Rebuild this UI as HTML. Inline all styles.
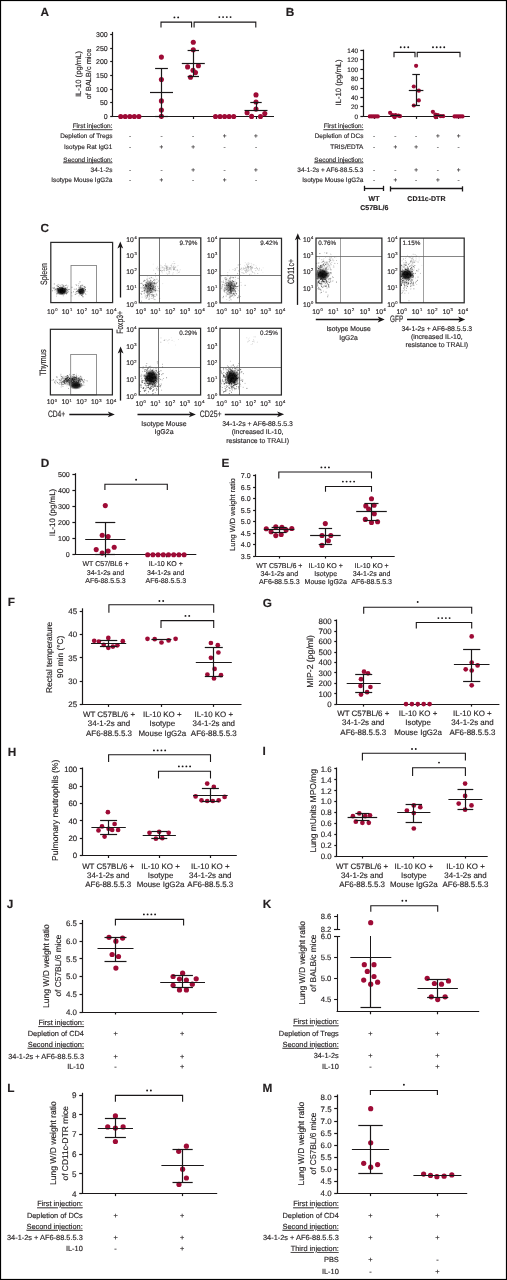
<!DOCTYPE html>
<html><head><meta charset="utf-8"><style>
html,body{margin:0;padding:0;background:#fff;}
body{width:507px;height:1280px;overflow:hidden;}
svg{display:block;font-family:"Liberation Sans", sans-serif;will-change:transform;text-rendering:geometricPrecision;}
svg text{fill:#231f20;stroke:#231f20;stroke-width:0.15px;}
</style></head><body>
<svg width="507" height="1280" viewBox="0 0 507 1280">
<rect x="0" y="0" width="507" height="1280" fill="#fff"/>
<text x="40.60" y="15.60" font-size="11.8" font-weight="bold">A</text>
<line x1="112.50" y1="31.90" x2="112.50" y2="116.50" stroke="#1a1718" stroke-width="1.2"/>
<line x1="110.20" y1="116.50" x2="112.60" y2="116.50" stroke="#1a1718" stroke-width="1.2"/>
<text x="107.70" y="119.01" font-size="7.0" text-anchor="end">0</text>
<line x1="110.20" y1="102.50" x2="112.60" y2="102.50" stroke="#1a1718" stroke-width="1.2"/>
<text x="107.70" y="105.32" font-size="7.0" text-anchor="end">50</text>
<line x1="110.20" y1="89.50" x2="112.60" y2="89.50" stroke="#1a1718" stroke-width="1.2"/>
<text x="107.70" y="91.64" font-size="7.0" text-anchor="end">100</text>
<line x1="110.20" y1="75.50" x2="112.60" y2="75.50" stroke="#1a1718" stroke-width="1.2"/>
<text x="107.70" y="77.96" font-size="7.0" text-anchor="end">150</text>
<line x1="110.20" y1="61.50" x2="112.60" y2="61.50" stroke="#1a1718" stroke-width="1.2"/>
<text x="107.70" y="64.27" font-size="7.0" text-anchor="end">200</text>
<line x1="110.20" y1="48.50" x2="112.60" y2="48.50" stroke="#1a1718" stroke-width="1.2"/>
<text x="107.70" y="50.59" font-size="7.0" text-anchor="end">250</text>
<line x1="110.20" y1="34.50" x2="112.60" y2="34.50" stroke="#1a1718" stroke-width="1.2"/>
<text x="107.70" y="36.91" font-size="7.0" text-anchor="end">300</text>
<line x1="112.10" y1="116.50" x2="274.00" y2="116.50" stroke="#1a1718" stroke-width="1.2"/>
<line x1="130.50" y1="116.50" x2="130.50" y2="119.00" stroke="#1a1718" stroke-width="1.2"/>
<line x1="161.50" y1="116.50" x2="161.50" y2="119.00" stroke="#1a1718" stroke-width="1.2"/>
<line x1="193.50" y1="116.50" x2="193.50" y2="119.00" stroke="#1a1718" stroke-width="1.2"/>
<line x1="224.50" y1="116.50" x2="224.50" y2="119.00" stroke="#1a1718" stroke-width="1.2"/>
<line x1="256.50" y1="116.50" x2="256.50" y2="119.00" stroke="#1a1718" stroke-width="1.2"/>
<text x="0" y="2.76" font-size="7.7" text-anchor="middle" transform="translate(78.70,74.00) rotate(-90)">IL-10 (pg/mL)</text>
<text x="0" y="2.65" font-size="7.4" text-anchor="middle" transform="translate(88.60,74.00) rotate(-90)">of BALB/c mice</text>
<circle cx="120.70" cy="116.50" r="2.55" fill="#9e0b36"/>
<circle cx="125.25" cy="116.50" r="2.55" fill="#9e0b36"/>
<circle cx="129.80" cy="116.50" r="2.55" fill="#9e0b36"/>
<circle cx="134.35" cy="116.50" r="2.55" fill="#9e0b36"/>
<circle cx="138.90" cy="116.50" r="2.55" fill="#9e0b36"/>
<circle cx="161.40" cy="57.10" r="2.55" fill="#9e0b36"/>
<circle cx="161.40" cy="79.60" r="2.55" fill="#9e0b36"/>
<circle cx="161.40" cy="100.90" r="2.55" fill="#9e0b36"/>
<circle cx="161.40" cy="110.00" r="2.55" fill="#9e0b36"/>
<circle cx="161.40" cy="116.20" r="2.55" fill="#9e0b36"/>
<circle cx="193.30" cy="42.20" r="2.55" fill="#9e0b36"/>
<circle cx="193.30" cy="49.70" r="2.55" fill="#9e0b36"/>
<circle cx="187.60" cy="66.90" r="2.55" fill="#9e0b36"/>
<circle cx="198.40" cy="65.70" r="2.55" fill="#9e0b36"/>
<circle cx="193.00" cy="70.20" r="2.55" fill="#9e0b36"/>
<circle cx="195.50" cy="72.60" r="2.55" fill="#9e0b36"/>
<circle cx="190.50" cy="77.20" r="2.55" fill="#9e0b36"/>
<circle cx="215.50" cy="116.50" r="2.55" fill="#9e0b36"/>
<circle cx="220.05" cy="116.50" r="2.55" fill="#9e0b36"/>
<circle cx="224.60" cy="116.50" r="2.55" fill="#9e0b36"/>
<circle cx="229.15" cy="116.50" r="2.55" fill="#9e0b36"/>
<circle cx="233.70" cy="116.50" r="2.55" fill="#9e0b36"/>
<circle cx="256.00" cy="94.90" r="2.55" fill="#9e0b36"/>
<circle cx="256.00" cy="102.00" r="2.55" fill="#9e0b36"/>
<circle cx="256.00" cy="109.10" r="2.55" fill="#9e0b36"/>
<circle cx="247.10" cy="112.80" r="2.55" fill="#9e0b36"/>
<circle cx="264.80" cy="113.60" r="2.55" fill="#9e0b36"/>
<circle cx="251.60" cy="116.40" r="2.55" fill="#9e0b36"/>
<circle cx="260.50" cy="116.50" r="2.55" fill="#9e0b36"/>
<polyline points="161.00,27.50 161.00,22.10 191.60,22.10 191.60,27.50" fill="none" stroke="#1a1718" stroke-width="1.1"/>
<circle cx="174.43" cy="17.40" r="0.95" fill="#1a1718"/>
<circle cx="178.18" cy="17.40" r="0.95" fill="#1a1718"/>
<polyline points="194.10,27.50 194.10,22.10 255.80,22.10 255.80,27.50" fill="none" stroke="#1a1718" stroke-width="1.1"/>
<circle cx="219.32" cy="17.10" r="0.95" fill="#1a1718"/>
<circle cx="223.07" cy="17.10" r="0.95" fill="#1a1718"/>
<circle cx="226.82" cy="17.10" r="0.95" fill="#1a1718"/>
<circle cx="230.57" cy="17.10" r="0.95" fill="#1a1718"/>
<text x="112.40" y="128.41" font-size="6.45" text-anchor="end" text-decoration="underline">First injection:</text>
<text x="112.40" y="138.31" font-size="6.45" text-anchor="end">Depletion of Tregs</text>
<text x="112.40" y="149.01" font-size="6.45" text-anchor="end">Isotype Rat IgG1</text>
<text x="112.40" y="161.51" font-size="6.45" text-anchor="end" text-decoration="underline">Second injection:</text>
<text x="112.40" y="171.51" font-size="6.45" text-anchor="end">34-1-2s</text>
<text x="112.40" y="182.11" font-size="6.45" text-anchor="end">Isotype Mouse IgG2a</text>
<text x="130.00" y="138.31" font-size="6.45" text-anchor="middle">-</text>
<text x="161.50" y="138.31" font-size="6.45" text-anchor="middle">-</text>
<text x="193.20" y="138.31" font-size="6.45" text-anchor="middle">-</text>
<text x="224.60" y="138.31" font-size="6.45" text-anchor="middle">+</text>
<text x="256.00" y="138.31" font-size="6.45" text-anchor="middle">+</text>
<text x="130.00" y="149.01" font-size="6.45" text-anchor="middle">-</text>
<text x="161.50" y="149.01" font-size="6.45" text-anchor="middle">+</text>
<text x="193.20" y="149.01" font-size="6.45" text-anchor="middle">+</text>
<text x="224.60" y="149.01" font-size="6.45" text-anchor="middle">-</text>
<text x="256.00" y="149.01" font-size="6.45" text-anchor="middle">-</text>
<text x="130.00" y="171.51" font-size="6.45" text-anchor="middle">-</text>
<text x="161.50" y="171.51" font-size="6.45" text-anchor="middle">-</text>
<text x="193.20" y="171.51" font-size="6.45" text-anchor="middle">+</text>
<text x="224.60" y="171.51" font-size="6.45" text-anchor="middle">-</text>
<text x="256.00" y="171.51" font-size="6.45" text-anchor="middle">+</text>
<text x="130.00" y="182.11" font-size="6.45" text-anchor="middle">-</text>
<text x="161.50" y="182.11" font-size="6.45" text-anchor="middle">+</text>
<text x="193.20" y="182.11" font-size="6.45" text-anchor="middle">-</text>
<text x="224.60" y="182.11" font-size="6.45" text-anchor="middle">+</text>
<text x="256.00" y="182.11" font-size="6.45" text-anchor="middle">-</text>
<text x="285.80" y="15.60" font-size="11.8" font-weight="bold">B</text>
<line x1="363.50" y1="49.60" x2="363.50" y2="116.40" stroke="#1a1718" stroke-width="1.2"/>
<line x1="360.40" y1="116.50" x2="363.20" y2="116.50" stroke="#1a1718" stroke-width="1.2"/>
<text x="358.00" y="118.69" font-size="6.4" text-anchor="end">0</text>
<line x1="360.40" y1="106.50" x2="363.20" y2="106.50" stroke="#1a1718" stroke-width="1.2"/>
<text x="358.00" y="109.26" font-size="6.4" text-anchor="end">20</text>
<line x1="360.40" y1="97.50" x2="363.20" y2="97.50" stroke="#1a1718" stroke-width="1.2"/>
<text x="358.00" y="99.83" font-size="6.4" text-anchor="end">40</text>
<line x1="360.40" y1="88.50" x2="363.20" y2="88.50" stroke="#1a1718" stroke-width="1.2"/>
<text x="358.00" y="90.41" font-size="6.4" text-anchor="end">60</text>
<line x1="360.40" y1="78.50" x2="363.20" y2="78.50" stroke="#1a1718" stroke-width="1.2"/>
<text x="358.00" y="80.98" font-size="6.4" text-anchor="end">80</text>
<line x1="360.40" y1="69.50" x2="363.20" y2="69.50" stroke="#1a1718" stroke-width="1.2"/>
<text x="358.00" y="71.55" font-size="6.4" text-anchor="end">100</text>
<line x1="360.40" y1="59.50" x2="363.20" y2="59.50" stroke="#1a1718" stroke-width="1.2"/>
<text x="358.00" y="62.12" font-size="6.4" text-anchor="end">120</text>
<line x1="360.40" y1="50.50" x2="363.20" y2="50.50" stroke="#1a1718" stroke-width="1.2"/>
<text x="358.00" y="52.69" font-size="6.4" text-anchor="end">140</text>
<line x1="362.70" y1="116.50" x2="469.90" y2="116.50" stroke="#1a1718" stroke-width="1.2"/>
<line x1="374.50" y1="116.40" x2="374.50" y2="118.90" stroke="#1a1718" stroke-width="1.2"/>
<line x1="395.50" y1="116.40" x2="395.50" y2="118.90" stroke="#1a1718" stroke-width="1.2"/>
<line x1="416.50" y1="116.40" x2="416.50" y2="118.90" stroke="#1a1718" stroke-width="1.2"/>
<line x1="437.50" y1="116.40" x2="437.50" y2="118.90" stroke="#1a1718" stroke-width="1.2"/>
<line x1="458.50" y1="116.40" x2="458.50" y2="118.90" stroke="#1a1718" stroke-width="1.2"/>
<text x="0" y="2.76" font-size="7.7" text-anchor="middle" transform="translate(338.70,82.40) rotate(-90)">IL-10 (pg/mL)</text>
<circle cx="369.80" cy="116.40" r="2.1" fill="#9e0b36"/>
<circle cx="371.80" cy="116.40" r="2.1" fill="#9e0b36"/>
<circle cx="373.80" cy="116.40" r="2.1" fill="#9e0b36"/>
<circle cx="375.80" cy="116.40" r="2.1" fill="#9e0b36"/>
<circle cx="377.80" cy="116.40" r="2.1" fill="#9e0b36"/>
<circle cx="390.10" cy="112.80" r="2.1" fill="#9e0b36"/>
<circle cx="392.60" cy="115.20" r="2.1" fill="#9e0b36"/>
<circle cx="395.50" cy="115.20" r="2.1" fill="#9e0b36"/>
<circle cx="398.50" cy="115.70" r="2.1" fill="#9e0b36"/>
<circle cx="394.50" cy="117.20" r="2.1" fill="#9e0b36"/>
<circle cx="400.00" cy="116.20" r="2.1" fill="#9e0b36"/>
<circle cx="416.10" cy="65.80" r="2.1" fill="#9e0b36"/>
<circle cx="413.80" cy="86.50" r="2.1" fill="#9e0b36"/>
<circle cx="418.80" cy="90.70" r="2.1" fill="#9e0b36"/>
<circle cx="418.80" cy="100.40" r="2.1" fill="#9e0b36"/>
<circle cx="413.80" cy="105.50" r="2.1" fill="#9e0b36"/>
<circle cx="432.90" cy="111.80" r="2.1" fill="#9e0b36"/>
<circle cx="435.40" cy="114.70" r="2.1" fill="#9e0b36"/>
<circle cx="437.80" cy="115.20" r="2.1" fill="#9e0b36"/>
<circle cx="440.80" cy="116.20" r="2.1" fill="#9e0b36"/>
<circle cx="443.20" cy="116.20" r="2.1" fill="#9e0b36"/>
<circle cx="435.80" cy="117.20" r="2.1" fill="#9e0b36"/>
<circle cx="454.50" cy="116.40" r="2.1" fill="#9e0b36"/>
<circle cx="456.50" cy="116.40" r="2.1" fill="#9e0b36"/>
<circle cx="458.50" cy="116.40" r="2.1" fill="#9e0b36"/>
<circle cx="460.50" cy="116.40" r="2.1" fill="#9e0b36"/>
<circle cx="462.50" cy="116.40" r="2.1" fill="#9e0b36"/>
<polyline points="394.00,57.20 394.00,52.40 415.00,52.40 415.00,57.20" fill="none" stroke="#1a1718" stroke-width="1.1"/>
<circle cx="400.75" cy="47.30" r="0.95" fill="#1a1718"/>
<circle cx="404.50" cy="47.30" r="0.95" fill="#1a1718"/>
<circle cx="408.25" cy="47.30" r="0.95" fill="#1a1718"/>
<polyline points="417.20,57.20 417.20,52.40 460.00,52.40 460.00,57.20" fill="none" stroke="#1a1718" stroke-width="1.1"/>
<circle cx="432.98" cy="47.30" r="0.95" fill="#1a1718"/>
<circle cx="436.73" cy="47.30" r="0.95" fill="#1a1718"/>
<circle cx="440.48" cy="47.30" r="0.95" fill="#1a1718"/>
<circle cx="444.23" cy="47.30" r="0.95" fill="#1a1718"/>
<text x="363.40" y="128.41" font-size="6.45" text-anchor="end" text-decoration="underline">First injection:</text>
<text x="363.40" y="138.31" font-size="6.45" text-anchor="end">Depletion of DCs</text>
<text x="363.40" y="149.01" font-size="6.45" text-anchor="end">TRIS/EDTA</text>
<text x="363.40" y="161.51" font-size="6.45" text-anchor="end" text-decoration="underline">Second injection:</text>
<text x="363.40" y="171.51" font-size="6.45" text-anchor="end">34-1-2s + AF6-88.5.5.3</text>
<text x="363.40" y="182.11" font-size="6.45" text-anchor="end">Isotype Mouse IgG2a</text>
<text x="374.00" y="138.31" font-size="6.45" text-anchor="middle">-</text>
<text x="395.30" y="138.31" font-size="6.45" text-anchor="middle">-</text>
<text x="416.10" y="138.31" font-size="6.45" text-anchor="middle">-</text>
<text x="437.80" y="138.31" font-size="6.45" text-anchor="middle">+</text>
<text x="458.70" y="138.31" font-size="6.45" text-anchor="middle">+</text>
<text x="374.00" y="149.01" font-size="6.45" text-anchor="middle">-</text>
<text x="395.30" y="149.01" font-size="6.45" text-anchor="middle">+</text>
<text x="416.10" y="149.01" font-size="6.45" text-anchor="middle">+</text>
<text x="437.80" y="149.01" font-size="6.45" text-anchor="middle">-</text>
<text x="458.70" y="149.01" font-size="6.45" text-anchor="middle">-</text>
<text x="374.00" y="171.51" font-size="6.45" text-anchor="middle">-</text>
<text x="395.30" y="171.51" font-size="6.45" text-anchor="middle">-</text>
<text x="416.10" y="171.51" font-size="6.45" text-anchor="middle">+</text>
<text x="437.80" y="171.51" font-size="6.45" text-anchor="middle">-</text>
<text x="458.70" y="171.51" font-size="6.45" text-anchor="middle">+</text>
<text x="374.00" y="182.11" font-size="6.45" text-anchor="middle">-</text>
<text x="395.30" y="182.11" font-size="6.45" text-anchor="middle">+</text>
<text x="416.10" y="182.11" font-size="6.45" text-anchor="middle">-</text>
<text x="437.80" y="182.11" font-size="6.45" text-anchor="middle">+</text>
<text x="458.70" y="182.11" font-size="6.45" text-anchor="middle">-</text>
<line x1="364.40" y1="188.50" x2="383.30" y2="188.50" stroke="#1a1718" stroke-width="1.3"/>
<line x1="364.50" y1="185.80" x2="364.50" y2="191.00" stroke="#1a1718" stroke-width="1.3"/>
<line x1="383.50" y1="185.80" x2="383.50" y2="191.00" stroke="#1a1718" stroke-width="1.3"/>
<line x1="390.60" y1="188.50" x2="462.20" y2="188.50" stroke="#1a1718" stroke-width="1.3"/>
<line x1="390.50" y1="186.30" x2="390.50" y2="191.50" stroke="#1a1718" stroke-width="1.3"/>
<line x1="462.50" y1="186.30" x2="462.50" y2="191.50" stroke="#1a1718" stroke-width="1.3"/>
<text x="374.00" y="201.31" font-size="7.0" text-anchor="middle" font-weight="bold">WT</text>
<text x="374.30" y="209.71" font-size="7.0" text-anchor="middle" font-weight="bold">C57BL/6</text>
<text x="426.40" y="201.11" font-size="7.0" text-anchor="middle" font-weight="bold">CD11c-DTR</text>
<text x="40.60" y="232.30" font-size="11.8" font-weight="bold">C</text>
<defs><radialGradient id="g184"><stop offset="0" stop-color="#000" stop-opacity="0.97"/><stop offset="0.55" stop-color="#000" stop-opacity="0.8245"/><stop offset="1" stop-color="#000" stop-opacity="0"/></radialGradient></defs>
<ellipse cx="61.80" cy="291.00" rx="6.20" ry="4.60" fill="url(#g184)"/>
<defs><radialGradient id="g186"><stop offset="0" stop-color="#000" stop-opacity="0.9"/><stop offset="0.55" stop-color="#000" stop-opacity="0.765"/><stop offset="1" stop-color="#000" stop-opacity="0"/></radialGradient></defs>
<ellipse cx="81.40" cy="291.30" rx="4.30" ry="4.20" fill="url(#g186)"/>
<rect x="60.08" y="290.78" width="0.9" height="0.9" fill="#000" fill-opacity="0.46"/><rect x="65.28" y="290.86" width="0.9" height="0.9" fill="#000" fill-opacity="0.35"/><rect x="65.28" y="290.57" width="0.9" height="0.9" fill="#000" fill-opacity="0.21"/><rect x="59.73" y="289.92" width="0.9" height="0.9" fill="#000" fill-opacity="0.24"/><rect x="54.72" y="291.60" width="0.9" height="0.9" fill="#000" fill-opacity="0.25"/><rect x="61.94" y="292.87" width="0.9" height="0.9" fill="#000" fill-opacity="0.58"/><rect x="57.67" y="288.43" width="0.9" height="0.9" fill="#000" fill-opacity="0.59"/><rect x="68.24" y="290.92" width="0.9" height="0.9" fill="#000" fill-opacity="0.32"/><rect x="62.22" y="290.50" width="0.9" height="0.9" fill="#000" fill-opacity="0.32"/><rect x="62.02" y="288.16" width="0.9" height="0.9" fill="#000" fill-opacity="0.43"/><rect x="58.69" y="287.78" width="0.9" height="0.9" fill="#000" fill-opacity="0.42"/><rect x="62.28" y="289.87" width="0.9" height="0.9" fill="#000" fill-opacity="0.28"/><rect x="59.35" y="287.25" width="0.9" height="0.9" fill="#000" fill-opacity="0.33"/><rect x="57.46" y="288.20" width="0.9" height="0.9" fill="#000" fill-opacity="0.32"/><rect x="62.67" y="285.97" width="0.9" height="0.9" fill="#000" fill-opacity="0.30"/><rect x="56.91" y="288.23" width="0.9" height="0.9" fill="#000" fill-opacity="0.55"/><rect x="60.65" y="287.59" width="0.9" height="0.9" fill="#000" fill-opacity="0.59"/><rect x="63.97" y="291.24" width="0.9" height="0.9" fill="#000" fill-opacity="0.50"/><rect x="63.59" y="291.82" width="0.9" height="0.9" fill="#000" fill-opacity="0.22"/><rect x="57.87" y="286.00" width="0.9" height="0.9" fill="#000" fill-opacity="0.43"/><rect x="63.39" y="288.08" width="0.9" height="0.9" fill="#000" fill-opacity="0.48"/><rect x="56.90" y="287.78" width="0.9" height="0.9" fill="#000" fill-opacity="0.38"/><rect x="65.95" y="284.67" width="0.9" height="0.9" fill="#000" fill-opacity="0.39"/><rect x="60.36" y="288.82" width="0.9" height="0.9" fill="#000" fill-opacity="0.48"/><rect x="53.83" y="283.51" width="0.9" height="0.9" fill="#000" fill-opacity="0.53"/><rect x="60.24" y="291.86" width="0.9" height="0.9" fill="#000" fill-opacity="0.47"/><rect x="65.24" y="289.93" width="0.9" height="0.9" fill="#000" fill-opacity="0.27"/><rect x="62.03" y="290.11" width="0.9" height="0.9" fill="#000" fill-opacity="0.51"/><rect x="63.02" y="290.86" width="0.9" height="0.9" fill="#000" fill-opacity="0.36"/><rect x="62.13" y="288.84" width="0.9" height="0.9" fill="#000" fill-opacity="0.38"/><rect x="53.55" y="288.03" width="0.9" height="0.9" fill="#000" fill-opacity="0.53"/><rect x="63.07" y="288.09" width="0.9" height="0.9" fill="#000" fill-opacity="0.37"/><rect x="56.07" y="293.41" width="0.9" height="0.9" fill="#000" fill-opacity="0.58"/><rect x="62.43" y="290.76" width="0.9" height="0.9" fill="#000" fill-opacity="0.29"/><rect x="61.51" y="292.30" width="0.9" height="0.9" fill="#000" fill-opacity="0.44"/><rect x="61.02" y="289.77" width="0.9" height="0.9" fill="#000" fill-opacity="0.37"/><rect x="57.70" y="291.82" width="0.9" height="0.9" fill="#000" fill-opacity="0.58"/><rect x="59.38" y="286.86" width="0.9" height="0.9" fill="#000" fill-opacity="0.45"/><rect x="60.48" y="288.83" width="0.9" height="0.9" fill="#000" fill-opacity="0.56"/><rect x="62.50" y="284.75" width="0.9" height="0.9" fill="#000" fill-opacity="0.52"/><rect x="58.06" y="291.07" width="0.9" height="0.9" fill="#000" fill-opacity="0.24"/><rect x="60.14" y="288.91" width="0.9" height="0.9" fill="#000" fill-opacity="0.23"/><rect x="61.63" y="290.93" width="0.9" height="0.9" fill="#000" fill-opacity="0.34"/><rect x="61.13" y="289.57" width="0.9" height="0.9" fill="#000" fill-opacity="0.26"/><rect x="63.95" y="290.91" width="0.9" height="0.9" fill="#000" fill-opacity="0.21"/><rect x="64.74" y="287.20" width="0.9" height="0.9" fill="#000" fill-opacity="0.26"/><rect x="61.00" y="291.77" width="0.9" height="0.9" fill="#000" fill-opacity="0.35"/><rect x="66.34" y="292.80" width="0.9" height="0.9" fill="#000" fill-opacity="0.60"/><rect x="56.78" y="290.14" width="0.9" height="0.9" fill="#000" fill-opacity="0.23"/><rect x="63.84" y="290.87" width="0.9" height="0.9" fill="#000" fill-opacity="0.31"/><rect x="62.12" y="288.30" width="0.9" height="0.9" fill="#000" fill-opacity="0.21"/><rect x="65.49" y="288.66" width="0.9" height="0.9" fill="#000" fill-opacity="0.26"/><rect x="60.19" y="289.40" width="0.9" height="0.9" fill="#000" fill-opacity="0.41"/><rect x="68.56" y="288.91" width="0.9" height="0.9" fill="#000" fill-opacity="0.48"/><rect x="60.80" y="291.84" width="0.9" height="0.9" fill="#000" fill-opacity="0.27"/><rect x="61.69" y="286.62" width="0.9" height="0.9" fill="#000" fill-opacity="0.51"/><rect x="59.75" y="291.05" width="0.9" height="0.9" fill="#000" fill-opacity="0.52"/><rect x="68.45" y="289.11" width="0.9" height="0.9" fill="#000" fill-opacity="0.52"/><rect x="63.65" y="285.97" width="0.9" height="0.9" fill="#000" fill-opacity="0.29"/><rect x="57.51" y="289.30" width="0.9" height="0.9" fill="#000" fill-opacity="0.21"/><rect x="64.08" y="289.89" width="0.9" height="0.9" fill="#000" fill-opacity="0.30"/><rect x="57.69" y="283.93" width="0.9" height="0.9" fill="#000" fill-opacity="0.38"/><rect x="71.48" y="286.80" width="0.9" height="0.9" fill="#000" fill-opacity="0.58"/><rect x="59.28" y="290.82" width="0.9" height="0.9" fill="#000" fill-opacity="0.29"/><rect x="61.89" y="291.08" width="0.9" height="0.9" fill="#000" fill-opacity="0.45"/><rect x="66.95" y="286.85" width="0.9" height="0.9" fill="#000" fill-opacity="0.39"/><rect x="57.15" y="286.02" width="0.9" height="0.9" fill="#000" fill-opacity="0.23"/><rect x="56.61" y="285.10" width="0.9" height="0.9" fill="#000" fill-opacity="0.51"/><rect x="61.05" y="286.81" width="0.9" height="0.9" fill="#000" fill-opacity="0.27"/><rect x="61.88" y="287.46" width="0.9" height="0.9" fill="#000" fill-opacity="0.52"/><rect x="64.80" y="289.12" width="0.9" height="0.9" fill="#000" fill-opacity="0.36"/><rect x="66.82" y="288.29" width="0.9" height="0.9" fill="#000" fill-opacity="0.27"/><rect x="62.57" y="290.53" width="0.9" height="0.9" fill="#000" fill-opacity="0.56"/><rect x="61.79" y="288.28" width="0.9" height="0.9" fill="#000" fill-opacity="0.53"/><rect x="66.57" y="289.12" width="0.9" height="0.9" fill="#000" fill-opacity="0.34"/><rect x="59.13" y="289.17" width="0.9" height="0.9" fill="#000" fill-opacity="0.21"/><rect x="66.46" y="288.92" width="0.9" height="0.9" fill="#000" fill-opacity="0.41"/><rect x="64.76" y="288.51" width="0.9" height="0.9" fill="#000" fill-opacity="0.55"/><rect x="62.25" y="288.08" width="0.9" height="0.9" fill="#000" fill-opacity="0.30"/><rect x="60.30" y="291.27" width="0.9" height="0.9" fill="#000" fill-opacity="0.43"/><rect x="60.82" y="292.05" width="0.9" height="0.9" fill="#000" fill-opacity="0.25"/><rect x="64.05" y="288.35" width="0.9" height="0.9" fill="#000" fill-opacity="0.38"/><rect x="53.92" y="286.95" width="0.9" height="0.9" fill="#000" fill-opacity="0.37"/><rect x="64.95" y="288.15" width="0.9" height="0.9" fill="#000" fill-opacity="0.41"/><rect x="60.32" y="289.48" width="0.9" height="0.9" fill="#000" fill-opacity="0.38"/><rect x="61.19" y="289.74" width="0.9" height="0.9" fill="#000" fill-opacity="0.52"/><rect x="63.07" y="291.95" width="0.9" height="0.9" fill="#000" fill-opacity="0.49"/><rect x="57.88" y="288.81" width="0.9" height="0.9" fill="#000" fill-opacity="0.41"/><rect x="54.79" y="288.12" width="0.9" height="0.9" fill="#000" fill-opacity="0.24"/><rect x="58.38" y="288.88" width="0.9" height="0.9" fill="#000" fill-opacity="0.31"/><rect x="61.68" y="286.72" width="0.9" height="0.9" fill="#000" fill-opacity="0.42"/><rect x="61.58" y="284.26" width="0.9" height="0.9" fill="#000" fill-opacity="0.38"/><rect x="57.62" y="287.70" width="0.9" height="0.9" fill="#000" fill-opacity="0.40"/><rect x="59.58" y="287.08" width="0.9" height="0.9" fill="#000" fill-opacity="0.41"/><rect x="52.08" y="290.34" width="0.9" height="0.9" fill="#000" fill-opacity="0.48"/><rect x="67.53" y="285.54" width="0.9" height="0.9" fill="#000" fill-opacity="0.30"/><rect x="52.58" y="287.45" width="0.9" height="0.9" fill="#000" fill-opacity="0.54"/><rect x="62.31" y="290.48" width="0.9" height="0.9" fill="#000" fill-opacity="0.38"/><rect x="63.58" y="290.33" width="0.9" height="0.9" fill="#000" fill-opacity="0.23"/><rect x="57.83" y="285.88" width="0.9" height="0.9" fill="#000" fill-opacity="0.56"/><rect x="64.46" y="292.69" width="0.9" height="0.9" fill="#000" fill-opacity="0.46"/><rect x="65.95" y="293.44" width="0.9" height="0.9" fill="#000" fill-opacity="0.59"/><rect x="62.83" y="295.37" width="0.9" height="0.9" fill="#000" fill-opacity="0.36"/><rect x="62.17" y="288.31" width="0.9" height="0.9" fill="#000" fill-opacity="0.37"/><rect x="57.61" y="289.34" width="0.9" height="0.9" fill="#000" fill-opacity="0.28"/><rect x="58.51" y="293.04" width="0.9" height="0.9" fill="#000" fill-opacity="0.21"/><rect x="57.19" y="288.69" width="0.9" height="0.9" fill="#000" fill-opacity="0.21"/><rect x="58.45" y="292.48" width="0.9" height="0.9" fill="#000" fill-opacity="0.40"/><rect x="71.18" y="292.29" width="0.9" height="0.9" fill="#000" fill-opacity="0.52"/><rect x="62.81" y="289.35" width="0.9" height="0.9" fill="#000" fill-opacity="0.31"/><rect x="67.45" y="290.58" width="0.9" height="0.9" fill="#000" fill-opacity="0.31"/><rect x="63.78" y="291.38" width="0.9" height="0.9" fill="#000" fill-opacity="0.56"/><rect x="62.28" y="287.87" width="0.9" height="0.9" fill="#000" fill-opacity="0.26"/><rect x="65.37" y="288.03" width="0.9" height="0.9" fill="#000" fill-opacity="0.48"/><rect x="62.16" y="289.99" width="0.9" height="0.9" fill="#000" fill-opacity="0.48"/><rect x="59.74" y="289.97" width="0.9" height="0.9" fill="#000" fill-opacity="0.58"/><rect x="56.51" y="286.32" width="0.9" height="0.9" fill="#000" fill-opacity="0.23"/><rect x="61.92" y="288.85" width="0.9" height="0.9" fill="#000" fill-opacity="0.55"/><rect x="57.74" y="290.18" width="0.9" height="0.9" fill="#000" fill-opacity="0.42"/><rect x="63.74" y="288.71" width="0.9" height="0.9" fill="#000" fill-opacity="0.25"/><rect x="58.29" y="289.25" width="0.9" height="0.9" fill="#000" fill-opacity="0.24"/><rect x="61.70" y="290.21" width="0.9" height="0.9" fill="#000" fill-opacity="0.28"/><rect x="59.82" y="291.44" width="0.9" height="0.9" fill="#000" fill-opacity="0.50"/><rect x="59.94" y="292.29" width="0.9" height="0.9" fill="#000" fill-opacity="0.27"/><rect x="60.63" y="289.93" width="0.9" height="0.9" fill="#000" fill-opacity="0.30"/><rect x="67.20" y="289.93" width="0.9" height="0.9" fill="#000" fill-opacity="0.42"/><rect x="62.65" y="292.08" width="0.9" height="0.9" fill="#000" fill-opacity="0.57"/><rect x="66.57" y="292.30" width="0.9" height="0.9" fill="#000" fill-opacity="0.37"/><rect x="53.84" y="289.69" width="0.9" height="0.9" fill="#000" fill-opacity="0.36"/><rect x="55.26" y="289.40" width="0.9" height="0.9" fill="#000" fill-opacity="0.59"/><rect x="57.10" y="293.34" width="0.9" height="0.9" fill="#000" fill-opacity="0.48"/><rect x="58.51" y="287.71" width="0.9" height="0.9" fill="#000" fill-opacity="0.34"/><rect x="62.94" y="289.97" width="0.9" height="0.9" fill="#000" fill-opacity="0.23"/><rect x="60.88" y="287.71" width="0.9" height="0.9" fill="#000" fill-opacity="0.27"/><rect x="67.34" y="291.88" width="0.9" height="0.9" fill="#000" fill-opacity="0.55"/><rect x="59.57" y="287.84" width="0.9" height="0.9" fill="#000" fill-opacity="0.30"/><rect x="59.92" y="292.12" width="0.9" height="0.9" fill="#000" fill-opacity="0.26"/><rect x="58.25" y="290.18" width="0.9" height="0.9" fill="#000" fill-opacity="0.58"/><rect x="65.76" y="289.03" width="0.9" height="0.9" fill="#000" fill-opacity="0.30"/><rect x="64.24" y="289.11" width="0.9" height="0.9" fill="#000" fill-opacity="0.34"/><rect x="64.78" y="289.57" width="0.9" height="0.9" fill="#000" fill-opacity="0.39"/><rect x="58.50" y="289.52" width="0.9" height="0.9" fill="#000" fill-opacity="0.40"/><rect x="64.02" y="289.61" width="0.9" height="0.9" fill="#000" fill-opacity="0.24"/><rect x="60.16" y="289.96" width="0.9" height="0.9" fill="#000" fill-opacity="0.21"/><rect x="60.13" y="291.20" width="0.9" height="0.9" fill="#000" fill-opacity="0.43"/><rect x="54.82" y="288.82" width="0.9" height="0.9" fill="#000" fill-opacity="0.46"/><rect x="59.39" y="284.73" width="0.9" height="0.9" fill="#000" fill-opacity="0.36"/><rect x="55.99" y="295.71" width="0.9" height="0.9" fill="#000" fill-opacity="0.26"/><rect x="60.17" y="286.15" width="0.9" height="0.9" fill="#000" fill-opacity="0.22"/><rect x="65.14" y="285.20" width="0.9" height="0.9" fill="#000" fill-opacity="0.45"/><rect x="60.35" y="285.18" width="0.9" height="0.9" fill="#000" fill-opacity="0.26"/><rect x="56.60" y="289.13" width="0.9" height="0.9" fill="#000" fill-opacity="0.53"/><rect x="63.45" y="285.32" width="0.9" height="0.9" fill="#000" fill-opacity="0.43"/><rect x="65.55" y="287.28" width="0.9" height="0.9" fill="#000" fill-opacity="0.48"/><rect x="61.17" y="290.15" width="0.9" height="0.9" fill="#000" fill-opacity="0.25"/><rect x="59.90" y="290.42" width="0.9" height="0.9" fill="#000" fill-opacity="0.53"/><rect x="56.06" y="288.34" width="0.9" height="0.9" fill="#000" fill-opacity="0.45"/><rect x="59.19" y="287.03" width="0.9" height="0.9" fill="#000" fill-opacity="0.20"/><rect x="62.91" y="285.74" width="0.9" height="0.9" fill="#000" fill-opacity="0.40"/>
<rect x="75.75" y="288.15" width="0.9" height="0.9" fill="#000" fill-opacity="0.17"/><rect x="79.86" y="286.92" width="0.9" height="0.9" fill="#000" fill-opacity="0.18"/><rect x="79.58" y="293.56" width="0.9" height="0.9" fill="#000" fill-opacity="0.22"/><rect x="79.53" y="281.43" width="0.9" height="0.9" fill="#000" fill-opacity="0.32"/><rect x="77.52" y="291.20" width="0.9" height="0.9" fill="#000" fill-opacity="0.39"/><rect x="80.49" y="285.19" width="0.9" height="0.9" fill="#000" fill-opacity="0.37"/><rect x="81.55" y="289.79" width="0.9" height="0.9" fill="#000" fill-opacity="0.24"/><rect x="79.94" y="286.67" width="0.9" height="0.9" fill="#000" fill-opacity="0.35"/><rect x="81.11" y="289.13" width="0.9" height="0.9" fill="#000" fill-opacity="0.24"/><rect x="77.88" y="285.26" width="0.9" height="0.9" fill="#000" fill-opacity="0.39"/><rect x="79.13" y="292.32" width="0.9" height="0.9" fill="#000" fill-opacity="0.31"/><rect x="78.58" y="289.35" width="0.9" height="0.9" fill="#000" fill-opacity="0.46"/><rect x="82.65" y="296.40" width="0.9" height="0.9" fill="#000" fill-opacity="0.48"/><rect x="83.36" y="289.39" width="0.9" height="0.9" fill="#000" fill-opacity="0.44"/><rect x="83.26" y="288.44" width="0.9" height="0.9" fill="#000" fill-opacity="0.24"/><rect x="81.86" y="295.59" width="0.9" height="0.9" fill="#000" fill-opacity="0.22"/><rect x="78.60" y="288.29" width="0.9" height="0.9" fill="#000" fill-opacity="0.33"/><rect x="81.58" y="288.61" width="0.9" height="0.9" fill="#000" fill-opacity="0.44"/><rect x="73.80" y="288.73" width="0.9" height="0.9" fill="#000" fill-opacity="0.40"/><rect x="80.80" y="294.99" width="0.9" height="0.9" fill="#000" fill-opacity="0.32"/><rect x="80.30" y="289.09" width="0.9" height="0.9" fill="#000" fill-opacity="0.32"/><rect x="77.63" y="289.77" width="0.9" height="0.9" fill="#000" fill-opacity="0.20"/><rect x="78.59" y="291.08" width="0.9" height="0.9" fill="#000" fill-opacity="0.44"/><rect x="85.05" y="289.10" width="0.9" height="0.9" fill="#000" fill-opacity="0.44"/><rect x="85.04" y="293.43" width="0.9" height="0.9" fill="#000" fill-opacity="0.40"/><rect x="82.07" y="287.71" width="0.9" height="0.9" fill="#000" fill-opacity="0.28"/><rect x="71.45" y="295.45" width="0.9" height="0.9" fill="#000" fill-opacity="0.36"/><rect x="78.02" y="291.32" width="0.9" height="0.9" fill="#000" fill-opacity="0.25"/><rect x="81.38" y="289.44" width="0.9" height="0.9" fill="#000" fill-opacity="0.44"/><rect x="78.49" y="295.44" width="0.9" height="0.9" fill="#000" fill-opacity="0.24"/><rect x="79.70" y="292.38" width="0.9" height="0.9" fill="#000" fill-opacity="0.22"/><rect x="74.80" y="294.05" width="0.9" height="0.9" fill="#000" fill-opacity="0.46"/><rect x="81.66" y="285.39" width="0.9" height="0.9" fill="#000" fill-opacity="0.47"/><rect x="83.58" y="287.76" width="0.9" height="0.9" fill="#000" fill-opacity="0.40"/><rect x="84.69" y="290.44" width="0.9" height="0.9" fill="#000" fill-opacity="0.31"/><rect x="80.12" y="285.02" width="0.9" height="0.9" fill="#000" fill-opacity="0.25"/><rect x="86.59" y="290.99" width="0.9" height="0.9" fill="#000" fill-opacity="0.19"/><rect x="77.34" y="289.50" width="0.9" height="0.9" fill="#000" fill-opacity="0.25"/><rect x="79.48" y="281.41" width="0.9" height="0.9" fill="#000" fill-opacity="0.24"/><rect x="78.64" y="287.08" width="0.9" height="0.9" fill="#000" fill-opacity="0.35"/><rect x="78.62" y="290.09" width="0.9" height="0.9" fill="#000" fill-opacity="0.21"/><rect x="81.76" y="294.93" width="0.9" height="0.9" fill="#000" fill-opacity="0.32"/><rect x="81.27" y="295.03" width="0.9" height="0.9" fill="#000" fill-opacity="0.50"/><rect x="78.49" y="289.52" width="0.9" height="0.9" fill="#000" fill-opacity="0.22"/><rect x="82.36" y="290.43" width="0.9" height="0.9" fill="#000" fill-opacity="0.18"/><rect x="80.21" y="291.21" width="0.9" height="0.9" fill="#000" fill-opacity="0.35"/><rect x="83.84" y="286.02" width="0.9" height="0.9" fill="#000" fill-opacity="0.29"/><rect x="76.92" y="290.81" width="0.9" height="0.9" fill="#000" fill-opacity="0.28"/><rect x="79.48" y="289.90" width="0.9" height="0.9" fill="#000" fill-opacity="0.25"/><rect x="81.57" y="288.76" width="0.9" height="0.9" fill="#000" fill-opacity="0.33"/><rect x="75.95" y="284.99" width="0.9" height="0.9" fill="#000" fill-opacity="0.23"/><rect x="79.75" y="291.15" width="0.9" height="0.9" fill="#000" fill-opacity="0.29"/><rect x="73.03" y="291.37" width="0.9" height="0.9" fill="#000" fill-opacity="0.45"/><rect x="80.49" y="288.63" width="0.9" height="0.9" fill="#000" fill-opacity="0.16"/><rect x="78.44" y="283.29" width="0.9" height="0.9" fill="#000" fill-opacity="0.32"/><rect x="80.00" y="289.02" width="0.9" height="0.9" fill="#000" fill-opacity="0.29"/><rect x="85.07" y="286.73" width="0.9" height="0.9" fill="#000" fill-opacity="0.45"/><rect x="82.28" y="288.68" width="0.9" height="0.9" fill="#000" fill-opacity="0.19"/><rect x="82.11" y="291.86" width="0.9" height="0.9" fill="#000" fill-opacity="0.39"/><rect x="84.53" y="287.44" width="0.9" height="0.9" fill="#000" fill-opacity="0.38"/><rect x="80.36" y="285.97" width="0.9" height="0.9" fill="#000" fill-opacity="0.34"/><rect x="85.13" y="290.25" width="0.9" height="0.9" fill="#000" fill-opacity="0.23"/><rect x="83.84" y="287.11" width="0.9" height="0.9" fill="#000" fill-opacity="0.26"/><rect x="81.64" y="290.59" width="0.9" height="0.9" fill="#000" fill-opacity="0.37"/><rect x="79.59" y="287.76" width="0.9" height="0.9" fill="#000" fill-opacity="0.17"/><rect x="76.13" y="288.48" width="0.9" height="0.9" fill="#000" fill-opacity="0.29"/><rect x="80.72" y="292.79" width="0.9" height="0.9" fill="#000" fill-opacity="0.15"/><rect x="78.99" y="292.00" width="0.9" height="0.9" fill="#000" fill-opacity="0.49"/><rect x="76.22" y="284.47" width="0.9" height="0.9" fill="#000" fill-opacity="0.32"/><rect x="80.27" y="291.15" width="0.9" height="0.9" fill="#000" fill-opacity="0.49"/><rect x="79.33" y="286.75" width="0.9" height="0.9" fill="#000" fill-opacity="0.16"/><rect x="75.56" y="289.09" width="0.9" height="0.9" fill="#000" fill-opacity="0.30"/><rect x="79.85" y="293.20" width="0.9" height="0.9" fill="#000" fill-opacity="0.47"/><rect x="80.16" y="289.78" width="0.9" height="0.9" fill="#000" fill-opacity="0.27"/><rect x="76.06" y="291.08" width="0.9" height="0.9" fill="#000" fill-opacity="0.22"/><rect x="81.48" y="284.66" width="0.9" height="0.9" fill="#000" fill-opacity="0.33"/><rect x="82.25" y="296.17" width="0.9" height="0.9" fill="#000" fill-opacity="0.26"/><rect x="80.98" y="287.21" width="0.9" height="0.9" fill="#000" fill-opacity="0.23"/><rect x="80.21" y="286.71" width="0.9" height="0.9" fill="#000" fill-opacity="0.48"/><rect x="78.12" y="289.10" width="0.9" height="0.9" fill="#000" fill-opacity="0.23"/><rect x="76.20" y="291.11" width="0.9" height="0.9" fill="#000" fill-opacity="0.48"/><rect x="81.87" y="291.28" width="0.9" height="0.9" fill="#000" fill-opacity="0.22"/><rect x="81.69" y="288.80" width="0.9" height="0.9" fill="#000" fill-opacity="0.17"/><rect x="82.84" y="290.08" width="0.9" height="0.9" fill="#000" fill-opacity="0.46"/><rect x="83.68" y="286.01" width="0.9" height="0.9" fill="#000" fill-opacity="0.50"/><rect x="82.49" y="288.01" width="0.9" height="0.9" fill="#000" fill-opacity="0.21"/><rect x="84.62" y="287.23" width="0.9" height="0.9" fill="#000" fill-opacity="0.16"/><rect x="78.55" y="286.70" width="0.9" height="0.9" fill="#000" fill-opacity="0.28"/><rect x="79.15" y="290.54" width="0.9" height="0.9" fill="#000" fill-opacity="0.15"/><rect x="79.53" y="291.61" width="0.9" height="0.9" fill="#000" fill-opacity="0.48"/><rect x="85.57" y="294.12" width="0.9" height="0.9" fill="#000" fill-opacity="0.22"/><rect x="76.59" y="293.12" width="0.9" height="0.9" fill="#000" fill-opacity="0.44"/><rect x="79.18" y="289.42" width="0.9" height="0.9" fill="#000" fill-opacity="0.32"/><rect x="75.36" y="293.56" width="0.9" height="0.9" fill="#000" fill-opacity="0.22"/><rect x="75.84" y="293.55" width="0.9" height="0.9" fill="#000" fill-opacity="0.16"/><rect x="75.41" y="291.77" width="0.9" height="0.9" fill="#000" fill-opacity="0.42"/><rect x="80.82" y="289.24" width="0.9" height="0.9" fill="#000" fill-opacity="0.17"/><rect x="82.08" y="288.01" width="0.9" height="0.9" fill="#000" fill-opacity="0.41"/><rect x="82.24" y="287.53" width="0.9" height="0.9" fill="#000" fill-opacity="0.25"/><rect x="84.06" y="288.03" width="0.9" height="0.9" fill="#000" fill-opacity="0.24"/><rect x="79.51" y="286.66" width="0.9" height="0.9" fill="#000" fill-opacity="0.25"/><rect x="85.08" y="289.16" width="0.9" height="0.9" fill="#000" fill-opacity="0.47"/><rect x="75.26" y="284.05" width="0.9" height="0.9" fill="#000" fill-opacity="0.16"/><rect x="80.39" y="292.21" width="0.9" height="0.9" fill="#000" fill-opacity="0.48"/><rect x="82.89" y="288.26" width="0.9" height="0.9" fill="#000" fill-opacity="0.24"/><rect x="76.88" y="290.44" width="0.9" height="0.9" fill="#000" fill-opacity="0.47"/><rect x="82.26" y="293.65" width="0.9" height="0.9" fill="#000" fill-opacity="0.41"/><rect x="82.33" y="284.72" width="0.9" height="0.9" fill="#000" fill-opacity="0.36"/><rect x="78.81" y="291.22" width="0.9" height="0.9" fill="#000" fill-opacity="0.28"/><rect x="80.29" y="287.94" width="0.9" height="0.9" fill="#000" fill-opacity="0.22"/>
<rect x="71.00" y="265.50" width="25.50" height="37.10" fill="none" stroke="#777" stroke-width="0.8"/>
<rect x="50.80" y="242.40" width="61.80" height="60.20" fill="none" stroke="#2a2a2a" stroke-width="1.25"/>
<text x="52.30" y="314.03" font-size="6.8" text-anchor="middle">10<tspan font-size="4.08" dx="0.54" dy="-2.86">0</tspan></text>
<text x="67.05" y="314.03" font-size="6.8" text-anchor="middle">10<tspan font-size="4.08" dx="0.54" dy="-2.86">1</tspan></text>
<text x="81.80" y="314.03" font-size="6.8" text-anchor="middle">10<tspan font-size="4.08" dx="0.54" dy="-2.86">2</tspan></text>
<text x="96.55" y="314.03" font-size="6.8" text-anchor="middle">10<tspan font-size="4.08" dx="0.54" dy="-2.86">3</tspan></text>
<text x="111.30" y="314.03" font-size="6.8" text-anchor="middle">10<tspan font-size="4.08" dx="0.54" dy="-2.86">4</tspan></text>
<text x="0" y="3.29" font-size="9.2" text-anchor="middle" transform="translate(43.50,274.00) rotate(-90) scale(0.77,1)">Spleen</text>
<line x1="120.50" y1="246.50" x2="120.50" y2="297.50" stroke="#1a1718" stroke-width="1.3"/>
<polygon points="120.30,241.50 117.40,248.50 120.30,246.70 123.20,248.50" fill="#1a1718"/>
<rect x="70.14" y="378.09" width="0.9" height="0.9" fill="#000" fill-opacity="0.18"/><rect x="78.48" y="380.75" width="0.9" height="0.9" fill="#000" fill-opacity="0.28"/><rect x="84.04" y="379.38" width="0.9" height="0.9" fill="#000" fill-opacity="0.55"/><rect x="69.78" y="381.13" width="0.9" height="0.9" fill="#000" fill-opacity="0.19"/><rect x="59.35" y="380.09" width="0.9" height="0.9" fill="#000" fill-opacity="0.33"/><rect x="70.75" y="382.74" width="0.9" height="0.9" fill="#000" fill-opacity="0.40"/><rect x="64.87" y="376.21" width="0.9" height="0.9" fill="#000" fill-opacity="0.49"/><rect x="68.28" y="378.92" width="0.9" height="0.9" fill="#000" fill-opacity="0.49"/><rect x="67.66" y="383.29" width="0.9" height="0.9" fill="#000" fill-opacity="0.30"/><rect x="69.71" y="378.32" width="0.9" height="0.9" fill="#000" fill-opacity="0.25"/><rect x="70.16" y="381.55" width="0.9" height="0.9" fill="#000" fill-opacity="0.50"/><rect x="64.72" y="378.96" width="0.9" height="0.9" fill="#000" fill-opacity="0.31"/><rect x="78.13" y="379.90" width="0.9" height="0.9" fill="#000" fill-opacity="0.24"/><rect x="73.60" y="376.52" width="0.9" height="0.9" fill="#000" fill-opacity="0.55"/><rect x="76.23" y="381.82" width="0.9" height="0.9" fill="#000" fill-opacity="0.48"/><rect x="78.17" y="375.19" width="0.9" height="0.9" fill="#000" fill-opacity="0.17"/><rect x="69.12" y="381.31" width="0.9" height="0.9" fill="#000" fill-opacity="0.23"/><rect x="78.92" y="379.47" width="0.9" height="0.9" fill="#000" fill-opacity="0.52"/><rect x="60.58" y="383.80" width="0.9" height="0.9" fill="#000" fill-opacity="0.33"/><rect x="69.31" y="384.55" width="0.9" height="0.9" fill="#000" fill-opacity="0.53"/><rect x="77.26" y="382.21" width="0.9" height="0.9" fill="#000" fill-opacity="0.40"/><rect x="71.37" y="382.49" width="0.9" height="0.9" fill="#000" fill-opacity="0.21"/><rect x="71.54" y="381.96" width="0.9" height="0.9" fill="#000" fill-opacity="0.39"/><rect x="67.39" y="378.62" width="0.9" height="0.9" fill="#000" fill-opacity="0.15"/><rect x="65.27" y="383.51" width="0.9" height="0.9" fill="#000" fill-opacity="0.22"/><rect x="68.30" y="381.67" width="0.9" height="0.9" fill="#000" fill-opacity="0.47"/><rect x="67.70" y="379.77" width="0.9" height="0.9" fill="#000" fill-opacity="0.19"/><rect x="63.25" y="382.06" width="0.9" height="0.9" fill="#000" fill-opacity="0.41"/><rect x="73.47" y="380.89" width="0.9" height="0.9" fill="#000" fill-opacity="0.43"/><rect x="65.37" y="381.19" width="0.9" height="0.9" fill="#000" fill-opacity="0.27"/><rect x="75.68" y="379.40" width="0.9" height="0.9" fill="#000" fill-opacity="0.38"/><rect x="65.65" y="382.16" width="0.9" height="0.9" fill="#000" fill-opacity="0.50"/><rect x="76.52" y="380.00" width="0.9" height="0.9" fill="#000" fill-opacity="0.23"/><rect x="69.42" y="378.31" width="0.9" height="0.9" fill="#000" fill-opacity="0.15"/><rect x="75.87" y="378.47" width="0.9" height="0.9" fill="#000" fill-opacity="0.48"/><rect x="58.34" y="383.04" width="0.9" height="0.9" fill="#000" fill-opacity="0.33"/><rect x="70.66" y="380.43" width="0.9" height="0.9" fill="#000" fill-opacity="0.37"/><rect x="60.59" y="375.64" width="0.9" height="0.9" fill="#000" fill-opacity="0.19"/><rect x="65.34" y="378.31" width="0.9" height="0.9" fill="#000" fill-opacity="0.35"/><rect x="73.43" y="381.73" width="0.9" height="0.9" fill="#000" fill-opacity="0.36"/><rect x="72.96" y="379.49" width="0.9" height="0.9" fill="#000" fill-opacity="0.35"/><rect x="76.04" y="373.66" width="0.9" height="0.9" fill="#000" fill-opacity="0.23"/><rect x="81.44" y="384.50" width="0.9" height="0.9" fill="#000" fill-opacity="0.54"/><rect x="67.81" y="380.14" width="0.9" height="0.9" fill="#000" fill-opacity="0.52"/><rect x="58.83" y="383.70" width="0.9" height="0.9" fill="#000" fill-opacity="0.40"/><rect x="71.86" y="378.68" width="0.9" height="0.9" fill="#000" fill-opacity="0.46"/><rect x="71.26" y="382.66" width="0.9" height="0.9" fill="#000" fill-opacity="0.49"/><rect x="72.11" y="378.60" width="0.9" height="0.9" fill="#000" fill-opacity="0.24"/><rect x="63.41" y="381.90" width="0.9" height="0.9" fill="#000" fill-opacity="0.30"/><rect x="73.72" y="381.42" width="0.9" height="0.9" fill="#000" fill-opacity="0.44"/><rect x="71.62" y="379.60" width="0.9" height="0.9" fill="#000" fill-opacity="0.37"/><rect x="70.14" y="379.33" width="0.9" height="0.9" fill="#000" fill-opacity="0.49"/><rect x="76.85" y="382.42" width="0.9" height="0.9" fill="#000" fill-opacity="0.37"/><rect x="65.99" y="378.46" width="0.9" height="0.9" fill="#000" fill-opacity="0.32"/><rect x="63.83" y="378.69" width="0.9" height="0.9" fill="#000" fill-opacity="0.41"/><rect x="63.15" y="380.97" width="0.9" height="0.9" fill="#000" fill-opacity="0.16"/><rect x="64.26" y="378.00" width="0.9" height="0.9" fill="#000" fill-opacity="0.24"/><rect x="71.06" y="375.54" width="0.9" height="0.9" fill="#000" fill-opacity="0.33"/><rect x="73.35" y="382.71" width="0.9" height="0.9" fill="#000" fill-opacity="0.19"/><rect x="75.04" y="382.04" width="0.9" height="0.9" fill="#000" fill-opacity="0.19"/><rect x="62.46" y="381.16" width="0.9" height="0.9" fill="#000" fill-opacity="0.17"/><rect x="68.21" y="379.24" width="0.9" height="0.9" fill="#000" fill-opacity="0.44"/><rect x="71.46" y="376.98" width="0.9" height="0.9" fill="#000" fill-opacity="0.17"/><rect x="63.43" y="379.99" width="0.9" height="0.9" fill="#000" fill-opacity="0.53"/><rect x="78.85" y="383.92" width="0.9" height="0.9" fill="#000" fill-opacity="0.55"/><rect x="68.65" y="375.30" width="0.9" height="0.9" fill="#000" fill-opacity="0.23"/><rect x="77.91" y="379.70" width="0.9" height="0.9" fill="#000" fill-opacity="0.53"/><rect x="73.58" y="379.26" width="0.9" height="0.9" fill="#000" fill-opacity="0.47"/><rect x="72.32" y="379.65" width="0.9" height="0.9" fill="#000" fill-opacity="0.29"/><rect x="70.21" y="378.52" width="0.9" height="0.9" fill="#000" fill-opacity="0.51"/><rect x="68.09" y="384.77" width="0.9" height="0.9" fill="#000" fill-opacity="0.21"/><rect x="54.77" y="379.97" width="0.9" height="0.9" fill="#000" fill-opacity="0.23"/><rect x="69.40" y="383.13" width="0.9" height="0.9" fill="#000" fill-opacity="0.28"/><rect x="74.25" y="380.43" width="0.9" height="0.9" fill="#000" fill-opacity="0.21"/><rect x="79.50" y="378.52" width="0.9" height="0.9" fill="#000" fill-opacity="0.51"/><rect x="75.88" y="384.03" width="0.9" height="0.9" fill="#000" fill-opacity="0.20"/><rect x="60.56" y="379.34" width="0.9" height="0.9" fill="#000" fill-opacity="0.29"/><rect x="76.09" y="377.68" width="0.9" height="0.9" fill="#000" fill-opacity="0.38"/><rect x="72.41" y="379.23" width="0.9" height="0.9" fill="#000" fill-opacity="0.55"/><rect x="65.38" y="378.15" width="0.9" height="0.9" fill="#000" fill-opacity="0.47"/><rect x="68.13" y="387.95" width="0.9" height="0.9" fill="#000" fill-opacity="0.38"/><rect x="62.66" y="383.45" width="0.9" height="0.9" fill="#000" fill-opacity="0.33"/><rect x="75.03" y="383.89" width="0.9" height="0.9" fill="#000" fill-opacity="0.17"/><rect x="72.26" y="378.25" width="0.9" height="0.9" fill="#000" fill-opacity="0.41"/><rect x="79.03" y="379.70" width="0.9" height="0.9" fill="#000" fill-opacity="0.42"/><rect x="69.89" y="380.19" width="0.9" height="0.9" fill="#000" fill-opacity="0.16"/><rect x="75.61" y="382.95" width="0.9" height="0.9" fill="#000" fill-opacity="0.32"/><rect x="55.64" y="379.61" width="0.9" height="0.9" fill="#000" fill-opacity="0.20"/><rect x="71.46" y="383.79" width="0.9" height="0.9" fill="#000" fill-opacity="0.16"/><rect x="76.42" y="380.09" width="0.9" height="0.9" fill="#000" fill-opacity="0.19"/><rect x="67.03" y="381.50" width="0.9" height="0.9" fill="#000" fill-opacity="0.38"/><rect x="66.16" y="379.12" width="0.9" height="0.9" fill="#000" fill-opacity="0.40"/><rect x="66.44" y="380.27" width="0.9" height="0.9" fill="#000" fill-opacity="0.52"/><rect x="70.21" y="381.53" width="0.9" height="0.9" fill="#000" fill-opacity="0.19"/><rect x="61.15" y="376.03" width="0.9" height="0.9" fill="#000" fill-opacity="0.46"/><rect x="65.70" y="381.23" width="0.9" height="0.9" fill="#000" fill-opacity="0.15"/><rect x="64.69" y="377.41" width="0.9" height="0.9" fill="#000" fill-opacity="0.29"/><rect x="65.56" y="377.82" width="0.9" height="0.9" fill="#000" fill-opacity="0.52"/><rect x="69.52" y="378.10" width="0.9" height="0.9" fill="#000" fill-opacity="0.51"/><rect x="78.11" y="380.92" width="0.9" height="0.9" fill="#000" fill-opacity="0.31"/><rect x="70.23" y="380.95" width="0.9" height="0.9" fill="#000" fill-opacity="0.46"/><rect x="78.63" y="380.31" width="0.9" height="0.9" fill="#000" fill-opacity="0.53"/><rect x="72.89" y="381.40" width="0.9" height="0.9" fill="#000" fill-opacity="0.39"/><rect x="60.32" y="379.89" width="0.9" height="0.9" fill="#000" fill-opacity="0.48"/><rect x="72.72" y="382.04" width="0.9" height="0.9" fill="#000" fill-opacity="0.27"/><rect x="83.66" y="381.69" width="0.9" height="0.9" fill="#000" fill-opacity="0.46"/><rect x="69.88" y="379.76" width="0.9" height="0.9" fill="#000" fill-opacity="0.49"/><rect x="69.82" y="377.14" width="0.9" height="0.9" fill="#000" fill-opacity="0.45"/><rect x="65.40" y="380.60" width="0.9" height="0.9" fill="#000" fill-opacity="0.19"/><rect x="70.26" y="380.78" width="0.9" height="0.9" fill="#000" fill-opacity="0.28"/><rect x="70.03" y="376.04" width="0.9" height="0.9" fill="#000" fill-opacity="0.49"/><rect x="68.77" y="378.06" width="0.9" height="0.9" fill="#000" fill-opacity="0.37"/><rect x="59.02" y="381.84" width="0.9" height="0.9" fill="#000" fill-opacity="0.36"/><rect x="69.11" y="383.76" width="0.9" height="0.9" fill="#000" fill-opacity="0.54"/><rect x="72.93" y="385.29" width="0.9" height="0.9" fill="#000" fill-opacity="0.16"/><rect x="69.73" y="381.95" width="0.9" height="0.9" fill="#000" fill-opacity="0.45"/><rect x="80.64" y="378.58" width="0.9" height="0.9" fill="#000" fill-opacity="0.28"/><rect x="74.48" y="378.46" width="0.9" height="0.9" fill="#000" fill-opacity="0.25"/><rect x="78.07" y="378.04" width="0.9" height="0.9" fill="#000" fill-opacity="0.43"/><rect x="60.45" y="373.82" width="0.9" height="0.9" fill="#000" fill-opacity="0.34"/><rect x="75.67" y="376.65" width="0.9" height="0.9" fill="#000" fill-opacity="0.49"/><rect x="59.97" y="381.65" width="0.9" height="0.9" fill="#000" fill-opacity="0.38"/><rect x="68.38" y="381.73" width="0.9" height="0.9" fill="#000" fill-opacity="0.40"/><rect x="83.25" y="382.73" width="0.9" height="0.9" fill="#000" fill-opacity="0.21"/><rect x="73.23" y="380.26" width="0.9" height="0.9" fill="#000" fill-opacity="0.52"/><rect x="67.94" y="381.24" width="0.9" height="0.9" fill="#000" fill-opacity="0.16"/><rect x="80.14" y="381.08" width="0.9" height="0.9" fill="#000" fill-opacity="0.40"/><rect x="66.42" y="376.04" width="0.9" height="0.9" fill="#000" fill-opacity="0.18"/><rect x="64.60" y="378.72" width="0.9" height="0.9" fill="#000" fill-opacity="0.48"/><rect x="76.11" y="375.09" width="0.9" height="0.9" fill="#000" fill-opacity="0.18"/><rect x="80.22" y="375.79" width="0.9" height="0.9" fill="#000" fill-opacity="0.53"/><rect x="73.66" y="381.15" width="0.9" height="0.9" fill="#000" fill-opacity="0.19"/><rect x="82.94" y="381.13" width="0.9" height="0.9" fill="#000" fill-opacity="0.47"/><rect x="61.60" y="376.43" width="0.9" height="0.9" fill="#000" fill-opacity="0.40"/><rect x="69.32" y="381.21" width="0.9" height="0.9" fill="#000" fill-opacity="0.19"/><rect x="70.26" y="378.29" width="0.9" height="0.9" fill="#000" fill-opacity="0.28"/><rect x="68.81" y="380.30" width="0.9" height="0.9" fill="#000" fill-opacity="0.25"/><rect x="67.86" y="384.09" width="0.9" height="0.9" fill="#000" fill-opacity="0.30"/><rect x="62.50" y="386.10" width="0.9" height="0.9" fill="#000" fill-opacity="0.35"/><rect x="75.66" y="377.15" width="0.9" height="0.9" fill="#000" fill-opacity="0.16"/><rect x="63.83" y="381.50" width="0.9" height="0.9" fill="#000" fill-opacity="0.46"/><rect x="63.98" y="383.38" width="0.9" height="0.9" fill="#000" fill-opacity="0.37"/><rect x="72.87" y="385.11" width="0.9" height="0.9" fill="#000" fill-opacity="0.19"/><rect x="71.82" y="378.61" width="0.9" height="0.9" fill="#000" fill-opacity="0.15"/><rect x="73.47" y="384.26" width="0.9" height="0.9" fill="#000" fill-opacity="0.54"/><rect x="77.95" y="380.13" width="0.9" height="0.9" fill="#000" fill-opacity="0.35"/><rect x="71.31" y="378.46" width="0.9" height="0.9" fill="#000" fill-opacity="0.35"/><rect x="62.69" y="384.07" width="0.9" height="0.9" fill="#000" fill-opacity="0.25"/><rect x="75.26" y="379.32" width="0.9" height="0.9" fill="#000" fill-opacity="0.24"/><rect x="67.56" y="377.15" width="0.9" height="0.9" fill="#000" fill-opacity="0.19"/><rect x="68.22" y="379.24" width="0.9" height="0.9" fill="#000" fill-opacity="0.47"/><rect x="66.15" y="375.73" width="0.9" height="0.9" fill="#000" fill-opacity="0.40"/><rect x="65.81" y="382.12" width="0.9" height="0.9" fill="#000" fill-opacity="0.31"/><rect x="72.28" y="379.35" width="0.9" height="0.9" fill="#000" fill-opacity="0.51"/><rect x="74.61" y="380.33" width="0.9" height="0.9" fill="#000" fill-opacity="0.26"/><rect x="76.57" y="378.27" width="0.9" height="0.9" fill="#000" fill-opacity="0.30"/><rect x="73.75" y="378.79" width="0.9" height="0.9" fill="#000" fill-opacity="0.33"/><rect x="58.88" y="379.19" width="0.9" height="0.9" fill="#000" fill-opacity="0.45"/><rect x="66.23" y="378.14" width="0.9" height="0.9" fill="#000" fill-opacity="0.28"/><rect x="77.38" y="384.19" width="0.9" height="0.9" fill="#000" fill-opacity="0.41"/><rect x="69.84" y="378.47" width="0.9" height="0.9" fill="#000" fill-opacity="0.33"/><rect x="71.36" y="376.67" width="0.9" height="0.9" fill="#000" fill-opacity="0.20"/><rect x="56.30" y="381.33" width="0.9" height="0.9" fill="#000" fill-opacity="0.25"/><rect x="72.12" y="382.11" width="0.9" height="0.9" fill="#000" fill-opacity="0.43"/><rect x="72.24" y="378.80" width="0.9" height="0.9" fill="#000" fill-opacity="0.21"/><rect x="70.14" y="382.36" width="0.9" height="0.9" fill="#000" fill-opacity="0.36"/><rect x="73.27" y="382.01" width="0.9" height="0.9" fill="#000" fill-opacity="0.23"/><rect x="80.90" y="379.40" width="0.9" height="0.9" fill="#000" fill-opacity="0.19"/><rect x="73.11" y="379.77" width="0.9" height="0.9" fill="#000" fill-opacity="0.30"/><rect x="82.09" y="379.58" width="0.9" height="0.9" fill="#000" fill-opacity="0.44"/><rect x="65.93" y="380.73" width="0.9" height="0.9" fill="#000" fill-opacity="0.41"/><rect x="73.67" y="381.15" width="0.9" height="0.9" fill="#000" fill-opacity="0.31"/><rect x="76.76" y="380.61" width="0.9" height="0.9" fill="#000" fill-opacity="0.47"/><rect x="67.26" y="377.18" width="0.9" height="0.9" fill="#000" fill-opacity="0.40"/><rect x="66.39" y="380.38" width="0.9" height="0.9" fill="#000" fill-opacity="0.39"/><rect x="60.82" y="382.46" width="0.9" height="0.9" fill="#000" fill-opacity="0.51"/><rect x="62.01" y="381.50" width="0.9" height="0.9" fill="#000" fill-opacity="0.45"/><rect x="65.74" y="380.94" width="0.9" height="0.9" fill="#000" fill-opacity="0.44"/><rect x="78.60" y="376.98" width="0.9" height="0.9" fill="#000" fill-opacity="0.43"/><rect x="76.21" y="376.91" width="0.9" height="0.9" fill="#000" fill-opacity="0.41"/><rect x="64.40" y="380.69" width="0.9" height="0.9" fill="#000" fill-opacity="0.40"/><rect x="75.84" y="381.61" width="0.9" height="0.9" fill="#000" fill-opacity="0.46"/><rect x="67.85" y="376.48" width="0.9" height="0.9" fill="#000" fill-opacity="0.25"/><rect x="63.40" y="381.37" width="0.9" height="0.9" fill="#000" fill-opacity="0.40"/><rect x="61.46" y="382.15" width="0.9" height="0.9" fill="#000" fill-opacity="0.52"/><rect x="74.10" y="383.51" width="0.9" height="0.9" fill="#000" fill-opacity="0.46"/><rect x="64.01" y="381.99" width="0.9" height="0.9" fill="#000" fill-opacity="0.54"/><rect x="78.32" y="380.82" width="0.9" height="0.9" fill="#000" fill-opacity="0.21"/><rect x="73.26" y="373.99" width="0.9" height="0.9" fill="#000" fill-opacity="0.36"/><rect x="77.21" y="382.07" width="0.9" height="0.9" fill="#000" fill-opacity="0.37"/><rect x="68.39" y="377.00" width="0.9" height="0.9" fill="#000" fill-opacity="0.41"/><rect x="73.98" y="377.27" width="0.9" height="0.9" fill="#000" fill-opacity="0.31"/><rect x="74.47" y="379.48" width="0.9" height="0.9" fill="#000" fill-opacity="0.42"/><rect x="61.05" y="382.81" width="0.9" height="0.9" fill="#000" fill-opacity="0.20"/><rect x="76.39" y="379.81" width="0.9" height="0.9" fill="#000" fill-opacity="0.17"/><rect x="69.00" y="382.65" width="0.9" height="0.9" fill="#000" fill-opacity="0.16"/><rect x="63.86" y="381.38" width="0.9" height="0.9" fill="#000" fill-opacity="0.43"/><rect x="66.86" y="381.69" width="0.9" height="0.9" fill="#000" fill-opacity="0.24"/><rect x="69.19" y="373.89" width="0.9" height="0.9" fill="#000" fill-opacity="0.36"/><rect x="72.42" y="384.64" width="0.9" height="0.9" fill="#000" fill-opacity="0.31"/><rect x="70.90" y="381.38" width="0.9" height="0.9" fill="#000" fill-opacity="0.46"/><rect x="73.58" y="376.62" width="0.9" height="0.9" fill="#000" fill-opacity="0.34"/><rect x="65.55" y="379.34" width="0.9" height="0.9" fill="#000" fill-opacity="0.54"/><rect x="64.19" y="383.01" width="0.9" height="0.9" fill="#000" fill-opacity="0.48"/><rect x="73.14" y="377.38" width="0.9" height="0.9" fill="#000" fill-opacity="0.27"/><rect x="66.69" y="379.65" width="0.9" height="0.9" fill="#000" fill-opacity="0.48"/><rect x="61.94" y="384.06" width="0.9" height="0.9" fill="#000" fill-opacity="0.26"/><rect x="66.35" y="381.45" width="0.9" height="0.9" fill="#000" fill-opacity="0.32"/><rect x="70.25" y="380.23" width="0.9" height="0.9" fill="#000" fill-opacity="0.44"/><rect x="69.06" y="381.96" width="0.9" height="0.9" fill="#000" fill-opacity="0.27"/><rect x="62.92" y="380.40" width="0.9" height="0.9" fill="#000" fill-opacity="0.40"/><rect x="66.57" y="377.97" width="0.9" height="0.9" fill="#000" fill-opacity="0.52"/><rect x="71.47" y="379.34" width="0.9" height="0.9" fill="#000" fill-opacity="0.48"/><rect x="79.93" y="377.51" width="0.9" height="0.9" fill="#000" fill-opacity="0.21"/><rect x="74.76" y="376.84" width="0.9" height="0.9" fill="#000" fill-opacity="0.16"/><rect x="86.75" y="380.51" width="0.9" height="0.9" fill="#000" fill-opacity="0.41"/><rect x="70.05" y="381.25" width="0.9" height="0.9" fill="#000" fill-opacity="0.21"/><rect x="71.26" y="384.53" width="0.9" height="0.9" fill="#000" fill-opacity="0.29"/><rect x="78.50" y="384.66" width="0.9" height="0.9" fill="#000" fill-opacity="0.47"/><rect x="77.11" y="384.81" width="0.9" height="0.9" fill="#000" fill-opacity="0.39"/><rect x="72.02" y="376.26" width="0.9" height="0.9" fill="#000" fill-opacity="0.51"/><rect x="73.13" y="375.22" width="0.9" height="0.9" fill="#000" fill-opacity="0.23"/><rect x="67.11" y="377.06" width="0.9" height="0.9" fill="#000" fill-opacity="0.45"/><rect x="57.01" y="382.08" width="0.9" height="0.9" fill="#000" fill-opacity="0.37"/><rect x="69.60" y="381.94" width="0.9" height="0.9" fill="#000" fill-opacity="0.21"/><rect x="67.69" y="380.09" width="0.9" height="0.9" fill="#000" fill-opacity="0.34"/><rect x="74.92" y="382.43" width="0.9" height="0.9" fill="#000" fill-opacity="0.35"/><rect x="56.91" y="378.78" width="0.9" height="0.9" fill="#000" fill-opacity="0.15"/><rect x="74.17" y="377.59" width="0.9" height="0.9" fill="#000" fill-opacity="0.38"/><rect x="63.44" y="375.76" width="0.9" height="0.9" fill="#000" fill-opacity="0.30"/><rect x="54.96" y="383.28" width="0.9" height="0.9" fill="#000" fill-opacity="0.18"/><rect x="63.75" y="377.25" width="0.9" height="0.9" fill="#000" fill-opacity="0.16"/><rect x="62.10" y="377.55" width="0.9" height="0.9" fill="#000" fill-opacity="0.52"/><rect x="60.73" y="386.49" width="0.9" height="0.9" fill="#000" fill-opacity="0.35"/><rect x="55.60" y="380.58" width="0.9" height="0.9" fill="#000" fill-opacity="0.16"/><rect x="68.16" y="376.48" width="0.9" height="0.9" fill="#000" fill-opacity="0.29"/><rect x="74.24" y="378.15" width="0.9" height="0.9" fill="#000" fill-opacity="0.34"/><rect x="58.53" y="379.34" width="0.9" height="0.9" fill="#000" fill-opacity="0.23"/><rect x="63.51" y="381.13" width="0.9" height="0.9" fill="#000" fill-opacity="0.37"/><rect x="72.67" y="378.13" width="0.9" height="0.9" fill="#000" fill-opacity="0.48"/><rect x="63.43" y="381.80" width="0.9" height="0.9" fill="#000" fill-opacity="0.26"/><rect x="51.60" y="379.77" width="0.9" height="0.9" fill="#000" fill-opacity="0.41"/><rect x="71.64" y="377.80" width="0.9" height="0.9" fill="#000" fill-opacity="0.28"/><rect x="67.30" y="383.34" width="0.9" height="0.9" fill="#000" fill-opacity="0.40"/><rect x="70.46" y="379.32" width="0.9" height="0.9" fill="#000" fill-opacity="0.44"/><rect x="76.48" y="377.90" width="0.9" height="0.9" fill="#000" fill-opacity="0.17"/><rect x="69.81" y="380.33" width="0.9" height="0.9" fill="#000" fill-opacity="0.23"/><rect x="78.25" y="378.36" width="0.9" height="0.9" fill="#000" fill-opacity="0.41"/><rect x="73.67" y="374.52" width="0.9" height="0.9" fill="#000" fill-opacity="0.39"/><rect x="62.96" y="377.61" width="0.9" height="0.9" fill="#000" fill-opacity="0.43"/><rect x="61.60" y="377.81" width="0.9" height="0.9" fill="#000" fill-opacity="0.24"/><rect x="66.30" y="377.56" width="0.9" height="0.9" fill="#000" fill-opacity="0.46"/><rect x="73.51" y="381.03" width="0.9" height="0.9" fill="#000" fill-opacity="0.16"/><rect x="72.36" y="374.36" width="0.9" height="0.9" fill="#000" fill-opacity="0.41"/><rect x="61.46" y="383.60" width="0.9" height="0.9" fill="#000" fill-opacity="0.46"/><rect x="65.19" y="379.29" width="0.9" height="0.9" fill="#000" fill-opacity="0.27"/><rect x="64.80" y="381.12" width="0.9" height="0.9" fill="#000" fill-opacity="0.32"/><rect x="60.08" y="375.34" width="0.9" height="0.9" fill="#000" fill-opacity="0.17"/><rect x="68.29" y="379.75" width="0.9" height="0.9" fill="#000" fill-opacity="0.20"/><rect x="73.34" y="376.89" width="0.9" height="0.9" fill="#000" fill-opacity="0.52"/><rect x="68.97" y="380.19" width="0.9" height="0.9" fill="#000" fill-opacity="0.30"/><rect x="56.63" y="376.70" width="0.9" height="0.9" fill="#000" fill-opacity="0.54"/><rect x="63.12" y="380.46" width="0.9" height="0.9" fill="#000" fill-opacity="0.19"/><rect x="67.16" y="378.63" width="0.9" height="0.9" fill="#000" fill-opacity="0.21"/><rect x="70.71" y="380.07" width="0.9" height="0.9" fill="#000" fill-opacity="0.42"/><rect x="82.83" y="384.74" width="0.9" height="0.9" fill="#000" fill-opacity="0.19"/><rect x="72.49" y="379.05" width="0.9" height="0.9" fill="#000" fill-opacity="0.16"/><rect x="69.08" y="378.15" width="0.9" height="0.9" fill="#000" fill-opacity="0.44"/><rect x="70.89" y="380.82" width="0.9" height="0.9" fill="#000" fill-opacity="0.46"/><rect x="67.01" y="375.07" width="0.9" height="0.9" fill="#000" fill-opacity="0.44"/><rect x="78.31" y="381.90" width="0.9" height="0.9" fill="#000" fill-opacity="0.43"/><rect x="54.75" y="381.53" width="0.9" height="0.9" fill="#000" fill-opacity="0.25"/><rect x="80.59" y="379.13" width="0.9" height="0.9" fill="#000" fill-opacity="0.15"/><rect x="79.87" y="380.40" width="0.9" height="0.9" fill="#000" fill-opacity="0.48"/><rect x="75.20" y="381.13" width="0.9" height="0.9" fill="#000" fill-opacity="0.44"/><rect x="76.85" y="384.51" width="0.9" height="0.9" fill="#000" fill-opacity="0.34"/><rect x="76.11" y="380.96" width="0.9" height="0.9" fill="#000" fill-opacity="0.38"/><rect x="60.58" y="381.52" width="0.9" height="0.9" fill="#000" fill-opacity="0.21"/><rect x="71.94" y="377.69" width="0.9" height="0.9" fill="#000" fill-opacity="0.41"/><rect x="65.20" y="378.08" width="0.9" height="0.9" fill="#000" fill-opacity="0.30"/><rect x="73.75" y="373.95" width="0.9" height="0.9" fill="#000" fill-opacity="0.46"/><rect x="64.89" y="379.17" width="0.9" height="0.9" fill="#000" fill-opacity="0.17"/><rect x="80.51" y="379.39" width="0.9" height="0.9" fill="#000" fill-opacity="0.48"/><rect x="65.48" y="383.14" width="0.9" height="0.9" fill="#000" fill-opacity="0.54"/><rect x="74.56" y="376.97" width="0.9" height="0.9" fill="#000" fill-opacity="0.27"/><rect x="57.23" y="382.41" width="0.9" height="0.9" fill="#000" fill-opacity="0.30"/><rect x="66.38" y="376.81" width="0.9" height="0.9" fill="#000" fill-opacity="0.51"/><rect x="72.01" y="378.06" width="0.9" height="0.9" fill="#000" fill-opacity="0.15"/><rect x="69.47" y="382.77" width="0.9" height="0.9" fill="#000" fill-opacity="0.38"/><rect x="75.78" y="375.08" width="0.9" height="0.9" fill="#000" fill-opacity="0.17"/><rect x="76.26" y="375.93" width="0.9" height="0.9" fill="#000" fill-opacity="0.50"/><rect x="65.16" y="379.14" width="0.9" height="0.9" fill="#000" fill-opacity="0.49"/><rect x="73.67" y="376.35" width="0.9" height="0.9" fill="#000" fill-opacity="0.52"/><rect x="68.41" y="380.95" width="0.9" height="0.9" fill="#000" fill-opacity="0.37"/><rect x="71.38" y="378.39" width="0.9" height="0.9" fill="#000" fill-opacity="0.45"/><rect x="74.57" y="379.26" width="0.9" height="0.9" fill="#000" fill-opacity="0.39"/><rect x="66.71" y="377.44" width="0.9" height="0.9" fill="#000" fill-opacity="0.23"/><rect x="69.71" y="384.38" width="0.9" height="0.9" fill="#000" fill-opacity="0.47"/><rect x="67.23" y="380.33" width="0.9" height="0.9" fill="#000" fill-opacity="0.47"/><rect x="70.74" y="378.18" width="0.9" height="0.9" fill="#000" fill-opacity="0.38"/><rect x="81.33" y="376.79" width="0.9" height="0.9" fill="#000" fill-opacity="0.36"/><rect x="61.08" y="380.56" width="0.9" height="0.9" fill="#000" fill-opacity="0.23"/><rect x="71.57" y="381.58" width="0.9" height="0.9" fill="#000" fill-opacity="0.43"/><rect x="64.34" y="382.59" width="0.9" height="0.9" fill="#000" fill-opacity="0.31"/><rect x="66.21" y="379.89" width="0.9" height="0.9" fill="#000" fill-opacity="0.17"/><rect x="76.63" y="380.00" width="0.9" height="0.9" fill="#000" fill-opacity="0.19"/><rect x="62.01" y="376.66" width="0.9" height="0.9" fill="#000" fill-opacity="0.21"/><rect x="64.93" y="378.68" width="0.9" height="0.9" fill="#000" fill-opacity="0.36"/><rect x="71.81" y="380.14" width="0.9" height="0.9" fill="#000" fill-opacity="0.55"/><rect x="75.28" y="377.81" width="0.9" height="0.9" fill="#000" fill-opacity="0.38"/><rect x="69.19" y="384.56" width="0.9" height="0.9" fill="#000" fill-opacity="0.32"/><rect x="81.01" y="378.59" width="0.9" height="0.9" fill="#000" fill-opacity="0.48"/><rect x="75.12" y="379.60" width="0.9" height="0.9" fill="#000" fill-opacity="0.17"/><rect x="71.35" y="381.61" width="0.9" height="0.9" fill="#000" fill-opacity="0.18"/><rect x="78.29" y="381.10" width="0.9" height="0.9" fill="#000" fill-opacity="0.50"/><rect x="54.12" y="381.68" width="0.9" height="0.9" fill="#000" fill-opacity="0.51"/><rect x="78.49" y="381.43" width="0.9" height="0.9" fill="#000" fill-opacity="0.31"/><rect x="82.60" y="384.55" width="0.9" height="0.9" fill="#000" fill-opacity="0.25"/><rect x="61.11" y="378.58" width="0.9" height="0.9" fill="#000" fill-opacity="0.53"/><rect x="66.77" y="377.78" width="0.9" height="0.9" fill="#000" fill-opacity="0.33"/><rect x="79.54" y="385.75" width="0.9" height="0.9" fill="#000" fill-opacity="0.55"/><rect x="70.39" y="380.77" width="0.9" height="0.9" fill="#000" fill-opacity="0.25"/><rect x="61.27" y="384.55" width="0.9" height="0.9" fill="#000" fill-opacity="0.51"/><rect x="71.15" y="379.36" width="0.9" height="0.9" fill="#000" fill-opacity="0.46"/><rect x="67.59" y="376.42" width="0.9" height="0.9" fill="#000" fill-opacity="0.54"/><rect x="73.62" y="380.55" width="0.9" height="0.9" fill="#000" fill-opacity="0.45"/><rect x="79.54" y="378.60" width="0.9" height="0.9" fill="#000" fill-opacity="0.27"/><rect x="60.44" y="377.67" width="0.9" height="0.9" fill="#000" fill-opacity="0.19"/><rect x="67.70" y="381.84" width="0.9" height="0.9" fill="#000" fill-opacity="0.20"/><rect x="65.95" y="380.24" width="0.9" height="0.9" fill="#000" fill-opacity="0.25"/><rect x="76.41" y="383.11" width="0.9" height="0.9" fill="#000" fill-opacity="0.16"/><rect x="69.13" y="378.37" width="0.9" height="0.9" fill="#000" fill-opacity="0.16"/><rect x="74.36" y="379.24" width="0.9" height="0.9" fill="#000" fill-opacity="0.52"/><rect x="79.59" y="376.00" width="0.9" height="0.9" fill="#000" fill-opacity="0.21"/><rect x="67.15" y="380.43" width="0.9" height="0.9" fill="#000" fill-opacity="0.52"/><rect x="75.29" y="376.99" width="0.9" height="0.9" fill="#000" fill-opacity="0.33"/><rect x="63.28" y="384.14" width="0.9" height="0.9" fill="#000" fill-opacity="0.34"/><rect x="67.43" y="379.01" width="0.9" height="0.9" fill="#000" fill-opacity="0.24"/><rect x="80.13" y="381.48" width="0.9" height="0.9" fill="#000" fill-opacity="0.37"/><rect x="78.50" y="384.20" width="0.9" height="0.9" fill="#000" fill-opacity="0.26"/><rect x="66.69" y="380.85" width="0.9" height="0.9" fill="#000" fill-opacity="0.26"/><rect x="73.32" y="378.07" width="0.9" height="0.9" fill="#000" fill-opacity="0.22"/><rect x="64.11" y="380.18" width="0.9" height="0.9" fill="#000" fill-opacity="0.51"/><rect x="84.26" y="384.79" width="0.9" height="0.9" fill="#000" fill-opacity="0.17"/><rect x="78.03" y="377.68" width="0.9" height="0.9" fill="#000" fill-opacity="0.23"/><rect x="64.52" y="380.35" width="0.9" height="0.9" fill="#000" fill-opacity="0.25"/><rect x="71.99" y="382.41" width="0.9" height="0.9" fill="#000" fill-opacity="0.55"/><rect x="85.53" y="379.98" width="0.9" height="0.9" fill="#000" fill-opacity="0.19"/><rect x="66.50" y="385.42" width="0.9" height="0.9" fill="#000" fill-opacity="0.17"/><rect x="69.22" y="377.91" width="0.9" height="0.9" fill="#000" fill-opacity="0.54"/><rect x="82.32" y="380.52" width="0.9" height="0.9" fill="#000" fill-opacity="0.29"/><rect x="70.32" y="380.17" width="0.9" height="0.9" fill="#000" fill-opacity="0.48"/><rect x="65.75" y="379.77" width="0.9" height="0.9" fill="#000" fill-opacity="0.32"/><rect x="74.11" y="379.09" width="0.9" height="0.9" fill="#000" fill-opacity="0.38"/><rect x="72.82" y="381.30" width="0.9" height="0.9" fill="#000" fill-opacity="0.46"/><rect x="68.98" y="378.38" width="0.9" height="0.9" fill="#000" fill-opacity="0.18"/><rect x="77.99" y="381.91" width="0.9" height="0.9" fill="#000" fill-opacity="0.35"/><rect x="69.36" y="381.80" width="0.9" height="0.9" fill="#000" fill-opacity="0.39"/><rect x="66.79" y="375.47" width="0.9" height="0.9" fill="#000" fill-opacity="0.38"/><rect x="70.79" y="380.97" width="0.9" height="0.9" fill="#000" fill-opacity="0.44"/><rect x="60.94" y="382.32" width="0.9" height="0.9" fill="#000" fill-opacity="0.17"/><rect x="72.34" y="377.87" width="0.9" height="0.9" fill="#000" fill-opacity="0.49"/><rect x="75.27" y="377.77" width="0.9" height="0.9" fill="#000" fill-opacity="0.16"/><rect x="76.59" y="378.47" width="0.9" height="0.9" fill="#000" fill-opacity="0.50"/><rect x="69.61" y="381.71" width="0.9" height="0.9" fill="#000" fill-opacity="0.48"/><rect x="67.32" y="381.20" width="0.9" height="0.9" fill="#000" fill-opacity="0.30"/><rect x="69.51" y="379.91" width="0.9" height="0.9" fill="#000" fill-opacity="0.36"/><rect x="62.33" y="381.10" width="0.9" height="0.9" fill="#000" fill-opacity="0.20"/><rect x="67.29" y="375.38" width="0.9" height="0.9" fill="#000" fill-opacity="0.50"/><rect x="65.43" y="383.75" width="0.9" height="0.9" fill="#000" fill-opacity="0.30"/><rect x="70.07" y="379.13" width="0.9" height="0.9" fill="#000" fill-opacity="0.50"/><rect x="77.67" y="379.18" width="0.9" height="0.9" fill="#000" fill-opacity="0.36"/><rect x="61.76" y="379.43" width="0.9" height="0.9" fill="#000" fill-opacity="0.16"/><rect x="74.79" y="379.67" width="0.9" height="0.9" fill="#000" fill-opacity="0.22"/><rect x="74.18" y="381.24" width="0.9" height="0.9" fill="#000" fill-opacity="0.48"/><rect x="73.06" y="380.27" width="0.9" height="0.9" fill="#000" fill-opacity="0.43"/><rect x="70.48" y="380.51" width="0.9" height="0.9" fill="#000" fill-opacity="0.39"/><rect x="62.71" y="378.59" width="0.9" height="0.9" fill="#000" fill-opacity="0.43"/><rect x="81.01" y="383.21" width="0.9" height="0.9" fill="#000" fill-opacity="0.44"/><rect x="73.40" y="380.42" width="0.9" height="0.9" fill="#000" fill-opacity="0.35"/><rect x="64.54" y="380.04" width="0.9" height="0.9" fill="#000" fill-opacity="0.20"/><rect x="66.99" y="380.84" width="0.9" height="0.9" fill="#000" fill-opacity="0.39"/><rect x="72.52" y="378.93" width="0.9" height="0.9" fill="#000" fill-opacity="0.38"/><rect x="69.96" y="378.49" width="0.9" height="0.9" fill="#000" fill-opacity="0.48"/><rect x="76.28" y="379.06" width="0.9" height="0.9" fill="#000" fill-opacity="0.32"/><rect x="74.49" y="377.37" width="0.9" height="0.9" fill="#000" fill-opacity="0.31"/><rect x="81.04" y="378.43" width="0.9" height="0.9" fill="#000" fill-opacity="0.29"/><rect x="70.42" y="382.39" width="0.9" height="0.9" fill="#000" fill-opacity="0.32"/><rect x="82.25" y="379.50" width="0.9" height="0.9" fill="#000" fill-opacity="0.52"/><rect x="75.29" y="375.42" width="0.9" height="0.9" fill="#000" fill-opacity="0.17"/><rect x="53.04" y="379.34" width="0.9" height="0.9" fill="#000" fill-opacity="0.52"/><rect x="70.08" y="382.77" width="0.9" height="0.9" fill="#000" fill-opacity="0.40"/><rect x="64.54" y="382.46" width="0.9" height="0.9" fill="#000" fill-opacity="0.18"/><rect x="62.69" y="381.31" width="0.9" height="0.9" fill="#000" fill-opacity="0.16"/><rect x="81.56" y="385.33" width="0.9" height="0.9" fill="#000" fill-opacity="0.46"/><rect x="78.93" y="378.63" width="0.9" height="0.9" fill="#000" fill-opacity="0.47"/><rect x="80.61" y="376.46" width="0.9" height="0.9" fill="#000" fill-opacity="0.16"/><rect x="66.68" y="378.46" width="0.9" height="0.9" fill="#000" fill-opacity="0.42"/><rect x="68.80" y="383.27" width="0.9" height="0.9" fill="#000" fill-opacity="0.52"/><rect x="66.31" y="378.69" width="0.9" height="0.9" fill="#000" fill-opacity="0.36"/><rect x="54.78" y="382.63" width="0.9" height="0.9" fill="#000" fill-opacity="0.27"/><rect x="66.70" y="383.58" width="0.9" height="0.9" fill="#000" fill-opacity="0.20"/><rect x="55.95" y="376.42" width="0.9" height="0.9" fill="#000" fill-opacity="0.36"/><rect x="69.17" y="382.94" width="0.9" height="0.9" fill="#000" fill-opacity="0.36"/><rect x="72.13" y="381.12" width="0.9" height="0.9" fill="#000" fill-opacity="0.20"/><rect x="68.17" y="382.61" width="0.9" height="0.9" fill="#000" fill-opacity="0.27"/><rect x="70.17" y="381.16" width="0.9" height="0.9" fill="#000" fill-opacity="0.37"/><rect x="75.04" y="377.03" width="0.9" height="0.9" fill="#000" fill-opacity="0.38"/><rect x="67.38" y="378.64" width="0.9" height="0.9" fill="#000" fill-opacity="0.43"/><rect x="61.74" y="380.85" width="0.9" height="0.9" fill="#000" fill-opacity="0.40"/><rect x="64.30" y="380.48" width="0.9" height="0.9" fill="#000" fill-opacity="0.25"/><rect x="71.50" y="383.12" width="0.9" height="0.9" fill="#000" fill-opacity="0.30"/><rect x="69.15" y="379.84" width="0.9" height="0.9" fill="#000" fill-opacity="0.29"/><rect x="73.30" y="378.59" width="0.9" height="0.9" fill="#000" fill-opacity="0.37"/><rect x="64.49" y="380.16" width="0.9" height="0.9" fill="#000" fill-opacity="0.55"/><rect x="66.75" y="384.34" width="0.9" height="0.9" fill="#000" fill-opacity="0.21"/><rect x="82.62" y="382.20" width="0.9" height="0.9" fill="#000" fill-opacity="0.33"/><rect x="76.28" y="381.03" width="0.9" height="0.9" fill="#000" fill-opacity="0.33"/><rect x="69.75" y="378.80" width="0.9" height="0.9" fill="#000" fill-opacity="0.24"/><rect x="80.83" y="378.97" width="0.9" height="0.9" fill="#000" fill-opacity="0.21"/>
<defs><radialGradient id="g201"><stop offset="0" stop-color="#000" stop-opacity="0.98"/><stop offset="0.55" stop-color="#000" stop-opacity="0.833"/><stop offset="1" stop-color="#000" stop-opacity="0"/></radialGradient></defs>
<ellipse cx="75.80" cy="385.30" rx="7.00" ry="4.40" fill="url(#g201)"/>
<defs><radialGradient id="g203"><stop offset="0" stop-color="#000" stop-opacity="0.35"/><stop offset="0.55" stop-color="#000" stop-opacity="0.2975"/><stop offset="1" stop-color="#000" stop-opacity="0"/></radialGradient></defs>
<ellipse cx="74.00" cy="380.00" rx="10.00" ry="4.00" fill="url(#g203)"/>
<rect x="70.70" y="354.40" width="25.70" height="40.50" fill="none" stroke="#777" stroke-width="0.8"/>
<rect x="50.40" y="329.30" width="62.00" height="65.60" fill="none" stroke="#2a2a2a" stroke-width="1.25"/>
<text x="51.90" y="404.43" font-size="6.8" text-anchor="middle">10<tspan font-size="4.08" dx="0.54" dy="-2.86">0</tspan></text>
<text x="66.70" y="404.43" font-size="6.8" text-anchor="middle">10<tspan font-size="4.08" dx="0.54" dy="-2.86">1</tspan></text>
<text x="81.50" y="404.43" font-size="6.8" text-anchor="middle">10<tspan font-size="4.08" dx="0.54" dy="-2.86">2</tspan></text>
<text x="96.30" y="404.43" font-size="6.8" text-anchor="middle">10<tspan font-size="4.08" dx="0.54" dy="-2.86">3</tspan></text>
<text x="111.10" y="404.43" font-size="6.8" text-anchor="middle">10<tspan font-size="4.08" dx="0.54" dy="-2.86">4</tspan></text>
<text x="0" y="3.29" font-size="9.2" text-anchor="middle" transform="translate(43.00,362.60) rotate(-90) scale(0.81,1)">Thymus</text>
<text x="0" y="3.29" font-size="9.2" text-anchor="middle" transform="translate(119.50,322.40) rotate(-90) scale(0.74,1)">Foxp3+</text>
<line x1="120.50" y1="351.60" x2="120.50" y2="400.60" stroke="#1a1718" stroke-width="1.3"/>
<polygon points="120.60,346.60 117.70,353.60 120.60,351.80 123.50,353.60" fill="#1a1718"/>
<text x="0" y="0" font-size="9.2" text-anchor="start" transform="translate(47.90,416.59) scale(0.73,1)">CD4+</text>
<line x1="69.30" y1="414.50" x2="109.80" y2="414.50" stroke="#1a1718" stroke-width="1.3"/>
<polygon points="114.80,414.40 107.80,411.50 109.60,414.40 107.80,417.30" fill="#1a1718"/>
<rect x="147.27" y="291.69" width="0.9" height="0.9" fill="#000" fill-opacity="0.38"/><rect x="143.11" y="280.79" width="0.9" height="0.9" fill="#000" fill-opacity="0.43"/><rect x="142.35" y="286.60" width="0.9" height="0.9" fill="#000" fill-opacity="0.40"/><rect x="149.65" y="281.66" width="0.9" height="0.9" fill="#000" fill-opacity="0.42"/><rect x="146.89" y="276.40" width="0.9" height="0.9" fill="#000" fill-opacity="0.17"/><rect x="149.63" y="287.20" width="0.9" height="0.9" fill="#000" fill-opacity="0.41"/><rect x="145.02" y="284.42" width="0.9" height="0.9" fill="#000" fill-opacity="0.49"/><rect x="145.33" y="285.19" width="0.9" height="0.9" fill="#000" fill-opacity="0.42"/><rect x="153.45" y="282.45" width="0.9" height="0.9" fill="#000" fill-opacity="0.26"/><rect x="144.80" y="289.25" width="0.9" height="0.9" fill="#000" fill-opacity="0.39"/><rect x="148.21" y="292.54" width="0.9" height="0.9" fill="#000" fill-opacity="0.33"/><rect x="146.51" y="290.59" width="0.9" height="0.9" fill="#000" fill-opacity="0.42"/><rect x="152.31" y="282.59" width="0.9" height="0.9" fill="#000" fill-opacity="0.29"/><rect x="150.82" y="291.60" width="0.9" height="0.9" fill="#000" fill-opacity="0.18"/><rect x="144.30" y="284.42" width="0.9" height="0.9" fill="#000" fill-opacity="0.15"/><rect x="152.69" y="285.34" width="0.9" height="0.9" fill="#000" fill-opacity="0.44"/><rect x="155.06" y="276.38" width="0.9" height="0.9" fill="#000" fill-opacity="0.20"/><rect x="140.89" y="292.64" width="0.9" height="0.9" fill="#000" fill-opacity="0.12"/><rect x="154.65" y="289.52" width="0.9" height="0.9" fill="#000" fill-opacity="0.31"/><rect x="155.85" y="283.25" width="0.9" height="0.9" fill="#000" fill-opacity="0.32"/><rect x="154.54" y="287.48" width="0.9" height="0.9" fill="#000" fill-opacity="0.32"/><rect x="147.66" y="282.81" width="0.9" height="0.9" fill="#000" fill-opacity="0.26"/><rect x="146.04" y="284.84" width="0.9" height="0.9" fill="#000" fill-opacity="0.48"/><rect x="147.01" y="281.87" width="0.9" height="0.9" fill="#000" fill-opacity="0.16"/><rect x="146.28" y="291.29" width="0.9" height="0.9" fill="#000" fill-opacity="0.33"/><rect x="141.44" y="282.75" width="0.9" height="0.9" fill="#000" fill-opacity="0.49"/><rect x="144.73" y="288.02" width="0.9" height="0.9" fill="#000" fill-opacity="0.36"/><rect x="153.29" y="287.43" width="0.9" height="0.9" fill="#000" fill-opacity="0.32"/><rect x="150.41" y="284.64" width="0.9" height="0.9" fill="#000" fill-opacity="0.24"/><rect x="157.32" y="286.24" width="0.9" height="0.9" fill="#000" fill-opacity="0.31"/><rect x="156.36" y="294.61" width="0.9" height="0.9" fill="#000" fill-opacity="0.38"/><rect x="154.96" y="273.26" width="0.9" height="0.9" fill="#000" fill-opacity="0.46"/><rect x="147.15" y="289.00" width="0.9" height="0.9" fill="#000" fill-opacity="0.23"/><rect x="144.26" y="287.10" width="0.9" height="0.9" fill="#000" fill-opacity="0.19"/><rect x="151.85" y="294.23" width="0.9" height="0.9" fill="#000" fill-opacity="0.35"/><rect x="141.08" y="300.76" width="0.9" height="0.9" fill="#000" fill-opacity="0.36"/><rect x="153.62" y="288.96" width="0.9" height="0.9" fill="#000" fill-opacity="0.42"/><rect x="147.05" y="295.02" width="0.9" height="0.9" fill="#000" fill-opacity="0.12"/><rect x="146.58" y="296.96" width="0.9" height="0.9" fill="#000" fill-opacity="0.34"/><rect x="147.95" y="284.55" width="0.9" height="0.9" fill="#000" fill-opacity="0.31"/><rect x="146.16" y="286.21" width="0.9" height="0.9" fill="#000" fill-opacity="0.37"/><rect x="145.40" y="285.14" width="0.9" height="0.9" fill="#000" fill-opacity="0.17"/><rect x="153.36" y="294.87" width="0.9" height="0.9" fill="#000" fill-opacity="0.16"/><rect x="151.48" y="289.42" width="0.9" height="0.9" fill="#000" fill-opacity="0.32"/><rect x="151.98" y="281.13" width="0.9" height="0.9" fill="#000" fill-opacity="0.43"/><rect x="149.98" y="287.86" width="0.9" height="0.9" fill="#000" fill-opacity="0.41"/><rect x="146.34" y="294.95" width="0.9" height="0.9" fill="#000" fill-opacity="0.25"/><rect x="150.99" y="291.13" width="0.9" height="0.9" fill="#000" fill-opacity="0.16"/><rect x="154.03" y="283.65" width="0.9" height="0.9" fill="#000" fill-opacity="0.25"/><rect x="145.31" y="289.14" width="0.9" height="0.9" fill="#000" fill-opacity="0.14"/><rect x="153.74" y="283.19" width="0.9" height="0.9" fill="#000" fill-opacity="0.48"/><rect x="143.79" y="290.23" width="0.9" height="0.9" fill="#000" fill-opacity="0.21"/><rect x="158.91" y="290.83" width="0.9" height="0.9" fill="#000" fill-opacity="0.44"/><rect x="145.71" y="297.77" width="0.9" height="0.9" fill="#000" fill-opacity="0.43"/><rect x="147.42" y="294.22" width="0.9" height="0.9" fill="#000" fill-opacity="0.48"/><rect x="149.54" y="292.71" width="0.9" height="0.9" fill="#000" fill-opacity="0.39"/><rect x="150.01" y="291.95" width="0.9" height="0.9" fill="#000" fill-opacity="0.45"/><rect x="141.76" y="288.45" width="0.9" height="0.9" fill="#000" fill-opacity="0.21"/><rect x="151.22" y="291.89" width="0.9" height="0.9" fill="#000" fill-opacity="0.19"/><rect x="152.86" y="286.78" width="0.9" height="0.9" fill="#000" fill-opacity="0.33"/><rect x="153.34" y="291.79" width="0.9" height="0.9" fill="#000" fill-opacity="0.27"/><rect x="148.05" y="288.64" width="0.9" height="0.9" fill="#000" fill-opacity="0.17"/><rect x="151.18" y="283.25" width="0.9" height="0.9" fill="#000" fill-opacity="0.21"/><rect x="150.62" y="291.51" width="0.9" height="0.9" fill="#000" fill-opacity="0.21"/><rect x="155.55" y="289.22" width="0.9" height="0.9" fill="#000" fill-opacity="0.25"/><rect x="153.10" y="294.30" width="0.9" height="0.9" fill="#000" fill-opacity="0.16"/><rect x="148.34" y="297.35" width="0.9" height="0.9" fill="#000" fill-opacity="0.17"/><rect x="141.68" y="291.00" width="0.9" height="0.9" fill="#000" fill-opacity="0.43"/><rect x="151.52" y="291.63" width="0.9" height="0.9" fill="#000" fill-opacity="0.39"/><rect x="141.59" y="296.71" width="0.9" height="0.9" fill="#000" fill-opacity="0.20"/><rect x="154.21" y="285.68" width="0.9" height="0.9" fill="#000" fill-opacity="0.21"/><rect x="147.17" y="288.36" width="0.9" height="0.9" fill="#000" fill-opacity="0.39"/><rect x="148.73" y="298.67" width="0.9" height="0.9" fill="#000" fill-opacity="0.34"/><rect x="147.17" y="290.43" width="0.9" height="0.9" fill="#000" fill-opacity="0.35"/><rect x="151.38" y="297.81" width="0.9" height="0.9" fill="#000" fill-opacity="0.17"/><rect x="143.99" y="287.02" width="0.9" height="0.9" fill="#000" fill-opacity="0.22"/><rect x="149.93" y="282.47" width="0.9" height="0.9" fill="#000" fill-opacity="0.37"/><rect x="145.97" y="285.70" width="0.9" height="0.9" fill="#000" fill-opacity="0.27"/><rect x="151.65" y="289.22" width="0.9" height="0.9" fill="#000" fill-opacity="0.44"/><rect x="146.61" y="294.47" width="0.9" height="0.9" fill="#000" fill-opacity="0.16"/><rect x="145.58" y="285.68" width="0.9" height="0.9" fill="#000" fill-opacity="0.31"/><rect x="148.89" y="289.39" width="0.9" height="0.9" fill="#000" fill-opacity="0.24"/><rect x="149.68" y="290.22" width="0.9" height="0.9" fill="#000" fill-opacity="0.39"/><rect x="148.47" y="292.73" width="0.9" height="0.9" fill="#000" fill-opacity="0.47"/><rect x="150.74" y="276.92" width="0.9" height="0.9" fill="#000" fill-opacity="0.45"/><rect x="151.68" y="290.64" width="0.9" height="0.9" fill="#000" fill-opacity="0.13"/><rect x="146.63" y="280.61" width="0.9" height="0.9" fill="#000" fill-opacity="0.25"/><rect x="143.97" y="291.53" width="0.9" height="0.9" fill="#000" fill-opacity="0.39"/><rect x="149.43" y="297.62" width="0.9" height="0.9" fill="#000" fill-opacity="0.25"/><rect x="147.47" y="285.17" width="0.9" height="0.9" fill="#000" fill-opacity="0.16"/><rect x="155.32" y="283.14" width="0.9" height="0.9" fill="#000" fill-opacity="0.39"/><rect x="150.54" y="287.92" width="0.9" height="0.9" fill="#000" fill-opacity="0.18"/><rect x="150.52" y="291.74" width="0.9" height="0.9" fill="#000" fill-opacity="0.26"/><rect x="152.95" y="288.65" width="0.9" height="0.9" fill="#000" fill-opacity="0.36"/><rect x="152.87" y="296.54" width="0.9" height="0.9" fill="#000" fill-opacity="0.34"/><rect x="148.66" y="283.65" width="0.9" height="0.9" fill="#000" fill-opacity="0.29"/><rect x="147.75" y="283.14" width="0.9" height="0.9" fill="#000" fill-opacity="0.12"/><rect x="153.11" y="279.78" width="0.9" height="0.9" fill="#000" fill-opacity="0.23"/><rect x="157.48" y="290.27" width="0.9" height="0.9" fill="#000" fill-opacity="0.35"/><rect x="152.43" y="288.69" width="0.9" height="0.9" fill="#000" fill-opacity="0.16"/><rect x="150.11" y="284.10" width="0.9" height="0.9" fill="#000" fill-opacity="0.47"/><rect x="149.34" y="285.34" width="0.9" height="0.9" fill="#000" fill-opacity="0.38"/><rect x="143.75" y="292.90" width="0.9" height="0.9" fill="#000" fill-opacity="0.43"/><rect x="148.99" y="289.76" width="0.9" height="0.9" fill="#000" fill-opacity="0.48"/><rect x="140.54" y="293.07" width="0.9" height="0.9" fill="#000" fill-opacity="0.38"/><rect x="148.77" y="277.79" width="0.9" height="0.9" fill="#000" fill-opacity="0.36"/><rect x="147.98" y="288.06" width="0.9" height="0.9" fill="#000" fill-opacity="0.39"/><rect x="144.71" y="290.26" width="0.9" height="0.9" fill="#000" fill-opacity="0.47"/><rect x="154.42" y="293.88" width="0.9" height="0.9" fill="#000" fill-opacity="0.14"/><rect x="147.07" y="278.55" width="0.9" height="0.9" fill="#000" fill-opacity="0.22"/><rect x="145.85" y="282.59" width="0.9" height="0.9" fill="#000" fill-opacity="0.21"/><rect x="153.12" y="289.33" width="0.9" height="0.9" fill="#000" fill-opacity="0.28"/><rect x="150.46" y="291.83" width="0.9" height="0.9" fill="#000" fill-opacity="0.17"/><rect x="147.64" y="280.08" width="0.9" height="0.9" fill="#000" fill-opacity="0.21"/><rect x="149.62" y="293.80" width="0.9" height="0.9" fill="#000" fill-opacity="0.29"/><rect x="153.03" y="285.65" width="0.9" height="0.9" fill="#000" fill-opacity="0.23"/><rect x="151.13" y="285.64" width="0.9" height="0.9" fill="#000" fill-opacity="0.33"/><rect x="145.39" y="295.82" width="0.9" height="0.9" fill="#000" fill-opacity="0.33"/><rect x="149.52" y="284.39" width="0.9" height="0.9" fill="#000" fill-opacity="0.37"/><rect x="145.46" y="284.19" width="0.9" height="0.9" fill="#000" fill-opacity="0.41"/><rect x="150.39" y="285.31" width="0.9" height="0.9" fill="#000" fill-opacity="0.23"/><rect x="147.48" y="290.27" width="0.9" height="0.9" fill="#000" fill-opacity="0.14"/><rect x="148.80" y="290.93" width="0.9" height="0.9" fill="#000" fill-opacity="0.39"/><rect x="147.36" y="288.37" width="0.9" height="0.9" fill="#000" fill-opacity="0.24"/><rect x="145.35" y="288.52" width="0.9" height="0.9" fill="#000" fill-opacity="0.18"/><rect x="149.92" y="287.88" width="0.9" height="0.9" fill="#000" fill-opacity="0.50"/><rect x="149.36" y="285.37" width="0.9" height="0.9" fill="#000" fill-opacity="0.39"/><rect x="154.85" y="286.72" width="0.9" height="0.9" fill="#000" fill-opacity="0.16"/><rect x="144.77" y="287.94" width="0.9" height="0.9" fill="#000" fill-opacity="0.19"/><rect x="148.81" y="287.37" width="0.9" height="0.9" fill="#000" fill-opacity="0.47"/><rect x="145.63" y="281.79" width="0.9" height="0.9" fill="#000" fill-opacity="0.48"/><rect x="147.47" y="284.31" width="0.9" height="0.9" fill="#000" fill-opacity="0.21"/><rect x="150.01" y="288.49" width="0.9" height="0.9" fill="#000" fill-opacity="0.41"/><rect x="151.27" y="283.86" width="0.9" height="0.9" fill="#000" fill-opacity="0.19"/><rect x="143.97" y="279.88" width="0.9" height="0.9" fill="#000" fill-opacity="0.47"/><rect x="153.04" y="295.49" width="0.9" height="0.9" fill="#000" fill-opacity="0.44"/><rect x="149.17" y="282.93" width="0.9" height="0.9" fill="#000" fill-opacity="0.19"/><rect x="151.07" y="283.48" width="0.9" height="0.9" fill="#000" fill-opacity="0.26"/><rect x="145.43" y="285.97" width="0.9" height="0.9" fill="#000" fill-opacity="0.44"/><rect x="149.43" y="289.06" width="0.9" height="0.9" fill="#000" fill-opacity="0.34"/><rect x="143.84" y="280.61" width="0.9" height="0.9" fill="#000" fill-opacity="0.39"/><rect x="157.92" y="280.52" width="0.9" height="0.9" fill="#000" fill-opacity="0.31"/><rect x="146.83" y="287.56" width="0.9" height="0.9" fill="#000" fill-opacity="0.23"/><rect x="147.81" y="286.51" width="0.9" height="0.9" fill="#000" fill-opacity="0.38"/><rect x="151.75" y="292.37" width="0.9" height="0.9" fill="#000" fill-opacity="0.49"/><rect x="150.39" y="288.34" width="0.9" height="0.9" fill="#000" fill-opacity="0.29"/><rect x="151.85" y="295.31" width="0.9" height="0.9" fill="#000" fill-opacity="0.12"/><rect x="153.92" y="278.95" width="0.9" height="0.9" fill="#000" fill-opacity="0.42"/><rect x="146.22" y="289.47" width="0.9" height="0.9" fill="#000" fill-opacity="0.37"/><rect x="144.87" y="287.05" width="0.9" height="0.9" fill="#000" fill-opacity="0.25"/><rect x="143.45" y="290.44" width="0.9" height="0.9" fill="#000" fill-opacity="0.43"/><rect x="151.47" y="285.78" width="0.9" height="0.9" fill="#000" fill-opacity="0.23"/><rect x="144.16" y="289.89" width="0.9" height="0.9" fill="#000" fill-opacity="0.25"/><rect x="149.96" y="289.61" width="0.9" height="0.9" fill="#000" fill-opacity="0.24"/><rect x="156.58" y="281.90" width="0.9" height="0.9" fill="#000" fill-opacity="0.49"/><rect x="155.16" y="285.83" width="0.9" height="0.9" fill="#000" fill-opacity="0.43"/><rect x="155.36" y="290.43" width="0.9" height="0.9" fill="#000" fill-opacity="0.35"/><rect x="147.72" y="294.02" width="0.9" height="0.9" fill="#000" fill-opacity="0.48"/><rect x="143.19" y="288.46" width="0.9" height="0.9" fill="#000" fill-opacity="0.23"/><rect x="144.40" y="296.56" width="0.9" height="0.9" fill="#000" fill-opacity="0.13"/><rect x="151.78" y="294.81" width="0.9" height="0.9" fill="#000" fill-opacity="0.29"/><rect x="154.79" y="291.45" width="0.9" height="0.9" fill="#000" fill-opacity="0.26"/><rect x="145.45" y="284.93" width="0.9" height="0.9" fill="#000" fill-opacity="0.32"/><rect x="145.38" y="285.48" width="0.9" height="0.9" fill="#000" fill-opacity="0.16"/><rect x="153.17" y="297.45" width="0.9" height="0.9" fill="#000" fill-opacity="0.33"/><rect x="155.87" y="294.26" width="0.9" height="0.9" fill="#000" fill-opacity="0.22"/><rect x="153.73" y="291.14" width="0.9" height="0.9" fill="#000" fill-opacity="0.22"/><rect x="143.90" y="287.99" width="0.9" height="0.9" fill="#000" fill-opacity="0.21"/><rect x="147.46" y="286.43" width="0.9" height="0.9" fill="#000" fill-opacity="0.32"/><rect x="147.86" y="286.43" width="0.9" height="0.9" fill="#000" fill-opacity="0.28"/><rect x="153.49" y="290.04" width="0.9" height="0.9" fill="#000" fill-opacity="0.45"/><rect x="142.88" y="284.98" width="0.9" height="0.9" fill="#000" fill-opacity="0.41"/><rect x="159.23" y="298.03" width="0.9" height="0.9" fill="#000" fill-opacity="0.39"/><rect x="155.84" y="293.41" width="0.9" height="0.9" fill="#000" fill-opacity="0.27"/><rect x="154.53" y="299.16" width="0.9" height="0.9" fill="#000" fill-opacity="0.33"/><rect x="149.71" y="284.76" width="0.9" height="0.9" fill="#000" fill-opacity="0.41"/><rect x="152.31" y="288.90" width="0.9" height="0.9" fill="#000" fill-opacity="0.26"/><rect x="155.10" y="288.21" width="0.9" height="0.9" fill="#000" fill-opacity="0.20"/><rect x="147.27" y="295.30" width="0.9" height="0.9" fill="#000" fill-opacity="0.28"/><rect x="153.93" y="282.88" width="0.9" height="0.9" fill="#000" fill-opacity="0.45"/><rect x="140.49" y="283.07" width="0.9" height="0.9" fill="#000" fill-opacity="0.45"/><rect x="152.85" y="295.04" width="0.9" height="0.9" fill="#000" fill-opacity="0.25"/><rect x="149.91" y="279.72" width="0.9" height="0.9" fill="#000" fill-opacity="0.43"/><rect x="152.33" y="291.05" width="0.9" height="0.9" fill="#000" fill-opacity="0.40"/><rect x="155.86" y="284.88" width="0.9" height="0.9" fill="#000" fill-opacity="0.14"/><rect x="147.78" y="286.10" width="0.9" height="0.9" fill="#000" fill-opacity="0.33"/><rect x="150.04" y="285.14" width="0.9" height="0.9" fill="#000" fill-opacity="0.47"/><rect x="147.86" y="284.00" width="0.9" height="0.9" fill="#000" fill-opacity="0.19"/><rect x="141.60" y="290.81" width="0.9" height="0.9" fill="#000" fill-opacity="0.34"/><rect x="150.02" y="288.25" width="0.9" height="0.9" fill="#000" fill-opacity="0.16"/><rect x="150.21" y="284.39" width="0.9" height="0.9" fill="#000" fill-opacity="0.33"/><rect x="147.72" y="295.23" width="0.9" height="0.9" fill="#000" fill-opacity="0.26"/><rect x="154.76" y="295.90" width="0.9" height="0.9" fill="#000" fill-opacity="0.32"/><rect x="146.45" y="278.77" width="0.9" height="0.9" fill="#000" fill-opacity="0.48"/><rect x="153.27" y="287.96" width="0.9" height="0.9" fill="#000" fill-opacity="0.18"/><rect x="140.61" y="287.43" width="0.9" height="0.9" fill="#000" fill-opacity="0.42"/><rect x="152.01" y="288.28" width="0.9" height="0.9" fill="#000" fill-opacity="0.43"/><rect x="147.51" y="282.86" width="0.9" height="0.9" fill="#000" fill-opacity="0.30"/><rect x="153.88" y="295.97" width="0.9" height="0.9" fill="#000" fill-opacity="0.27"/><rect x="153.48" y="282.44" width="0.9" height="0.9" fill="#000" fill-opacity="0.15"/><rect x="147.92" y="290.74" width="0.9" height="0.9" fill="#000" fill-opacity="0.46"/><rect x="148.26" y="286.72" width="0.9" height="0.9" fill="#000" fill-opacity="0.18"/><rect x="146.25" y="292.03" width="0.9" height="0.9" fill="#000" fill-opacity="0.34"/><rect x="146.29" y="290.70" width="0.9" height="0.9" fill="#000" fill-opacity="0.12"/><rect x="145.94" y="285.31" width="0.9" height="0.9" fill="#000" fill-opacity="0.13"/><rect x="151.67" y="288.37" width="0.9" height="0.9" fill="#000" fill-opacity="0.37"/><rect x="148.86" y="291.66" width="0.9" height="0.9" fill="#000" fill-opacity="0.31"/><rect x="148.93" y="294.28" width="0.9" height="0.9" fill="#000" fill-opacity="0.32"/><rect x="162.26" y="283.22" width="0.9" height="0.9" fill="#000" fill-opacity="0.13"/><rect x="142.50" y="284.23" width="0.9" height="0.9" fill="#000" fill-opacity="0.45"/><rect x="150.28" y="280.27" width="0.9" height="0.9" fill="#000" fill-opacity="0.36"/><rect x="147.07" y="290.76" width="0.9" height="0.9" fill="#000" fill-opacity="0.42"/><rect x="156.43" y="278.74" width="0.9" height="0.9" fill="#000" fill-opacity="0.38"/><rect x="146.92" y="295.87" width="0.9" height="0.9" fill="#000" fill-opacity="0.40"/><rect x="143.25" y="287.14" width="0.9" height="0.9" fill="#000" fill-opacity="0.25"/><rect x="145.18" y="285.89" width="0.9" height="0.9" fill="#000" fill-opacity="0.14"/><rect x="147.37" y="291.47" width="0.9" height="0.9" fill="#000" fill-opacity="0.50"/><rect x="145.26" y="288.13" width="0.9" height="0.9" fill="#000" fill-opacity="0.21"/><rect x="149.73" y="292.35" width="0.9" height="0.9" fill="#000" fill-opacity="0.17"/><rect x="158.04" y="288.03" width="0.9" height="0.9" fill="#000" fill-opacity="0.29"/><rect x="144.10" y="289.81" width="0.9" height="0.9" fill="#000" fill-opacity="0.23"/><rect x="150.13" y="289.23" width="0.9" height="0.9" fill="#000" fill-opacity="0.23"/><rect x="146.86" y="295.37" width="0.9" height="0.9" fill="#000" fill-opacity="0.33"/><rect x="152.97" y="285.73" width="0.9" height="0.9" fill="#000" fill-opacity="0.47"/><rect x="147.83" y="286.49" width="0.9" height="0.9" fill="#000" fill-opacity="0.19"/><rect x="144.73" y="294.57" width="0.9" height="0.9" fill="#000" fill-opacity="0.28"/><rect x="150.44" y="286.12" width="0.9" height="0.9" fill="#000" fill-opacity="0.30"/><rect x="152.13" y="285.08" width="0.9" height="0.9" fill="#000" fill-opacity="0.22"/><rect x="151.90" y="288.00" width="0.9" height="0.9" fill="#000" fill-opacity="0.22"/><rect x="148.50" y="284.05" width="0.9" height="0.9" fill="#000" fill-opacity="0.27"/><rect x="151.14" y="294.28" width="0.9" height="0.9" fill="#000" fill-opacity="0.45"/><rect x="147.65" y="284.79" width="0.9" height="0.9" fill="#000" fill-opacity="0.40"/><rect x="155.02" y="285.93" width="0.9" height="0.9" fill="#000" fill-opacity="0.15"/><rect x="152.55" y="277.67" width="0.9" height="0.9" fill="#000" fill-opacity="0.25"/><rect x="151.16" y="290.09" width="0.9" height="0.9" fill="#000" fill-opacity="0.32"/><rect x="153.71" y="282.31" width="0.9" height="0.9" fill="#000" fill-opacity="0.47"/><rect x="150.25" y="292.05" width="0.9" height="0.9" fill="#000" fill-opacity="0.40"/><rect x="146.75" y="283.28" width="0.9" height="0.9" fill="#000" fill-opacity="0.38"/><rect x="148.57" y="289.07" width="0.9" height="0.9" fill="#000" fill-opacity="0.28"/><rect x="155.14" y="289.61" width="0.9" height="0.9" fill="#000" fill-opacity="0.25"/><rect x="143.55" y="287.80" width="0.9" height="0.9" fill="#000" fill-opacity="0.22"/><rect x="148.66" y="287.75" width="0.9" height="0.9" fill="#000" fill-opacity="0.47"/><rect x="154.92" y="290.02" width="0.9" height="0.9" fill="#000" fill-opacity="0.40"/><rect x="148.44" y="289.57" width="0.9" height="0.9" fill="#000" fill-opacity="0.18"/><rect x="153.93" y="294.48" width="0.9" height="0.9" fill="#000" fill-opacity="0.15"/><rect x="151.12" y="282.53" width="0.9" height="0.9" fill="#000" fill-opacity="0.32"/><rect x="144.70" y="284.06" width="0.9" height="0.9" fill="#000" fill-opacity="0.37"/><rect x="146.25" y="284.77" width="0.9" height="0.9" fill="#000" fill-opacity="0.40"/><rect x="149.02" y="295.74" width="0.9" height="0.9" fill="#000" fill-opacity="0.41"/><rect x="149.95" y="283.14" width="0.9" height="0.9" fill="#000" fill-opacity="0.41"/><rect x="154.03" y="286.74" width="0.9" height="0.9" fill="#000" fill-opacity="0.23"/><rect x="149.74" y="288.07" width="0.9" height="0.9" fill="#000" fill-opacity="0.30"/><rect x="145.19" y="280.12" width="0.9" height="0.9" fill="#000" fill-opacity="0.26"/><rect x="152.44" y="287.30" width="0.9" height="0.9" fill="#000" fill-opacity="0.41"/><rect x="150.21" y="288.21" width="0.9" height="0.9" fill="#000" fill-opacity="0.17"/><rect x="154.07" y="289.82" width="0.9" height="0.9" fill="#000" fill-opacity="0.33"/><rect x="153.58" y="298.76" width="0.9" height="0.9" fill="#000" fill-opacity="0.26"/><rect x="150.94" y="290.17" width="0.9" height="0.9" fill="#000" fill-opacity="0.40"/><rect x="151.60" y="286.09" width="0.9" height="0.9" fill="#000" fill-opacity="0.13"/><rect x="149.91" y="283.73" width="0.9" height="0.9" fill="#000" fill-opacity="0.49"/><rect x="143.24" y="287.60" width="0.9" height="0.9" fill="#000" fill-opacity="0.25"/><rect x="150.84" y="282.07" width="0.9" height="0.9" fill="#000" fill-opacity="0.24"/><rect x="151.04" y="286.13" width="0.9" height="0.9" fill="#000" fill-opacity="0.40"/><rect x="155.03" y="290.54" width="0.9" height="0.9" fill="#000" fill-opacity="0.27"/><rect x="150.34" y="286.17" width="0.9" height="0.9" fill="#000" fill-opacity="0.33"/><rect x="141.21" y="293.80" width="0.9" height="0.9" fill="#000" fill-opacity="0.48"/><rect x="147.21" y="284.90" width="0.9" height="0.9" fill="#000" fill-opacity="0.22"/><rect x="149.00" y="293.08" width="0.9" height="0.9" fill="#000" fill-opacity="0.21"/><rect x="151.45" y="295.95" width="0.9" height="0.9" fill="#000" fill-opacity="0.36"/><rect x="150.51" y="294.15" width="0.9" height="0.9" fill="#000" fill-opacity="0.18"/><rect x="155.01" y="279.60" width="0.9" height="0.9" fill="#000" fill-opacity="0.22"/><rect x="149.43" y="277.88" width="0.9" height="0.9" fill="#000" fill-opacity="0.23"/><rect x="146.92" y="292.78" width="0.9" height="0.9" fill="#000" fill-opacity="0.46"/><rect x="152.79" y="294.25" width="0.9" height="0.9" fill="#000" fill-opacity="0.35"/><rect x="143.94" y="289.54" width="0.9" height="0.9" fill="#000" fill-opacity="0.46"/><rect x="151.58" y="297.99" width="0.9" height="0.9" fill="#000" fill-opacity="0.26"/><rect x="150.95" y="277.36" width="0.9" height="0.9" fill="#000" fill-opacity="0.19"/><rect x="158.51" y="274.82" width="0.9" height="0.9" fill="#000" fill-opacity="0.23"/><rect x="151.42" y="287.94" width="0.9" height="0.9" fill="#000" fill-opacity="0.49"/><rect x="158.81" y="288.23" width="0.9" height="0.9" fill="#000" fill-opacity="0.18"/><rect x="149.18" y="285.20" width="0.9" height="0.9" fill="#000" fill-opacity="0.18"/><rect x="148.58" y="285.49" width="0.9" height="0.9" fill="#000" fill-opacity="0.25"/><rect x="155.30" y="283.51" width="0.9" height="0.9" fill="#000" fill-opacity="0.46"/><rect x="150.45" y="287.38" width="0.9" height="0.9" fill="#000" fill-opacity="0.21"/><rect x="151.07" y="279.87" width="0.9" height="0.9" fill="#000" fill-opacity="0.13"/><rect x="146.23" y="287.44" width="0.9" height="0.9" fill="#000" fill-opacity="0.28"/><rect x="150.03" y="288.19" width="0.9" height="0.9" fill="#000" fill-opacity="0.50"/><rect x="145.77" y="297.31" width="0.9" height="0.9" fill="#000" fill-opacity="0.17"/><rect x="147.03" y="287.77" width="0.9" height="0.9" fill="#000" fill-opacity="0.28"/><rect x="152.17" y="294.68" width="0.9" height="0.9" fill="#000" fill-opacity="0.18"/><rect x="148.97" y="281.44" width="0.9" height="0.9" fill="#000" fill-opacity="0.16"/><rect x="146.30" y="292.39" width="0.9" height="0.9" fill="#000" fill-opacity="0.47"/><rect x="147.60" y="290.49" width="0.9" height="0.9" fill="#000" fill-opacity="0.49"/><rect x="154.53" y="281.90" width="0.9" height="0.9" fill="#000" fill-opacity="0.22"/><rect x="150.84" y="291.21" width="0.9" height="0.9" fill="#000" fill-opacity="0.15"/><rect x="154.29" y="289.21" width="0.9" height="0.9" fill="#000" fill-opacity="0.28"/><rect x="145.52" y="285.83" width="0.9" height="0.9" fill="#000" fill-opacity="0.12"/><rect x="146.98" y="280.55" width="0.9" height="0.9" fill="#000" fill-opacity="0.33"/><rect x="143.07" y="285.15" width="0.9" height="0.9" fill="#000" fill-opacity="0.49"/><rect x="154.16" y="281.67" width="0.9" height="0.9" fill="#000" fill-opacity="0.27"/><rect x="147.49" y="292.48" width="0.9" height="0.9" fill="#000" fill-opacity="0.49"/><rect x="146.13" y="290.89" width="0.9" height="0.9" fill="#000" fill-opacity="0.28"/><rect x="155.23" y="287.78" width="0.9" height="0.9" fill="#000" fill-opacity="0.47"/><rect x="149.18" y="294.69" width="0.9" height="0.9" fill="#000" fill-opacity="0.26"/><rect x="149.52" y="291.00" width="0.9" height="0.9" fill="#000" fill-opacity="0.16"/><rect x="153.50" y="279.96" width="0.9" height="0.9" fill="#000" fill-opacity="0.47"/><rect x="155.65" y="290.00" width="0.9" height="0.9" fill="#000" fill-opacity="0.24"/><rect x="146.06" y="282.33" width="0.9" height="0.9" fill="#000" fill-opacity="0.24"/><rect x="149.53" y="287.51" width="0.9" height="0.9" fill="#000" fill-opacity="0.40"/><rect x="152.46" y="282.61" width="0.9" height="0.9" fill="#000" fill-opacity="0.35"/><rect x="152.49" y="287.42" width="0.9" height="0.9" fill="#000" fill-opacity="0.36"/><rect x="149.17" y="282.48" width="0.9" height="0.9" fill="#000" fill-opacity="0.39"/><rect x="145.23" y="291.49" width="0.9" height="0.9" fill="#000" fill-opacity="0.35"/><rect x="147.68" y="283.44" width="0.9" height="0.9" fill="#000" fill-opacity="0.36"/><rect x="146.40" y="286.56" width="0.9" height="0.9" fill="#000" fill-opacity="0.35"/><rect x="148.47" y="298.88" width="0.9" height="0.9" fill="#000" fill-opacity="0.30"/><rect x="148.42" y="281.33" width="0.9" height="0.9" fill="#000" fill-opacity="0.30"/><rect x="149.78" y="290.38" width="0.9" height="0.9" fill="#000" fill-opacity="0.47"/><rect x="144.20" y="286.41" width="0.9" height="0.9" fill="#000" fill-opacity="0.32"/><rect x="150.58" y="284.01" width="0.9" height="0.9" fill="#000" fill-opacity="0.19"/>
<rect x="171.00" y="265.45" width="0.9" height="0.9" fill="#000" fill-opacity="0.22"/><rect x="174.29" y="263.18" width="0.9" height="0.9" fill="#000" fill-opacity="0.27"/><rect x="173.99" y="268.73" width="0.9" height="0.9" fill="#000" fill-opacity="0.26"/><rect x="169.23" y="266.84" width="0.9" height="0.9" fill="#000" fill-opacity="0.11"/><rect x="167.82" y="269.26" width="0.9" height="0.9" fill="#000" fill-opacity="0.16"/><rect x="170.44" y="265.07" width="0.9" height="0.9" fill="#000" fill-opacity="0.18"/><rect x="173.40" y="269.42" width="0.9" height="0.9" fill="#000" fill-opacity="0.30"/><rect x="165.45" y="265.38" width="0.9" height="0.9" fill="#000" fill-opacity="0.19"/><rect x="171.12" y="263.87" width="0.9" height="0.9" fill="#000" fill-opacity="0.11"/><rect x="165.21" y="265.80" width="0.9" height="0.9" fill="#000" fill-opacity="0.19"/><rect x="168.34" y="270.55" width="0.9" height="0.9" fill="#000" fill-opacity="0.15"/><rect x="166.95" y="268.38" width="0.9" height="0.9" fill="#000" fill-opacity="0.12"/><rect x="165.82" y="267.67" width="0.9" height="0.9" fill="#000" fill-opacity="0.12"/><rect x="166.82" y="266.01" width="0.9" height="0.9" fill="#000" fill-opacity="0.15"/><rect x="168.48" y="272.97" width="0.9" height="0.9" fill="#000" fill-opacity="0.10"/><rect x="159.41" y="264.17" width="0.9" height="0.9" fill="#000" fill-opacity="0.12"/><rect x="157.64" y="270.19" width="0.9" height="0.9" fill="#000" fill-opacity="0.22"/><rect x="166.50" y="268.61" width="0.9" height="0.9" fill="#000" fill-opacity="0.18"/><rect x="160.96" y="271.09" width="0.9" height="0.9" fill="#000" fill-opacity="0.14"/><rect x="159.98" y="270.10" width="0.9" height="0.9" fill="#000" fill-opacity="0.26"/><rect x="164.00" y="270.10" width="0.9" height="0.9" fill="#000" fill-opacity="0.21"/><rect x="171.63" y="267.28" width="0.9" height="0.9" fill="#000" fill-opacity="0.29"/><rect x="166.36" y="265.61" width="0.9" height="0.9" fill="#000" fill-opacity="0.23"/><rect x="166.66" y="268.92" width="0.9" height="0.9" fill="#000" fill-opacity="0.25"/><rect x="162.08" y="270.23" width="0.9" height="0.9" fill="#000" fill-opacity="0.19"/><rect x="176.75" y="265.51" width="0.9" height="0.9" fill="#000" fill-opacity="0.09"/><rect x="161.80" y="266.46" width="0.9" height="0.9" fill="#000" fill-opacity="0.18"/><rect x="171.44" y="265.77" width="0.9" height="0.9" fill="#000" fill-opacity="0.18"/><rect x="173.25" y="266.27" width="0.9" height="0.9" fill="#000" fill-opacity="0.19"/><rect x="155.75" y="267.69" width="0.9" height="0.9" fill="#000" fill-opacity="0.23"/><rect x="167.45" y="265.42" width="0.9" height="0.9" fill="#000" fill-opacity="0.09"/><rect x="164.33" y="265.06" width="0.9" height="0.9" fill="#000" fill-opacity="0.25"/><rect x="168.26" y="266.76" width="0.9" height="0.9" fill="#000" fill-opacity="0.13"/><rect x="178.46" y="270.28" width="0.9" height="0.9" fill="#000" fill-opacity="0.10"/><rect x="177.10" y="270.34" width="0.9" height="0.9" fill="#000" fill-opacity="0.20"/><rect x="177.09" y="269.38" width="0.9" height="0.9" fill="#000" fill-opacity="0.24"/><rect x="165.68" y="268.14" width="0.9" height="0.9" fill="#000" fill-opacity="0.23"/><rect x="160.36" y="269.75" width="0.9" height="0.9" fill="#000" fill-opacity="0.30"/><rect x="173.22" y="263.24" width="0.9" height="0.9" fill="#000" fill-opacity="0.11"/><rect x="163.88" y="270.76" width="0.9" height="0.9" fill="#000" fill-opacity="0.08"/><rect x="173.05" y="267.90" width="0.9" height="0.9" fill="#000" fill-opacity="0.14"/><rect x="165.93" y="269.89" width="0.9" height="0.9" fill="#000" fill-opacity="0.27"/><rect x="160.55" y="266.98" width="0.9" height="0.9" fill="#000" fill-opacity="0.17"/><rect x="173.11" y="268.75" width="0.9" height="0.9" fill="#000" fill-opacity="0.27"/><rect x="171.96" y="263.20" width="0.9" height="0.9" fill="#000" fill-opacity="0.14"/><rect x="168.48" y="268.86" width="0.9" height="0.9" fill="#000" fill-opacity="0.20"/><rect x="162.75" y="270.12" width="0.9" height="0.9" fill="#000" fill-opacity="0.19"/><rect x="162.49" y="266.80" width="0.9" height="0.9" fill="#000" fill-opacity="0.26"/><rect x="172.33" y="273.60" width="0.9" height="0.9" fill="#000" fill-opacity="0.20"/><rect x="173.21" y="268.76" width="0.9" height="0.9" fill="#000" fill-opacity="0.20"/><rect x="160.80" y="269.87" width="0.9" height="0.9" fill="#000" fill-opacity="0.15"/><rect x="166.14" y="272.64" width="0.9" height="0.9" fill="#000" fill-opacity="0.14"/><rect x="164.98" y="263.51" width="0.9" height="0.9" fill="#000" fill-opacity="0.21"/><rect x="153.27" y="269.76" width="0.9" height="0.9" fill="#000" fill-opacity="0.18"/><rect x="169.47" y="267.43" width="0.9" height="0.9" fill="#000" fill-opacity="0.18"/><rect x="166.53" y="267.42" width="0.9" height="0.9" fill="#000" fill-opacity="0.27"/><rect x="175.73" y="269.58" width="0.9" height="0.9" fill="#000" fill-opacity="0.12"/><rect x="175.22" y="266.49" width="0.9" height="0.9" fill="#000" fill-opacity="0.26"/><rect x="158.12" y="268.09" width="0.9" height="0.9" fill="#000" fill-opacity="0.23"/><rect x="166.60" y="269.77" width="0.9" height="0.9" fill="#000" fill-opacity="0.26"/><rect x="176.70" y="272.66" width="0.9" height="0.9" fill="#000" fill-opacity="0.13"/><rect x="170.19" y="268.74" width="0.9" height="0.9" fill="#000" fill-opacity="0.25"/><rect x="174.26" y="267.23" width="0.9" height="0.9" fill="#000" fill-opacity="0.22"/><rect x="167.18" y="273.70" width="0.9" height="0.9" fill="#000" fill-opacity="0.23"/><rect x="169.10" y="268.78" width="0.9" height="0.9" fill="#000" fill-opacity="0.23"/><rect x="179.79" y="269.33" width="0.9" height="0.9" fill="#000" fill-opacity="0.14"/><rect x="168.78" y="271.46" width="0.9" height="0.9" fill="#000" fill-opacity="0.15"/><rect x="164.36" y="267.49" width="0.9" height="0.9" fill="#000" fill-opacity="0.28"/><rect x="162.23" y="272.50" width="0.9" height="0.9" fill="#000" fill-opacity="0.11"/><rect x="173.40" y="261.12" width="0.9" height="0.9" fill="#000" fill-opacity="0.17"/><rect x="174.07" y="268.57" width="0.9" height="0.9" fill="#000" fill-opacity="0.22"/><rect x="169.21" y="271.27" width="0.9" height="0.9" fill="#000" fill-opacity="0.10"/><rect x="157.62" y="268.98" width="0.9" height="0.9" fill="#000" fill-opacity="0.17"/><rect x="166.47" y="266.89" width="0.9" height="0.9" fill="#000" fill-opacity="0.26"/><rect x="178.45" y="272.14" width="0.9" height="0.9" fill="#000" fill-opacity="0.30"/><rect x="175.23" y="266.87" width="0.9" height="0.9" fill="#000" fill-opacity="0.14"/><rect x="161.60" y="271.59" width="0.9" height="0.9" fill="#000" fill-opacity="0.19"/><rect x="170.45" y="267.56" width="0.9" height="0.9" fill="#000" fill-opacity="0.19"/><rect x="173.61" y="265.40" width="0.9" height="0.9" fill="#000" fill-opacity="0.20"/><rect x="170.88" y="268.80" width="0.9" height="0.9" fill="#000" fill-opacity="0.14"/><rect x="177.68" y="264.92" width="0.9" height="0.9" fill="#000" fill-opacity="0.13"/><rect x="169.33" y="267.75" width="0.9" height="0.9" fill="#000" fill-opacity="0.21"/><rect x="173.70" y="267.56" width="0.9" height="0.9" fill="#000" fill-opacity="0.29"/><rect x="166.70" y="267.36" width="0.9" height="0.9" fill="#000" fill-opacity="0.15"/><rect x="163.19" y="268.66" width="0.9" height="0.9" fill="#000" fill-opacity="0.24"/><rect x="172.80" y="272.18" width="0.9" height="0.9" fill="#000" fill-opacity="0.15"/><rect x="175.39" y="269.46" width="0.9" height="0.9" fill="#000" fill-opacity="0.10"/><rect x="157.00" y="266.59" width="0.9" height="0.9" fill="#000" fill-opacity="0.21"/><rect x="166.20" y="268.21" width="0.9" height="0.9" fill="#000" fill-opacity="0.19"/><rect x="175.53" y="270.20" width="0.9" height="0.9" fill="#000" fill-opacity="0.11"/><rect x="162.50" y="266.91" width="0.9" height="0.9" fill="#000" fill-opacity="0.16"/><rect x="165.83" y="266.72" width="0.9" height="0.9" fill="#000" fill-opacity="0.12"/><rect x="173.30" y="267.21" width="0.9" height="0.9" fill="#000" fill-opacity="0.27"/><rect x="173.06" y="265.93" width="0.9" height="0.9" fill="#000" fill-opacity="0.11"/><rect x="178.95" y="271.03" width="0.9" height="0.9" fill="#000" fill-opacity="0.11"/><rect x="159.80" y="268.13" width="0.9" height="0.9" fill="#000" fill-opacity="0.11"/><rect x="164.04" y="268.36" width="0.9" height="0.9" fill="#000" fill-opacity="0.20"/><rect x="161.64" y="267.94" width="0.9" height="0.9" fill="#000" fill-opacity="0.12"/><rect x="164.24" y="269.05" width="0.9" height="0.9" fill="#000" fill-opacity="0.11"/><rect x="168.69" y="273.31" width="0.9" height="0.9" fill="#000" fill-opacity="0.19"/><rect x="168.73" y="267.76" width="0.9" height="0.9" fill="#000" fill-opacity="0.29"/><rect x="156.38" y="268.39" width="0.9" height="0.9" fill="#000" fill-opacity="0.21"/><rect x="166.09" y="266.31" width="0.9" height="0.9" fill="#000" fill-opacity="0.25"/><rect x="170.75" y="269.72" width="0.9" height="0.9" fill="#000" fill-opacity="0.09"/><rect x="161.70" y="270.00" width="0.9" height="0.9" fill="#000" fill-opacity="0.14"/><rect x="169.96" y="267.36" width="0.9" height="0.9" fill="#000" fill-opacity="0.21"/><rect x="168.73" y="271.53" width="0.9" height="0.9" fill="#000" fill-opacity="0.25"/><rect x="167.28" y="267.15" width="0.9" height="0.9" fill="#000" fill-opacity="0.13"/><rect x="152.79" y="263.72" width="0.9" height="0.9" fill="#000" fill-opacity="0.09"/><rect x="160.51" y="265.35" width="0.9" height="0.9" fill="#000" fill-opacity="0.26"/>
<defs><radialGradient id="g221"><stop offset="0" stop-color="#000" stop-opacity="0.45"/><stop offset="0.55" stop-color="#000" stop-opacity="0.3825"/><stop offset="1" stop-color="#000" stop-opacity="0"/></radialGradient></defs>
<ellipse cx="149.80" cy="286.50" rx="6.00" ry="6.50" fill="url(#g221)"/>
<line x1="159.50" y1="237.90" x2="159.50" y2="302.80" stroke="#555" stroke-width="0.8"/>
<line x1="139.30" y1="275.50" x2="200.80" y2="275.50" stroke="#555" stroke-width="0.8"/>
<rect x="139.30" y="237.90" width="61.50" height="64.90" fill="none" stroke="#2a2a2a" stroke-width="1.25"/>
<text x="136.70" y="306.63" font-size="6.8" text-anchor="end">10<tspan font-size="4.08" dx="0.54" dy="-2.86">0</tspan></text>
<text x="136.70" y="290.41" font-size="6.8" text-anchor="end">10<tspan font-size="4.08" dx="0.54" dy="-2.86">1</tspan></text>
<text x="136.70" y="274.18" font-size="6.8" text-anchor="end">10<tspan font-size="4.08" dx="0.54" dy="-2.86">2</tspan></text>
<text x="136.70" y="257.96" font-size="6.8" text-anchor="end">10<tspan font-size="4.08" dx="0.54" dy="-2.86">3</tspan></text>
<text x="136.70" y="241.73" font-size="6.8" text-anchor="end">10<tspan font-size="4.08" dx="0.54" dy="-2.86">4</tspan></text>
<text x="140.80" y="313.83" font-size="6.8" text-anchor="middle">10<tspan font-size="4.08" dx="0.54" dy="-2.86">0</tspan></text>
<text x="155.48" y="313.83" font-size="6.8" text-anchor="middle">10<tspan font-size="4.08" dx="0.54" dy="-2.86">1</tspan></text>
<text x="170.15" y="313.83" font-size="6.8" text-anchor="middle">10<tspan font-size="4.08" dx="0.54" dy="-2.86">2</tspan></text>
<text x="184.83" y="313.83" font-size="6.8" text-anchor="middle">10<tspan font-size="4.08" dx="0.54" dy="-2.86">3</tspan></text>
<text x="199.50" y="313.83" font-size="6.8" text-anchor="middle">10<tspan font-size="4.08" dx="0.54" dy="-2.86">4</tspan></text>
<text x="197.30" y="244.86" font-size="6.3" text-anchor="end">9.79%</text>
<rect x="225.76" y="295.49" width="0.9" height="0.9" fill="#000" fill-opacity="0.30"/><rect x="230.61" y="287.18" width="0.9" height="0.9" fill="#000" fill-opacity="0.48"/><rect x="226.31" y="290.34" width="0.9" height="0.9" fill="#000" fill-opacity="0.15"/><rect x="230.28" y="296.01" width="0.9" height="0.9" fill="#000" fill-opacity="0.38"/><rect x="232.35" y="291.44" width="0.9" height="0.9" fill="#000" fill-opacity="0.17"/><rect x="231.02" y="291.02" width="0.9" height="0.9" fill="#000" fill-opacity="0.25"/><rect x="244.67" y="284.86" width="0.9" height="0.9" fill="#000" fill-opacity="0.42"/><rect x="225.05" y="288.32" width="0.9" height="0.9" fill="#000" fill-opacity="0.42"/><rect x="236.06" y="282.81" width="0.9" height="0.9" fill="#000" fill-opacity="0.36"/><rect x="231.95" y="294.46" width="0.9" height="0.9" fill="#000" fill-opacity="0.44"/><rect x="230.48" y="285.32" width="0.9" height="0.9" fill="#000" fill-opacity="0.39"/><rect x="228.56" y="290.06" width="0.9" height="0.9" fill="#000" fill-opacity="0.49"/><rect x="226.73" y="279.94" width="0.9" height="0.9" fill="#000" fill-opacity="0.17"/><rect x="234.84" y="276.77" width="0.9" height="0.9" fill="#000" fill-opacity="0.46"/><rect x="229.79" y="277.73" width="0.9" height="0.9" fill="#000" fill-opacity="0.42"/><rect x="226.17" y="284.56" width="0.9" height="0.9" fill="#000" fill-opacity="0.43"/><rect x="231.92" y="277.27" width="0.9" height="0.9" fill="#000" fill-opacity="0.23"/><rect x="235.19" y="285.99" width="0.9" height="0.9" fill="#000" fill-opacity="0.48"/><rect x="238.49" y="296.65" width="0.9" height="0.9" fill="#000" fill-opacity="0.42"/><rect x="229.95" y="297.48" width="0.9" height="0.9" fill="#000" fill-opacity="0.21"/><rect x="231.58" y="293.00" width="0.9" height="0.9" fill="#000" fill-opacity="0.21"/><rect x="220.66" y="288.08" width="0.9" height="0.9" fill="#000" fill-opacity="0.38"/><rect x="228.99" y="282.52" width="0.9" height="0.9" fill="#000" fill-opacity="0.42"/><rect x="231.81" y="279.96" width="0.9" height="0.9" fill="#000" fill-opacity="0.48"/><rect x="232.06" y="282.83" width="0.9" height="0.9" fill="#000" fill-opacity="0.15"/><rect x="225.35" y="279.46" width="0.9" height="0.9" fill="#000" fill-opacity="0.25"/><rect x="223.28" y="282.00" width="0.9" height="0.9" fill="#000" fill-opacity="0.42"/><rect x="235.03" y="287.72" width="0.9" height="0.9" fill="#000" fill-opacity="0.13"/><rect x="236.09" y="293.64" width="0.9" height="0.9" fill="#000" fill-opacity="0.28"/><rect x="226.29" y="284.03" width="0.9" height="0.9" fill="#000" fill-opacity="0.25"/><rect x="230.96" y="292.28" width="0.9" height="0.9" fill="#000" fill-opacity="0.44"/><rect x="227.43" y="284.61" width="0.9" height="0.9" fill="#000" fill-opacity="0.15"/><rect x="229.17" y="295.56" width="0.9" height="0.9" fill="#000" fill-opacity="0.29"/><rect x="225.91" y="279.55" width="0.9" height="0.9" fill="#000" fill-opacity="0.17"/><rect x="229.54" y="286.17" width="0.9" height="0.9" fill="#000" fill-opacity="0.43"/><rect x="231.43" y="291.34" width="0.9" height="0.9" fill="#000" fill-opacity="0.48"/><rect x="228.06" y="290.37" width="0.9" height="0.9" fill="#000" fill-opacity="0.46"/><rect x="223.04" y="280.52" width="0.9" height="0.9" fill="#000" fill-opacity="0.27"/><rect x="233.06" y="296.65" width="0.9" height="0.9" fill="#000" fill-opacity="0.18"/><rect x="229.94" y="287.53" width="0.9" height="0.9" fill="#000" fill-opacity="0.19"/><rect x="234.50" y="285.61" width="0.9" height="0.9" fill="#000" fill-opacity="0.43"/><rect x="230.03" y="292.40" width="0.9" height="0.9" fill="#000" fill-opacity="0.16"/><rect x="221.95" y="284.19" width="0.9" height="0.9" fill="#000" fill-opacity="0.32"/><rect x="222.99" y="295.91" width="0.9" height="0.9" fill="#000" fill-opacity="0.46"/><rect x="229.19" y="285.76" width="0.9" height="0.9" fill="#000" fill-opacity="0.36"/><rect x="225.96" y="293.39" width="0.9" height="0.9" fill="#000" fill-opacity="0.36"/><rect x="226.33" y="291.99" width="0.9" height="0.9" fill="#000" fill-opacity="0.38"/><rect x="234.26" y="284.19" width="0.9" height="0.9" fill="#000" fill-opacity="0.26"/><rect x="231.51" y="287.28" width="0.9" height="0.9" fill="#000" fill-opacity="0.44"/><rect x="227.82" y="281.48" width="0.9" height="0.9" fill="#000" fill-opacity="0.29"/><rect x="230.11" y="276.60" width="0.9" height="0.9" fill="#000" fill-opacity="0.40"/><rect x="230.05" y="286.16" width="0.9" height="0.9" fill="#000" fill-opacity="0.24"/><rect x="236.98" y="297.30" width="0.9" height="0.9" fill="#000" fill-opacity="0.46"/><rect x="233.57" y="293.01" width="0.9" height="0.9" fill="#000" fill-opacity="0.34"/><rect x="234.16" y="289.05" width="0.9" height="0.9" fill="#000" fill-opacity="0.40"/><rect x="227.85" y="284.27" width="0.9" height="0.9" fill="#000" fill-opacity="0.41"/><rect x="228.67" y="293.85" width="0.9" height="0.9" fill="#000" fill-opacity="0.28"/><rect x="236.21" y="286.52" width="0.9" height="0.9" fill="#000" fill-opacity="0.43"/><rect x="228.17" y="282.99" width="0.9" height="0.9" fill="#000" fill-opacity="0.49"/><rect x="228.40" y="279.84" width="0.9" height="0.9" fill="#000" fill-opacity="0.23"/><rect x="233.01" y="293.34" width="0.9" height="0.9" fill="#000" fill-opacity="0.43"/><rect x="231.13" y="282.93" width="0.9" height="0.9" fill="#000" fill-opacity="0.17"/><rect x="221.28" y="286.48" width="0.9" height="0.9" fill="#000" fill-opacity="0.18"/><rect x="229.86" y="284.38" width="0.9" height="0.9" fill="#000" fill-opacity="0.24"/><rect x="233.46" y="288.99" width="0.9" height="0.9" fill="#000" fill-opacity="0.27"/><rect x="240.82" y="284.80" width="0.9" height="0.9" fill="#000" fill-opacity="0.19"/><rect x="226.29" y="299.17" width="0.9" height="0.9" fill="#000" fill-opacity="0.19"/><rect x="228.06" y="292.59" width="0.9" height="0.9" fill="#000" fill-opacity="0.16"/><rect x="229.77" y="292.74" width="0.9" height="0.9" fill="#000" fill-opacity="0.27"/><rect x="233.35" y="286.62" width="0.9" height="0.9" fill="#000" fill-opacity="0.20"/><rect x="234.00" y="284.47" width="0.9" height="0.9" fill="#000" fill-opacity="0.44"/><rect x="225.19" y="280.70" width="0.9" height="0.9" fill="#000" fill-opacity="0.24"/><rect x="234.23" y="294.69" width="0.9" height="0.9" fill="#000" fill-opacity="0.30"/><rect x="224.07" y="284.75" width="0.9" height="0.9" fill="#000" fill-opacity="0.41"/><rect x="229.40" y="292.42" width="0.9" height="0.9" fill="#000" fill-opacity="0.47"/><rect x="226.56" y="286.76" width="0.9" height="0.9" fill="#000" fill-opacity="0.36"/><rect x="229.60" y="296.47" width="0.9" height="0.9" fill="#000" fill-opacity="0.14"/><rect x="232.63" y="281.59" width="0.9" height="0.9" fill="#000" fill-opacity="0.25"/><rect x="233.19" y="286.04" width="0.9" height="0.9" fill="#000" fill-opacity="0.21"/><rect x="234.96" y="290.34" width="0.9" height="0.9" fill="#000" fill-opacity="0.41"/><rect x="228.11" y="282.72" width="0.9" height="0.9" fill="#000" fill-opacity="0.43"/><rect x="232.87" y="290.42" width="0.9" height="0.9" fill="#000" fill-opacity="0.37"/><rect x="236.02" y="286.05" width="0.9" height="0.9" fill="#000" fill-opacity="0.38"/><rect x="230.71" y="282.40" width="0.9" height="0.9" fill="#000" fill-opacity="0.48"/><rect x="229.86" y="282.80" width="0.9" height="0.9" fill="#000" fill-opacity="0.27"/><rect x="231.42" y="283.02" width="0.9" height="0.9" fill="#000" fill-opacity="0.19"/><rect x="233.72" y="282.93" width="0.9" height="0.9" fill="#000" fill-opacity="0.32"/><rect x="225.56" y="277.76" width="0.9" height="0.9" fill="#000" fill-opacity="0.17"/><rect x="229.21" y="289.18" width="0.9" height="0.9" fill="#000" fill-opacity="0.28"/><rect x="221.65" y="287.41" width="0.9" height="0.9" fill="#000" fill-opacity="0.37"/><rect x="226.19" y="285.07" width="0.9" height="0.9" fill="#000" fill-opacity="0.34"/><rect x="228.81" y="297.48" width="0.9" height="0.9" fill="#000" fill-opacity="0.42"/><rect x="231.35" y="285.02" width="0.9" height="0.9" fill="#000" fill-opacity="0.38"/><rect x="230.18" y="281.42" width="0.9" height="0.9" fill="#000" fill-opacity="0.46"/><rect x="235.75" y="282.46" width="0.9" height="0.9" fill="#000" fill-opacity="0.43"/><rect x="224.81" y="278.96" width="0.9" height="0.9" fill="#000" fill-opacity="0.17"/><rect x="228.14" y="279.77" width="0.9" height="0.9" fill="#000" fill-opacity="0.35"/><rect x="229.80" y="289.47" width="0.9" height="0.9" fill="#000" fill-opacity="0.35"/><rect x="231.59" y="283.84" width="0.9" height="0.9" fill="#000" fill-opacity="0.20"/><rect x="230.36" y="289.83" width="0.9" height="0.9" fill="#000" fill-opacity="0.38"/><rect x="237.69" y="286.08" width="0.9" height="0.9" fill="#000" fill-opacity="0.26"/><rect x="229.53" y="285.64" width="0.9" height="0.9" fill="#000" fill-opacity="0.44"/><rect x="229.89" y="287.93" width="0.9" height="0.9" fill="#000" fill-opacity="0.36"/><rect x="232.27" y="290.74" width="0.9" height="0.9" fill="#000" fill-opacity="0.14"/><rect x="224.89" y="289.76" width="0.9" height="0.9" fill="#000" fill-opacity="0.43"/><rect x="237.86" y="289.95" width="0.9" height="0.9" fill="#000" fill-opacity="0.16"/><rect x="231.02" y="294.78" width="0.9" height="0.9" fill="#000" fill-opacity="0.25"/><rect x="227.33" y="293.44" width="0.9" height="0.9" fill="#000" fill-opacity="0.20"/><rect x="230.84" y="284.12" width="0.9" height="0.9" fill="#000" fill-opacity="0.44"/><rect x="231.97" y="281.53" width="0.9" height="0.9" fill="#000" fill-opacity="0.13"/><rect x="230.23" y="286.32" width="0.9" height="0.9" fill="#000" fill-opacity="0.31"/><rect x="228.67" y="288.41" width="0.9" height="0.9" fill="#000" fill-opacity="0.36"/><rect x="229.14" y="280.74" width="0.9" height="0.9" fill="#000" fill-opacity="0.27"/><rect x="224.33" y="287.02" width="0.9" height="0.9" fill="#000" fill-opacity="0.21"/><rect x="239.61" y="274.87" width="0.9" height="0.9" fill="#000" fill-opacity="0.43"/><rect x="233.78" y="286.43" width="0.9" height="0.9" fill="#000" fill-opacity="0.49"/><rect x="234.47" y="290.12" width="0.9" height="0.9" fill="#000" fill-opacity="0.17"/><rect x="223.81" y="289.80" width="0.9" height="0.9" fill="#000" fill-opacity="0.39"/><rect x="226.28" y="288.89" width="0.9" height="0.9" fill="#000" fill-opacity="0.19"/><rect x="227.18" y="289.98" width="0.9" height="0.9" fill="#000" fill-opacity="0.19"/><rect x="229.59" y="281.31" width="0.9" height="0.9" fill="#000" fill-opacity="0.29"/><rect x="232.21" y="295.23" width="0.9" height="0.9" fill="#000" fill-opacity="0.19"/><rect x="229.51" y="294.18" width="0.9" height="0.9" fill="#000" fill-opacity="0.39"/><rect x="237.08" y="286.09" width="0.9" height="0.9" fill="#000" fill-opacity="0.48"/><rect x="236.08" y="283.54" width="0.9" height="0.9" fill="#000" fill-opacity="0.39"/><rect x="232.74" y="288.90" width="0.9" height="0.9" fill="#000" fill-opacity="0.12"/><rect x="234.55" y="281.26" width="0.9" height="0.9" fill="#000" fill-opacity="0.36"/><rect x="229.70" y="292.40" width="0.9" height="0.9" fill="#000" fill-opacity="0.18"/><rect x="221.10" y="275.70" width="0.9" height="0.9" fill="#000" fill-opacity="0.24"/><rect x="232.62" y="288.44" width="0.9" height="0.9" fill="#000" fill-opacity="0.25"/><rect x="236.31" y="281.98" width="0.9" height="0.9" fill="#000" fill-opacity="0.29"/><rect x="231.69" y="289.03" width="0.9" height="0.9" fill="#000" fill-opacity="0.18"/><rect x="230.88" y="281.77" width="0.9" height="0.9" fill="#000" fill-opacity="0.50"/><rect x="236.56" y="282.68" width="0.9" height="0.9" fill="#000" fill-opacity="0.30"/><rect x="231.03" y="285.10" width="0.9" height="0.9" fill="#000" fill-opacity="0.16"/><rect x="225.33" y="285.15" width="0.9" height="0.9" fill="#000" fill-opacity="0.20"/><rect x="230.04" y="288.63" width="0.9" height="0.9" fill="#000" fill-opacity="0.47"/><rect x="227.49" y="275.40" width="0.9" height="0.9" fill="#000" fill-opacity="0.49"/><rect x="223.61" y="290.82" width="0.9" height="0.9" fill="#000" fill-opacity="0.27"/><rect x="233.18" y="278.32" width="0.9" height="0.9" fill="#000" fill-opacity="0.17"/><rect x="233.02" y="287.84" width="0.9" height="0.9" fill="#000" fill-opacity="0.34"/><rect x="229.63" y="288.04" width="0.9" height="0.9" fill="#000" fill-opacity="0.44"/><rect x="231.13" y="281.89" width="0.9" height="0.9" fill="#000" fill-opacity="0.14"/><rect x="234.12" y="283.42" width="0.9" height="0.9" fill="#000" fill-opacity="0.15"/><rect x="227.37" y="294.07" width="0.9" height="0.9" fill="#000" fill-opacity="0.46"/><rect x="223.94" y="288.27" width="0.9" height="0.9" fill="#000" fill-opacity="0.20"/><rect x="230.44" y="298.84" width="0.9" height="0.9" fill="#000" fill-opacity="0.27"/><rect x="234.62" y="291.78" width="0.9" height="0.9" fill="#000" fill-opacity="0.17"/><rect x="231.52" y="293.01" width="0.9" height="0.9" fill="#000" fill-opacity="0.34"/><rect x="225.64" y="281.39" width="0.9" height="0.9" fill="#000" fill-opacity="0.29"/><rect x="236.34" y="290.99" width="0.9" height="0.9" fill="#000" fill-opacity="0.14"/><rect x="225.78" y="288.51" width="0.9" height="0.9" fill="#000" fill-opacity="0.38"/><rect x="229.33" y="283.80" width="0.9" height="0.9" fill="#000" fill-opacity="0.37"/><rect x="228.32" y="282.06" width="0.9" height="0.9" fill="#000" fill-opacity="0.17"/><rect x="234.94" y="283.75" width="0.9" height="0.9" fill="#000" fill-opacity="0.14"/><rect x="230.62" y="292.69" width="0.9" height="0.9" fill="#000" fill-opacity="0.42"/><rect x="232.78" y="280.96" width="0.9" height="0.9" fill="#000" fill-opacity="0.40"/><rect x="231.90" y="288.10" width="0.9" height="0.9" fill="#000" fill-opacity="0.49"/><rect x="230.44" y="286.18" width="0.9" height="0.9" fill="#000" fill-opacity="0.14"/><rect x="230.65" y="299.54" width="0.9" height="0.9" fill="#000" fill-opacity="0.20"/><rect x="225.37" y="276.96" width="0.9" height="0.9" fill="#000" fill-opacity="0.36"/><rect x="232.99" y="285.58" width="0.9" height="0.9" fill="#000" fill-opacity="0.18"/><rect x="237.24" y="288.55" width="0.9" height="0.9" fill="#000" fill-opacity="0.16"/><rect x="236.72" y="286.18" width="0.9" height="0.9" fill="#000" fill-opacity="0.19"/><rect x="230.95" y="284.65" width="0.9" height="0.9" fill="#000" fill-opacity="0.31"/><rect x="236.00" y="293.19" width="0.9" height="0.9" fill="#000" fill-opacity="0.46"/><rect x="230.30" y="287.37" width="0.9" height="0.9" fill="#000" fill-opacity="0.44"/><rect x="222.56" y="284.23" width="0.9" height="0.9" fill="#000" fill-opacity="0.31"/><rect x="225.83" y="282.77" width="0.9" height="0.9" fill="#000" fill-opacity="0.42"/><rect x="231.32" y="288.36" width="0.9" height="0.9" fill="#000" fill-opacity="0.33"/><rect x="228.95" y="292.61" width="0.9" height="0.9" fill="#000" fill-opacity="0.12"/><rect x="230.02" y="286.40" width="0.9" height="0.9" fill="#000" fill-opacity="0.44"/><rect x="231.84" y="282.22" width="0.9" height="0.9" fill="#000" fill-opacity="0.17"/><rect x="228.33" y="284.68" width="0.9" height="0.9" fill="#000" fill-opacity="0.28"/><rect x="239.10" y="296.65" width="0.9" height="0.9" fill="#000" fill-opacity="0.33"/><rect x="228.90" y="289.40" width="0.9" height="0.9" fill="#000" fill-opacity="0.40"/><rect x="234.95" y="279.37" width="0.9" height="0.9" fill="#000" fill-opacity="0.16"/><rect x="227.59" y="290.81" width="0.9" height="0.9" fill="#000" fill-opacity="0.41"/><rect x="233.57" y="293.24" width="0.9" height="0.9" fill="#000" fill-opacity="0.49"/><rect x="230.11" y="286.94" width="0.9" height="0.9" fill="#000" fill-opacity="0.15"/><rect x="235.04" y="292.78" width="0.9" height="0.9" fill="#000" fill-opacity="0.35"/><rect x="225.35" y="286.83" width="0.9" height="0.9" fill="#000" fill-opacity="0.27"/><rect x="225.28" y="282.72" width="0.9" height="0.9" fill="#000" fill-opacity="0.47"/><rect x="229.22" y="278.33" width="0.9" height="0.9" fill="#000" fill-opacity="0.47"/><rect x="233.61" y="280.50" width="0.9" height="0.9" fill="#000" fill-opacity="0.13"/><rect x="226.53" y="278.36" width="0.9" height="0.9" fill="#000" fill-opacity="0.28"/><rect x="232.00" y="285.28" width="0.9" height="0.9" fill="#000" fill-opacity="0.48"/><rect x="223.76" y="290.46" width="0.9" height="0.9" fill="#000" fill-opacity="0.22"/><rect x="228.81" y="292.12" width="0.9" height="0.9" fill="#000" fill-opacity="0.24"/><rect x="233.90" y="290.70" width="0.9" height="0.9" fill="#000" fill-opacity="0.49"/><rect x="224.39" y="277.61" width="0.9" height="0.9" fill="#000" fill-opacity="0.41"/><rect x="237.22" y="273.27" width="0.9" height="0.9" fill="#000" fill-opacity="0.41"/><rect x="229.56" y="291.45" width="0.9" height="0.9" fill="#000" fill-opacity="0.28"/><rect x="233.14" y="288.04" width="0.9" height="0.9" fill="#000" fill-opacity="0.46"/><rect x="233.42" y="285.34" width="0.9" height="0.9" fill="#000" fill-opacity="0.41"/><rect x="231.46" y="276.76" width="0.9" height="0.9" fill="#000" fill-opacity="0.42"/><rect x="228.07" y="287.06" width="0.9" height="0.9" fill="#000" fill-opacity="0.43"/><rect x="227.70" y="294.28" width="0.9" height="0.9" fill="#000" fill-opacity="0.26"/><rect x="232.85" y="292.98" width="0.9" height="0.9" fill="#000" fill-opacity="0.37"/><rect x="220.21" y="284.62" width="0.9" height="0.9" fill="#000" fill-opacity="0.27"/><rect x="235.69" y="283.45" width="0.9" height="0.9" fill="#000" fill-opacity="0.49"/><rect x="232.56" y="289.47" width="0.9" height="0.9" fill="#000" fill-opacity="0.23"/><rect x="230.64" y="287.07" width="0.9" height="0.9" fill="#000" fill-opacity="0.22"/><rect x="227.28" y="272.18" width="0.9" height="0.9" fill="#000" fill-opacity="0.19"/><rect x="223.99" y="290.56" width="0.9" height="0.9" fill="#000" fill-opacity="0.38"/><rect x="229.87" y="278.85" width="0.9" height="0.9" fill="#000" fill-opacity="0.21"/><rect x="230.00" y="288.78" width="0.9" height="0.9" fill="#000" fill-opacity="0.38"/><rect x="230.89" y="291.45" width="0.9" height="0.9" fill="#000" fill-opacity="0.49"/><rect x="226.48" y="282.10" width="0.9" height="0.9" fill="#000" fill-opacity="0.37"/><rect x="224.64" y="282.93" width="0.9" height="0.9" fill="#000" fill-opacity="0.24"/><rect x="231.52" y="288.31" width="0.9" height="0.9" fill="#000" fill-opacity="0.13"/><rect x="228.51" y="289.75" width="0.9" height="0.9" fill="#000" fill-opacity="0.16"/><rect x="228.74" y="283.71" width="0.9" height="0.9" fill="#000" fill-opacity="0.41"/><rect x="230.91" y="289.70" width="0.9" height="0.9" fill="#000" fill-opacity="0.24"/><rect x="224.52" y="291.86" width="0.9" height="0.9" fill="#000" fill-opacity="0.29"/><rect x="229.79" y="285.25" width="0.9" height="0.9" fill="#000" fill-opacity="0.47"/><rect x="225.60" y="295.77" width="0.9" height="0.9" fill="#000" fill-opacity="0.13"/><rect x="231.51" y="284.27" width="0.9" height="0.9" fill="#000" fill-opacity="0.44"/><rect x="232.14" y="280.22" width="0.9" height="0.9" fill="#000" fill-opacity="0.23"/><rect x="232.84" y="287.76" width="0.9" height="0.9" fill="#000" fill-opacity="0.46"/><rect x="233.50" y="293.94" width="0.9" height="0.9" fill="#000" fill-opacity="0.34"/><rect x="228.61" y="284.77" width="0.9" height="0.9" fill="#000" fill-opacity="0.17"/><rect x="240.09" y="296.04" width="0.9" height="0.9" fill="#000" fill-opacity="0.27"/><rect x="226.83" y="282.03" width="0.9" height="0.9" fill="#000" fill-opacity="0.20"/><rect x="230.73" y="287.91" width="0.9" height="0.9" fill="#000" fill-opacity="0.44"/><rect x="237.61" y="297.29" width="0.9" height="0.9" fill="#000" fill-opacity="0.26"/><rect x="229.65" y="284.75" width="0.9" height="0.9" fill="#000" fill-opacity="0.42"/><rect x="230.01" y="292.52" width="0.9" height="0.9" fill="#000" fill-opacity="0.32"/><rect x="232.53" y="290.08" width="0.9" height="0.9" fill="#000" fill-opacity="0.42"/><rect x="229.12" y="292.52" width="0.9" height="0.9" fill="#000" fill-opacity="0.41"/><rect x="230.51" y="290.92" width="0.9" height="0.9" fill="#000" fill-opacity="0.20"/><rect x="226.99" y="290.85" width="0.9" height="0.9" fill="#000" fill-opacity="0.36"/><rect x="221.51" y="289.40" width="0.9" height="0.9" fill="#000" fill-opacity="0.14"/><rect x="225.82" y="279.08" width="0.9" height="0.9" fill="#000" fill-opacity="0.21"/><rect x="234.59" y="288.58" width="0.9" height="0.9" fill="#000" fill-opacity="0.16"/><rect x="223.48" y="289.59" width="0.9" height="0.9" fill="#000" fill-opacity="0.16"/><rect x="233.68" y="291.56" width="0.9" height="0.9" fill="#000" fill-opacity="0.19"/><rect x="230.61" y="293.11" width="0.9" height="0.9" fill="#000" fill-opacity="0.16"/><rect x="233.76" y="289.59" width="0.9" height="0.9" fill="#000" fill-opacity="0.30"/><rect x="235.09" y="284.98" width="0.9" height="0.9" fill="#000" fill-opacity="0.15"/><rect x="231.28" y="296.01" width="0.9" height="0.9" fill="#000" fill-opacity="0.33"/><rect x="237.60" y="277.85" width="0.9" height="0.9" fill="#000" fill-opacity="0.45"/><rect x="238.00" y="295.50" width="0.9" height="0.9" fill="#000" fill-opacity="0.32"/><rect x="230.22" y="290.72" width="0.9" height="0.9" fill="#000" fill-opacity="0.45"/><rect x="230.47" y="289.66" width="0.9" height="0.9" fill="#000" fill-opacity="0.22"/><rect x="234.30" y="284.90" width="0.9" height="0.9" fill="#000" fill-opacity="0.40"/><rect x="234.27" y="290.13" width="0.9" height="0.9" fill="#000" fill-opacity="0.24"/><rect x="231.81" y="294.92" width="0.9" height="0.9" fill="#000" fill-opacity="0.26"/><rect x="239.09" y="297.78" width="0.9" height="0.9" fill="#000" fill-opacity="0.30"/><rect x="230.32" y="288.25" width="0.9" height="0.9" fill="#000" fill-opacity="0.37"/><rect x="229.10" y="287.44" width="0.9" height="0.9" fill="#000" fill-opacity="0.30"/><rect x="229.73" y="281.11" width="0.9" height="0.9" fill="#000" fill-opacity="0.21"/><rect x="224.19" y="287.59" width="0.9" height="0.9" fill="#000" fill-opacity="0.37"/><rect x="234.80" y="294.96" width="0.9" height="0.9" fill="#000" fill-opacity="0.48"/><rect x="229.54" y="277.31" width="0.9" height="0.9" fill="#000" fill-opacity="0.26"/><rect x="232.28" y="285.66" width="0.9" height="0.9" fill="#000" fill-opacity="0.21"/><rect x="222.49" y="281.08" width="0.9" height="0.9" fill="#000" fill-opacity="0.15"/><rect x="230.29" y="288.93" width="0.9" height="0.9" fill="#000" fill-opacity="0.29"/><rect x="231.83" y="290.17" width="0.9" height="0.9" fill="#000" fill-opacity="0.40"/><rect x="221.23" y="281.39" width="0.9" height="0.9" fill="#000" fill-opacity="0.27"/><rect x="229.75" y="286.80" width="0.9" height="0.9" fill="#000" fill-opacity="0.48"/><rect x="230.57" y="293.44" width="0.9" height="0.9" fill="#000" fill-opacity="0.31"/><rect x="234.79" y="285.62" width="0.9" height="0.9" fill="#000" fill-opacity="0.50"/><rect x="227.88" y="285.04" width="0.9" height="0.9" fill="#000" fill-opacity="0.44"/><rect x="227.08" y="288.55" width="0.9" height="0.9" fill="#000" fill-opacity="0.49"/><rect x="228.13" y="292.33" width="0.9" height="0.9" fill="#000" fill-opacity="0.25"/><rect x="229.60" y="286.57" width="0.9" height="0.9" fill="#000" fill-opacity="0.26"/><rect x="234.28" y="295.86" width="0.9" height="0.9" fill="#000" fill-opacity="0.12"/><rect x="227.46" y="285.04" width="0.9" height="0.9" fill="#000" fill-opacity="0.29"/><rect x="223.77" y="284.44" width="0.9" height="0.9" fill="#000" fill-opacity="0.17"/><rect x="230.18" y="290.18" width="0.9" height="0.9" fill="#000" fill-opacity="0.48"/><rect x="231.43" y="289.83" width="0.9" height="0.9" fill="#000" fill-opacity="0.32"/><rect x="222.23" y="282.24" width="0.9" height="0.9" fill="#000" fill-opacity="0.14"/><rect x="230.31" y="290.68" width="0.9" height="0.9" fill="#000" fill-opacity="0.34"/><rect x="225.84" y="289.12" width="0.9" height="0.9" fill="#000" fill-opacity="0.46"/><rect x="225.56" y="278.78" width="0.9" height="0.9" fill="#000" fill-opacity="0.48"/><rect x="228.83" y="299.87" width="0.9" height="0.9" fill="#000" fill-opacity="0.27"/><rect x="239.10" y="291.23" width="0.9" height="0.9" fill="#000" fill-opacity="0.16"/><rect x="233.58" y="288.02" width="0.9" height="0.9" fill="#000" fill-opacity="0.23"/><rect x="238.56" y="285.38" width="0.9" height="0.9" fill="#000" fill-opacity="0.28"/><rect x="221.83" y="285.69" width="0.9" height="0.9" fill="#000" fill-opacity="0.43"/><rect x="227.11" y="282.43" width="0.9" height="0.9" fill="#000" fill-opacity="0.16"/><rect x="230.30" y="295.16" width="0.9" height="0.9" fill="#000" fill-opacity="0.34"/><rect x="232.95" y="276.99" width="0.9" height="0.9" fill="#000" fill-opacity="0.49"/><rect x="230.65" y="289.49" width="0.9" height="0.9" fill="#000" fill-opacity="0.46"/><rect x="227.59" y="286.14" width="0.9" height="0.9" fill="#000" fill-opacity="0.38"/><rect x="229.94" y="291.37" width="0.9" height="0.9" fill="#000" fill-opacity="0.26"/><rect x="223.65" y="286.38" width="0.9" height="0.9" fill="#000" fill-opacity="0.15"/><rect x="229.72" y="280.29" width="0.9" height="0.9" fill="#000" fill-opacity="0.30"/><rect x="226.43" y="279.32" width="0.9" height="0.9" fill="#000" fill-opacity="0.12"/><rect x="223.65" y="288.76" width="0.9" height="0.9" fill="#000" fill-opacity="0.39"/><rect x="228.42" y="284.93" width="0.9" height="0.9" fill="#000" fill-opacity="0.48"/><rect x="230.75" y="283.86" width="0.9" height="0.9" fill="#000" fill-opacity="0.28"/><rect x="232.88" y="286.62" width="0.9" height="0.9" fill="#000" fill-opacity="0.28"/><rect x="239.01" y="284.88" width="0.9" height="0.9" fill="#000" fill-opacity="0.21"/><rect x="229.67" y="282.66" width="0.9" height="0.9" fill="#000" fill-opacity="0.37"/><rect x="230.29" y="284.85" width="0.9" height="0.9" fill="#000" fill-opacity="0.20"/><rect x="230.79" y="291.54" width="0.9" height="0.9" fill="#000" fill-opacity="0.13"/><rect x="232.93" y="291.55" width="0.9" height="0.9" fill="#000" fill-opacity="0.28"/><rect x="235.07" y="290.78" width="0.9" height="0.9" fill="#000" fill-opacity="0.48"/><rect x="226.48" y="285.28" width="0.9" height="0.9" fill="#000" fill-opacity="0.39"/><rect x="227.58" y="288.79" width="0.9" height="0.9" fill="#000" fill-opacity="0.30"/><rect x="236.47" y="288.41" width="0.9" height="0.9" fill="#000" fill-opacity="0.18"/><rect x="222.52" y="297.28" width="0.9" height="0.9" fill="#000" fill-opacity="0.41"/><rect x="233.21" y="281.15" width="0.9" height="0.9" fill="#000" fill-opacity="0.36"/><rect x="226.92" y="274.55" width="0.9" height="0.9" fill="#000" fill-opacity="0.19"/><rect x="230.42" y="283.17" width="0.9" height="0.9" fill="#000" fill-opacity="0.22"/><rect x="232.58" y="281.20" width="0.9" height="0.9" fill="#000" fill-opacity="0.44"/><rect x="234.11" y="282.65" width="0.9" height="0.9" fill="#000" fill-opacity="0.20"/><rect x="235.35" y="288.16" width="0.9" height="0.9" fill="#000" fill-opacity="0.40"/><rect x="229.82" y="289.51" width="0.9" height="0.9" fill="#000" fill-opacity="0.12"/><rect x="233.13" y="294.66" width="0.9" height="0.9" fill="#000" fill-opacity="0.12"/><rect x="230.47" y="291.60" width="0.9" height="0.9" fill="#000" fill-opacity="0.39"/><rect x="230.90" y="287.47" width="0.9" height="0.9" fill="#000" fill-opacity="0.16"/><rect x="240.49" y="282.05" width="0.9" height="0.9" fill="#000" fill-opacity="0.18"/><rect x="227.38" y="292.98" width="0.9" height="0.9" fill="#000" fill-opacity="0.24"/><rect x="225.79" y="290.50" width="0.9" height="0.9" fill="#000" fill-opacity="0.22"/><rect x="231.74" y="288.29" width="0.9" height="0.9" fill="#000" fill-opacity="0.18"/><rect x="235.10" y="291.50" width="0.9" height="0.9" fill="#000" fill-opacity="0.38"/><rect x="229.43" y="296.73" width="0.9" height="0.9" fill="#000" fill-opacity="0.40"/><rect x="227.32" y="292.62" width="0.9" height="0.9" fill="#000" fill-opacity="0.19"/><rect x="235.02" y="284.67" width="0.9" height="0.9" fill="#000" fill-opacity="0.14"/><rect x="233.80" y="294.13" width="0.9" height="0.9" fill="#000" fill-opacity="0.27"/>
<rect x="247.58" y="266.21" width="0.9" height="0.9" fill="#000" fill-opacity="0.26"/><rect x="249.48" y="266.95" width="0.9" height="0.9" fill="#000" fill-opacity="0.21"/><rect x="252.23" y="271.85" width="0.9" height="0.9" fill="#000" fill-opacity="0.26"/><rect x="249.76" y="266.23" width="0.9" height="0.9" fill="#000" fill-opacity="0.10"/><rect x="244.21" y="265.18" width="0.9" height="0.9" fill="#000" fill-opacity="0.11"/><rect x="251.58" y="271.27" width="0.9" height="0.9" fill="#000" fill-opacity="0.10"/><rect x="245.33" y="266.61" width="0.9" height="0.9" fill="#000" fill-opacity="0.14"/><rect x="241.44" y="269.53" width="0.9" height="0.9" fill="#000" fill-opacity="0.24"/><rect x="258.79" y="268.86" width="0.9" height="0.9" fill="#000" fill-opacity="0.13"/><rect x="246.19" y="271.64" width="0.9" height="0.9" fill="#000" fill-opacity="0.23"/><rect x="238.03" y="264.35" width="0.9" height="0.9" fill="#000" fill-opacity="0.13"/><rect x="244.96" y="271.60" width="0.9" height="0.9" fill="#000" fill-opacity="0.14"/><rect x="251.11" y="269.61" width="0.9" height="0.9" fill="#000" fill-opacity="0.25"/><rect x="253.35" y="264.40" width="0.9" height="0.9" fill="#000" fill-opacity="0.29"/><rect x="250.09" y="265.90" width="0.9" height="0.9" fill="#000" fill-opacity="0.15"/><rect x="248.15" y="267.18" width="0.9" height="0.9" fill="#000" fill-opacity="0.21"/><rect x="250.30" y="268.49" width="0.9" height="0.9" fill="#000" fill-opacity="0.19"/><rect x="257.30" y="272.95" width="0.9" height="0.9" fill="#000" fill-opacity="0.27"/><rect x="244.36" y="268.46" width="0.9" height="0.9" fill="#000" fill-opacity="0.11"/><rect x="240.67" y="267.92" width="0.9" height="0.9" fill="#000" fill-opacity="0.16"/><rect x="246.87" y="264.93" width="0.9" height="0.9" fill="#000" fill-opacity="0.25"/><rect x="250.50" y="268.66" width="0.9" height="0.9" fill="#000" fill-opacity="0.17"/><rect x="243.62" y="268.25" width="0.9" height="0.9" fill="#000" fill-opacity="0.23"/><rect x="249.55" y="270.29" width="0.9" height="0.9" fill="#000" fill-opacity="0.18"/><rect x="245.94" y="263.71" width="0.9" height="0.9" fill="#000" fill-opacity="0.16"/><rect x="234.48" y="270.00" width="0.9" height="0.9" fill="#000" fill-opacity="0.29"/><rect x="246.30" y="267.22" width="0.9" height="0.9" fill="#000" fill-opacity="0.18"/><rect x="245.12" y="266.46" width="0.9" height="0.9" fill="#000" fill-opacity="0.09"/><rect x="262.70" y="267.38" width="0.9" height="0.9" fill="#000" fill-opacity="0.11"/><rect x="239.72" y="268.82" width="0.9" height="0.9" fill="#000" fill-opacity="0.15"/><rect x="258.39" y="269.86" width="0.9" height="0.9" fill="#000" fill-opacity="0.25"/><rect x="246.01" y="268.47" width="0.9" height="0.9" fill="#000" fill-opacity="0.17"/><rect x="262.44" y="271.78" width="0.9" height="0.9" fill="#000" fill-opacity="0.09"/><rect x="245.92" y="272.37" width="0.9" height="0.9" fill="#000" fill-opacity="0.11"/><rect x="250.50" y="268.67" width="0.9" height="0.9" fill="#000" fill-opacity="0.12"/><rect x="236.50" y="267.07" width="0.9" height="0.9" fill="#000" fill-opacity="0.12"/><rect x="253.65" y="271.98" width="0.9" height="0.9" fill="#000" fill-opacity="0.17"/><rect x="246.80" y="269.18" width="0.9" height="0.9" fill="#000" fill-opacity="0.13"/><rect x="251.74" y="267.82" width="0.9" height="0.9" fill="#000" fill-opacity="0.14"/><rect x="247.75" y="262.58" width="0.9" height="0.9" fill="#000" fill-opacity="0.28"/><rect x="232.52" y="269.16" width="0.9" height="0.9" fill="#000" fill-opacity="0.21"/><rect x="246.80" y="270.87" width="0.9" height="0.9" fill="#000" fill-opacity="0.24"/><rect x="248.21" y="266.69" width="0.9" height="0.9" fill="#000" fill-opacity="0.12"/><rect x="251.54" y="267.73" width="0.9" height="0.9" fill="#000" fill-opacity="0.26"/><rect x="245.95" y="269.71" width="0.9" height="0.9" fill="#000" fill-opacity="0.14"/><rect x="229.07" y="269.58" width="0.9" height="0.9" fill="#000" fill-opacity="0.11"/><rect x="252.04" y="266.24" width="0.9" height="0.9" fill="#000" fill-opacity="0.12"/><rect x="248.35" y="265.67" width="0.9" height="0.9" fill="#000" fill-opacity="0.12"/><rect x="238.03" y="270.42" width="0.9" height="0.9" fill="#000" fill-opacity="0.27"/><rect x="247.71" y="267.88" width="0.9" height="0.9" fill="#000" fill-opacity="0.25"/><rect x="237.63" y="264.59" width="0.9" height="0.9" fill="#000" fill-opacity="0.29"/><rect x="242.67" y="272.52" width="0.9" height="0.9" fill="#000" fill-opacity="0.26"/><rect x="247.93" y="270.52" width="0.9" height="0.9" fill="#000" fill-opacity="0.16"/><rect x="244.73" y="270.07" width="0.9" height="0.9" fill="#000" fill-opacity="0.10"/><rect x="250.59" y="273.69" width="0.9" height="0.9" fill="#000" fill-opacity="0.17"/><rect x="239.62" y="263.96" width="0.9" height="0.9" fill="#000" fill-opacity="0.25"/><rect x="249.07" y="273.88" width="0.9" height="0.9" fill="#000" fill-opacity="0.26"/><rect x="259.02" y="267.80" width="0.9" height="0.9" fill="#000" fill-opacity="0.25"/><rect x="250.47" y="266.22" width="0.9" height="0.9" fill="#000" fill-opacity="0.22"/><rect x="239.45" y="271.44" width="0.9" height="0.9" fill="#000" fill-opacity="0.11"/><rect x="242.84" y="267.48" width="0.9" height="0.9" fill="#000" fill-opacity="0.26"/><rect x="241.49" y="272.19" width="0.9" height="0.9" fill="#000" fill-opacity="0.27"/><rect x="251.13" y="267.07" width="0.9" height="0.9" fill="#000" fill-opacity="0.29"/><rect x="248.20" y="264.14" width="0.9" height="0.9" fill="#000" fill-opacity="0.22"/><rect x="261.09" y="269.61" width="0.9" height="0.9" fill="#000" fill-opacity="0.20"/><rect x="242.86" y="268.70" width="0.9" height="0.9" fill="#000" fill-opacity="0.25"/><rect x="251.19" y="262.91" width="0.9" height="0.9" fill="#000" fill-opacity="0.13"/><rect x="245.90" y="269.71" width="0.9" height="0.9" fill="#000" fill-opacity="0.10"/><rect x="247.86" y="268.58" width="0.9" height="0.9" fill="#000" fill-opacity="0.26"/><rect x="248.91" y="269.04" width="0.9" height="0.9" fill="#000" fill-opacity="0.09"/><rect x="248.31" y="266.32" width="0.9" height="0.9" fill="#000" fill-opacity="0.18"/><rect x="239.00" y="270.76" width="0.9" height="0.9" fill="#000" fill-opacity="0.29"/><rect x="245.17" y="271.47" width="0.9" height="0.9" fill="#000" fill-opacity="0.28"/><rect x="234.85" y="269.08" width="0.9" height="0.9" fill="#000" fill-opacity="0.24"/><rect x="243.56" y="272.95" width="0.9" height="0.9" fill="#000" fill-opacity="0.21"/><rect x="255.36" y="270.19" width="0.9" height="0.9" fill="#000" fill-opacity="0.26"/><rect x="241.12" y="267.70" width="0.9" height="0.9" fill="#000" fill-opacity="0.17"/><rect x="255.58" y="265.42" width="0.9" height="0.9" fill="#000" fill-opacity="0.13"/><rect x="244.54" y="269.93" width="0.9" height="0.9" fill="#000" fill-opacity="0.29"/><rect x="247.43" y="266.78" width="0.9" height="0.9" fill="#000" fill-opacity="0.28"/><rect x="257.03" y="268.81" width="0.9" height="0.9" fill="#000" fill-opacity="0.18"/><rect x="247.15" y="265.35" width="0.9" height="0.9" fill="#000" fill-opacity="0.10"/><rect x="236.64" y="267.34" width="0.9" height="0.9" fill="#000" fill-opacity="0.25"/><rect x="245.69" y="269.50" width="0.9" height="0.9" fill="#000" fill-opacity="0.24"/><rect x="250.01" y="266.32" width="0.9" height="0.9" fill="#000" fill-opacity="0.27"/><rect x="255.47" y="267.92" width="0.9" height="0.9" fill="#000" fill-opacity="0.16"/><rect x="244.81" y="262.25" width="0.9" height="0.9" fill="#000" fill-opacity="0.12"/><rect x="246.69" y="270.25" width="0.9" height="0.9" fill="#000" fill-opacity="0.24"/><rect x="251.71" y="271.07" width="0.9" height="0.9" fill="#000" fill-opacity="0.19"/><rect x="246.78" y="266.79" width="0.9" height="0.9" fill="#000" fill-opacity="0.29"/><rect x="256.89" y="268.05" width="0.9" height="0.9" fill="#000" fill-opacity="0.25"/><rect x="254.35" y="273.26" width="0.9" height="0.9" fill="#000" fill-opacity="0.20"/><rect x="249.33" y="262.82" width="0.9" height="0.9" fill="#000" fill-opacity="0.16"/><rect x="252.49" y="267.24" width="0.9" height="0.9" fill="#000" fill-opacity="0.09"/><rect x="234.64" y="267.97" width="0.9" height="0.9" fill="#000" fill-opacity="0.28"/><rect x="256.01" y="267.18" width="0.9" height="0.9" fill="#000" fill-opacity="0.29"/><rect x="245.18" y="267.52" width="0.9" height="0.9" fill="#000" fill-opacity="0.22"/><rect x="250.80" y="265.47" width="0.9" height="0.9" fill="#000" fill-opacity="0.21"/><rect x="248.25" y="270.14" width="0.9" height="0.9" fill="#000" fill-opacity="0.17"/><rect x="241.27" y="267.81" width="0.9" height="0.9" fill="#000" fill-opacity="0.10"/><rect x="254.47" y="268.13" width="0.9" height="0.9" fill="#000" fill-opacity="0.24"/><rect x="248.50" y="266.14" width="0.9" height="0.9" fill="#000" fill-opacity="0.14"/><rect x="244.53" y="267.88" width="0.9" height="0.9" fill="#000" fill-opacity="0.21"/><rect x="252.15" y="267.06" width="0.9" height="0.9" fill="#000" fill-opacity="0.21"/><rect x="246.58" y="263.80" width="0.9" height="0.9" fill="#000" fill-opacity="0.24"/><rect x="247.28" y="266.04" width="0.9" height="0.9" fill="#000" fill-opacity="0.26"/><rect x="250.45" y="267.66" width="0.9" height="0.9" fill="#000" fill-opacity="0.29"/><rect x="245.97" y="268.44" width="0.9" height="0.9" fill="#000" fill-opacity="0.10"/><rect x="251.39" y="264.31" width="0.9" height="0.9" fill="#000" fill-opacity="0.11"/><rect x="239.57" y="268.97" width="0.9" height="0.9" fill="#000" fill-opacity="0.30"/>
<defs><radialGradient id="g239"><stop offset="0" stop-color="#000" stop-opacity="0.45"/><stop offset="0.55" stop-color="#000" stop-opacity="0.3825"/><stop offset="1" stop-color="#000" stop-opacity="0"/></radialGradient></defs>
<ellipse cx="230.50" cy="286.50" rx="6.00" ry="6.50" fill="url(#g239)"/>
<line x1="239.50" y1="238.30" x2="239.50" y2="302.90" stroke="#555" stroke-width="0.8"/>
<line x1="220.00" y1="275.50" x2="281.50" y2="275.50" stroke="#555" stroke-width="0.8"/>
<rect x="220.00" y="238.30" width="61.50" height="64.60" fill="none" stroke="#2a2a2a" stroke-width="1.25"/>
<text x="217.40" y="306.73" font-size="6.8" text-anchor="end">10<tspan font-size="4.08" dx="0.54" dy="-2.86">0</tspan></text>
<text x="217.40" y="290.58" font-size="6.8" text-anchor="end">10<tspan font-size="4.08" dx="0.54" dy="-2.86">1</tspan></text>
<text x="217.40" y="274.43" font-size="6.8" text-anchor="end">10<tspan font-size="4.08" dx="0.54" dy="-2.86">2</tspan></text>
<text x="217.40" y="258.28" font-size="6.8" text-anchor="end">10<tspan font-size="4.08" dx="0.54" dy="-2.86">3</tspan></text>
<text x="217.40" y="242.13" font-size="6.8" text-anchor="end">10<tspan font-size="4.08" dx="0.54" dy="-2.86">4</tspan></text>
<text x="221.50" y="313.93" font-size="6.8" text-anchor="middle">10<tspan font-size="4.08" dx="0.54" dy="-2.86">0</tspan></text>
<text x="236.18" y="313.93" font-size="6.8" text-anchor="middle">10<tspan font-size="4.08" dx="0.54" dy="-2.86">1</tspan></text>
<text x="250.85" y="313.93" font-size="6.8" text-anchor="middle">10<tspan font-size="4.08" dx="0.54" dy="-2.86">2</tspan></text>
<text x="265.52" y="313.93" font-size="6.8" text-anchor="middle">10<tspan font-size="4.08" dx="0.54" dy="-2.86">3</tspan></text>
<text x="280.20" y="313.93" font-size="6.8" text-anchor="middle">10<tspan font-size="4.08" dx="0.54" dy="-2.86">4</tspan></text>
<text x="278.00" y="245.26" font-size="6.3" text-anchor="end">9.42%</text>
<rect x="145.86" y="386.83" width="0.9" height="0.9" fill="#000" fill-opacity="0.32"/><rect x="151.19" y="381.43" width="0.9" height="0.9" fill="#000" fill-opacity="0.41"/><rect x="147.12" y="374.60" width="0.9" height="0.9" fill="#000" fill-opacity="0.28"/><rect x="150.66" y="380.53" width="0.9" height="0.9" fill="#000" fill-opacity="0.30"/><rect x="147.87" y="384.56" width="0.9" height="0.9" fill="#000" fill-opacity="0.29"/><rect x="144.91" y="378.87" width="0.9" height="0.9" fill="#000" fill-opacity="0.69"/><rect x="146.98" y="378.76" width="0.9" height="0.9" fill="#000" fill-opacity="0.50"/><rect x="152.12" y="380.93" width="0.9" height="0.9" fill="#000" fill-opacity="0.24"/><rect x="146.32" y="363.11" width="0.9" height="0.9" fill="#000" fill-opacity="0.40"/><rect x="147.05" y="383.06" width="0.9" height="0.9" fill="#000" fill-opacity="0.38"/><rect x="148.43" y="372.48" width="0.9" height="0.9" fill="#000" fill-opacity="0.28"/><rect x="154.54" y="372.16" width="0.9" height="0.9" fill="#000" fill-opacity="0.20"/><rect x="154.97" y="370.19" width="0.9" height="0.9" fill="#000" fill-opacity="0.38"/><rect x="142.55" y="368.22" width="0.9" height="0.9" fill="#000" fill-opacity="0.40"/><rect x="146.41" y="380.13" width="0.9" height="0.9" fill="#000" fill-opacity="0.48"/><rect x="146.00" y="369.70" width="0.9" height="0.9" fill="#000" fill-opacity="0.67"/><rect x="153.17" y="382.58" width="0.9" height="0.9" fill="#000" fill-opacity="0.63"/><rect x="151.95" y="370.30" width="0.9" height="0.9" fill="#000" fill-opacity="0.54"/><rect x="143.80" y="390.24" width="0.9" height="0.9" fill="#000" fill-opacity="0.47"/><rect x="147.65" y="380.24" width="0.9" height="0.9" fill="#000" fill-opacity="0.26"/><rect x="157.43" y="371.58" width="0.9" height="0.9" fill="#000" fill-opacity="0.21"/><rect x="147.71" y="384.19" width="0.9" height="0.9" fill="#000" fill-opacity="0.45"/><rect x="143.31" y="387.69" width="0.9" height="0.9" fill="#000" fill-opacity="0.37"/><rect x="146.60" y="372.81" width="0.9" height="0.9" fill="#000" fill-opacity="0.37"/><rect x="145.05" y="383.41" width="0.9" height="0.9" fill="#000" fill-opacity="0.59"/><rect x="149.93" y="383.81" width="0.9" height="0.9" fill="#000" fill-opacity="0.39"/><rect x="143.06" y="388.11" width="0.9" height="0.9" fill="#000" fill-opacity="0.47"/><rect x="149.52" y="383.37" width="0.9" height="0.9" fill="#000" fill-opacity="0.61"/><rect x="154.34" y="385.81" width="0.9" height="0.9" fill="#000" fill-opacity="0.21"/><rect x="150.86" y="380.02" width="0.9" height="0.9" fill="#000" fill-opacity="0.60"/><rect x="152.42" y="381.49" width="0.9" height="0.9" fill="#000" fill-opacity="0.23"/><rect x="149.54" y="387.77" width="0.9" height="0.9" fill="#000" fill-opacity="0.56"/><rect x="160.49" y="370.28" width="0.9" height="0.9" fill="#000" fill-opacity="0.48"/><rect x="152.16" y="376.83" width="0.9" height="0.9" fill="#000" fill-opacity="0.66"/><rect x="147.25" y="379.63" width="0.9" height="0.9" fill="#000" fill-opacity="0.57"/><rect x="153.36" y="373.45" width="0.9" height="0.9" fill="#000" fill-opacity="0.25"/><rect x="156.09" y="370.86" width="0.9" height="0.9" fill="#000" fill-opacity="0.50"/><rect x="151.63" y="377.81" width="0.9" height="0.9" fill="#000" fill-opacity="0.23"/><rect x="151.00" y="378.94" width="0.9" height="0.9" fill="#000" fill-opacity="0.55"/><rect x="148.58" y="375.91" width="0.9" height="0.9" fill="#000" fill-opacity="0.28"/><rect x="153.13" y="385.51" width="0.9" height="0.9" fill="#000" fill-opacity="0.54"/><rect x="154.89" y="376.97" width="0.9" height="0.9" fill="#000" fill-opacity="0.69"/><rect x="145.69" y="380.44" width="0.9" height="0.9" fill="#000" fill-opacity="0.33"/><rect x="158.07" y="377.75" width="0.9" height="0.9" fill="#000" fill-opacity="0.29"/><rect x="151.48" y="381.17" width="0.9" height="0.9" fill="#000" fill-opacity="0.38"/><rect x="150.11" y="375.97" width="0.9" height="0.9" fill="#000" fill-opacity="0.47"/><rect x="149.70" y="376.63" width="0.9" height="0.9" fill="#000" fill-opacity="0.42"/><rect x="151.91" y="370.45" width="0.9" height="0.9" fill="#000" fill-opacity="0.43"/><rect x="155.23" y="372.53" width="0.9" height="0.9" fill="#000" fill-opacity="0.37"/><rect x="140.74" y="386.80" width="0.9" height="0.9" fill="#000" fill-opacity="0.63"/><rect x="155.77" y="374.13" width="0.9" height="0.9" fill="#000" fill-opacity="0.27"/><rect x="152.48" y="383.31" width="0.9" height="0.9" fill="#000" fill-opacity="0.55"/><rect x="159.25" y="378.36" width="0.9" height="0.9" fill="#000" fill-opacity="0.59"/><rect x="149.72" y="377.99" width="0.9" height="0.9" fill="#000" fill-opacity="0.60"/><rect x="143.87" y="382.64" width="0.9" height="0.9" fill="#000" fill-opacity="0.48"/><rect x="149.56" y="371.96" width="0.9" height="0.9" fill="#000" fill-opacity="0.68"/><rect x="161.30" y="374.24" width="0.9" height="0.9" fill="#000" fill-opacity="0.51"/><rect x="148.28" y="383.38" width="0.9" height="0.9" fill="#000" fill-opacity="0.33"/><rect x="157.54" y="372.00" width="0.9" height="0.9" fill="#000" fill-opacity="0.59"/><rect x="156.88" y="361.49" width="0.9" height="0.9" fill="#000" fill-opacity="0.54"/><rect x="146.75" y="387.24" width="0.9" height="0.9" fill="#000" fill-opacity="0.33"/><rect x="148.00" y="375.79" width="0.9" height="0.9" fill="#000" fill-opacity="0.63"/><rect x="146.25" y="378.39" width="0.9" height="0.9" fill="#000" fill-opacity="0.66"/><rect x="160.25" y="384.95" width="0.9" height="0.9" fill="#000" fill-opacity="0.58"/><rect x="155.26" y="386.23" width="0.9" height="0.9" fill="#000" fill-opacity="0.49"/><rect x="155.80" y="373.66" width="0.9" height="0.9" fill="#000" fill-opacity="0.41"/><rect x="152.20" y="377.01" width="0.9" height="0.9" fill="#000" fill-opacity="0.59"/><rect x="153.46" y="380.96" width="0.9" height="0.9" fill="#000" fill-opacity="0.26"/><rect x="153.98" y="373.36" width="0.9" height="0.9" fill="#000" fill-opacity="0.56"/><rect x="149.91" y="387.76" width="0.9" height="0.9" fill="#000" fill-opacity="0.52"/><rect x="155.02" y="382.08" width="0.9" height="0.9" fill="#000" fill-opacity="0.56"/><rect x="151.86" y="386.58" width="0.9" height="0.9" fill="#000" fill-opacity="0.34"/><rect x="142.53" y="387.85" width="0.9" height="0.9" fill="#000" fill-opacity="0.67"/><rect x="155.52" y="377.97" width="0.9" height="0.9" fill="#000" fill-opacity="0.49"/><rect x="153.28" y="368.61" width="0.9" height="0.9" fill="#000" fill-opacity="0.43"/><rect x="153.57" y="373.46" width="0.9" height="0.9" fill="#000" fill-opacity="0.68"/><rect x="147.77" y="378.56" width="0.9" height="0.9" fill="#000" fill-opacity="0.57"/><rect x="154.88" y="385.20" width="0.9" height="0.9" fill="#000" fill-opacity="0.23"/><rect x="156.47" y="377.50" width="0.9" height="0.9" fill="#000" fill-opacity="0.57"/><rect x="155.08" y="384.32" width="0.9" height="0.9" fill="#000" fill-opacity="0.39"/><rect x="150.30" y="389.07" width="0.9" height="0.9" fill="#000" fill-opacity="0.22"/><rect x="148.14" y="378.40" width="0.9" height="0.9" fill="#000" fill-opacity="0.63"/><rect x="151.29" y="377.06" width="0.9" height="0.9" fill="#000" fill-opacity="0.43"/><rect x="142.44" y="379.90" width="0.9" height="0.9" fill="#000" fill-opacity="0.56"/><rect x="143.83" y="389.67" width="0.9" height="0.9" fill="#000" fill-opacity="0.29"/><rect x="156.25" y="386.39" width="0.9" height="0.9" fill="#000" fill-opacity="0.26"/><rect x="152.56" y="384.55" width="0.9" height="0.9" fill="#000" fill-opacity="0.37"/><rect x="156.19" y="389.90" width="0.9" height="0.9" fill="#000" fill-opacity="0.44"/><rect x="151.10" y="373.61" width="0.9" height="0.9" fill="#000" fill-opacity="0.66"/><rect x="152.21" y="390.90" width="0.9" height="0.9" fill="#000" fill-opacity="0.51"/><rect x="158.70" y="376.19" width="0.9" height="0.9" fill="#000" fill-opacity="0.52"/><rect x="140.64" y="375.63" width="0.9" height="0.9" fill="#000" fill-opacity="0.42"/><rect x="159.27" y="385.74" width="0.9" height="0.9" fill="#000" fill-opacity="0.60"/><rect x="146.83" y="369.03" width="0.9" height="0.9" fill="#000" fill-opacity="0.32"/><rect x="141.19" y="380.60" width="0.9" height="0.9" fill="#000" fill-opacity="0.68"/><rect x="152.87" y="376.40" width="0.9" height="0.9" fill="#000" fill-opacity="0.54"/><rect x="145.45" y="376.01" width="0.9" height="0.9" fill="#000" fill-opacity="0.28"/><rect x="153.92" y="383.18" width="0.9" height="0.9" fill="#000" fill-opacity="0.45"/><rect x="149.71" y="383.76" width="0.9" height="0.9" fill="#000" fill-opacity="0.48"/><rect x="150.75" y="370.07" width="0.9" height="0.9" fill="#000" fill-opacity="0.28"/><rect x="153.86" y="374.28" width="0.9" height="0.9" fill="#000" fill-opacity="0.68"/><rect x="152.98" y="377.67" width="0.9" height="0.9" fill="#000" fill-opacity="0.49"/><rect x="155.07" y="376.83" width="0.9" height="0.9" fill="#000" fill-opacity="0.47"/><rect x="149.78" y="379.38" width="0.9" height="0.9" fill="#000" fill-opacity="0.30"/><rect x="153.16" y="381.50" width="0.9" height="0.9" fill="#000" fill-opacity="0.51"/><rect x="148.38" y="372.82" width="0.9" height="0.9" fill="#000" fill-opacity="0.67"/><rect x="146.08" y="372.45" width="0.9" height="0.9" fill="#000" fill-opacity="0.63"/><rect x="147.97" y="373.08" width="0.9" height="0.9" fill="#000" fill-opacity="0.50"/><rect x="146.15" y="393.10" width="0.9" height="0.9" fill="#000" fill-opacity="0.32"/><rect x="152.05" y="377.68" width="0.9" height="0.9" fill="#000" fill-opacity="0.20"/><rect x="147.04" y="376.71" width="0.9" height="0.9" fill="#000" fill-opacity="0.45"/><rect x="157.27" y="385.77" width="0.9" height="0.9" fill="#000" fill-opacity="0.53"/><rect x="145.66" y="365.49" width="0.9" height="0.9" fill="#000" fill-opacity="0.70"/><rect x="146.81" y="369.52" width="0.9" height="0.9" fill="#000" fill-opacity="0.20"/><rect x="155.27" y="379.98" width="0.9" height="0.9" fill="#000" fill-opacity="0.68"/><rect x="147.75" y="385.23" width="0.9" height="0.9" fill="#000" fill-opacity="0.20"/><rect x="140.94" y="384.59" width="0.9" height="0.9" fill="#000" fill-opacity="0.49"/><rect x="150.62" y="377.18" width="0.9" height="0.9" fill="#000" fill-opacity="0.30"/><rect x="154.31" y="388.29" width="0.9" height="0.9" fill="#000" fill-opacity="0.25"/><rect x="153.84" y="376.09" width="0.9" height="0.9" fill="#000" fill-opacity="0.64"/><rect x="145.85" y="377.53" width="0.9" height="0.9" fill="#000" fill-opacity="0.68"/><rect x="143.85" y="383.26" width="0.9" height="0.9" fill="#000" fill-opacity="0.23"/><rect x="157.07" y="363.25" width="0.9" height="0.9" fill="#000" fill-opacity="0.26"/><rect x="150.16" y="373.29" width="0.9" height="0.9" fill="#000" fill-opacity="0.27"/><rect x="145.41" y="384.71" width="0.9" height="0.9" fill="#000" fill-opacity="0.68"/><rect x="166.13" y="377.32" width="0.9" height="0.9" fill="#000" fill-opacity="0.51"/><rect x="148.56" y="375.13" width="0.9" height="0.9" fill="#000" fill-opacity="0.56"/><rect x="145.78" y="376.26" width="0.9" height="0.9" fill="#000" fill-opacity="0.65"/><rect x="150.16" y="381.36" width="0.9" height="0.9" fill="#000" fill-opacity="0.28"/><rect x="154.19" y="384.50" width="0.9" height="0.9" fill="#000" fill-opacity="0.60"/><rect x="153.42" y="384.04" width="0.9" height="0.9" fill="#000" fill-opacity="0.49"/><rect x="145.46" y="375.75" width="0.9" height="0.9" fill="#000" fill-opacity="0.47"/><rect x="151.97" y="378.25" width="0.9" height="0.9" fill="#000" fill-opacity="0.41"/><rect x="150.95" y="388.11" width="0.9" height="0.9" fill="#000" fill-opacity="0.32"/><rect x="151.92" y="374.06" width="0.9" height="0.9" fill="#000" fill-opacity="0.25"/><rect x="145.35" y="378.89" width="0.9" height="0.9" fill="#000" fill-opacity="0.37"/><rect x="150.59" y="373.81" width="0.9" height="0.9" fill="#000" fill-opacity="0.54"/><rect x="153.04" y="372.37" width="0.9" height="0.9" fill="#000" fill-opacity="0.45"/><rect x="156.29" y="374.28" width="0.9" height="0.9" fill="#000" fill-opacity="0.29"/><rect x="152.13" y="379.10" width="0.9" height="0.9" fill="#000" fill-opacity="0.37"/><rect x="156.39" y="382.65" width="0.9" height="0.9" fill="#000" fill-opacity="0.41"/><rect x="148.10" y="384.76" width="0.9" height="0.9" fill="#000" fill-opacity="0.67"/><rect x="150.35" y="381.53" width="0.9" height="0.9" fill="#000" fill-opacity="0.35"/><rect x="145.31" y="389.81" width="0.9" height="0.9" fill="#000" fill-opacity="0.55"/><rect x="147.53" y="379.61" width="0.9" height="0.9" fill="#000" fill-opacity="0.22"/><rect x="157.22" y="386.14" width="0.9" height="0.9" fill="#000" fill-opacity="0.52"/><rect x="154.13" y="385.05" width="0.9" height="0.9" fill="#000" fill-opacity="0.23"/><rect x="145.73" y="377.82" width="0.9" height="0.9" fill="#000" fill-opacity="0.25"/><rect x="149.88" y="368.53" width="0.9" height="0.9" fill="#000" fill-opacity="0.46"/><rect x="153.91" y="385.82" width="0.9" height="0.9" fill="#000" fill-opacity="0.42"/><rect x="149.09" y="375.82" width="0.9" height="0.9" fill="#000" fill-opacity="0.65"/><rect x="153.80" y="378.15" width="0.9" height="0.9" fill="#000" fill-opacity="0.40"/><rect x="150.93" y="380.49" width="0.9" height="0.9" fill="#000" fill-opacity="0.54"/><rect x="154.76" y="377.84" width="0.9" height="0.9" fill="#000" fill-opacity="0.33"/><rect x="148.55" y="374.31" width="0.9" height="0.9" fill="#000" fill-opacity="0.40"/><rect x="148.25" y="372.15" width="0.9" height="0.9" fill="#000" fill-opacity="0.28"/><rect x="155.90" y="381.27" width="0.9" height="0.9" fill="#000" fill-opacity="0.70"/><rect x="152.26" y="376.72" width="0.9" height="0.9" fill="#000" fill-opacity="0.45"/><rect x="146.97" y="378.34" width="0.9" height="0.9" fill="#000" fill-opacity="0.53"/><rect x="141.16" y="378.35" width="0.9" height="0.9" fill="#000" fill-opacity="0.35"/><rect x="158.65" y="373.61" width="0.9" height="0.9" fill="#000" fill-opacity="0.44"/><rect x="153.88" y="383.40" width="0.9" height="0.9" fill="#000" fill-opacity="0.26"/><rect x="147.21" y="369.52" width="0.9" height="0.9" fill="#000" fill-opacity="0.49"/><rect x="151.75" y="377.78" width="0.9" height="0.9" fill="#000" fill-opacity="0.56"/><rect x="151.02" y="375.26" width="0.9" height="0.9" fill="#000" fill-opacity="0.36"/><rect x="156.49" y="380.68" width="0.9" height="0.9" fill="#000" fill-opacity="0.56"/><rect x="145.80" y="385.60" width="0.9" height="0.9" fill="#000" fill-opacity="0.38"/><rect x="149.30" y="373.35" width="0.9" height="0.9" fill="#000" fill-opacity="0.69"/><rect x="149.86" y="378.24" width="0.9" height="0.9" fill="#000" fill-opacity="0.25"/><rect x="148.75" y="366.18" width="0.9" height="0.9" fill="#000" fill-opacity="0.52"/><rect x="155.93" y="388.13" width="0.9" height="0.9" fill="#000" fill-opacity="0.56"/><rect x="153.92" y="381.94" width="0.9" height="0.9" fill="#000" fill-opacity="0.54"/><rect x="151.72" y="378.09" width="0.9" height="0.9" fill="#000" fill-opacity="0.38"/><rect x="162.07" y="363.80" width="0.9" height="0.9" fill="#000" fill-opacity="0.36"/><rect x="157.63" y="372.34" width="0.9" height="0.9" fill="#000" fill-opacity="0.63"/><rect x="142.75" y="366.58" width="0.9" height="0.9" fill="#000" fill-opacity="0.48"/><rect x="152.24" y="384.90" width="0.9" height="0.9" fill="#000" fill-opacity="0.44"/><rect x="147.73" y="383.00" width="0.9" height="0.9" fill="#000" fill-opacity="0.46"/><rect x="147.23" y="375.81" width="0.9" height="0.9" fill="#000" fill-opacity="0.34"/><rect x="144.33" y="377.92" width="0.9" height="0.9" fill="#000" fill-opacity="0.41"/><rect x="148.61" y="374.75" width="0.9" height="0.9" fill="#000" fill-opacity="0.47"/><rect x="148.87" y="388.20" width="0.9" height="0.9" fill="#000" fill-opacity="0.55"/><rect x="151.42" y="370.94" width="0.9" height="0.9" fill="#000" fill-opacity="0.32"/><rect x="155.59" y="374.82" width="0.9" height="0.9" fill="#000" fill-opacity="0.39"/><rect x="148.98" y="383.94" width="0.9" height="0.9" fill="#000" fill-opacity="0.55"/><rect x="152.65" y="371.79" width="0.9" height="0.9" fill="#000" fill-opacity="0.57"/><rect x="151.52" y="384.45" width="0.9" height="0.9" fill="#000" fill-opacity="0.38"/><rect x="148.61" y="383.36" width="0.9" height="0.9" fill="#000" fill-opacity="0.58"/><rect x="149.89" y="373.98" width="0.9" height="0.9" fill="#000" fill-opacity="0.32"/><rect x="151.81" y="369.50" width="0.9" height="0.9" fill="#000" fill-opacity="0.54"/><rect x="145.17" y="371.12" width="0.9" height="0.9" fill="#000" fill-opacity="0.34"/><rect x="154.64" y="380.17" width="0.9" height="0.9" fill="#000" fill-opacity="0.22"/><rect x="156.18" y="376.32" width="0.9" height="0.9" fill="#000" fill-opacity="0.54"/><rect x="159.08" y="375.79" width="0.9" height="0.9" fill="#000" fill-opacity="0.31"/><rect x="149.01" y="380.51" width="0.9" height="0.9" fill="#000" fill-opacity="0.60"/><rect x="149.78" y="371.13" width="0.9" height="0.9" fill="#000" fill-opacity="0.38"/><rect x="149.53" y="384.93" width="0.9" height="0.9" fill="#000" fill-opacity="0.56"/><rect x="157.94" y="370.92" width="0.9" height="0.9" fill="#000" fill-opacity="0.63"/><rect x="145.40" y="380.39" width="0.9" height="0.9" fill="#000" fill-opacity="0.36"/><rect x="153.39" y="377.43" width="0.9" height="0.9" fill="#000" fill-opacity="0.28"/><rect x="148.07" y="391.35" width="0.9" height="0.9" fill="#000" fill-opacity="0.63"/><rect x="145.46" y="388.27" width="0.9" height="0.9" fill="#000" fill-opacity="0.65"/><rect x="147.32" y="379.78" width="0.9" height="0.9" fill="#000" fill-opacity="0.59"/><rect x="148.47" y="380.19" width="0.9" height="0.9" fill="#000" fill-opacity="0.65"/><rect x="145.58" y="380.29" width="0.9" height="0.9" fill="#000" fill-opacity="0.50"/><rect x="150.22" y="379.26" width="0.9" height="0.9" fill="#000" fill-opacity="0.40"/><rect x="149.71" y="378.67" width="0.9" height="0.9" fill="#000" fill-opacity="0.39"/><rect x="150.57" y="372.66" width="0.9" height="0.9" fill="#000" fill-opacity="0.54"/><rect x="147.96" y="375.32" width="0.9" height="0.9" fill="#000" fill-opacity="0.21"/><rect x="147.11" y="370.72" width="0.9" height="0.9" fill="#000" fill-opacity="0.35"/><rect x="153.28" y="389.28" width="0.9" height="0.9" fill="#000" fill-opacity="0.65"/><rect x="150.94" y="385.97" width="0.9" height="0.9" fill="#000" fill-opacity="0.49"/><rect x="149.65" y="379.52" width="0.9" height="0.9" fill="#000" fill-opacity="0.36"/><rect x="146.07" y="371.63" width="0.9" height="0.9" fill="#000" fill-opacity="0.46"/><rect x="152.74" y="380.94" width="0.9" height="0.9" fill="#000" fill-opacity="0.36"/><rect x="146.14" y="380.91" width="0.9" height="0.9" fill="#000" fill-opacity="0.65"/><rect x="161.18" y="389.76" width="0.9" height="0.9" fill="#000" fill-opacity="0.32"/><rect x="152.57" y="374.54" width="0.9" height="0.9" fill="#000" fill-opacity="0.49"/><rect x="149.25" y="379.21" width="0.9" height="0.9" fill="#000" fill-opacity="0.60"/><rect x="151.72" y="373.64" width="0.9" height="0.9" fill="#000" fill-opacity="0.59"/><rect x="154.86" y="380.02" width="0.9" height="0.9" fill="#000" fill-opacity="0.31"/><rect x="144.11" y="370.69" width="0.9" height="0.9" fill="#000" fill-opacity="0.62"/><rect x="145.53" y="376.27" width="0.9" height="0.9" fill="#000" fill-opacity="0.60"/><rect x="153.32" y="380.89" width="0.9" height="0.9" fill="#000" fill-opacity="0.58"/><rect x="154.93" y="381.66" width="0.9" height="0.9" fill="#000" fill-opacity="0.31"/><rect x="152.47" y="378.09" width="0.9" height="0.9" fill="#000" fill-opacity="0.25"/><rect x="146.63" y="382.74" width="0.9" height="0.9" fill="#000" fill-opacity="0.45"/><rect x="148.35" y="387.10" width="0.9" height="0.9" fill="#000" fill-opacity="0.46"/><rect x="153.27" y="377.63" width="0.9" height="0.9" fill="#000" fill-opacity="0.46"/><rect x="145.43" y="378.28" width="0.9" height="0.9" fill="#000" fill-opacity="0.63"/><rect x="152.83" y="389.95" width="0.9" height="0.9" fill="#000" fill-opacity="0.38"/><rect x="146.72" y="385.17" width="0.9" height="0.9" fill="#000" fill-opacity="0.48"/><rect x="149.80" y="380.51" width="0.9" height="0.9" fill="#000" fill-opacity="0.68"/><rect x="148.57" y="380.21" width="0.9" height="0.9" fill="#000" fill-opacity="0.53"/><rect x="145.89" y="376.98" width="0.9" height="0.9" fill="#000" fill-opacity="0.36"/><rect x="152.81" y="373.54" width="0.9" height="0.9" fill="#000" fill-opacity="0.41"/><rect x="154.81" y="376.53" width="0.9" height="0.9" fill="#000" fill-opacity="0.40"/><rect x="154.12" y="385.57" width="0.9" height="0.9" fill="#000" fill-opacity="0.53"/><rect x="145.43" y="380.08" width="0.9" height="0.9" fill="#000" fill-opacity="0.32"/><rect x="151.62" y="371.62" width="0.9" height="0.9" fill="#000" fill-opacity="0.62"/><rect x="144.50" y="384.95" width="0.9" height="0.9" fill="#000" fill-opacity="0.21"/><rect x="152.66" y="393.03" width="0.9" height="0.9" fill="#000" fill-opacity="0.54"/><rect x="147.61" y="371.77" width="0.9" height="0.9" fill="#000" fill-opacity="0.44"/><rect x="151.25" y="381.55" width="0.9" height="0.9" fill="#000" fill-opacity="0.52"/><rect x="148.91" y="373.69" width="0.9" height="0.9" fill="#000" fill-opacity="0.52"/><rect x="154.77" y="384.29" width="0.9" height="0.9" fill="#000" fill-opacity="0.29"/><rect x="145.92" y="377.74" width="0.9" height="0.9" fill="#000" fill-opacity="0.48"/><rect x="154.08" y="383.19" width="0.9" height="0.9" fill="#000" fill-opacity="0.51"/><rect x="153.10" y="381.91" width="0.9" height="0.9" fill="#000" fill-opacity="0.54"/><rect x="143.62" y="375.67" width="0.9" height="0.9" fill="#000" fill-opacity="0.59"/><rect x="147.06" y="376.20" width="0.9" height="0.9" fill="#000" fill-opacity="0.42"/><rect x="153.37" y="371.25" width="0.9" height="0.9" fill="#000" fill-opacity="0.58"/><rect x="146.67" y="382.99" width="0.9" height="0.9" fill="#000" fill-opacity="0.68"/><rect x="153.44" y="370.20" width="0.9" height="0.9" fill="#000" fill-opacity="0.25"/><rect x="149.26" y="377.04" width="0.9" height="0.9" fill="#000" fill-opacity="0.67"/><rect x="158.20" y="376.36" width="0.9" height="0.9" fill="#000" fill-opacity="0.33"/><rect x="152.02" y="374.96" width="0.9" height="0.9" fill="#000" fill-opacity="0.61"/><rect x="149.37" y="377.91" width="0.9" height="0.9" fill="#000" fill-opacity="0.65"/><rect x="141.49" y="382.21" width="0.9" height="0.9" fill="#000" fill-opacity="0.54"/><rect x="140.50" y="375.61" width="0.9" height="0.9" fill="#000" fill-opacity="0.30"/><rect x="153.91" y="374.80" width="0.9" height="0.9" fill="#000" fill-opacity="0.21"/><rect x="149.29" y="379.95" width="0.9" height="0.9" fill="#000" fill-opacity="0.24"/><rect x="148.45" y="375.91" width="0.9" height="0.9" fill="#000" fill-opacity="0.28"/><rect x="149.18" y="382.73" width="0.9" height="0.9" fill="#000" fill-opacity="0.66"/><rect x="158.62" y="371.26" width="0.9" height="0.9" fill="#000" fill-opacity="0.69"/><rect x="141.96" y="381.98" width="0.9" height="0.9" fill="#000" fill-opacity="0.34"/><rect x="158.42" y="373.17" width="0.9" height="0.9" fill="#000" fill-opacity="0.57"/><rect x="150.56" y="380.65" width="0.9" height="0.9" fill="#000" fill-opacity="0.66"/><rect x="143.73" y="375.39" width="0.9" height="0.9" fill="#000" fill-opacity="0.63"/><rect x="155.06" y="385.35" width="0.9" height="0.9" fill="#000" fill-opacity="0.43"/><rect x="151.49" y="371.60" width="0.9" height="0.9" fill="#000" fill-opacity="0.30"/><rect x="154.16" y="376.73" width="0.9" height="0.9" fill="#000" fill-opacity="0.57"/><rect x="152.09" y="374.10" width="0.9" height="0.9" fill="#000" fill-opacity="0.55"/><rect x="147.42" y="380.65" width="0.9" height="0.9" fill="#000" fill-opacity="0.31"/><rect x="154.84" y="376.41" width="0.9" height="0.9" fill="#000" fill-opacity="0.45"/><rect x="149.09" y="378.04" width="0.9" height="0.9" fill="#000" fill-opacity="0.58"/><rect x="149.94" y="365.80" width="0.9" height="0.9" fill="#000" fill-opacity="0.38"/><rect x="151.41" y="383.42" width="0.9" height="0.9" fill="#000" fill-opacity="0.57"/><rect x="147.46" y="372.92" width="0.9" height="0.9" fill="#000" fill-opacity="0.46"/><rect x="156.60" y="389.12" width="0.9" height="0.9" fill="#000" fill-opacity="0.44"/><rect x="141.46" y="377.60" width="0.9" height="0.9" fill="#000" fill-opacity="0.30"/><rect x="149.45" y="372.53" width="0.9" height="0.9" fill="#000" fill-opacity="0.61"/><rect x="153.58" y="380.74" width="0.9" height="0.9" fill="#000" fill-opacity="0.52"/><rect x="145.42" y="378.69" width="0.9" height="0.9" fill="#000" fill-opacity="0.49"/><rect x="151.33" y="384.35" width="0.9" height="0.9" fill="#000" fill-opacity="0.20"/><rect x="151.40" y="373.67" width="0.9" height="0.9" fill="#000" fill-opacity="0.62"/><rect x="143.83" y="375.43" width="0.9" height="0.9" fill="#000" fill-opacity="0.51"/><rect x="156.36" y="385.42" width="0.9" height="0.9" fill="#000" fill-opacity="0.35"/><rect x="155.97" y="370.05" width="0.9" height="0.9" fill="#000" fill-opacity="0.54"/><rect x="152.38" y="372.15" width="0.9" height="0.9" fill="#000" fill-opacity="0.54"/><rect x="153.35" y="376.91" width="0.9" height="0.9" fill="#000" fill-opacity="0.25"/><rect x="145.17" y="381.81" width="0.9" height="0.9" fill="#000" fill-opacity="0.27"/><rect x="152.06" y="389.90" width="0.9" height="0.9" fill="#000" fill-opacity="0.39"/><rect x="152.14" y="381.12" width="0.9" height="0.9" fill="#000" fill-opacity="0.49"/><rect x="152.34" y="384.38" width="0.9" height="0.9" fill="#000" fill-opacity="0.47"/><rect x="144.75" y="380.68" width="0.9" height="0.9" fill="#000" fill-opacity="0.62"/><rect x="161.72" y="379.50" width="0.9" height="0.9" fill="#000" fill-opacity="0.30"/><rect x="158.55" y="380.49" width="0.9" height="0.9" fill="#000" fill-opacity="0.48"/><rect x="146.85" y="377.06" width="0.9" height="0.9" fill="#000" fill-opacity="0.59"/><rect x="147.45" y="387.12" width="0.9" height="0.9" fill="#000" fill-opacity="0.31"/><rect x="143.77" y="374.22" width="0.9" height="0.9" fill="#000" fill-opacity="0.39"/><rect x="148.43" y="378.33" width="0.9" height="0.9" fill="#000" fill-opacity="0.52"/><rect x="149.21" y="374.82" width="0.9" height="0.9" fill="#000" fill-opacity="0.48"/><rect x="150.00" y="375.30" width="0.9" height="0.9" fill="#000" fill-opacity="0.62"/><rect x="151.35" y="376.65" width="0.9" height="0.9" fill="#000" fill-opacity="0.32"/><rect x="153.55" y="380.36" width="0.9" height="0.9" fill="#000" fill-opacity="0.24"/><rect x="146.46" y="378.35" width="0.9" height="0.9" fill="#000" fill-opacity="0.35"/><rect x="145.57" y="379.44" width="0.9" height="0.9" fill="#000" fill-opacity="0.59"/><rect x="149.83" y="375.14" width="0.9" height="0.9" fill="#000" fill-opacity="0.31"/><rect x="154.71" y="378.33" width="0.9" height="0.9" fill="#000" fill-opacity="0.25"/><rect x="147.41" y="368.17" width="0.9" height="0.9" fill="#000" fill-opacity="0.70"/><rect x="150.60" y="379.64" width="0.9" height="0.9" fill="#000" fill-opacity="0.58"/><rect x="140.42" y="385.36" width="0.9" height="0.9" fill="#000" fill-opacity="0.40"/><rect x="149.51" y="380.20" width="0.9" height="0.9" fill="#000" fill-opacity="0.67"/><rect x="144.88" y="377.56" width="0.9" height="0.9" fill="#000" fill-opacity="0.42"/><rect x="151.35" y="366.82" width="0.9" height="0.9" fill="#000" fill-opacity="0.44"/><rect x="152.48" y="383.56" width="0.9" height="0.9" fill="#000" fill-opacity="0.65"/><rect x="144.10" y="382.89" width="0.9" height="0.9" fill="#000" fill-opacity="0.48"/><rect x="143.90" y="379.94" width="0.9" height="0.9" fill="#000" fill-opacity="0.32"/><rect x="140.89" y="373.81" width="0.9" height="0.9" fill="#000" fill-opacity="0.24"/><rect x="143.24" y="387.12" width="0.9" height="0.9" fill="#000" fill-opacity="0.69"/><rect x="157.25" y="378.75" width="0.9" height="0.9" fill="#000" fill-opacity="0.52"/><rect x="153.36" y="372.41" width="0.9" height="0.9" fill="#000" fill-opacity="0.27"/><rect x="147.80" y="387.06" width="0.9" height="0.9" fill="#000" fill-opacity="0.56"/><rect x="152.27" y="386.31" width="0.9" height="0.9" fill="#000" fill-opacity="0.53"/><rect x="149.67" y="376.99" width="0.9" height="0.9" fill="#000" fill-opacity="0.42"/><rect x="147.19" y="385.26" width="0.9" height="0.9" fill="#000" fill-opacity="0.37"/><rect x="155.41" y="384.50" width="0.9" height="0.9" fill="#000" fill-opacity="0.34"/><rect x="151.33" y="373.09" width="0.9" height="0.9" fill="#000" fill-opacity="0.47"/><rect x="151.13" y="375.27" width="0.9" height="0.9" fill="#000" fill-opacity="0.57"/><rect x="160.92" y="383.90" width="0.9" height="0.9" fill="#000" fill-opacity="0.21"/><rect x="149.47" y="372.37" width="0.9" height="0.9" fill="#000" fill-opacity="0.29"/><rect x="145.59" y="382.39" width="0.9" height="0.9" fill="#000" fill-opacity="0.41"/><rect x="154.62" y="383.12" width="0.9" height="0.9" fill="#000" fill-opacity="0.35"/><rect x="155.06" y="376.84" width="0.9" height="0.9" fill="#000" fill-opacity="0.42"/><rect x="152.06" y="393.70" width="0.9" height="0.9" fill="#000" fill-opacity="0.36"/><rect x="144.52" y="369.03" width="0.9" height="0.9" fill="#000" fill-opacity="0.40"/><rect x="150.38" y="373.20" width="0.9" height="0.9" fill="#000" fill-opacity="0.25"/><rect x="155.52" y="379.77" width="0.9" height="0.9" fill="#000" fill-opacity="0.64"/><rect x="151.82" y="384.24" width="0.9" height="0.9" fill="#000" fill-opacity="0.58"/><rect x="149.78" y="381.46" width="0.9" height="0.9" fill="#000" fill-opacity="0.46"/><rect x="139.72" y="384.45" width="0.9" height="0.9" fill="#000" fill-opacity="0.65"/><rect x="150.73" y="385.73" width="0.9" height="0.9" fill="#000" fill-opacity="0.41"/><rect x="155.55" y="379.42" width="0.9" height="0.9" fill="#000" fill-opacity="0.66"/><rect x="148.09" y="385.59" width="0.9" height="0.9" fill="#000" fill-opacity="0.56"/><rect x="160.73" y="383.31" width="0.9" height="0.9" fill="#000" fill-opacity="0.25"/><rect x="147.73" y="387.07" width="0.9" height="0.9" fill="#000" fill-opacity="0.21"/><rect x="148.40" y="380.25" width="0.9" height="0.9" fill="#000" fill-opacity="0.44"/><rect x="153.10" y="378.39" width="0.9" height="0.9" fill="#000" fill-opacity="0.31"/><rect x="152.15" y="379.33" width="0.9" height="0.9" fill="#000" fill-opacity="0.30"/><rect x="147.55" y="377.69" width="0.9" height="0.9" fill="#000" fill-opacity="0.61"/><rect x="146.95" y="380.33" width="0.9" height="0.9" fill="#000" fill-opacity="0.32"/><rect x="151.08" y="376.48" width="0.9" height="0.9" fill="#000" fill-opacity="0.57"/><rect x="160.09" y="386.35" width="0.9" height="0.9" fill="#000" fill-opacity="0.40"/><rect x="142.09" y="371.16" width="0.9" height="0.9" fill="#000" fill-opacity="0.25"/><rect x="157.33" y="381.66" width="0.9" height="0.9" fill="#000" fill-opacity="0.49"/><rect x="149.52" y="373.29" width="0.9" height="0.9" fill="#000" fill-opacity="0.45"/><rect x="152.33" y="383.98" width="0.9" height="0.9" fill="#000" fill-opacity="0.34"/><rect x="146.63" y="375.46" width="0.9" height="0.9" fill="#000" fill-opacity="0.34"/><rect x="148.93" y="376.07" width="0.9" height="0.9" fill="#000" fill-opacity="0.60"/><rect x="146.65" y="378.17" width="0.9" height="0.9" fill="#000" fill-opacity="0.26"/><rect x="144.34" y="377.66" width="0.9" height="0.9" fill="#000" fill-opacity="0.56"/><rect x="146.63" y="382.45" width="0.9" height="0.9" fill="#000" fill-opacity="0.65"/><rect x="162.12" y="366.64" width="0.9" height="0.9" fill="#000" fill-opacity="0.67"/><rect x="149.84" y="389.05" width="0.9" height="0.9" fill="#000" fill-opacity="0.51"/><rect x="144.79" y="369.30" width="0.9" height="0.9" fill="#000" fill-opacity="0.48"/><rect x="159.01" y="383.79" width="0.9" height="0.9" fill="#000" fill-opacity="0.29"/><rect x="149.85" y="386.34" width="0.9" height="0.9" fill="#000" fill-opacity="0.30"/><rect x="142.56" y="380.26" width="0.9" height="0.9" fill="#000" fill-opacity="0.25"/><rect x="149.00" y="375.66" width="0.9" height="0.9" fill="#000" fill-opacity="0.44"/><rect x="145.75" y="370.67" width="0.9" height="0.9" fill="#000" fill-opacity="0.22"/><rect x="154.84" y="392.25" width="0.9" height="0.9" fill="#000" fill-opacity="0.40"/><rect x="145.94" y="380.69" width="0.9" height="0.9" fill="#000" fill-opacity="0.55"/><rect x="149.81" y="369.37" width="0.9" height="0.9" fill="#000" fill-opacity="0.40"/><rect x="144.80" y="374.99" width="0.9" height="0.9" fill="#000" fill-opacity="0.29"/><rect x="162.54" y="373.20" width="0.9" height="0.9" fill="#000" fill-opacity="0.59"/><rect x="155.84" y="377.74" width="0.9" height="0.9" fill="#000" fill-opacity="0.62"/><rect x="150.73" y="387.92" width="0.9" height="0.9" fill="#000" fill-opacity="0.56"/><rect x="159.02" y="373.77" width="0.9" height="0.9" fill="#000" fill-opacity="0.64"/><rect x="149.28" y="388.54" width="0.9" height="0.9" fill="#000" fill-opacity="0.44"/><rect x="148.42" y="383.36" width="0.9" height="0.9" fill="#000" fill-opacity="0.60"/><rect x="155.56" y="368.38" width="0.9" height="0.9" fill="#000" fill-opacity="0.53"/><rect x="151.65" y="381.11" width="0.9" height="0.9" fill="#000" fill-opacity="0.48"/><rect x="151.32" y="383.33" width="0.9" height="0.9" fill="#000" fill-opacity="0.25"/><rect x="154.72" y="385.93" width="0.9" height="0.9" fill="#000" fill-opacity="0.31"/><rect x="152.83" y="373.67" width="0.9" height="0.9" fill="#000" fill-opacity="0.62"/><rect x="148.97" y="382.53" width="0.9" height="0.9" fill="#000" fill-opacity="0.40"/><rect x="155.58" y="378.54" width="0.9" height="0.9" fill="#000" fill-opacity="0.39"/><rect x="160.16" y="379.00" width="0.9" height="0.9" fill="#000" fill-opacity="0.39"/><rect x="162.95" y="378.09" width="0.9" height="0.9" fill="#000" fill-opacity="0.31"/><rect x="150.23" y="379.38" width="0.9" height="0.9" fill="#000" fill-opacity="0.25"/><rect x="148.60" y="370.38" width="0.9" height="0.9" fill="#000" fill-opacity="0.45"/><rect x="150.35" y="382.98" width="0.9" height="0.9" fill="#000" fill-opacity="0.69"/><rect x="139.77" y="391.07" width="0.9" height="0.9" fill="#000" fill-opacity="0.64"/><rect x="157.13" y="386.27" width="0.9" height="0.9" fill="#000" fill-opacity="0.21"/><rect x="148.04" y="367.45" width="0.9" height="0.9" fill="#000" fill-opacity="0.55"/><rect x="141.54" y="374.67" width="0.9" height="0.9" fill="#000" fill-opacity="0.28"/><rect x="146.44" y="376.88" width="0.9" height="0.9" fill="#000" fill-opacity="0.40"/><rect x="153.08" y="386.83" width="0.9" height="0.9" fill="#000" fill-opacity="0.49"/><rect x="151.53" y="369.75" width="0.9" height="0.9" fill="#000" fill-opacity="0.50"/><rect x="158.32" y="372.88" width="0.9" height="0.9" fill="#000" fill-opacity="0.48"/><rect x="144.97" y="390.26" width="0.9" height="0.9" fill="#000" fill-opacity="0.39"/><rect x="153.86" y="381.28" width="0.9" height="0.9" fill="#000" fill-opacity="0.55"/><rect x="156.79" y="374.43" width="0.9" height="0.9" fill="#000" fill-opacity="0.53"/><rect x="158.26" y="374.06" width="0.9" height="0.9" fill="#000" fill-opacity="0.42"/><rect x="142.05" y="380.46" width="0.9" height="0.9" fill="#000" fill-opacity="0.36"/><rect x="155.61" y="383.36" width="0.9" height="0.9" fill="#000" fill-opacity="0.60"/><rect x="150.33" y="387.15" width="0.9" height="0.9" fill="#000" fill-opacity="0.65"/><rect x="152.13" y="380.38" width="0.9" height="0.9" fill="#000" fill-opacity="0.45"/><rect x="144.08" y="390.70" width="0.9" height="0.9" fill="#000" fill-opacity="0.70"/><rect x="141.89" y="381.62" width="0.9" height="0.9" fill="#000" fill-opacity="0.52"/>
<rect x="174.93" y="344.59" width="0.9" height="0.9" fill="#000" fill-opacity="0.10"/><rect x="173.62" y="340.86" width="0.9" height="0.9" fill="#000" fill-opacity="0.08"/><rect x="163.63" y="340.10" width="0.9" height="0.9" fill="#000" fill-opacity="0.19"/><rect x="160.41" y="341.86" width="0.9" height="0.9" fill="#000" fill-opacity="0.17"/><rect x="165.59" y="339.09" width="0.9" height="0.9" fill="#000" fill-opacity="0.12"/><rect x="163.74" y="339.96" width="0.9" height="0.9" fill="#000" fill-opacity="0.16"/><rect x="164.34" y="339.79" width="0.9" height="0.9" fill="#000" fill-opacity="0.15"/><rect x="172.11" y="339.82" width="0.9" height="0.9" fill="#000" fill-opacity="0.12"/><rect x="170.96" y="339.92" width="0.9" height="0.9" fill="#000" fill-opacity="0.09"/><rect x="160.33" y="341.62" width="0.9" height="0.9" fill="#000" fill-opacity="0.16"/><rect x="178.06" y="339.04" width="0.9" height="0.9" fill="#000" fill-opacity="0.15"/><rect x="168.06" y="339.70" width="0.9" height="0.9" fill="#000" fill-opacity="0.13"/><rect x="168.24" y="342.63" width="0.9" height="0.9" fill="#000" fill-opacity="0.09"/><rect x="164.07" y="339.34" width="0.9" height="0.9" fill="#000" fill-opacity="0.14"/><rect x="166.83" y="340.37" width="0.9" height="0.9" fill="#000" fill-opacity="0.17"/><rect x="170.85" y="337.28" width="0.9" height="0.9" fill="#000" fill-opacity="0.09"/><rect x="160.53" y="337.49" width="0.9" height="0.9" fill="#000" fill-opacity="0.20"/><rect x="168.83" y="339.24" width="0.9" height="0.9" fill="#000" fill-opacity="0.19"/>
<defs><radialGradient id="g257"><stop offset="0" stop-color="#000" stop-opacity="0.95"/><stop offset="0.55" stop-color="#000" stop-opacity="0.8075"/><stop offset="1" stop-color="#000" stop-opacity="0"/></radialGradient></defs>
<ellipse cx="151.40" cy="377.50" rx="7.50" ry="8.00" fill="url(#g257)"/>
<line x1="158.50" y1="328.30" x2="158.50" y2="395.00" stroke="#555" stroke-width="0.8"/>
<line x1="139.20" y1="367.50" x2="200.60" y2="367.50" stroke="#555" stroke-width="0.8"/>
<rect x="139.20" y="328.30" width="61.40" height="66.70" fill="none" stroke="#2a2a2a" stroke-width="1.25"/>
<text x="136.60" y="398.83" font-size="6.8" text-anchor="end">10<tspan font-size="4.08" dx="0.54" dy="-2.86">0</tspan></text>
<text x="136.60" y="382.16" font-size="6.8" text-anchor="end">10<tspan font-size="4.08" dx="0.54" dy="-2.86">1</tspan></text>
<text x="136.60" y="365.48" font-size="6.8" text-anchor="end">10<tspan font-size="4.08" dx="0.54" dy="-2.86">2</tspan></text>
<text x="136.60" y="348.81" font-size="6.8" text-anchor="end">10<tspan font-size="4.08" dx="0.54" dy="-2.86">3</tspan></text>
<text x="136.60" y="332.13" font-size="6.8" text-anchor="end">10<tspan font-size="4.08" dx="0.54" dy="-2.86">4</tspan></text>
<text x="140.70" y="406.03" font-size="6.8" text-anchor="middle">10<tspan font-size="4.08" dx="0.54" dy="-2.86">0</tspan></text>
<text x="155.35" y="406.03" font-size="6.8" text-anchor="middle">10<tspan font-size="4.08" dx="0.54" dy="-2.86">1</tspan></text>
<text x="170.00" y="406.03" font-size="6.8" text-anchor="middle">10<tspan font-size="4.08" dx="0.54" dy="-2.86">2</tspan></text>
<text x="184.65" y="406.03" font-size="6.8" text-anchor="middle">10<tspan font-size="4.08" dx="0.54" dy="-2.86">3</tspan></text>
<text x="199.30" y="406.03" font-size="6.8" text-anchor="middle">10<tspan font-size="4.08" dx="0.54" dy="-2.86">4</tspan></text>
<text x="197.10" y="335.26" font-size="6.3" text-anchor="end">0.29%</text>
<rect x="229.00" y="373.89" width="0.9" height="0.9" fill="#000" fill-opacity="0.66"/><rect x="235.94" y="366.74" width="0.9" height="0.9" fill="#000" fill-opacity="0.32"/><rect x="226.73" y="375.33" width="0.9" height="0.9" fill="#000" fill-opacity="0.35"/><rect x="231.54" y="369.76" width="0.9" height="0.9" fill="#000" fill-opacity="0.37"/><rect x="220.95" y="372.65" width="0.9" height="0.9" fill="#000" fill-opacity="0.48"/><rect x="232.26" y="377.98" width="0.9" height="0.9" fill="#000" fill-opacity="0.43"/><rect x="223.43" y="374.93" width="0.9" height="0.9" fill="#000" fill-opacity="0.68"/><rect x="226.98" y="373.26" width="0.9" height="0.9" fill="#000" fill-opacity="0.52"/><rect x="223.41" y="376.10" width="0.9" height="0.9" fill="#000" fill-opacity="0.67"/><rect x="235.43" y="378.51" width="0.9" height="0.9" fill="#000" fill-opacity="0.64"/><rect x="239.27" y="381.93" width="0.9" height="0.9" fill="#000" fill-opacity="0.22"/><rect x="225.69" y="369.41" width="0.9" height="0.9" fill="#000" fill-opacity="0.32"/><rect x="228.42" y="380.97" width="0.9" height="0.9" fill="#000" fill-opacity="0.55"/><rect x="224.34" y="376.58" width="0.9" height="0.9" fill="#000" fill-opacity="0.36"/><rect x="220.42" y="370.32" width="0.9" height="0.9" fill="#000" fill-opacity="0.59"/><rect x="234.65" y="376.70" width="0.9" height="0.9" fill="#000" fill-opacity="0.46"/><rect x="227.58" y="381.69" width="0.9" height="0.9" fill="#000" fill-opacity="0.60"/><rect x="233.95" y="384.89" width="0.9" height="0.9" fill="#000" fill-opacity="0.59"/><rect x="231.94" y="377.59" width="0.9" height="0.9" fill="#000" fill-opacity="0.34"/><rect x="236.02" y="387.88" width="0.9" height="0.9" fill="#000" fill-opacity="0.40"/><rect x="235.16" y="380.16" width="0.9" height="0.9" fill="#000" fill-opacity="0.28"/><rect x="233.89" y="381.85" width="0.9" height="0.9" fill="#000" fill-opacity="0.55"/><rect x="228.82" y="376.57" width="0.9" height="0.9" fill="#000" fill-opacity="0.60"/><rect x="228.27" y="377.90" width="0.9" height="0.9" fill="#000" fill-opacity="0.61"/><rect x="232.55" y="374.26" width="0.9" height="0.9" fill="#000" fill-opacity="0.67"/><rect x="232.39" y="374.03" width="0.9" height="0.9" fill="#000" fill-opacity="0.20"/><rect x="237.34" y="369.74" width="0.9" height="0.9" fill="#000" fill-opacity="0.25"/><rect x="231.94" y="367.77" width="0.9" height="0.9" fill="#000" fill-opacity="0.52"/><rect x="238.22" y="362.97" width="0.9" height="0.9" fill="#000" fill-opacity="0.36"/><rect x="236.72" y="366.37" width="0.9" height="0.9" fill="#000" fill-opacity="0.36"/><rect x="227.97" y="369.72" width="0.9" height="0.9" fill="#000" fill-opacity="0.62"/><rect x="227.38" y="376.08" width="0.9" height="0.9" fill="#000" fill-opacity="0.33"/><rect x="228.45" y="377.19" width="0.9" height="0.9" fill="#000" fill-opacity="0.63"/><rect x="233.91" y="375.18" width="0.9" height="0.9" fill="#000" fill-opacity="0.55"/><rect x="229.87" y="375.34" width="0.9" height="0.9" fill="#000" fill-opacity="0.59"/><rect x="231.49" y="372.95" width="0.9" height="0.9" fill="#000" fill-opacity="0.25"/><rect x="229.34" y="388.16" width="0.9" height="0.9" fill="#000" fill-opacity="0.43"/><rect x="232.23" y="374.81" width="0.9" height="0.9" fill="#000" fill-opacity="0.25"/><rect x="225.05" y="388.09" width="0.9" height="0.9" fill="#000" fill-opacity="0.28"/><rect x="238.54" y="382.52" width="0.9" height="0.9" fill="#000" fill-opacity="0.25"/><rect x="230.02" y="375.87" width="0.9" height="0.9" fill="#000" fill-opacity="0.32"/><rect x="225.80" y="367.60" width="0.9" height="0.9" fill="#000" fill-opacity="0.40"/><rect x="229.86" y="378.52" width="0.9" height="0.9" fill="#000" fill-opacity="0.37"/><rect x="231.49" y="388.62" width="0.9" height="0.9" fill="#000" fill-opacity="0.56"/><rect x="232.37" y="370.83" width="0.9" height="0.9" fill="#000" fill-opacity="0.55"/><rect x="234.49" y="382.29" width="0.9" height="0.9" fill="#000" fill-opacity="0.35"/><rect x="229.40" y="387.69" width="0.9" height="0.9" fill="#000" fill-opacity="0.31"/><rect x="229.19" y="382.40" width="0.9" height="0.9" fill="#000" fill-opacity="0.63"/><rect x="227.36" y="372.80" width="0.9" height="0.9" fill="#000" fill-opacity="0.39"/><rect x="241.48" y="371.33" width="0.9" height="0.9" fill="#000" fill-opacity="0.42"/><rect x="221.95" y="373.18" width="0.9" height="0.9" fill="#000" fill-opacity="0.33"/><rect x="230.92" y="380.85" width="0.9" height="0.9" fill="#000" fill-opacity="0.45"/><rect x="231.39" y="374.57" width="0.9" height="0.9" fill="#000" fill-opacity="0.42"/><rect x="236.77" y="377.65" width="0.9" height="0.9" fill="#000" fill-opacity="0.39"/><rect x="236.67" y="367.34" width="0.9" height="0.9" fill="#000" fill-opacity="0.39"/><rect x="236.13" y="384.03" width="0.9" height="0.9" fill="#000" fill-opacity="0.57"/><rect x="237.56" y="373.96" width="0.9" height="0.9" fill="#000" fill-opacity="0.35"/><rect x="226.95" y="377.59" width="0.9" height="0.9" fill="#000" fill-opacity="0.42"/><rect x="220.24" y="380.68" width="0.9" height="0.9" fill="#000" fill-opacity="0.65"/><rect x="236.15" y="375.00" width="0.9" height="0.9" fill="#000" fill-opacity="0.68"/><rect x="238.29" y="388.41" width="0.9" height="0.9" fill="#000" fill-opacity="0.52"/><rect x="234.64" y="373.60" width="0.9" height="0.9" fill="#000" fill-opacity="0.70"/><rect x="240.63" y="379.87" width="0.9" height="0.9" fill="#000" fill-opacity="0.61"/><rect x="224.44" y="386.06" width="0.9" height="0.9" fill="#000" fill-opacity="0.31"/><rect x="231.14" y="371.31" width="0.9" height="0.9" fill="#000" fill-opacity="0.41"/><rect x="234.01" y="388.21" width="0.9" height="0.9" fill="#000" fill-opacity="0.57"/><rect x="242.76" y="386.85" width="0.9" height="0.9" fill="#000" fill-opacity="0.31"/><rect x="227.39" y="382.43" width="0.9" height="0.9" fill="#000" fill-opacity="0.49"/><rect x="240.35" y="368.85" width="0.9" height="0.9" fill="#000" fill-opacity="0.52"/><rect x="229.47" y="380.19" width="0.9" height="0.9" fill="#000" fill-opacity="0.23"/><rect x="224.48" y="377.11" width="0.9" height="0.9" fill="#000" fill-opacity="0.42"/><rect x="236.18" y="377.37" width="0.9" height="0.9" fill="#000" fill-opacity="0.38"/><rect x="228.38" y="379.86" width="0.9" height="0.9" fill="#000" fill-opacity="0.67"/><rect x="225.79" y="373.99" width="0.9" height="0.9" fill="#000" fill-opacity="0.41"/><rect x="231.05" y="383.27" width="0.9" height="0.9" fill="#000" fill-opacity="0.45"/><rect x="227.91" y="376.47" width="0.9" height="0.9" fill="#000" fill-opacity="0.23"/><rect x="233.54" y="382.70" width="0.9" height="0.9" fill="#000" fill-opacity="0.59"/><rect x="233.87" y="375.22" width="0.9" height="0.9" fill="#000" fill-opacity="0.59"/><rect x="225.25" y="380.72" width="0.9" height="0.9" fill="#000" fill-opacity="0.47"/><rect x="232.83" y="378.64" width="0.9" height="0.9" fill="#000" fill-opacity="0.53"/><rect x="229.22" y="372.60" width="0.9" height="0.9" fill="#000" fill-opacity="0.66"/><rect x="232.85" y="373.45" width="0.9" height="0.9" fill="#000" fill-opacity="0.23"/><rect x="224.17" y="375.17" width="0.9" height="0.9" fill="#000" fill-opacity="0.31"/><rect x="236.61" y="379.94" width="0.9" height="0.9" fill="#000" fill-opacity="0.22"/><rect x="230.47" y="369.67" width="0.9" height="0.9" fill="#000" fill-opacity="0.34"/><rect x="227.62" y="379.51" width="0.9" height="0.9" fill="#000" fill-opacity="0.29"/><rect x="234.89" y="388.08" width="0.9" height="0.9" fill="#000" fill-opacity="0.43"/><rect x="230.06" y="372.63" width="0.9" height="0.9" fill="#000" fill-opacity="0.60"/><rect x="225.05" y="373.10" width="0.9" height="0.9" fill="#000" fill-opacity="0.40"/><rect x="228.04" y="376.57" width="0.9" height="0.9" fill="#000" fill-opacity="0.69"/><rect x="228.15" y="371.52" width="0.9" height="0.9" fill="#000" fill-opacity="0.52"/><rect x="234.70" y="381.24" width="0.9" height="0.9" fill="#000" fill-opacity="0.32"/><rect x="231.49" y="377.24" width="0.9" height="0.9" fill="#000" fill-opacity="0.42"/><rect x="236.97" y="370.35" width="0.9" height="0.9" fill="#000" fill-opacity="0.56"/><rect x="229.89" y="382.19" width="0.9" height="0.9" fill="#000" fill-opacity="0.55"/><rect x="228.64" y="387.22" width="0.9" height="0.9" fill="#000" fill-opacity="0.37"/><rect x="231.48" y="370.24" width="0.9" height="0.9" fill="#000" fill-opacity="0.61"/><rect x="235.91" y="377.52" width="0.9" height="0.9" fill="#000" fill-opacity="0.69"/><rect x="241.27" y="378.82" width="0.9" height="0.9" fill="#000" fill-opacity="0.21"/><rect x="226.29" y="376.38" width="0.9" height="0.9" fill="#000" fill-opacity="0.58"/><rect x="229.69" y="381.81" width="0.9" height="0.9" fill="#000" fill-opacity="0.59"/><rect x="223.07" y="374.92" width="0.9" height="0.9" fill="#000" fill-opacity="0.44"/><rect x="239.41" y="380.40" width="0.9" height="0.9" fill="#000" fill-opacity="0.31"/><rect x="230.89" y="378.09" width="0.9" height="0.9" fill="#000" fill-opacity="0.33"/><rect x="226.75" y="369.25" width="0.9" height="0.9" fill="#000" fill-opacity="0.52"/><rect x="223.44" y="381.45" width="0.9" height="0.9" fill="#000" fill-opacity="0.53"/><rect x="232.74" y="385.19" width="0.9" height="0.9" fill="#000" fill-opacity="0.50"/><rect x="230.61" y="374.10" width="0.9" height="0.9" fill="#000" fill-opacity="0.36"/><rect x="229.81" y="380.30" width="0.9" height="0.9" fill="#000" fill-opacity="0.37"/><rect x="230.21" y="370.24" width="0.9" height="0.9" fill="#000" fill-opacity="0.29"/><rect x="230.76" y="375.08" width="0.9" height="0.9" fill="#000" fill-opacity="0.58"/><rect x="232.40" y="380.21" width="0.9" height="0.9" fill="#000" fill-opacity="0.33"/><rect x="227.10" y="377.60" width="0.9" height="0.9" fill="#000" fill-opacity="0.64"/><rect x="234.83" y="376.20" width="0.9" height="0.9" fill="#000" fill-opacity="0.57"/><rect x="228.90" y="370.79" width="0.9" height="0.9" fill="#000" fill-opacity="0.33"/><rect x="242.95" y="373.37" width="0.9" height="0.9" fill="#000" fill-opacity="0.21"/><rect x="228.93" y="382.68" width="0.9" height="0.9" fill="#000" fill-opacity="0.30"/><rect x="221.37" y="383.49" width="0.9" height="0.9" fill="#000" fill-opacity="0.21"/><rect x="233.26" y="373.62" width="0.9" height="0.9" fill="#000" fill-opacity="0.21"/><rect x="234.27" y="375.23" width="0.9" height="0.9" fill="#000" fill-opacity="0.31"/><rect x="234.60" y="381.89" width="0.9" height="0.9" fill="#000" fill-opacity="0.26"/><rect x="232.67" y="382.17" width="0.9" height="0.9" fill="#000" fill-opacity="0.49"/><rect x="227.03" y="379.75" width="0.9" height="0.9" fill="#000" fill-opacity="0.46"/><rect x="232.26" y="368.53" width="0.9" height="0.9" fill="#000" fill-opacity="0.37"/><rect x="238.75" y="372.82" width="0.9" height="0.9" fill="#000" fill-opacity="0.48"/><rect x="226.63" y="378.87" width="0.9" height="0.9" fill="#000" fill-opacity="0.27"/><rect x="236.20" y="372.64" width="0.9" height="0.9" fill="#000" fill-opacity="0.25"/><rect x="240.37" y="372.40" width="0.9" height="0.9" fill="#000" fill-opacity="0.22"/><rect x="229.92" y="373.84" width="0.9" height="0.9" fill="#000" fill-opacity="0.47"/><rect x="233.39" y="373.24" width="0.9" height="0.9" fill="#000" fill-opacity="0.45"/><rect x="229.39" y="374.67" width="0.9" height="0.9" fill="#000" fill-opacity="0.51"/><rect x="234.06" y="386.79" width="0.9" height="0.9" fill="#000" fill-opacity="0.22"/><rect x="230.67" y="381.02" width="0.9" height="0.9" fill="#000" fill-opacity="0.27"/><rect x="228.00" y="377.39" width="0.9" height="0.9" fill="#000" fill-opacity="0.60"/><rect x="236.79" y="382.82" width="0.9" height="0.9" fill="#000" fill-opacity="0.63"/><rect x="233.50" y="381.05" width="0.9" height="0.9" fill="#000" fill-opacity="0.58"/><rect x="228.41" y="383.20" width="0.9" height="0.9" fill="#000" fill-opacity="0.68"/><rect x="223.81" y="391.04" width="0.9" height="0.9" fill="#000" fill-opacity="0.65"/><rect x="232.98" y="385.22" width="0.9" height="0.9" fill="#000" fill-opacity="0.67"/><rect x="238.24" y="385.89" width="0.9" height="0.9" fill="#000" fill-opacity="0.59"/><rect x="231.02" y="369.92" width="0.9" height="0.9" fill="#000" fill-opacity="0.25"/><rect x="233.29" y="377.33" width="0.9" height="0.9" fill="#000" fill-opacity="0.59"/><rect x="230.32" y="372.88" width="0.9" height="0.9" fill="#000" fill-opacity="0.54"/><rect x="224.00" y="383.38" width="0.9" height="0.9" fill="#000" fill-opacity="0.22"/><rect x="235.55" y="375.65" width="0.9" height="0.9" fill="#000" fill-opacity="0.60"/><rect x="222.05" y="380.00" width="0.9" height="0.9" fill="#000" fill-opacity="0.35"/><rect x="229.97" y="377.67" width="0.9" height="0.9" fill="#000" fill-opacity="0.44"/><rect x="239.75" y="383.72" width="0.9" height="0.9" fill="#000" fill-opacity="0.54"/><rect x="242.89" y="373.11" width="0.9" height="0.9" fill="#000" fill-opacity="0.24"/><rect x="228.76" y="368.77" width="0.9" height="0.9" fill="#000" fill-opacity="0.50"/><rect x="242.34" y="379.40" width="0.9" height="0.9" fill="#000" fill-opacity="0.42"/><rect x="223.46" y="371.86" width="0.9" height="0.9" fill="#000" fill-opacity="0.34"/><rect x="242.19" y="380.53" width="0.9" height="0.9" fill="#000" fill-opacity="0.34"/><rect x="233.67" y="378.88" width="0.9" height="0.9" fill="#000" fill-opacity="0.70"/><rect x="230.83" y="373.94" width="0.9" height="0.9" fill="#000" fill-opacity="0.27"/><rect x="236.97" y="372.73" width="0.9" height="0.9" fill="#000" fill-opacity="0.49"/><rect x="234.56" y="382.60" width="0.9" height="0.9" fill="#000" fill-opacity="0.67"/><rect x="236.26" y="378.18" width="0.9" height="0.9" fill="#000" fill-opacity="0.23"/><rect x="233.40" y="378.01" width="0.9" height="0.9" fill="#000" fill-opacity="0.68"/><rect x="235.45" y="369.87" width="0.9" height="0.9" fill="#000" fill-opacity="0.22"/><rect x="229.09" y="371.46" width="0.9" height="0.9" fill="#000" fill-opacity="0.45"/><rect x="234.72" y="383.74" width="0.9" height="0.9" fill="#000" fill-opacity="0.60"/><rect x="237.98" y="387.07" width="0.9" height="0.9" fill="#000" fill-opacity="0.41"/><rect x="230.68" y="382.46" width="0.9" height="0.9" fill="#000" fill-opacity="0.43"/><rect x="227.15" y="371.82" width="0.9" height="0.9" fill="#000" fill-opacity="0.65"/><rect x="225.07" y="377.53" width="0.9" height="0.9" fill="#000" fill-opacity="0.69"/><rect x="231.25" y="379.12" width="0.9" height="0.9" fill="#000" fill-opacity="0.36"/><rect x="230.06" y="380.90" width="0.9" height="0.9" fill="#000" fill-opacity="0.41"/><rect x="242.05" y="380.97" width="0.9" height="0.9" fill="#000" fill-opacity="0.44"/><rect x="236.65" y="371.65" width="0.9" height="0.9" fill="#000" fill-opacity="0.56"/><rect x="231.28" y="372.97" width="0.9" height="0.9" fill="#000" fill-opacity="0.56"/><rect x="232.78" y="385.39" width="0.9" height="0.9" fill="#000" fill-opacity="0.50"/><rect x="231.53" y="374.46" width="0.9" height="0.9" fill="#000" fill-opacity="0.37"/><rect x="235.11" y="368.37" width="0.9" height="0.9" fill="#000" fill-opacity="0.69"/><rect x="233.58" y="380.84" width="0.9" height="0.9" fill="#000" fill-opacity="0.25"/><rect x="229.69" y="368.26" width="0.9" height="0.9" fill="#000" fill-opacity="0.52"/><rect x="232.16" y="370.95" width="0.9" height="0.9" fill="#000" fill-opacity="0.48"/><rect x="237.41" y="373.92" width="0.9" height="0.9" fill="#000" fill-opacity="0.53"/><rect x="226.10" y="374.34" width="0.9" height="0.9" fill="#000" fill-opacity="0.58"/><rect x="228.69" y="376.66" width="0.9" height="0.9" fill="#000" fill-opacity="0.41"/><rect x="226.37" y="381.08" width="0.9" height="0.9" fill="#000" fill-opacity="0.48"/><rect x="227.83" y="382.61" width="0.9" height="0.9" fill="#000" fill-opacity="0.41"/><rect x="221.81" y="389.64" width="0.9" height="0.9" fill="#000" fill-opacity="0.25"/><rect x="239.00" y="379.07" width="0.9" height="0.9" fill="#000" fill-opacity="0.40"/><rect x="224.70" y="380.58" width="0.9" height="0.9" fill="#000" fill-opacity="0.38"/><rect x="231.11" y="379.10" width="0.9" height="0.9" fill="#000" fill-opacity="0.64"/><rect x="234.86" y="376.21" width="0.9" height="0.9" fill="#000" fill-opacity="0.43"/><rect x="230.27" y="379.91" width="0.9" height="0.9" fill="#000" fill-opacity="0.65"/><rect x="232.97" y="374.24" width="0.9" height="0.9" fill="#000" fill-opacity="0.33"/><rect x="228.20" y="367.90" width="0.9" height="0.9" fill="#000" fill-opacity="0.43"/><rect x="228.28" y="380.89" width="0.9" height="0.9" fill="#000" fill-opacity="0.60"/><rect x="237.51" y="369.09" width="0.9" height="0.9" fill="#000" fill-opacity="0.26"/><rect x="229.85" y="371.56" width="0.9" height="0.9" fill="#000" fill-opacity="0.27"/><rect x="238.58" y="381.66" width="0.9" height="0.9" fill="#000" fill-opacity="0.23"/><rect x="233.73" y="369.77" width="0.9" height="0.9" fill="#000" fill-opacity="0.44"/><rect x="240.07" y="369.27" width="0.9" height="0.9" fill="#000" fill-opacity="0.51"/><rect x="236.45" y="382.74" width="0.9" height="0.9" fill="#000" fill-opacity="0.41"/><rect x="231.08" y="391.84" width="0.9" height="0.9" fill="#000" fill-opacity="0.57"/><rect x="233.65" y="381.05" width="0.9" height="0.9" fill="#000" fill-opacity="0.37"/><rect x="227.08" y="375.70" width="0.9" height="0.9" fill="#000" fill-opacity="0.42"/><rect x="232.28" y="374.55" width="0.9" height="0.9" fill="#000" fill-opacity="0.56"/><rect x="225.21" y="390.67" width="0.9" height="0.9" fill="#000" fill-opacity="0.68"/><rect x="227.86" y="385.29" width="0.9" height="0.9" fill="#000" fill-opacity="0.26"/><rect x="225.14" y="382.52" width="0.9" height="0.9" fill="#000" fill-opacity="0.52"/><rect x="230.33" y="379.37" width="0.9" height="0.9" fill="#000" fill-opacity="0.26"/><rect x="228.21" y="376.69" width="0.9" height="0.9" fill="#000" fill-opacity="0.35"/><rect x="223.14" y="369.32" width="0.9" height="0.9" fill="#000" fill-opacity="0.46"/><rect x="230.86" y="386.01" width="0.9" height="0.9" fill="#000" fill-opacity="0.34"/><rect x="231.64" y="374.63" width="0.9" height="0.9" fill="#000" fill-opacity="0.33"/><rect x="220.93" y="382.98" width="0.9" height="0.9" fill="#000" fill-opacity="0.28"/><rect x="231.99" y="381.03" width="0.9" height="0.9" fill="#000" fill-opacity="0.31"/><rect x="228.57" y="383.28" width="0.9" height="0.9" fill="#000" fill-opacity="0.58"/><rect x="226.38" y="381.92" width="0.9" height="0.9" fill="#000" fill-opacity="0.40"/><rect x="232.69" y="365.23" width="0.9" height="0.9" fill="#000" fill-opacity="0.41"/><rect x="234.39" y="375.89" width="0.9" height="0.9" fill="#000" fill-opacity="0.69"/><rect x="223.58" y="376.61" width="0.9" height="0.9" fill="#000" fill-opacity="0.39"/><rect x="230.69" y="381.25" width="0.9" height="0.9" fill="#000" fill-opacity="0.64"/><rect x="226.13" y="385.23" width="0.9" height="0.9" fill="#000" fill-opacity="0.43"/><rect x="227.69" y="377.37" width="0.9" height="0.9" fill="#000" fill-opacity="0.29"/><rect x="227.15" y="385.83" width="0.9" height="0.9" fill="#000" fill-opacity="0.47"/><rect x="238.92" y="378.19" width="0.9" height="0.9" fill="#000" fill-opacity="0.42"/><rect x="234.57" y="380.00" width="0.9" height="0.9" fill="#000" fill-opacity="0.31"/><rect x="233.84" y="371.25" width="0.9" height="0.9" fill="#000" fill-opacity="0.36"/><rect x="231.09" y="383.03" width="0.9" height="0.9" fill="#000" fill-opacity="0.34"/><rect x="226.02" y="386.78" width="0.9" height="0.9" fill="#000" fill-opacity="0.59"/><rect x="227.72" y="366.23" width="0.9" height="0.9" fill="#000" fill-opacity="0.53"/><rect x="232.19" y="379.23" width="0.9" height="0.9" fill="#000" fill-opacity="0.28"/><rect x="230.74" y="385.40" width="0.9" height="0.9" fill="#000" fill-opacity="0.61"/><rect x="226.50" y="374.79" width="0.9" height="0.9" fill="#000" fill-opacity="0.32"/><rect x="239.36" y="376.90" width="0.9" height="0.9" fill="#000" fill-opacity="0.37"/><rect x="244.63" y="382.89" width="0.9" height="0.9" fill="#000" fill-opacity="0.33"/><rect x="232.49" y="375.60" width="0.9" height="0.9" fill="#000" fill-opacity="0.53"/><rect x="224.55" y="387.92" width="0.9" height="0.9" fill="#000" fill-opacity="0.35"/><rect x="233.73" y="380.41" width="0.9" height="0.9" fill="#000" fill-opacity="0.60"/><rect x="238.16" y="376.90" width="0.9" height="0.9" fill="#000" fill-opacity="0.54"/><rect x="230.25" y="382.74" width="0.9" height="0.9" fill="#000" fill-opacity="0.24"/><rect x="232.53" y="377.88" width="0.9" height="0.9" fill="#000" fill-opacity="0.51"/><rect x="229.16" y="381.17" width="0.9" height="0.9" fill="#000" fill-opacity="0.42"/><rect x="234.47" y="376.14" width="0.9" height="0.9" fill="#000" fill-opacity="0.28"/><rect x="226.02" y="371.67" width="0.9" height="0.9" fill="#000" fill-opacity="0.46"/><rect x="235.41" y="389.09" width="0.9" height="0.9" fill="#000" fill-opacity="0.26"/><rect x="232.76" y="382.02" width="0.9" height="0.9" fill="#000" fill-opacity="0.46"/><rect x="224.77" y="379.18" width="0.9" height="0.9" fill="#000" fill-opacity="0.56"/><rect x="235.47" y="373.88" width="0.9" height="0.9" fill="#000" fill-opacity="0.22"/><rect x="231.52" y="377.04" width="0.9" height="0.9" fill="#000" fill-opacity="0.36"/><rect x="235.28" y="384.43" width="0.9" height="0.9" fill="#000" fill-opacity="0.59"/><rect x="233.93" y="381.68" width="0.9" height="0.9" fill="#000" fill-opacity="0.63"/><rect x="230.16" y="375.38" width="0.9" height="0.9" fill="#000" fill-opacity="0.54"/><rect x="232.45" y="372.13" width="0.9" height="0.9" fill="#000" fill-opacity="0.28"/><rect x="228.68" y="373.63" width="0.9" height="0.9" fill="#000" fill-opacity="0.27"/><rect x="233.64" y="383.29" width="0.9" height="0.9" fill="#000" fill-opacity="0.26"/><rect x="226.30" y="383.07" width="0.9" height="0.9" fill="#000" fill-opacity="0.48"/><rect x="223.67" y="384.17" width="0.9" height="0.9" fill="#000" fill-opacity="0.24"/><rect x="225.46" y="390.30" width="0.9" height="0.9" fill="#000" fill-opacity="0.63"/><rect x="238.53" y="373.17" width="0.9" height="0.9" fill="#000" fill-opacity="0.47"/><rect x="232.57" y="370.44" width="0.9" height="0.9" fill="#000" fill-opacity="0.26"/><rect x="230.97" y="380.77" width="0.9" height="0.9" fill="#000" fill-opacity="0.64"/><rect x="228.81" y="383.57" width="0.9" height="0.9" fill="#000" fill-opacity="0.47"/><rect x="237.35" y="383.61" width="0.9" height="0.9" fill="#000" fill-opacity="0.60"/><rect x="234.00" y="366.19" width="0.9" height="0.9" fill="#000" fill-opacity="0.36"/><rect x="236.22" y="386.10" width="0.9" height="0.9" fill="#000" fill-opacity="0.55"/><rect x="227.88" y="382.02" width="0.9" height="0.9" fill="#000" fill-opacity="0.28"/><rect x="233.78" y="372.25" width="0.9" height="0.9" fill="#000" fill-opacity="0.61"/><rect x="228.70" y="382.51" width="0.9" height="0.9" fill="#000" fill-opacity="0.46"/><rect x="230.76" y="365.63" width="0.9" height="0.9" fill="#000" fill-opacity="0.38"/><rect x="229.28" y="372.33" width="0.9" height="0.9" fill="#000" fill-opacity="0.63"/><rect x="231.45" y="370.43" width="0.9" height="0.9" fill="#000" fill-opacity="0.38"/><rect x="229.50" y="390.39" width="0.9" height="0.9" fill="#000" fill-opacity="0.60"/><rect x="230.34" y="380.42" width="0.9" height="0.9" fill="#000" fill-opacity="0.30"/><rect x="232.43" y="377.67" width="0.9" height="0.9" fill="#000" fill-opacity="0.60"/><rect x="224.80" y="376.67" width="0.9" height="0.9" fill="#000" fill-opacity="0.47"/><rect x="225.66" y="382.14" width="0.9" height="0.9" fill="#000" fill-opacity="0.24"/><rect x="233.09" y="376.70" width="0.9" height="0.9" fill="#000" fill-opacity="0.27"/><rect x="227.70" y="370.46" width="0.9" height="0.9" fill="#000" fill-opacity="0.60"/><rect x="226.97" y="365.08" width="0.9" height="0.9" fill="#000" fill-opacity="0.23"/><rect x="234.72" y="378.34" width="0.9" height="0.9" fill="#000" fill-opacity="0.59"/><rect x="234.58" y="384.10" width="0.9" height="0.9" fill="#000" fill-opacity="0.59"/><rect x="234.45" y="384.16" width="0.9" height="0.9" fill="#000" fill-opacity="0.65"/><rect x="230.97" y="372.01" width="0.9" height="0.9" fill="#000" fill-opacity="0.44"/><rect x="228.84" y="393.07" width="0.9" height="0.9" fill="#000" fill-opacity="0.59"/><rect x="229.25" y="373.42" width="0.9" height="0.9" fill="#000" fill-opacity="0.57"/><rect x="222.13" y="378.94" width="0.9" height="0.9" fill="#000" fill-opacity="0.38"/><rect x="236.64" y="371.88" width="0.9" height="0.9" fill="#000" fill-opacity="0.43"/><rect x="222.70" y="373.88" width="0.9" height="0.9" fill="#000" fill-opacity="0.46"/><rect x="231.63" y="377.87" width="0.9" height="0.9" fill="#000" fill-opacity="0.65"/><rect x="229.75" y="371.27" width="0.9" height="0.9" fill="#000" fill-opacity="0.62"/><rect x="233.74" y="382.43" width="0.9" height="0.9" fill="#000" fill-opacity="0.56"/><rect x="233.20" y="372.86" width="0.9" height="0.9" fill="#000" fill-opacity="0.70"/><rect x="230.14" y="376.58" width="0.9" height="0.9" fill="#000" fill-opacity="0.26"/><rect x="236.81" y="381.65" width="0.9" height="0.9" fill="#000" fill-opacity="0.36"/><rect x="230.67" y="384.57" width="0.9" height="0.9" fill="#000" fill-opacity="0.24"/><rect x="239.07" y="371.85" width="0.9" height="0.9" fill="#000" fill-opacity="0.48"/><rect x="227.02" y="379.81" width="0.9" height="0.9" fill="#000" fill-opacity="0.50"/><rect x="223.27" y="391.46" width="0.9" height="0.9" fill="#000" fill-opacity="0.68"/><rect x="229.69" y="366.95" width="0.9" height="0.9" fill="#000" fill-opacity="0.24"/><rect x="234.33" y="381.92" width="0.9" height="0.9" fill="#000" fill-opacity="0.26"/><rect x="237.44" y="364.98" width="0.9" height="0.9" fill="#000" fill-opacity="0.31"/><rect x="231.24" y="379.34" width="0.9" height="0.9" fill="#000" fill-opacity="0.34"/><rect x="236.80" y="380.61" width="0.9" height="0.9" fill="#000" fill-opacity="0.35"/><rect x="228.09" y="371.22" width="0.9" height="0.9" fill="#000" fill-opacity="0.50"/><rect x="228.54" y="387.35" width="0.9" height="0.9" fill="#000" fill-opacity="0.54"/><rect x="229.79" y="371.45" width="0.9" height="0.9" fill="#000" fill-opacity="0.43"/><rect x="230.73" y="379.72" width="0.9" height="0.9" fill="#000" fill-opacity="0.43"/><rect x="228.66" y="375.48" width="0.9" height="0.9" fill="#000" fill-opacity="0.63"/><rect x="238.15" y="369.95" width="0.9" height="0.9" fill="#000" fill-opacity="0.61"/><rect x="227.95" y="378.32" width="0.9" height="0.9" fill="#000" fill-opacity="0.34"/><rect x="229.93" y="360.77" width="0.9" height="0.9" fill="#000" fill-opacity="0.26"/><rect x="235.71" y="378.27" width="0.9" height="0.9" fill="#000" fill-opacity="0.37"/><rect x="229.05" y="376.36" width="0.9" height="0.9" fill="#000" fill-opacity="0.62"/><rect x="225.30" y="389.22" width="0.9" height="0.9" fill="#000" fill-opacity="0.36"/><rect x="229.99" y="381.56" width="0.9" height="0.9" fill="#000" fill-opacity="0.68"/><rect x="223.14" y="372.07" width="0.9" height="0.9" fill="#000" fill-opacity="0.23"/><rect x="223.22" y="375.45" width="0.9" height="0.9" fill="#000" fill-opacity="0.69"/><rect x="233.21" y="376.96" width="0.9" height="0.9" fill="#000" fill-opacity="0.39"/><rect x="237.24" y="377.99" width="0.9" height="0.9" fill="#000" fill-opacity="0.68"/><rect x="231.03" y="379.41" width="0.9" height="0.9" fill="#000" fill-opacity="0.67"/><rect x="230.50" y="385.72" width="0.9" height="0.9" fill="#000" fill-opacity="0.38"/><rect x="220.75" y="371.50" width="0.9" height="0.9" fill="#000" fill-opacity="0.67"/><rect x="233.81" y="374.82" width="0.9" height="0.9" fill="#000" fill-opacity="0.61"/><rect x="236.20" y="378.77" width="0.9" height="0.9" fill="#000" fill-opacity="0.67"/><rect x="230.91" y="383.79" width="0.9" height="0.9" fill="#000" fill-opacity="0.49"/><rect x="231.71" y="387.44" width="0.9" height="0.9" fill="#000" fill-opacity="0.53"/><rect x="240.34" y="385.64" width="0.9" height="0.9" fill="#000" fill-opacity="0.24"/><rect x="229.52" y="372.81" width="0.9" height="0.9" fill="#000" fill-opacity="0.27"/><rect x="246.45" y="387.91" width="0.9" height="0.9" fill="#000" fill-opacity="0.60"/><rect x="222.45" y="380.78" width="0.9" height="0.9" fill="#000" fill-opacity="0.68"/><rect x="236.57" y="374.75" width="0.9" height="0.9" fill="#000" fill-opacity="0.34"/><rect x="230.13" y="369.19" width="0.9" height="0.9" fill="#000" fill-opacity="0.62"/><rect x="225.67" y="382.21" width="0.9" height="0.9" fill="#000" fill-opacity="0.62"/><rect x="234.16" y="389.32" width="0.9" height="0.9" fill="#000" fill-opacity="0.21"/><rect x="224.69" y="376.24" width="0.9" height="0.9" fill="#000" fill-opacity="0.27"/><rect x="235.80" y="375.01" width="0.9" height="0.9" fill="#000" fill-opacity="0.29"/><rect x="225.37" y="382.28" width="0.9" height="0.9" fill="#000" fill-opacity="0.41"/><rect x="233.25" y="378.10" width="0.9" height="0.9" fill="#000" fill-opacity="0.56"/><rect x="233.65" y="381.45" width="0.9" height="0.9" fill="#000" fill-opacity="0.60"/><rect x="237.71" y="368.58" width="0.9" height="0.9" fill="#000" fill-opacity="0.29"/><rect x="239.42" y="378.38" width="0.9" height="0.9" fill="#000" fill-opacity="0.50"/><rect x="230.41" y="378.92" width="0.9" height="0.9" fill="#000" fill-opacity="0.42"/><rect x="231.59" y="386.01" width="0.9" height="0.9" fill="#000" fill-opacity="0.69"/><rect x="231.55" y="380.34" width="0.9" height="0.9" fill="#000" fill-opacity="0.55"/><rect x="233.82" y="380.72" width="0.9" height="0.9" fill="#000" fill-opacity="0.42"/><rect x="235.46" y="377.59" width="0.9" height="0.9" fill="#000" fill-opacity="0.36"/><rect x="228.11" y="378.60" width="0.9" height="0.9" fill="#000" fill-opacity="0.40"/><rect x="229.69" y="373.00" width="0.9" height="0.9" fill="#000" fill-opacity="0.60"/><rect x="231.98" y="380.59" width="0.9" height="0.9" fill="#000" fill-opacity="0.51"/><rect x="220.35" y="381.96" width="0.9" height="0.9" fill="#000" fill-opacity="0.25"/><rect x="230.87" y="369.12" width="0.9" height="0.9" fill="#000" fill-opacity="0.39"/><rect x="235.81" y="384.01" width="0.9" height="0.9" fill="#000" fill-opacity="0.58"/><rect x="225.48" y="379.21" width="0.9" height="0.9" fill="#000" fill-opacity="0.54"/><rect x="226.99" y="374.06" width="0.9" height="0.9" fill="#000" fill-opacity="0.29"/><rect x="224.90" y="379.77" width="0.9" height="0.9" fill="#000" fill-opacity="0.65"/><rect x="237.43" y="377.80" width="0.9" height="0.9" fill="#000" fill-opacity="0.36"/><rect x="232.25" y="386.39" width="0.9" height="0.9" fill="#000" fill-opacity="0.57"/><rect x="231.16" y="387.24" width="0.9" height="0.9" fill="#000" fill-opacity="0.70"/><rect x="221.87" y="386.99" width="0.9" height="0.9" fill="#000" fill-opacity="0.42"/><rect x="225.26" y="368.21" width="0.9" height="0.9" fill="#000" fill-opacity="0.30"/><rect x="222.92" y="392.30" width="0.9" height="0.9" fill="#000" fill-opacity="0.23"/><rect x="229.08" y="384.46" width="0.9" height="0.9" fill="#000" fill-opacity="0.57"/><rect x="223.19" y="367.93" width="0.9" height="0.9" fill="#000" fill-opacity="0.53"/><rect x="232.97" y="378.07" width="0.9" height="0.9" fill="#000" fill-opacity="0.22"/><rect x="229.99" y="378.63" width="0.9" height="0.9" fill="#000" fill-opacity="0.46"/><rect x="228.79" y="375.07" width="0.9" height="0.9" fill="#000" fill-opacity="0.63"/><rect x="220.19" y="385.91" width="0.9" height="0.9" fill="#000" fill-opacity="0.38"/><rect x="226.49" y="372.92" width="0.9" height="0.9" fill="#000" fill-opacity="0.33"/><rect x="231.13" y="377.52" width="0.9" height="0.9" fill="#000" fill-opacity="0.32"/><rect x="226.61" y="389.25" width="0.9" height="0.9" fill="#000" fill-opacity="0.45"/><rect x="235.15" y="379.20" width="0.9" height="0.9" fill="#000" fill-opacity="0.50"/><rect x="231.92" y="375.36" width="0.9" height="0.9" fill="#000" fill-opacity="0.59"/><rect x="226.34" y="382.69" width="0.9" height="0.9" fill="#000" fill-opacity="0.41"/><rect x="240.81" y="371.52" width="0.9" height="0.9" fill="#000" fill-opacity="0.57"/><rect x="230.20" y="374.90" width="0.9" height="0.9" fill="#000" fill-opacity="0.22"/><rect x="234.69" y="370.21" width="0.9" height="0.9" fill="#000" fill-opacity="0.52"/><rect x="229.54" y="382.42" width="0.9" height="0.9" fill="#000" fill-opacity="0.66"/><rect x="230.07" y="377.81" width="0.9" height="0.9" fill="#000" fill-opacity="0.37"/><rect x="229.96" y="379.88" width="0.9" height="0.9" fill="#000" fill-opacity="0.69"/><rect x="238.58" y="371.74" width="0.9" height="0.9" fill="#000" fill-opacity="0.20"/><rect x="228.94" y="379.50" width="0.9" height="0.9" fill="#000" fill-opacity="0.56"/><rect x="234.27" y="368.19" width="0.9" height="0.9" fill="#000" fill-opacity="0.60"/><rect x="231.65" y="378.73" width="0.9" height="0.9" fill="#000" fill-opacity="0.25"/><rect x="236.20" y="368.62" width="0.9" height="0.9" fill="#000" fill-opacity="0.46"/><rect x="232.00" y="389.83" width="0.9" height="0.9" fill="#000" fill-opacity="0.26"/><rect x="230.91" y="378.38" width="0.9" height="0.9" fill="#000" fill-opacity="0.69"/><rect x="223.66" y="383.29" width="0.9" height="0.9" fill="#000" fill-opacity="0.60"/><rect x="232.80" y="364.48" width="0.9" height="0.9" fill="#000" fill-opacity="0.68"/><rect x="238.30" y="382.98" width="0.9" height="0.9" fill="#000" fill-opacity="0.31"/><rect x="228.99" y="382.94" width="0.9" height="0.9" fill="#000" fill-opacity="0.69"/><rect x="236.01" y="380.42" width="0.9" height="0.9" fill="#000" fill-opacity="0.26"/><rect x="236.90" y="377.94" width="0.9" height="0.9" fill="#000" fill-opacity="0.55"/><rect x="222.58" y="376.76" width="0.9" height="0.9" fill="#000" fill-opacity="0.37"/><rect x="223.98" y="383.18" width="0.9" height="0.9" fill="#000" fill-opacity="0.55"/><rect x="234.32" y="374.70" width="0.9" height="0.9" fill="#000" fill-opacity="0.62"/><rect x="230.53" y="370.25" width="0.9" height="0.9" fill="#000" fill-opacity="0.40"/><rect x="229.23" y="377.07" width="0.9" height="0.9" fill="#000" fill-opacity="0.25"/><rect x="230.09" y="380.90" width="0.9" height="0.9" fill="#000" fill-opacity="0.22"/><rect x="229.37" y="368.53" width="0.9" height="0.9" fill="#000" fill-opacity="0.51"/><rect x="233.24" y="387.28" width="0.9" height="0.9" fill="#000" fill-opacity="0.61"/><rect x="228.42" y="375.12" width="0.9" height="0.9" fill="#000" fill-opacity="0.48"/><rect x="227.93" y="380.97" width="0.9" height="0.9" fill="#000" fill-opacity="0.27"/><rect x="235.72" y="371.68" width="0.9" height="0.9" fill="#000" fill-opacity="0.67"/><rect x="232.89" y="382.20" width="0.9" height="0.9" fill="#000" fill-opacity="0.45"/><rect x="235.00" y="379.90" width="0.9" height="0.9" fill="#000" fill-opacity="0.47"/><rect x="220.16" y="379.55" width="0.9" height="0.9" fill="#000" fill-opacity="0.49"/><rect x="226.74" y="372.00" width="0.9" height="0.9" fill="#000" fill-opacity="0.59"/><rect x="230.93" y="378.21" width="0.9" height="0.9" fill="#000" fill-opacity="0.69"/><rect x="231.74" y="375.04" width="0.9" height="0.9" fill="#000" fill-opacity="0.26"/><rect x="232.32" y="386.71" width="0.9" height="0.9" fill="#000" fill-opacity="0.27"/><rect x="236.84" y="378.93" width="0.9" height="0.9" fill="#000" fill-opacity="0.20"/><rect x="230.78" y="383.93" width="0.9" height="0.9" fill="#000" fill-opacity="0.30"/>
<rect x="253.43" y="339.87" width="0.9" height="0.9" fill="#000" fill-opacity="0.11"/><rect x="247.22" y="341.70" width="0.9" height="0.9" fill="#000" fill-opacity="0.12"/><rect x="249.11" y="340.20" width="0.9" height="0.9" fill="#000" fill-opacity="0.18"/><rect x="249.12" y="337.53" width="0.9" height="0.9" fill="#000" fill-opacity="0.08"/><rect x="250.68" y="344.12" width="0.9" height="0.9" fill="#000" fill-opacity="0.13"/><rect x="252.11" y="343.41" width="0.9" height="0.9" fill="#000" fill-opacity="0.19"/><rect x="253.79" y="341.49" width="0.9" height="0.9" fill="#000" fill-opacity="0.15"/><rect x="252.80" y="341.03" width="0.9" height="0.9" fill="#000" fill-opacity="0.15"/><rect x="246.30" y="337.35" width="0.9" height="0.9" fill="#000" fill-opacity="0.15"/><rect x="248.19" y="340.37" width="0.9" height="0.9" fill="#000" fill-opacity="0.08"/><rect x="254.78" y="336.44" width="0.9" height="0.9" fill="#000" fill-opacity="0.19"/><rect x="257.16" y="341.42" width="0.9" height="0.9" fill="#000" fill-opacity="0.10"/><rect x="247.65" y="340.95" width="0.9" height="0.9" fill="#000" fill-opacity="0.18"/><rect x="253.52" y="336.42" width="0.9" height="0.9" fill="#000" fill-opacity="0.13"/><rect x="253.12" y="339.24" width="0.9" height="0.9" fill="#000" fill-opacity="0.15"/><rect x="247.86" y="338.56" width="0.9" height="0.9" fill="#000" fill-opacity="0.13"/><rect x="256.76" y="341.95" width="0.9" height="0.9" fill="#000" fill-opacity="0.10"/><rect x="252.20" y="341.07" width="0.9" height="0.9" fill="#000" fill-opacity="0.16"/>
<defs><radialGradient id="g275"><stop offset="0" stop-color="#000" stop-opacity="0.95"/><stop offset="0.55" stop-color="#000" stop-opacity="0.8075"/><stop offset="1" stop-color="#000" stop-opacity="0"/></radialGradient></defs>
<ellipse cx="232.20" cy="377.50" rx="7.50" ry="8.00" fill="url(#g275)"/>
<line x1="239.50" y1="328.30" x2="239.50" y2="395.00" stroke="#555" stroke-width="0.8"/>
<line x1="220.00" y1="367.50" x2="281.40" y2="367.50" stroke="#555" stroke-width="0.8"/>
<rect x="220.00" y="328.30" width="61.40" height="66.70" fill="none" stroke="#2a2a2a" stroke-width="1.25"/>
<text x="217.40" y="398.83" font-size="6.8" text-anchor="end">10<tspan font-size="4.08" dx="0.54" dy="-2.86">0</tspan></text>
<text x="217.40" y="382.16" font-size="6.8" text-anchor="end">10<tspan font-size="4.08" dx="0.54" dy="-2.86">1</tspan></text>
<text x="217.40" y="365.48" font-size="6.8" text-anchor="end">10<tspan font-size="4.08" dx="0.54" dy="-2.86">2</tspan></text>
<text x="217.40" y="348.81" font-size="6.8" text-anchor="end">10<tspan font-size="4.08" dx="0.54" dy="-2.86">3</tspan></text>
<text x="217.40" y="332.13" font-size="6.8" text-anchor="end">10<tspan font-size="4.08" dx="0.54" dy="-2.86">4</tspan></text>
<text x="221.50" y="406.03" font-size="6.8" text-anchor="middle">10<tspan font-size="4.08" dx="0.54" dy="-2.86">0</tspan></text>
<text x="236.15" y="406.03" font-size="6.8" text-anchor="middle">10<tspan font-size="4.08" dx="0.54" dy="-2.86">1</tspan></text>
<text x="250.80" y="406.03" font-size="6.8" text-anchor="middle">10<tspan font-size="4.08" dx="0.54" dy="-2.86">2</tspan></text>
<text x="265.45" y="406.03" font-size="6.8" text-anchor="middle">10<tspan font-size="4.08" dx="0.54" dy="-2.86">3</tspan></text>
<text x="280.10" y="406.03" font-size="6.8" text-anchor="middle">10<tspan font-size="4.08" dx="0.54" dy="-2.86">4</tspan></text>
<text x="277.90" y="335.26" font-size="6.3" text-anchor="end">0.25%</text>
<line x1="137.50" y1="414.50" x2="190.90" y2="414.50" stroke="#1a1718" stroke-width="1.3"/>
<polygon points="195.90,414.40 188.90,411.50 190.70,414.40 188.90,417.30" fill="#1a1718"/>
<text x="0" y="0" font-size="9.2" text-anchor="start" transform="translate(199.80,416.69) scale(0.755,1)">CD25+</text>
<line x1="224.80" y1="414.50" x2="279.10" y2="414.50" stroke="#1a1718" stroke-width="1.3"/>
<polygon points="284.10,414.30 277.10,411.40 278.90,414.30 277.10,417.20" fill="#1a1718"/>
<text x="164.00" y="426.21" font-size="7.0" text-anchor="middle">Isotype Mouse</text>
<text x="164.00" y="434.11" font-size="7.0" text-anchor="middle">IgG2a</text>
<text x="257.60" y="426.07" font-size="6.9" text-anchor="middle">34-1-2s + AF6-88.5.5.3</text>
<text x="257.60" y="434.47" font-size="6.9" text-anchor="middle">(increased IL-10,</text>
<text x="257.60" y="442.87" font-size="6.9" text-anchor="middle">resistance to TRALI)</text>
<rect x="317.98" y="268.61" width="0.9" height="0.9" fill="#000" fill-opacity="0.53"/><rect x="321.60" y="270.40" width="0.9" height="0.9" fill="#000" fill-opacity="0.39"/><rect x="323.17" y="280.43" width="0.9" height="0.9" fill="#000" fill-opacity="0.22"/><rect x="325.25" y="278.79" width="0.9" height="0.9" fill="#000" fill-opacity="0.55"/><rect x="320.48" y="272.88" width="0.9" height="0.9" fill="#000" fill-opacity="0.25"/><rect x="316.91" y="270.54" width="0.9" height="0.9" fill="#000" fill-opacity="0.16"/><rect x="326.38" y="280.94" width="0.9" height="0.9" fill="#000" fill-opacity="0.42"/><rect x="328.33" y="281.80" width="0.9" height="0.9" fill="#000" fill-opacity="0.26"/><rect x="316.87" y="270.65" width="0.9" height="0.9" fill="#000" fill-opacity="0.30"/><rect x="325.81" y="273.06" width="0.9" height="0.9" fill="#000" fill-opacity="0.34"/><rect x="329.24" y="274.55" width="0.9" height="0.9" fill="#000" fill-opacity="0.39"/><rect x="320.22" y="265.09" width="0.9" height="0.9" fill="#000" fill-opacity="0.58"/><rect x="329.02" y="273.22" width="0.9" height="0.9" fill="#000" fill-opacity="0.25"/><rect x="317.15" y="272.18" width="0.9" height="0.9" fill="#000" fill-opacity="0.25"/><rect x="322.17" y="270.35" width="0.9" height="0.9" fill="#000" fill-opacity="0.47"/><rect x="316.81" y="276.08" width="0.9" height="0.9" fill="#000" fill-opacity="0.47"/><rect x="319.41" y="253.15" width="0.9" height="0.9" fill="#000" fill-opacity="0.60"/><rect x="322.64" y="269.97" width="0.9" height="0.9" fill="#000" fill-opacity="0.45"/><rect x="317.55" y="277.85" width="0.9" height="0.9" fill="#000" fill-opacity="0.16"/><rect x="320.79" y="278.85" width="0.9" height="0.9" fill="#000" fill-opacity="0.37"/><rect x="324.04" y="277.52" width="0.9" height="0.9" fill="#000" fill-opacity="0.35"/><rect x="318.49" y="282.76" width="0.9" height="0.9" fill="#000" fill-opacity="0.39"/><rect x="319.71" y="278.14" width="0.9" height="0.9" fill="#000" fill-opacity="0.16"/><rect x="320.73" y="282.40" width="0.9" height="0.9" fill="#000" fill-opacity="0.29"/><rect x="321.30" y="266.82" width="0.9" height="0.9" fill="#000" fill-opacity="0.51"/><rect x="323.95" y="275.68" width="0.9" height="0.9" fill="#000" fill-opacity="0.24"/><rect x="318.46" y="281.11" width="0.9" height="0.9" fill="#000" fill-opacity="0.32"/><rect x="326.28" y="273.82" width="0.9" height="0.9" fill="#000" fill-opacity="0.41"/><rect x="327.83" y="273.10" width="0.9" height="0.9" fill="#000" fill-opacity="0.42"/><rect x="323.47" y="269.58" width="0.9" height="0.9" fill="#000" fill-opacity="0.17"/><rect x="326.92" y="273.11" width="0.9" height="0.9" fill="#000" fill-opacity="0.41"/><rect x="328.35" y="280.59" width="0.9" height="0.9" fill="#000" fill-opacity="0.32"/><rect x="319.26" y="270.76" width="0.9" height="0.9" fill="#000" fill-opacity="0.56"/><rect x="319.10" y="279.97" width="0.9" height="0.9" fill="#000" fill-opacity="0.55"/><rect x="322.16" y="281.42" width="0.9" height="0.9" fill="#000" fill-opacity="0.37"/><rect x="323.76" y="275.10" width="0.9" height="0.9" fill="#000" fill-opacity="0.24"/><rect x="322.05" y="272.71" width="0.9" height="0.9" fill="#000" fill-opacity="0.34"/><rect x="323.02" y="263.96" width="0.9" height="0.9" fill="#000" fill-opacity="0.51"/><rect x="328.55" y="286.14" width="0.9" height="0.9" fill="#000" fill-opacity="0.31"/><rect x="323.55" y="267.76" width="0.9" height="0.9" fill="#000" fill-opacity="0.55"/><rect x="318.11" y="276.35" width="0.9" height="0.9" fill="#000" fill-opacity="0.22"/><rect x="320.11" y="275.60" width="0.9" height="0.9" fill="#000" fill-opacity="0.22"/><rect x="325.70" y="268.61" width="0.9" height="0.9" fill="#000" fill-opacity="0.54"/><rect x="324.55" y="282.52" width="0.9" height="0.9" fill="#000" fill-opacity="0.36"/><rect x="324.29" y="279.23" width="0.9" height="0.9" fill="#000" fill-opacity="0.56"/><rect x="320.66" y="266.73" width="0.9" height="0.9" fill="#000" fill-opacity="0.42"/><rect x="328.71" y="261.28" width="0.9" height="0.9" fill="#000" fill-opacity="0.42"/><rect x="330.22" y="280.28" width="0.9" height="0.9" fill="#000" fill-opacity="0.22"/><rect x="321.70" y="279.61" width="0.9" height="0.9" fill="#000" fill-opacity="0.38"/><rect x="317.21" y="271.42" width="0.9" height="0.9" fill="#000" fill-opacity="0.36"/><rect x="326.08" y="284.79" width="0.9" height="0.9" fill="#000" fill-opacity="0.39"/><rect x="318.46" y="288.79" width="0.9" height="0.9" fill="#000" fill-opacity="0.57"/><rect x="333.06" y="265.37" width="0.9" height="0.9" fill="#000" fill-opacity="0.18"/><rect x="317.79" y="280.83" width="0.9" height="0.9" fill="#000" fill-opacity="0.27"/><rect x="321.17" y="259.29" width="0.9" height="0.9" fill="#000" fill-opacity="0.21"/><rect x="325.32" y="270.27" width="0.9" height="0.9" fill="#000" fill-opacity="0.20"/><rect x="316.32" y="278.01" width="0.9" height="0.9" fill="#000" fill-opacity="0.50"/><rect x="322.98" y="281.14" width="0.9" height="0.9" fill="#000" fill-opacity="0.59"/><rect x="327.72" y="276.31" width="0.9" height="0.9" fill="#000" fill-opacity="0.19"/><rect x="321.57" y="267.68" width="0.9" height="0.9" fill="#000" fill-opacity="0.57"/><rect x="323.09" y="290.70" width="0.9" height="0.9" fill="#000" fill-opacity="0.25"/><rect x="323.38" y="276.49" width="0.9" height="0.9" fill="#000" fill-opacity="0.18"/><rect x="317.18" y="284.97" width="0.9" height="0.9" fill="#000" fill-opacity="0.17"/><rect x="326.39" y="281.25" width="0.9" height="0.9" fill="#000" fill-opacity="0.35"/><rect x="317.59" y="288.04" width="0.9" height="0.9" fill="#000" fill-opacity="0.46"/><rect x="323.10" y="277.99" width="0.9" height="0.9" fill="#000" fill-opacity="0.17"/><rect x="321.01" y="286.18" width="0.9" height="0.9" fill="#000" fill-opacity="0.59"/><rect x="330.37" y="272.63" width="0.9" height="0.9" fill="#000" fill-opacity="0.21"/><rect x="323.54" y="263.28" width="0.9" height="0.9" fill="#000" fill-opacity="0.36"/><rect x="327.63" y="275.28" width="0.9" height="0.9" fill="#000" fill-opacity="0.20"/><rect x="322.05" y="279.41" width="0.9" height="0.9" fill="#000" fill-opacity="0.42"/><rect x="322.18" y="275.62" width="0.9" height="0.9" fill="#000" fill-opacity="0.59"/><rect x="321.28" y="281.41" width="0.9" height="0.9" fill="#000" fill-opacity="0.54"/><rect x="327.66" y="284.12" width="0.9" height="0.9" fill="#000" fill-opacity="0.55"/><rect x="327.69" y="275.93" width="0.9" height="0.9" fill="#000" fill-opacity="0.43"/><rect x="322.26" y="266.58" width="0.9" height="0.9" fill="#000" fill-opacity="0.20"/><rect x="322.67" y="286.30" width="0.9" height="0.9" fill="#000" fill-opacity="0.19"/><rect x="324.23" y="279.10" width="0.9" height="0.9" fill="#000" fill-opacity="0.51"/><rect x="317.50" y="273.52" width="0.9" height="0.9" fill="#000" fill-opacity="0.58"/><rect x="318.65" y="272.85" width="0.9" height="0.9" fill="#000" fill-opacity="0.40"/><rect x="324.20" y="269.88" width="0.9" height="0.9" fill="#000" fill-opacity="0.35"/><rect x="319.72" y="271.92" width="0.9" height="0.9" fill="#000" fill-opacity="0.41"/><rect x="319.34" y="283.20" width="0.9" height="0.9" fill="#000" fill-opacity="0.47"/><rect x="326.86" y="276.68" width="0.9" height="0.9" fill="#000" fill-opacity="0.29"/><rect x="320.72" y="281.15" width="0.9" height="0.9" fill="#000" fill-opacity="0.38"/><rect x="318.42" y="274.47" width="0.9" height="0.9" fill="#000" fill-opacity="0.49"/><rect x="317.33" y="275.57" width="0.9" height="0.9" fill="#000" fill-opacity="0.26"/><rect x="326.58" y="261.73" width="0.9" height="0.9" fill="#000" fill-opacity="0.57"/><rect x="321.57" y="278.43" width="0.9" height="0.9" fill="#000" fill-opacity="0.43"/><rect x="330.31" y="277.84" width="0.9" height="0.9" fill="#000" fill-opacity="0.46"/><rect x="319.03" y="282.47" width="0.9" height="0.9" fill="#000" fill-opacity="0.46"/><rect x="323.84" y="281.59" width="0.9" height="0.9" fill="#000" fill-opacity="0.50"/><rect x="319.03" y="266.53" width="0.9" height="0.9" fill="#000" fill-opacity="0.20"/><rect x="322.26" y="281.20" width="0.9" height="0.9" fill="#000" fill-opacity="0.16"/><rect x="317.81" y="268.02" width="0.9" height="0.9" fill="#000" fill-opacity="0.57"/><rect x="316.22" y="277.31" width="0.9" height="0.9" fill="#000" fill-opacity="0.28"/><rect x="321.26" y="275.59" width="0.9" height="0.9" fill="#000" fill-opacity="0.31"/><rect x="323.58" y="285.47" width="0.9" height="0.9" fill="#000" fill-opacity="0.38"/><rect x="321.70" y="272.35" width="0.9" height="0.9" fill="#000" fill-opacity="0.16"/><rect x="319.70" y="265.92" width="0.9" height="0.9" fill="#000" fill-opacity="0.44"/><rect x="320.33" y="275.54" width="0.9" height="0.9" fill="#000" fill-opacity="0.35"/><rect x="324.67" y="266.80" width="0.9" height="0.9" fill="#000" fill-opacity="0.17"/><rect x="328.47" y="287.01" width="0.9" height="0.9" fill="#000" fill-opacity="0.40"/><rect x="325.16" y="285.64" width="0.9" height="0.9" fill="#000" fill-opacity="0.57"/><rect x="325.84" y="267.45" width="0.9" height="0.9" fill="#000" fill-opacity="0.51"/><rect x="325.83" y="279.93" width="0.9" height="0.9" fill="#000" fill-opacity="0.51"/><rect x="320.19" y="279.06" width="0.9" height="0.9" fill="#000" fill-opacity="0.54"/><rect x="321.39" y="274.67" width="0.9" height="0.9" fill="#000" fill-opacity="0.18"/><rect x="326.20" y="281.58" width="0.9" height="0.9" fill="#000" fill-opacity="0.23"/><rect x="320.29" y="279.26" width="0.9" height="0.9" fill="#000" fill-opacity="0.36"/><rect x="327.85" y="278.69" width="0.9" height="0.9" fill="#000" fill-opacity="0.44"/><rect x="327.91" y="268.33" width="0.9" height="0.9" fill="#000" fill-opacity="0.18"/><rect x="325.38" y="268.66" width="0.9" height="0.9" fill="#000" fill-opacity="0.57"/><rect x="319.70" y="275.70" width="0.9" height="0.9" fill="#000" fill-opacity="0.47"/><rect x="327.56" y="294.66" width="0.9" height="0.9" fill="#000" fill-opacity="0.39"/><rect x="325.83" y="270.52" width="0.9" height="0.9" fill="#000" fill-opacity="0.30"/><rect x="317.84" y="265.50" width="0.9" height="0.9" fill="#000" fill-opacity="0.36"/><rect x="320.80" y="283.28" width="0.9" height="0.9" fill="#000" fill-opacity="0.47"/><rect x="321.91" y="279.91" width="0.9" height="0.9" fill="#000" fill-opacity="0.37"/><rect x="320.64" y="273.22" width="0.9" height="0.9" fill="#000" fill-opacity="0.27"/><rect x="325.04" y="274.50" width="0.9" height="0.9" fill="#000" fill-opacity="0.50"/><rect x="320.90" y="278.53" width="0.9" height="0.9" fill="#000" fill-opacity="0.37"/><rect x="326.87" y="266.05" width="0.9" height="0.9" fill="#000" fill-opacity="0.17"/><rect x="319.74" y="265.55" width="0.9" height="0.9" fill="#000" fill-opacity="0.37"/><rect x="318.76" y="267.72" width="0.9" height="0.9" fill="#000" fill-opacity="0.23"/><rect x="320.76" y="271.84" width="0.9" height="0.9" fill="#000" fill-opacity="0.29"/><rect x="325.02" y="267.74" width="0.9" height="0.9" fill="#000" fill-opacity="0.38"/><rect x="320.25" y="267.09" width="0.9" height="0.9" fill="#000" fill-opacity="0.32"/><rect x="320.65" y="275.04" width="0.9" height="0.9" fill="#000" fill-opacity="0.31"/><rect x="335.97" y="281.63" width="0.9" height="0.9" fill="#000" fill-opacity="0.56"/><rect x="320.05" y="271.93" width="0.9" height="0.9" fill="#000" fill-opacity="0.53"/><rect x="319.88" y="288.82" width="0.9" height="0.9" fill="#000" fill-opacity="0.44"/><rect x="320.62" y="289.68" width="0.9" height="0.9" fill="#000" fill-opacity="0.39"/><rect x="321.93" y="261.21" width="0.9" height="0.9" fill="#000" fill-opacity="0.26"/><rect x="317.94" y="279.33" width="0.9" height="0.9" fill="#000" fill-opacity="0.18"/><rect x="326.41" y="267.51" width="0.9" height="0.9" fill="#000" fill-opacity="0.37"/><rect x="325.38" y="278.55" width="0.9" height="0.9" fill="#000" fill-opacity="0.46"/><rect x="316.40" y="273.65" width="0.9" height="0.9" fill="#000" fill-opacity="0.27"/><rect x="322.68" y="286.56" width="0.9" height="0.9" fill="#000" fill-opacity="0.30"/><rect x="330.51" y="269.36" width="0.9" height="0.9" fill="#000" fill-opacity="0.59"/><rect x="320.65" y="284.44" width="0.9" height="0.9" fill="#000" fill-opacity="0.20"/><rect x="320.43" y="277.83" width="0.9" height="0.9" fill="#000" fill-opacity="0.38"/><rect x="328.90" y="272.15" width="0.9" height="0.9" fill="#000" fill-opacity="0.31"/><rect x="319.84" y="292.68" width="0.9" height="0.9" fill="#000" fill-opacity="0.17"/><rect x="326.53" y="263.34" width="0.9" height="0.9" fill="#000" fill-opacity="0.18"/><rect x="327.73" y="272.28" width="0.9" height="0.9" fill="#000" fill-opacity="0.33"/><rect x="324.72" y="271.47" width="0.9" height="0.9" fill="#000" fill-opacity="0.15"/><rect x="322.71" y="264.89" width="0.9" height="0.9" fill="#000" fill-opacity="0.44"/><rect x="323.15" y="276.89" width="0.9" height="0.9" fill="#000" fill-opacity="0.55"/><rect x="318.21" y="281.95" width="0.9" height="0.9" fill="#000" fill-opacity="0.59"/><rect x="323.71" y="285.57" width="0.9" height="0.9" fill="#000" fill-opacity="0.18"/><rect x="325.73" y="286.13" width="0.9" height="0.9" fill="#000" fill-opacity="0.59"/><rect x="325.21" y="263.77" width="0.9" height="0.9" fill="#000" fill-opacity="0.58"/><rect x="320.37" y="266.31" width="0.9" height="0.9" fill="#000" fill-opacity="0.52"/><rect x="323.75" y="265.64" width="0.9" height="0.9" fill="#000" fill-opacity="0.45"/><rect x="323.33" y="281.69" width="0.9" height="0.9" fill="#000" fill-opacity="0.30"/><rect x="326.51" y="265.41" width="0.9" height="0.9" fill="#000" fill-opacity="0.28"/><rect x="323.12" y="275.45" width="0.9" height="0.9" fill="#000" fill-opacity="0.18"/><rect x="320.70" y="278.21" width="0.9" height="0.9" fill="#000" fill-opacity="0.58"/><rect x="318.73" y="281.32" width="0.9" height="0.9" fill="#000" fill-opacity="0.53"/><rect x="316.90" y="278.62" width="0.9" height="0.9" fill="#000" fill-opacity="0.58"/><rect x="320.61" y="284.57" width="0.9" height="0.9" fill="#000" fill-opacity="0.37"/><rect x="323.15" y="278.82" width="0.9" height="0.9" fill="#000" fill-opacity="0.38"/><rect x="322.99" y="267.94" width="0.9" height="0.9" fill="#000" fill-opacity="0.18"/><rect x="323.80" y="273.93" width="0.9" height="0.9" fill="#000" fill-opacity="0.55"/><rect x="327.81" y="278.59" width="0.9" height="0.9" fill="#000" fill-opacity="0.22"/><rect x="321.24" y="283.38" width="0.9" height="0.9" fill="#000" fill-opacity="0.49"/><rect x="317.25" y="278.64" width="0.9" height="0.9" fill="#000" fill-opacity="0.33"/><rect x="317.93" y="274.76" width="0.9" height="0.9" fill="#000" fill-opacity="0.58"/><rect x="322.43" y="279.27" width="0.9" height="0.9" fill="#000" fill-opacity="0.40"/><rect x="317.27" y="285.19" width="0.9" height="0.9" fill="#000" fill-opacity="0.17"/><rect x="319.64" y="269.16" width="0.9" height="0.9" fill="#000" fill-opacity="0.57"/><rect x="320.07" y="283.15" width="0.9" height="0.9" fill="#000" fill-opacity="0.29"/><rect x="317.98" y="274.28" width="0.9" height="0.9" fill="#000" fill-opacity="0.45"/><rect x="320.27" y="283.55" width="0.9" height="0.9" fill="#000" fill-opacity="0.40"/><rect x="320.26" y="264.86" width="0.9" height="0.9" fill="#000" fill-opacity="0.34"/><rect x="323.43" y="277.43" width="0.9" height="0.9" fill="#000" fill-opacity="0.22"/><rect x="322.71" y="279.92" width="0.9" height="0.9" fill="#000" fill-opacity="0.45"/><rect x="316.24" y="289.34" width="0.9" height="0.9" fill="#000" fill-opacity="0.26"/><rect x="321.63" y="280.32" width="0.9" height="0.9" fill="#000" fill-opacity="0.21"/><rect x="319.10" y="266.58" width="0.9" height="0.9" fill="#000" fill-opacity="0.26"/><rect x="324.05" y="265.09" width="0.9" height="0.9" fill="#000" fill-opacity="0.34"/><rect x="316.42" y="268.68" width="0.9" height="0.9" fill="#000" fill-opacity="0.35"/><rect x="325.14" y="279.44" width="0.9" height="0.9" fill="#000" fill-opacity="0.58"/><rect x="317.05" y="283.19" width="0.9" height="0.9" fill="#000" fill-opacity="0.19"/><rect x="322.90" y="260.73" width="0.9" height="0.9" fill="#000" fill-opacity="0.32"/><rect x="317.81" y="282.03" width="0.9" height="0.9" fill="#000" fill-opacity="0.26"/><rect x="322.14" y="279.36" width="0.9" height="0.9" fill="#000" fill-opacity="0.46"/><rect x="330.46" y="271.98" width="0.9" height="0.9" fill="#000" fill-opacity="0.58"/><rect x="322.08" y="274.13" width="0.9" height="0.9" fill="#000" fill-opacity="0.21"/><rect x="330.60" y="273.25" width="0.9" height="0.9" fill="#000" fill-opacity="0.43"/><rect x="318.03" y="270.07" width="0.9" height="0.9" fill="#000" fill-opacity="0.34"/><rect x="325.01" y="283.05" width="0.9" height="0.9" fill="#000" fill-opacity="0.27"/><rect x="328.11" y="286.06" width="0.9" height="0.9" fill="#000" fill-opacity="0.41"/><rect x="324.22" y="271.16" width="0.9" height="0.9" fill="#000" fill-opacity="0.41"/><rect x="320.13" y="289.49" width="0.9" height="0.9" fill="#000" fill-opacity="0.24"/><rect x="318.12" y="267.91" width="0.9" height="0.9" fill="#000" fill-opacity="0.30"/><rect x="326.10" y="279.72" width="0.9" height="0.9" fill="#000" fill-opacity="0.39"/><rect x="322.81" y="270.95" width="0.9" height="0.9" fill="#000" fill-opacity="0.23"/><rect x="318.78" y="288.25" width="0.9" height="0.9" fill="#000" fill-opacity="0.25"/><rect x="320.78" y="274.12" width="0.9" height="0.9" fill="#000" fill-opacity="0.19"/><rect x="320.18" y="267.06" width="0.9" height="0.9" fill="#000" fill-opacity="0.20"/><rect x="317.10" y="281.60" width="0.9" height="0.9" fill="#000" fill-opacity="0.34"/><rect x="320.21" y="275.47" width="0.9" height="0.9" fill="#000" fill-opacity="0.55"/><rect x="317.90" y="272.23" width="0.9" height="0.9" fill="#000" fill-opacity="0.28"/><rect x="325.59" y="291.67" width="0.9" height="0.9" fill="#000" fill-opacity="0.53"/><rect x="317.13" y="282.60" width="0.9" height="0.9" fill="#000" fill-opacity="0.40"/><rect x="321.91" y="277.40" width="0.9" height="0.9" fill="#000" fill-opacity="0.48"/><rect x="324.58" y="283.81" width="0.9" height="0.9" fill="#000" fill-opacity="0.16"/><rect x="324.22" y="276.16" width="0.9" height="0.9" fill="#000" fill-opacity="0.44"/><rect x="318.62" y="267.85" width="0.9" height="0.9" fill="#000" fill-opacity="0.16"/><rect x="326.58" y="273.29" width="0.9" height="0.9" fill="#000" fill-opacity="0.54"/><rect x="329.80" y="279.26" width="0.9" height="0.9" fill="#000" fill-opacity="0.36"/><rect x="322.50" y="283.04" width="0.9" height="0.9" fill="#000" fill-opacity="0.18"/><rect x="318.79" y="272.98" width="0.9" height="0.9" fill="#000" fill-opacity="0.47"/><rect x="324.73" y="285.73" width="0.9" height="0.9" fill="#000" fill-opacity="0.43"/><rect x="318.92" y="257.69" width="0.9" height="0.9" fill="#000" fill-opacity="0.28"/><rect x="319.70" y="268.66" width="0.9" height="0.9" fill="#000" fill-opacity="0.55"/><rect x="325.03" y="264.21" width="0.9" height="0.9" fill="#000" fill-opacity="0.42"/><rect x="320.84" y="291.89" width="0.9" height="0.9" fill="#000" fill-opacity="0.59"/><rect x="325.44" y="273.44" width="0.9" height="0.9" fill="#000" fill-opacity="0.52"/><rect x="317.83" y="262.61" width="0.9" height="0.9" fill="#000" fill-opacity="0.51"/><rect x="317.22" y="277.67" width="0.9" height="0.9" fill="#000" fill-opacity="0.51"/><rect x="318.39" y="267.84" width="0.9" height="0.9" fill="#000" fill-opacity="0.54"/><rect x="322.27" y="275.79" width="0.9" height="0.9" fill="#000" fill-opacity="0.36"/><rect x="328.63" y="283.82" width="0.9" height="0.9" fill="#000" fill-opacity="0.19"/><rect x="323.92" y="271.94" width="0.9" height="0.9" fill="#000" fill-opacity="0.21"/><rect x="321.71" y="264.27" width="0.9" height="0.9" fill="#000" fill-opacity="0.33"/><rect x="316.85" y="270.14" width="0.9" height="0.9" fill="#000" fill-opacity="0.58"/><rect x="317.05" y="277.38" width="0.9" height="0.9" fill="#000" fill-opacity="0.46"/><rect x="326.83" y="282.97" width="0.9" height="0.9" fill="#000" fill-opacity="0.57"/><rect x="321.94" y="266.19" width="0.9" height="0.9" fill="#000" fill-opacity="0.31"/><rect x="323.17" y="277.45" width="0.9" height="0.9" fill="#000" fill-opacity="0.39"/><rect x="328.13" y="265.26" width="0.9" height="0.9" fill="#000" fill-opacity="0.23"/><rect x="321.51" y="261.94" width="0.9" height="0.9" fill="#000" fill-opacity="0.37"/><rect x="323.37" y="271.80" width="0.9" height="0.9" fill="#000" fill-opacity="0.30"/><rect x="317.93" y="277.56" width="0.9" height="0.9" fill="#000" fill-opacity="0.54"/><rect x="317.90" y="280.46" width="0.9" height="0.9" fill="#000" fill-opacity="0.25"/><rect x="317.27" y="283.99" width="0.9" height="0.9" fill="#000" fill-opacity="0.37"/><rect x="333.04" y="276.98" width="0.9" height="0.9" fill="#000" fill-opacity="0.28"/><rect x="321.99" y="278.18" width="0.9" height="0.9" fill="#000" fill-opacity="0.24"/><rect x="326.58" y="287.55" width="0.9" height="0.9" fill="#000" fill-opacity="0.38"/><rect x="325.01" y="277.11" width="0.9" height="0.9" fill="#000" fill-opacity="0.38"/><rect x="323.31" y="281.25" width="0.9" height="0.9" fill="#000" fill-opacity="0.56"/><rect x="318.47" y="277.42" width="0.9" height="0.9" fill="#000" fill-opacity="0.42"/><rect x="325.69" y="281.46" width="0.9" height="0.9" fill="#000" fill-opacity="0.44"/><rect x="326.37" y="280.55" width="0.9" height="0.9" fill="#000" fill-opacity="0.29"/><rect x="321.34" y="265.18" width="0.9" height="0.9" fill="#000" fill-opacity="0.56"/><rect x="319.31" y="272.57" width="0.9" height="0.9" fill="#000" fill-opacity="0.23"/><rect x="319.20" y="262.45" width="0.9" height="0.9" fill="#000" fill-opacity="0.18"/><rect x="318.37" y="278.60" width="0.9" height="0.9" fill="#000" fill-opacity="0.36"/><rect x="325.56" y="268.65" width="0.9" height="0.9" fill="#000" fill-opacity="0.48"/><rect x="321.89" y="269.53" width="0.9" height="0.9" fill="#000" fill-opacity="0.43"/><rect x="317.94" y="281.56" width="0.9" height="0.9" fill="#000" fill-opacity="0.39"/><rect x="320.19" y="271.60" width="0.9" height="0.9" fill="#000" fill-opacity="0.53"/><rect x="323.62" y="281.06" width="0.9" height="0.9" fill="#000" fill-opacity="0.53"/><rect x="325.83" y="274.89" width="0.9" height="0.9" fill="#000" fill-opacity="0.58"/><rect x="332.46" y="279.91" width="0.9" height="0.9" fill="#000" fill-opacity="0.24"/><rect x="328.99" y="278.32" width="0.9" height="0.9" fill="#000" fill-opacity="0.22"/><rect x="321.56" y="274.66" width="0.9" height="0.9" fill="#000" fill-opacity="0.21"/><rect x="320.37" y="278.01" width="0.9" height="0.9" fill="#000" fill-opacity="0.36"/><rect x="317.37" y="285.66" width="0.9" height="0.9" fill="#000" fill-opacity="0.37"/><rect x="330.01" y="272.42" width="0.9" height="0.9" fill="#000" fill-opacity="0.23"/><rect x="329.84" y="267.65" width="0.9" height="0.9" fill="#000" fill-opacity="0.40"/><rect x="318.84" y="274.78" width="0.9" height="0.9" fill="#000" fill-opacity="0.29"/><rect x="322.11" y="280.42" width="0.9" height="0.9" fill="#000" fill-opacity="0.43"/><rect x="318.08" y="286.99" width="0.9" height="0.9" fill="#000" fill-opacity="0.41"/><rect x="322.45" y="272.71" width="0.9" height="0.9" fill="#000" fill-opacity="0.53"/><rect x="322.05" y="287.09" width="0.9" height="0.9" fill="#000" fill-opacity="0.33"/><rect x="320.49" y="265.77" width="0.9" height="0.9" fill="#000" fill-opacity="0.21"/><rect x="319.20" y="287.44" width="0.9" height="0.9" fill="#000" fill-opacity="0.16"/><rect x="317.73" y="268.61" width="0.9" height="0.9" fill="#000" fill-opacity="0.47"/><rect x="319.11" y="283.06" width="0.9" height="0.9" fill="#000" fill-opacity="0.36"/><rect x="321.54" y="272.63" width="0.9" height="0.9" fill="#000" fill-opacity="0.38"/><rect x="321.19" y="285.54" width="0.9" height="0.9" fill="#000" fill-opacity="0.27"/><rect x="322.44" y="280.79" width="0.9" height="0.9" fill="#000" fill-opacity="0.55"/><rect x="321.22" y="269.64" width="0.9" height="0.9" fill="#000" fill-opacity="0.40"/><rect x="331.99" y="276.50" width="0.9" height="0.9" fill="#000" fill-opacity="0.43"/><rect x="325.69" y="281.45" width="0.9" height="0.9" fill="#000" fill-opacity="0.37"/><rect x="319.77" y="270.10" width="0.9" height="0.9" fill="#000" fill-opacity="0.56"/><rect x="320.30" y="273.52" width="0.9" height="0.9" fill="#000" fill-opacity="0.52"/><rect x="324.42" y="271.31" width="0.9" height="0.9" fill="#000" fill-opacity="0.47"/><rect x="327.49" y="263.62" width="0.9" height="0.9" fill="#000" fill-opacity="0.18"/><rect x="323.32" y="270.71" width="0.9" height="0.9" fill="#000" fill-opacity="0.51"/><rect x="319.60" y="267.81" width="0.9" height="0.9" fill="#000" fill-opacity="0.56"/><rect x="326.31" y="252.76" width="0.9" height="0.9" fill="#000" fill-opacity="0.58"/><rect x="319.37" y="268.89" width="0.9" height="0.9" fill="#000" fill-opacity="0.37"/><rect x="318.42" y="275.29" width="0.9" height="0.9" fill="#000" fill-opacity="0.27"/><rect x="326.42" y="263.53" width="0.9" height="0.9" fill="#000" fill-opacity="0.46"/><rect x="319.53" y="267.25" width="0.9" height="0.9" fill="#000" fill-opacity="0.41"/><rect x="321.28" y="274.76" width="0.9" height="0.9" fill="#000" fill-opacity="0.35"/><rect x="324.55" y="274.59" width="0.9" height="0.9" fill="#000" fill-opacity="0.36"/><rect x="324.60" y="278.24" width="0.9" height="0.9" fill="#000" fill-opacity="0.52"/><rect x="329.44" y="278.29" width="0.9" height="0.9" fill="#000" fill-opacity="0.51"/><rect x="323.89" y="271.29" width="0.9" height="0.9" fill="#000" fill-opacity="0.57"/><rect x="318.14" y="281.47" width="0.9" height="0.9" fill="#000" fill-opacity="0.58"/><rect x="321.89" y="276.02" width="0.9" height="0.9" fill="#000" fill-opacity="0.27"/><rect x="328.15" y="284.17" width="0.9" height="0.9" fill="#000" fill-opacity="0.26"/><rect x="328.09" y="272.57" width="0.9" height="0.9" fill="#000" fill-opacity="0.24"/><rect x="320.59" y="269.19" width="0.9" height="0.9" fill="#000" fill-opacity="0.39"/><rect x="329.11" y="282.06" width="0.9" height="0.9" fill="#000" fill-opacity="0.50"/><rect x="320.29" y="278.86" width="0.9" height="0.9" fill="#000" fill-opacity="0.30"/><rect x="321.18" y="265.92" width="0.9" height="0.9" fill="#000" fill-opacity="0.21"/><rect x="321.85" y="284.05" width="0.9" height="0.9" fill="#000" fill-opacity="0.16"/><rect x="326.28" y="277.83" width="0.9" height="0.9" fill="#000" fill-opacity="0.21"/><rect x="323.36" y="273.02" width="0.9" height="0.9" fill="#000" fill-opacity="0.49"/><rect x="322.64" y="269.28" width="0.9" height="0.9" fill="#000" fill-opacity="0.39"/><rect x="327.78" y="275.03" width="0.9" height="0.9" fill="#000" fill-opacity="0.32"/><rect x="325.00" y="274.67" width="0.9" height="0.9" fill="#000" fill-opacity="0.58"/><rect x="319.82" y="282.85" width="0.9" height="0.9" fill="#000" fill-opacity="0.29"/><rect x="316.17" y="262.89" width="0.9" height="0.9" fill="#000" fill-opacity="0.46"/><rect x="327.23" y="296.34" width="0.9" height="0.9" fill="#000" fill-opacity="0.48"/><rect x="326.30" y="281.87" width="0.9" height="0.9" fill="#000" fill-opacity="0.50"/><rect x="322.67" y="264.49" width="0.9" height="0.9" fill="#000" fill-opacity="0.18"/><rect x="318.02" y="276.35" width="0.9" height="0.9" fill="#000" fill-opacity="0.42"/><rect x="317.59" y="280.54" width="0.9" height="0.9" fill="#000" fill-opacity="0.39"/><rect x="320.83" y="281.44" width="0.9" height="0.9" fill="#000" fill-opacity="0.23"/><rect x="328.21" y="285.03" width="0.9" height="0.9" fill="#000" fill-opacity="0.56"/><rect x="324.54" y="280.59" width="0.9" height="0.9" fill="#000" fill-opacity="0.56"/><rect x="329.73" y="259.88" width="0.9" height="0.9" fill="#000" fill-opacity="0.60"/><rect x="321.00" y="278.18" width="0.9" height="0.9" fill="#000" fill-opacity="0.26"/><rect x="320.76" y="275.53" width="0.9" height="0.9" fill="#000" fill-opacity="0.26"/><rect x="322.85" y="278.72" width="0.9" height="0.9" fill="#000" fill-opacity="0.30"/><rect x="323.48" y="277.62" width="0.9" height="0.9" fill="#000" fill-opacity="0.20"/><rect x="324.39" y="260.88" width="0.9" height="0.9" fill="#000" fill-opacity="0.17"/><rect x="324.46" y="261.94" width="0.9" height="0.9" fill="#000" fill-opacity="0.44"/><rect x="318.98" y="288.76" width="0.9" height="0.9" fill="#000" fill-opacity="0.19"/><rect x="332.27" y="280.93" width="0.9" height="0.9" fill="#000" fill-opacity="0.25"/><rect x="328.04" y="269.17" width="0.9" height="0.9" fill="#000" fill-opacity="0.17"/><rect x="326.93" y="281.60" width="0.9" height="0.9" fill="#000" fill-opacity="0.22"/><rect x="318.17" y="265.87" width="0.9" height="0.9" fill="#000" fill-opacity="0.25"/><rect x="318.48" y="276.31" width="0.9" height="0.9" fill="#000" fill-opacity="0.54"/><rect x="316.85" y="267.14" width="0.9" height="0.9" fill="#000" fill-opacity="0.43"/><rect x="330.25" y="281.39" width="0.9" height="0.9" fill="#000" fill-opacity="0.50"/><rect x="318.00" y="274.30" width="0.9" height="0.9" fill="#000" fill-opacity="0.38"/><rect x="321.65" y="276.28" width="0.9" height="0.9" fill="#000" fill-opacity="0.38"/><rect x="326.48" y="266.86" width="0.9" height="0.9" fill="#000" fill-opacity="0.24"/><rect x="317.16" y="271.57" width="0.9" height="0.9" fill="#000" fill-opacity="0.38"/>
<rect x="326.43" y="252.00" width="0.9" height="0.9" fill="#000" fill-opacity="0.19"/><rect x="330.83" y="254.17" width="0.9" height="0.9" fill="#000" fill-opacity="0.11"/><rect x="329.35" y="265.88" width="0.9" height="0.9" fill="#000" fill-opacity="0.16"/><rect x="326.21" y="261.78" width="0.9" height="0.9" fill="#000" fill-opacity="0.30"/><rect x="329.17" y="256.76" width="0.9" height="0.9" fill="#000" fill-opacity="0.23"/><rect x="331.65" y="260.20" width="0.9" height="0.9" fill="#000" fill-opacity="0.22"/><rect x="333.30" y="260.31" width="0.9" height="0.9" fill="#000" fill-opacity="0.27"/><rect x="330.71" y="257.41" width="0.9" height="0.9" fill="#000" fill-opacity="0.11"/><rect x="330.99" y="256.69" width="0.9" height="0.9" fill="#000" fill-opacity="0.16"/><rect x="323.26" y="263.37" width="0.9" height="0.9" fill="#000" fill-opacity="0.28"/><rect x="335.45" y="257.28" width="0.9" height="0.9" fill="#000" fill-opacity="0.12"/><rect x="329.23" y="261.98" width="0.9" height="0.9" fill="#000" fill-opacity="0.12"/><rect x="328.21" y="264.18" width="0.9" height="0.9" fill="#000" fill-opacity="0.18"/><rect x="333.49" y="266.91" width="0.9" height="0.9" fill="#000" fill-opacity="0.17"/><rect x="329.67" y="269.16" width="0.9" height="0.9" fill="#000" fill-opacity="0.15"/><rect x="337.10" y="262.98" width="0.9" height="0.9" fill="#000" fill-opacity="0.25"/><rect x="331.96" y="258.66" width="0.9" height="0.9" fill="#000" fill-opacity="0.14"/><rect x="328.81" y="258.90" width="0.9" height="0.9" fill="#000" fill-opacity="0.29"/><rect x="326.67" y="256.37" width="0.9" height="0.9" fill="#000" fill-opacity="0.09"/><rect x="328.68" y="266.68" width="0.9" height="0.9" fill="#000" fill-opacity="0.30"/><rect x="332.84" y="266.83" width="0.9" height="0.9" fill="#000" fill-opacity="0.10"/><rect x="336.08" y="260.06" width="0.9" height="0.9" fill="#000" fill-opacity="0.26"/><rect x="329.54" y="258.40" width="0.9" height="0.9" fill="#000" fill-opacity="0.13"/><rect x="334.46" y="263.10" width="0.9" height="0.9" fill="#000" fill-opacity="0.10"/><rect x="330.48" y="264.41" width="0.9" height="0.9" fill="#000" fill-opacity="0.28"/><rect x="330.36" y="257.57" width="0.9" height="0.9" fill="#000" fill-opacity="0.29"/><rect x="330.74" y="263.87" width="0.9" height="0.9" fill="#000" fill-opacity="0.16"/><rect x="330.17" y="259.41" width="0.9" height="0.9" fill="#000" fill-opacity="0.25"/><rect x="322.66" y="259.10" width="0.9" height="0.9" fill="#000" fill-opacity="0.15"/><rect x="331.31" y="262.15" width="0.9" height="0.9" fill="#000" fill-opacity="0.24"/><rect x="322.76" y="261.18" width="0.9" height="0.9" fill="#000" fill-opacity="0.12"/><rect x="329.05" y="264.94" width="0.9" height="0.9" fill="#000" fill-opacity="0.27"/><rect x="328.88" y="258.77" width="0.9" height="0.9" fill="#000" fill-opacity="0.24"/><rect x="333.90" y="262.90" width="0.9" height="0.9" fill="#000" fill-opacity="0.14"/><rect x="330.13" y="253.62" width="0.9" height="0.9" fill="#000" fill-opacity="0.23"/><rect x="329.94" y="262.95" width="0.9" height="0.9" fill="#000" fill-opacity="0.22"/><rect x="329.36" y="260.91" width="0.9" height="0.9" fill="#000" fill-opacity="0.26"/><rect x="332.58" y="258.70" width="0.9" height="0.9" fill="#000" fill-opacity="0.19"/><rect x="324.24" y="252.28" width="0.9" height="0.9" fill="#000" fill-opacity="0.22"/><rect x="322.74" y="260.71" width="0.9" height="0.9" fill="#000" fill-opacity="0.19"/><rect x="334.48" y="262.84" width="0.9" height="0.9" fill="#000" fill-opacity="0.17"/><rect x="327.51" y="265.86" width="0.9" height="0.9" fill="#000" fill-opacity="0.13"/><rect x="327.03" y="269.22" width="0.9" height="0.9" fill="#000" fill-opacity="0.27"/><rect x="322.11" y="264.16" width="0.9" height="0.9" fill="#000" fill-opacity="0.11"/><rect x="322.97" y="260.73" width="0.9" height="0.9" fill="#000" fill-opacity="0.25"/><rect x="327.71" y="263.52" width="0.9" height="0.9" fill="#000" fill-opacity="0.29"/><rect x="325.05" y="256.94" width="0.9" height="0.9" fill="#000" fill-opacity="0.16"/><rect x="333.49" y="265.79" width="0.9" height="0.9" fill="#000" fill-opacity="0.17"/><rect x="334.10" y="256.85" width="0.9" height="0.9" fill="#000" fill-opacity="0.25"/><rect x="323.49" y="258.00" width="0.9" height="0.9" fill="#000" fill-opacity="0.11"/>
<defs><radialGradient id="g303"><stop offset="0" stop-color="#000" stop-opacity="0.97"/><stop offset="0.55" stop-color="#000" stop-opacity="0.8245"/><stop offset="1" stop-color="#000" stop-opacity="0"/></radialGradient></defs>
<ellipse cx="322.50" cy="274.50" rx="7.50" ry="6.00" fill="url(#g303)"/>
<line x1="340.50" y1="238.10" x2="340.50" y2="302.90" stroke="#888" stroke-width="0.8"/>
<line x1="316.00" y1="256.50" x2="381.90" y2="256.50" stroke="#666" stroke-width="0.8"/>
<rect x="316.00" y="238.10" width="65.90" height="64.80" fill="none" stroke="#2a2a2a" stroke-width="1.25"/>
<text x="313.40" y="306.73" font-size="6.8" text-anchor="end">10<tspan font-size="4.08" dx="0.54" dy="-2.86">0</tspan></text>
<text x="313.40" y="290.53" font-size="6.8" text-anchor="end">10<tspan font-size="4.08" dx="0.54" dy="-2.86">1</tspan></text>
<text x="313.40" y="274.33" font-size="6.8" text-anchor="end">10<tspan font-size="4.08" dx="0.54" dy="-2.86">2</tspan></text>
<text x="313.40" y="258.13" font-size="6.8" text-anchor="end">10<tspan font-size="4.08" dx="0.54" dy="-2.86">3</tspan></text>
<text x="313.40" y="241.93" font-size="6.8" text-anchor="end">10<tspan font-size="4.08" dx="0.54" dy="-2.86">4</tspan></text>
<text x="317.50" y="313.63" font-size="6.8" text-anchor="middle">10<tspan font-size="4.08" dx="0.54" dy="-2.86">0</tspan></text>
<text x="333.27" y="313.63" font-size="6.8" text-anchor="middle">10<tspan font-size="4.08" dx="0.54" dy="-2.86">1</tspan></text>
<text x="349.05" y="313.63" font-size="6.8" text-anchor="middle">10<tspan font-size="4.08" dx="0.54" dy="-2.86">2</tspan></text>
<text x="364.82" y="313.63" font-size="6.8" text-anchor="middle">10<tspan font-size="4.08" dx="0.54" dy="-2.86">3</tspan></text>
<text x="380.60" y="313.63" font-size="6.8" text-anchor="middle">10<tspan font-size="4.08" dx="0.54" dy="-2.86">4</tspan></text>
<text x="318.20" y="245.06" font-size="6.3" text-anchor="start">0.76%</text>
<rect x="411.68" y="275.32" width="0.9" height="0.9" fill="#000" fill-opacity="0.42"/><rect x="406.48" y="278.60" width="0.9" height="0.9" fill="#000" fill-opacity="0.47"/><rect x="404.76" y="264.56" width="0.9" height="0.9" fill="#000" fill-opacity="0.26"/><rect x="412.33" y="282.44" width="0.9" height="0.9" fill="#000" fill-opacity="0.16"/><rect x="401.82" y="268.99" width="0.9" height="0.9" fill="#000" fill-opacity="0.18"/><rect x="406.96" y="273.33" width="0.9" height="0.9" fill="#000" fill-opacity="0.38"/><rect x="406.38" y="271.96" width="0.9" height="0.9" fill="#000" fill-opacity="0.55"/><rect x="409.57" y="272.97" width="0.9" height="0.9" fill="#000" fill-opacity="0.24"/><rect x="407.69" y="279.73" width="0.9" height="0.9" fill="#000" fill-opacity="0.34"/><rect x="402.93" y="258.56" width="0.9" height="0.9" fill="#000" fill-opacity="0.40"/><rect x="410.29" y="273.25" width="0.9" height="0.9" fill="#000" fill-opacity="0.45"/><rect x="410.44" y="275.56" width="0.9" height="0.9" fill="#000" fill-opacity="0.16"/><rect x="411.27" y="285.62" width="0.9" height="0.9" fill="#000" fill-opacity="0.20"/><rect x="404.06" y="284.27" width="0.9" height="0.9" fill="#000" fill-opacity="0.39"/><rect x="407.89" y="276.24" width="0.9" height="0.9" fill="#000" fill-opacity="0.45"/><rect x="404.11" y="277.41" width="0.9" height="0.9" fill="#000" fill-opacity="0.37"/><rect x="408.46" y="276.95" width="0.9" height="0.9" fill="#000" fill-opacity="0.18"/><rect x="406.13" y="271.95" width="0.9" height="0.9" fill="#000" fill-opacity="0.39"/><rect x="404.12" y="265.71" width="0.9" height="0.9" fill="#000" fill-opacity="0.27"/><rect x="400.68" y="279.11" width="0.9" height="0.9" fill="#000" fill-opacity="0.32"/><rect x="403.95" y="274.27" width="0.9" height="0.9" fill="#000" fill-opacity="0.34"/><rect x="410.28" y="274.93" width="0.9" height="0.9" fill="#000" fill-opacity="0.38"/><rect x="405.93" y="261.83" width="0.9" height="0.9" fill="#000" fill-opacity="0.48"/><rect x="400.54" y="283.58" width="0.9" height="0.9" fill="#000" fill-opacity="0.24"/><rect x="405.15" y="274.65" width="0.9" height="0.9" fill="#000" fill-opacity="0.24"/><rect x="407.65" y="281.78" width="0.9" height="0.9" fill="#000" fill-opacity="0.48"/><rect x="414.87" y="277.55" width="0.9" height="0.9" fill="#000" fill-opacity="0.19"/><rect x="416.20" y="269.94" width="0.9" height="0.9" fill="#000" fill-opacity="0.43"/><rect x="411.51" y="260.52" width="0.9" height="0.9" fill="#000" fill-opacity="0.35"/><rect x="406.49" y="273.98" width="0.9" height="0.9" fill="#000" fill-opacity="0.50"/><rect x="401.10" y="265.13" width="0.9" height="0.9" fill="#000" fill-opacity="0.22"/><rect x="410.49" y="280.11" width="0.9" height="0.9" fill="#000" fill-opacity="0.42"/><rect x="404.67" y="271.20" width="0.9" height="0.9" fill="#000" fill-opacity="0.41"/><rect x="409.12" y="274.43" width="0.9" height="0.9" fill="#000" fill-opacity="0.52"/><rect x="412.27" y="272.82" width="0.9" height="0.9" fill="#000" fill-opacity="0.35"/><rect x="401.35" y="279.69" width="0.9" height="0.9" fill="#000" fill-opacity="0.21"/><rect x="409.00" y="278.30" width="0.9" height="0.9" fill="#000" fill-opacity="0.23"/><rect x="409.19" y="271.35" width="0.9" height="0.9" fill="#000" fill-opacity="0.54"/><rect x="411.40" y="268.40" width="0.9" height="0.9" fill="#000" fill-opacity="0.35"/><rect x="405.98" y="285.21" width="0.9" height="0.9" fill="#000" fill-opacity="0.29"/><rect x="406.38" y="273.60" width="0.9" height="0.9" fill="#000" fill-opacity="0.44"/><rect x="403.26" y="282.19" width="0.9" height="0.9" fill="#000" fill-opacity="0.39"/><rect x="419.94" y="272.92" width="0.9" height="0.9" fill="#000" fill-opacity="0.31"/><rect x="416.59" y="270.59" width="0.9" height="0.9" fill="#000" fill-opacity="0.39"/><rect x="403.00" y="273.61" width="0.9" height="0.9" fill="#000" fill-opacity="0.51"/><rect x="411.30" y="270.61" width="0.9" height="0.9" fill="#000" fill-opacity="0.46"/><rect x="403.48" y="274.35" width="0.9" height="0.9" fill="#000" fill-opacity="0.36"/><rect x="408.37" y="277.36" width="0.9" height="0.9" fill="#000" fill-opacity="0.59"/><rect x="403.98" y="278.31" width="0.9" height="0.9" fill="#000" fill-opacity="0.35"/><rect x="411.47" y="279.32" width="0.9" height="0.9" fill="#000" fill-opacity="0.25"/><rect x="407.05" y="286.00" width="0.9" height="0.9" fill="#000" fill-opacity="0.57"/><rect x="412.85" y="276.56" width="0.9" height="0.9" fill="#000" fill-opacity="0.41"/><rect x="401.06" y="276.19" width="0.9" height="0.9" fill="#000" fill-opacity="0.16"/><rect x="402.48" y="282.88" width="0.9" height="0.9" fill="#000" fill-opacity="0.30"/><rect x="409.85" y="275.29" width="0.9" height="0.9" fill="#000" fill-opacity="0.53"/><rect x="408.72" y="263.16" width="0.9" height="0.9" fill="#000" fill-opacity="0.37"/><rect x="408.12" y="279.15" width="0.9" height="0.9" fill="#000" fill-opacity="0.16"/><rect x="400.81" y="276.00" width="0.9" height="0.9" fill="#000" fill-opacity="0.58"/><rect x="409.91" y="272.33" width="0.9" height="0.9" fill="#000" fill-opacity="0.37"/><rect x="411.70" y="283.24" width="0.9" height="0.9" fill="#000" fill-opacity="0.38"/><rect x="410.30" y="288.90" width="0.9" height="0.9" fill="#000" fill-opacity="0.17"/><rect x="407.56" y="283.54" width="0.9" height="0.9" fill="#000" fill-opacity="0.60"/><rect x="408.03" y="280.07" width="0.9" height="0.9" fill="#000" fill-opacity="0.51"/><rect x="400.41" y="290.33" width="0.9" height="0.9" fill="#000" fill-opacity="0.16"/><rect x="406.04" y="281.99" width="0.9" height="0.9" fill="#000" fill-opacity="0.53"/><rect x="411.14" y="282.27" width="0.9" height="0.9" fill="#000" fill-opacity="0.55"/><rect x="413.79" y="273.36" width="0.9" height="0.9" fill="#000" fill-opacity="0.17"/><rect x="402.61" y="276.11" width="0.9" height="0.9" fill="#000" fill-opacity="0.20"/><rect x="406.07" y="287.76" width="0.9" height="0.9" fill="#000" fill-opacity="0.41"/><rect x="408.27" y="280.05" width="0.9" height="0.9" fill="#000" fill-opacity="0.18"/><rect x="412.49" y="269.93" width="0.9" height="0.9" fill="#000" fill-opacity="0.36"/><rect x="417.82" y="270.56" width="0.9" height="0.9" fill="#000" fill-opacity="0.24"/><rect x="405.67" y="280.44" width="0.9" height="0.9" fill="#000" fill-opacity="0.43"/><rect x="401.25" y="270.46" width="0.9" height="0.9" fill="#000" fill-opacity="0.50"/><rect x="401.91" y="274.34" width="0.9" height="0.9" fill="#000" fill-opacity="0.45"/><rect x="407.12" y="274.80" width="0.9" height="0.9" fill="#000" fill-opacity="0.37"/><rect x="410.52" y="285.11" width="0.9" height="0.9" fill="#000" fill-opacity="0.34"/><rect x="409.30" y="266.08" width="0.9" height="0.9" fill="#000" fill-opacity="0.58"/><rect x="400.44" y="270.71" width="0.9" height="0.9" fill="#000" fill-opacity="0.59"/><rect x="407.09" y="269.11" width="0.9" height="0.9" fill="#000" fill-opacity="0.20"/><rect x="407.19" y="274.26" width="0.9" height="0.9" fill="#000" fill-opacity="0.57"/><rect x="411.80" y="271.06" width="0.9" height="0.9" fill="#000" fill-opacity="0.58"/><rect x="403.12" y="272.53" width="0.9" height="0.9" fill="#000" fill-opacity="0.19"/><rect x="405.53" y="267.34" width="0.9" height="0.9" fill="#000" fill-opacity="0.21"/><rect x="402.46" y="273.42" width="0.9" height="0.9" fill="#000" fill-opacity="0.27"/><rect x="410.20" y="268.24" width="0.9" height="0.9" fill="#000" fill-opacity="0.49"/><rect x="407.72" y="268.21" width="0.9" height="0.9" fill="#000" fill-opacity="0.35"/><rect x="401.90" y="278.47" width="0.9" height="0.9" fill="#000" fill-opacity="0.50"/><rect x="408.58" y="271.36" width="0.9" height="0.9" fill="#000" fill-opacity="0.47"/><rect x="405.87" y="276.47" width="0.9" height="0.9" fill="#000" fill-opacity="0.46"/><rect x="406.41" y="268.93" width="0.9" height="0.9" fill="#000" fill-opacity="0.60"/><rect x="404.98" y="269.07" width="0.9" height="0.9" fill="#000" fill-opacity="0.49"/><rect x="407.12" y="272.12" width="0.9" height="0.9" fill="#000" fill-opacity="0.56"/><rect x="402.45" y="277.96" width="0.9" height="0.9" fill="#000" fill-opacity="0.32"/><rect x="405.31" y="278.09" width="0.9" height="0.9" fill="#000" fill-opacity="0.43"/><rect x="404.35" y="264.23" width="0.9" height="0.9" fill="#000" fill-opacity="0.33"/><rect x="406.28" y="274.46" width="0.9" height="0.9" fill="#000" fill-opacity="0.21"/><rect x="411.43" y="276.65" width="0.9" height="0.9" fill="#000" fill-opacity="0.39"/><rect x="406.52" y="284.62" width="0.9" height="0.9" fill="#000" fill-opacity="0.15"/><rect x="416.98" y="279.88" width="0.9" height="0.9" fill="#000" fill-opacity="0.55"/><rect x="411.71" y="280.18" width="0.9" height="0.9" fill="#000" fill-opacity="0.38"/><rect x="401.59" y="260.40" width="0.9" height="0.9" fill="#000" fill-opacity="0.20"/><rect x="407.48" y="269.64" width="0.9" height="0.9" fill="#000" fill-opacity="0.56"/><rect x="408.77" y="256.68" width="0.9" height="0.9" fill="#000" fill-opacity="0.49"/><rect x="401.51" y="281.34" width="0.9" height="0.9" fill="#000" fill-opacity="0.50"/><rect x="410.98" y="278.88" width="0.9" height="0.9" fill="#000" fill-opacity="0.41"/><rect x="404.93" y="268.83" width="0.9" height="0.9" fill="#000" fill-opacity="0.42"/><rect x="405.36" y="268.22" width="0.9" height="0.9" fill="#000" fill-opacity="0.46"/><rect x="409.30" y="271.44" width="0.9" height="0.9" fill="#000" fill-opacity="0.39"/><rect x="405.29" y="281.66" width="0.9" height="0.9" fill="#000" fill-opacity="0.33"/><rect x="404.25" y="272.00" width="0.9" height="0.9" fill="#000" fill-opacity="0.59"/><rect x="404.85" y="276.47" width="0.9" height="0.9" fill="#000" fill-opacity="0.32"/><rect x="403.99" y="274.13" width="0.9" height="0.9" fill="#000" fill-opacity="0.59"/><rect x="401.49" y="271.22" width="0.9" height="0.9" fill="#000" fill-opacity="0.16"/><rect x="405.84" y="282.35" width="0.9" height="0.9" fill="#000" fill-opacity="0.44"/><rect x="408.13" y="283.23" width="0.9" height="0.9" fill="#000" fill-opacity="0.27"/><rect x="404.40" y="273.37" width="0.9" height="0.9" fill="#000" fill-opacity="0.45"/><rect x="409.62" y="272.86" width="0.9" height="0.9" fill="#000" fill-opacity="0.53"/><rect x="406.57" y="286.33" width="0.9" height="0.9" fill="#000" fill-opacity="0.15"/><rect x="407.97" y="268.28" width="0.9" height="0.9" fill="#000" fill-opacity="0.35"/><rect x="401.41" y="275.66" width="0.9" height="0.9" fill="#000" fill-opacity="0.25"/><rect x="403.51" y="265.70" width="0.9" height="0.9" fill="#000" fill-opacity="0.17"/><rect x="404.41" y="292.78" width="0.9" height="0.9" fill="#000" fill-opacity="0.28"/><rect x="404.16" y="285.04" width="0.9" height="0.9" fill="#000" fill-opacity="0.32"/><rect x="417.88" y="268.65" width="0.9" height="0.9" fill="#000" fill-opacity="0.21"/><rect x="406.18" y="280.09" width="0.9" height="0.9" fill="#000" fill-opacity="0.35"/><rect x="404.32" y="286.53" width="0.9" height="0.9" fill="#000" fill-opacity="0.55"/><rect x="406.68" y="276.30" width="0.9" height="0.9" fill="#000" fill-opacity="0.20"/><rect x="404.86" y="279.29" width="0.9" height="0.9" fill="#000" fill-opacity="0.34"/><rect x="401.00" y="284.69" width="0.9" height="0.9" fill="#000" fill-opacity="0.59"/><rect x="410.40" y="274.45" width="0.9" height="0.9" fill="#000" fill-opacity="0.44"/><rect x="409.92" y="283.16" width="0.9" height="0.9" fill="#000" fill-opacity="0.55"/><rect x="407.61" y="272.83" width="0.9" height="0.9" fill="#000" fill-opacity="0.22"/><rect x="411.43" y="268.84" width="0.9" height="0.9" fill="#000" fill-opacity="0.49"/><rect x="411.45" y="279.82" width="0.9" height="0.9" fill="#000" fill-opacity="0.16"/><rect x="405.09" y="262.25" width="0.9" height="0.9" fill="#000" fill-opacity="0.29"/><rect x="413.06" y="275.77" width="0.9" height="0.9" fill="#000" fill-opacity="0.60"/><rect x="402.63" y="270.63" width="0.9" height="0.9" fill="#000" fill-opacity="0.30"/><rect x="410.24" y="257.29" width="0.9" height="0.9" fill="#000" fill-opacity="0.31"/><rect x="408.49" y="300.33" width="0.9" height="0.9" fill="#000" fill-opacity="0.34"/><rect x="402.12" y="277.84" width="0.9" height="0.9" fill="#000" fill-opacity="0.48"/><rect x="410.78" y="274.62" width="0.9" height="0.9" fill="#000" fill-opacity="0.53"/><rect x="401.93" y="280.15" width="0.9" height="0.9" fill="#000" fill-opacity="0.51"/><rect x="413.17" y="273.26" width="0.9" height="0.9" fill="#000" fill-opacity="0.47"/><rect x="410.46" y="260.67" width="0.9" height="0.9" fill="#000" fill-opacity="0.58"/><rect x="401.38" y="274.08" width="0.9" height="0.9" fill="#000" fill-opacity="0.15"/><rect x="401.59" y="274.37" width="0.9" height="0.9" fill="#000" fill-opacity="0.15"/><rect x="409.60" y="275.27" width="0.9" height="0.9" fill="#000" fill-opacity="0.57"/><rect x="409.98" y="276.25" width="0.9" height="0.9" fill="#000" fill-opacity="0.50"/><rect x="402.62" y="265.62" width="0.9" height="0.9" fill="#000" fill-opacity="0.37"/><rect x="412.88" y="283.23" width="0.9" height="0.9" fill="#000" fill-opacity="0.49"/><rect x="407.50" y="267.29" width="0.9" height="0.9" fill="#000" fill-opacity="0.36"/><rect x="405.38" y="268.81" width="0.9" height="0.9" fill="#000" fill-opacity="0.50"/><rect x="400.97" y="283.46" width="0.9" height="0.9" fill="#000" fill-opacity="0.32"/><rect x="414.36" y="265.02" width="0.9" height="0.9" fill="#000" fill-opacity="0.50"/><rect x="402.68" y="280.29" width="0.9" height="0.9" fill="#000" fill-opacity="0.35"/><rect x="404.82" y="274.35" width="0.9" height="0.9" fill="#000" fill-opacity="0.40"/><rect x="407.23" y="274.36" width="0.9" height="0.9" fill="#000" fill-opacity="0.55"/><rect x="404.54" y="263.77" width="0.9" height="0.9" fill="#000" fill-opacity="0.49"/><rect x="403.77" y="277.34" width="0.9" height="0.9" fill="#000" fill-opacity="0.53"/><rect x="410.91" y="267.19" width="0.9" height="0.9" fill="#000" fill-opacity="0.25"/><rect x="402.32" y="282.11" width="0.9" height="0.9" fill="#000" fill-opacity="0.36"/><rect x="412.02" y="274.27" width="0.9" height="0.9" fill="#000" fill-opacity="0.59"/><rect x="408.11" y="273.00" width="0.9" height="0.9" fill="#000" fill-opacity="0.50"/><rect x="401.30" y="282.42" width="0.9" height="0.9" fill="#000" fill-opacity="0.40"/><rect x="405.50" y="269.22" width="0.9" height="0.9" fill="#000" fill-opacity="0.46"/><rect x="400.38" y="285.12" width="0.9" height="0.9" fill="#000" fill-opacity="0.37"/><rect x="405.67" y="276.27" width="0.9" height="0.9" fill="#000" fill-opacity="0.55"/><rect x="410.33" y="261.75" width="0.9" height="0.9" fill="#000" fill-opacity="0.32"/><rect x="410.21" y="274.95" width="0.9" height="0.9" fill="#000" fill-opacity="0.48"/><rect x="407.85" y="269.35" width="0.9" height="0.9" fill="#000" fill-opacity="0.34"/><rect x="403.00" y="280.66" width="0.9" height="0.9" fill="#000" fill-opacity="0.34"/><rect x="406.67" y="273.38" width="0.9" height="0.9" fill="#000" fill-opacity="0.60"/><rect x="407.20" y="266.26" width="0.9" height="0.9" fill="#000" fill-opacity="0.44"/><rect x="403.40" y="287.69" width="0.9" height="0.9" fill="#000" fill-opacity="0.54"/><rect x="401.85" y="281.51" width="0.9" height="0.9" fill="#000" fill-opacity="0.25"/><rect x="405.71" y="290.21" width="0.9" height="0.9" fill="#000" fill-opacity="0.44"/><rect x="405.90" y="276.15" width="0.9" height="0.9" fill="#000" fill-opacity="0.31"/><rect x="403.19" y="273.37" width="0.9" height="0.9" fill="#000" fill-opacity="0.39"/><rect x="404.15" y="280.76" width="0.9" height="0.9" fill="#000" fill-opacity="0.48"/><rect x="401.00" y="285.03" width="0.9" height="0.9" fill="#000" fill-opacity="0.49"/><rect x="404.94" y="276.89" width="0.9" height="0.9" fill="#000" fill-opacity="0.53"/><rect x="403.51" y="266.86" width="0.9" height="0.9" fill="#000" fill-opacity="0.56"/><rect x="417.57" y="276.64" width="0.9" height="0.9" fill="#000" fill-opacity="0.43"/><rect x="410.55" y="269.38" width="0.9" height="0.9" fill="#000" fill-opacity="0.15"/><rect x="402.44" y="270.14" width="0.9" height="0.9" fill="#000" fill-opacity="0.41"/><rect x="406.91" y="272.06" width="0.9" height="0.9" fill="#000" fill-opacity="0.53"/><rect x="404.48" y="280.85" width="0.9" height="0.9" fill="#000" fill-opacity="0.17"/><rect x="408.54" y="279.23" width="0.9" height="0.9" fill="#000" fill-opacity="0.39"/><rect x="408.32" y="273.85" width="0.9" height="0.9" fill="#000" fill-opacity="0.28"/><rect x="401.26" y="283.22" width="0.9" height="0.9" fill="#000" fill-opacity="0.31"/><rect x="404.51" y="271.80" width="0.9" height="0.9" fill="#000" fill-opacity="0.17"/><rect x="406.69" y="277.30" width="0.9" height="0.9" fill="#000" fill-opacity="0.45"/><rect x="415.15" y="282.39" width="0.9" height="0.9" fill="#000" fill-opacity="0.46"/><rect x="408.21" y="282.06" width="0.9" height="0.9" fill="#000" fill-opacity="0.18"/><rect x="409.32" y="279.21" width="0.9" height="0.9" fill="#000" fill-opacity="0.54"/><rect x="412.10" y="268.80" width="0.9" height="0.9" fill="#000" fill-opacity="0.44"/><rect x="401.10" y="271.02" width="0.9" height="0.9" fill="#000" fill-opacity="0.45"/><rect x="401.22" y="275.71" width="0.9" height="0.9" fill="#000" fill-opacity="0.53"/><rect x="404.30" y="282.81" width="0.9" height="0.9" fill="#000" fill-opacity="0.46"/><rect x="409.78" y="274.00" width="0.9" height="0.9" fill="#000" fill-opacity="0.34"/><rect x="403.23" y="278.52" width="0.9" height="0.9" fill="#000" fill-opacity="0.31"/><rect x="406.46" y="270.86" width="0.9" height="0.9" fill="#000" fill-opacity="0.36"/><rect x="404.50" y="285.18" width="0.9" height="0.9" fill="#000" fill-opacity="0.50"/><rect x="409.63" y="281.30" width="0.9" height="0.9" fill="#000" fill-opacity="0.23"/><rect x="401.65" y="266.57" width="0.9" height="0.9" fill="#000" fill-opacity="0.25"/><rect x="406.22" y="281.88" width="0.9" height="0.9" fill="#000" fill-opacity="0.30"/><rect x="412.90" y="266.02" width="0.9" height="0.9" fill="#000" fill-opacity="0.51"/><rect x="401.84" y="280.68" width="0.9" height="0.9" fill="#000" fill-opacity="0.24"/><rect x="409.54" y="279.63" width="0.9" height="0.9" fill="#000" fill-opacity="0.24"/><rect x="407.89" y="270.30" width="0.9" height="0.9" fill="#000" fill-opacity="0.37"/><rect x="412.28" y="279.24" width="0.9" height="0.9" fill="#000" fill-opacity="0.38"/><rect x="408.01" y="264.17" width="0.9" height="0.9" fill="#000" fill-opacity="0.48"/><rect x="405.48" y="281.23" width="0.9" height="0.9" fill="#000" fill-opacity="0.42"/><rect x="415.83" y="280.92" width="0.9" height="0.9" fill="#000" fill-opacity="0.47"/><rect x="401.49" y="275.84" width="0.9" height="0.9" fill="#000" fill-opacity="0.18"/><rect x="407.27" y="277.86" width="0.9" height="0.9" fill="#000" fill-opacity="0.46"/><rect x="408.51" y="270.81" width="0.9" height="0.9" fill="#000" fill-opacity="0.39"/><rect x="401.54" y="271.29" width="0.9" height="0.9" fill="#000" fill-opacity="0.52"/><rect x="403.44" y="262.24" width="0.9" height="0.9" fill="#000" fill-opacity="0.26"/><rect x="405.05" y="274.87" width="0.9" height="0.9" fill="#000" fill-opacity="0.52"/><rect x="403.24" y="276.97" width="0.9" height="0.9" fill="#000" fill-opacity="0.53"/><rect x="405.35" y="265.10" width="0.9" height="0.9" fill="#000" fill-opacity="0.56"/><rect x="409.55" y="277.87" width="0.9" height="0.9" fill="#000" fill-opacity="0.22"/><rect x="403.67" y="271.56" width="0.9" height="0.9" fill="#000" fill-opacity="0.16"/><rect x="407.58" y="279.06" width="0.9" height="0.9" fill="#000" fill-opacity="0.39"/><rect x="400.92" y="277.87" width="0.9" height="0.9" fill="#000" fill-opacity="0.16"/><rect x="402.36" y="274.54" width="0.9" height="0.9" fill="#000" fill-opacity="0.19"/><rect x="408.16" y="277.05" width="0.9" height="0.9" fill="#000" fill-opacity="0.33"/><rect x="408.26" y="282.80" width="0.9" height="0.9" fill="#000" fill-opacity="0.22"/><rect x="404.89" y="260.30" width="0.9" height="0.9" fill="#000" fill-opacity="0.30"/><rect x="416.24" y="284.02" width="0.9" height="0.9" fill="#000" fill-opacity="0.19"/><rect x="401.30" y="265.35" width="0.9" height="0.9" fill="#000" fill-opacity="0.37"/><rect x="407.72" y="272.87" width="0.9" height="0.9" fill="#000" fill-opacity="0.47"/><rect x="413.76" y="266.73" width="0.9" height="0.9" fill="#000" fill-opacity="0.53"/><rect x="400.79" y="279.04" width="0.9" height="0.9" fill="#000" fill-opacity="0.53"/><rect x="403.23" y="279.50" width="0.9" height="0.9" fill="#000" fill-opacity="0.16"/><rect x="406.45" y="279.51" width="0.9" height="0.9" fill="#000" fill-opacity="0.57"/><rect x="404.23" y="282.07" width="0.9" height="0.9" fill="#000" fill-opacity="0.59"/><rect x="404.01" y="268.09" width="0.9" height="0.9" fill="#000" fill-opacity="0.20"/><rect x="403.28" y="280.21" width="0.9" height="0.9" fill="#000" fill-opacity="0.58"/><rect x="405.57" y="277.87" width="0.9" height="0.9" fill="#000" fill-opacity="0.55"/><rect x="412.81" y="281.55" width="0.9" height="0.9" fill="#000" fill-opacity="0.42"/><rect x="403.95" y="289.45" width="0.9" height="0.9" fill="#000" fill-opacity="0.34"/><rect x="411.47" y="274.56" width="0.9" height="0.9" fill="#000" fill-opacity="0.57"/><rect x="409.71" y="272.47" width="0.9" height="0.9" fill="#000" fill-opacity="0.46"/><rect x="404.85" y="264.71" width="0.9" height="0.9" fill="#000" fill-opacity="0.16"/><rect x="402.86" y="263.80" width="0.9" height="0.9" fill="#000" fill-opacity="0.24"/><rect x="407.14" y="277.13" width="0.9" height="0.9" fill="#000" fill-opacity="0.39"/><rect x="412.61" y="284.56" width="0.9" height="0.9" fill="#000" fill-opacity="0.34"/><rect x="413.07" y="275.21" width="0.9" height="0.9" fill="#000" fill-opacity="0.34"/><rect x="407.70" y="282.76" width="0.9" height="0.9" fill="#000" fill-opacity="0.42"/><rect x="411.86" y="263.45" width="0.9" height="0.9" fill="#000" fill-opacity="0.30"/><rect x="412.33" y="277.17" width="0.9" height="0.9" fill="#000" fill-opacity="0.46"/><rect x="400.87" y="264.74" width="0.9" height="0.9" fill="#000" fill-opacity="0.52"/><rect x="413.43" y="288.37" width="0.9" height="0.9" fill="#000" fill-opacity="0.45"/><rect x="408.02" y="278.10" width="0.9" height="0.9" fill="#000" fill-opacity="0.44"/><rect x="402.10" y="292.11" width="0.9" height="0.9" fill="#000" fill-opacity="0.28"/><rect x="400.44" y="276.33" width="0.9" height="0.9" fill="#000" fill-opacity="0.57"/><rect x="402.60" y="290.48" width="0.9" height="0.9" fill="#000" fill-opacity="0.48"/><rect x="411.32" y="267.22" width="0.9" height="0.9" fill="#000" fill-opacity="0.40"/><rect x="408.81" y="276.99" width="0.9" height="0.9" fill="#000" fill-opacity="0.44"/><rect x="410.54" y="282.77" width="0.9" height="0.9" fill="#000" fill-opacity="0.31"/><rect x="409.78" y="265.07" width="0.9" height="0.9" fill="#000" fill-opacity="0.35"/><rect x="411.25" y="270.95" width="0.9" height="0.9" fill="#000" fill-opacity="0.19"/><rect x="406.87" y="274.22" width="0.9" height="0.9" fill="#000" fill-opacity="0.20"/><rect x="404.14" y="271.38" width="0.9" height="0.9" fill="#000" fill-opacity="0.49"/><rect x="404.70" y="271.40" width="0.9" height="0.9" fill="#000" fill-opacity="0.56"/><rect x="412.33" y="275.43" width="0.9" height="0.9" fill="#000" fill-opacity="0.59"/><rect x="407.36" y="267.49" width="0.9" height="0.9" fill="#000" fill-opacity="0.52"/><rect x="412.18" y="271.18" width="0.9" height="0.9" fill="#000" fill-opacity="0.19"/><rect x="400.86" y="283.95" width="0.9" height="0.9" fill="#000" fill-opacity="0.31"/><rect x="408.24" y="282.72" width="0.9" height="0.9" fill="#000" fill-opacity="0.21"/><rect x="403.72" y="276.10" width="0.9" height="0.9" fill="#000" fill-opacity="0.48"/><rect x="408.18" y="292.65" width="0.9" height="0.9" fill="#000" fill-opacity="0.20"/><rect x="401.36" y="267.64" width="0.9" height="0.9" fill="#000" fill-opacity="0.24"/><rect x="401.79" y="268.77" width="0.9" height="0.9" fill="#000" fill-opacity="0.43"/><rect x="407.78" y="283.39" width="0.9" height="0.9" fill="#000" fill-opacity="0.53"/><rect x="403.27" y="271.76" width="0.9" height="0.9" fill="#000" fill-opacity="0.30"/><rect x="406.83" y="273.85" width="0.9" height="0.9" fill="#000" fill-opacity="0.37"/><rect x="400.99" y="274.89" width="0.9" height="0.9" fill="#000" fill-opacity="0.15"/><rect x="412.54" y="284.48" width="0.9" height="0.9" fill="#000" fill-opacity="0.35"/><rect x="404.47" y="283.49" width="0.9" height="0.9" fill="#000" fill-opacity="0.17"/><rect x="413.13" y="282.44" width="0.9" height="0.9" fill="#000" fill-opacity="0.49"/><rect x="407.04" y="281.75" width="0.9" height="0.9" fill="#000" fill-opacity="0.18"/><rect x="403.49" y="283.84" width="0.9" height="0.9" fill="#000" fill-opacity="0.49"/><rect x="411.58" y="275.44" width="0.9" height="0.9" fill="#000" fill-opacity="0.17"/><rect x="410.22" y="283.93" width="0.9" height="0.9" fill="#000" fill-opacity="0.21"/><rect x="406.96" y="274.07" width="0.9" height="0.9" fill="#000" fill-opacity="0.17"/><rect x="410.35" y="275.35" width="0.9" height="0.9" fill="#000" fill-opacity="0.40"/><rect x="403.89" y="273.41" width="0.9" height="0.9" fill="#000" fill-opacity="0.30"/><rect x="400.75" y="284.56" width="0.9" height="0.9" fill="#000" fill-opacity="0.50"/><rect x="404.78" y="271.10" width="0.9" height="0.9" fill="#000" fill-opacity="0.36"/><rect x="408.16" y="273.20" width="0.9" height="0.9" fill="#000" fill-opacity="0.31"/><rect x="412.56" y="277.37" width="0.9" height="0.9" fill="#000" fill-opacity="0.36"/><rect x="410.76" y="281.29" width="0.9" height="0.9" fill="#000" fill-opacity="0.29"/><rect x="405.99" y="263.68" width="0.9" height="0.9" fill="#000" fill-opacity="0.34"/><rect x="410.17" y="285.97" width="0.9" height="0.9" fill="#000" fill-opacity="0.47"/><rect x="408.95" y="273.78" width="0.9" height="0.9" fill="#000" fill-opacity="0.46"/><rect x="406.99" y="270.02" width="0.9" height="0.9" fill="#000" fill-opacity="0.56"/><rect x="401.37" y="292.82" width="0.9" height="0.9" fill="#000" fill-opacity="0.41"/><rect x="414.96" y="272.90" width="0.9" height="0.9" fill="#000" fill-opacity="0.50"/><rect x="402.33" y="281.58" width="0.9" height="0.9" fill="#000" fill-opacity="0.41"/><rect x="407.33" y="268.23" width="0.9" height="0.9" fill="#000" fill-opacity="0.55"/><rect x="406.88" y="284.45" width="0.9" height="0.9" fill="#000" fill-opacity="0.22"/><rect x="407.53" y="281.01" width="0.9" height="0.9" fill="#000" fill-opacity="0.17"/><rect x="409.21" y="278.98" width="0.9" height="0.9" fill="#000" fill-opacity="0.16"/><rect x="410.45" y="287.88" width="0.9" height="0.9" fill="#000" fill-opacity="0.21"/><rect x="402.14" y="271.41" width="0.9" height="0.9" fill="#000" fill-opacity="0.45"/><rect x="411.60" y="265.36" width="0.9" height="0.9" fill="#000" fill-opacity="0.58"/><rect x="410.18" y="273.94" width="0.9" height="0.9" fill="#000" fill-opacity="0.59"/><rect x="406.04" y="269.52" width="0.9" height="0.9" fill="#000" fill-opacity="0.30"/><rect x="413.45" y="284.76" width="0.9" height="0.9" fill="#000" fill-opacity="0.45"/><rect x="401.91" y="271.32" width="0.9" height="0.9" fill="#000" fill-opacity="0.32"/><rect x="407.12" y="273.31" width="0.9" height="0.9" fill="#000" fill-opacity="0.16"/><rect x="408.50" y="273.78" width="0.9" height="0.9" fill="#000" fill-opacity="0.52"/><rect x="403.10" y="278.56" width="0.9" height="0.9" fill="#000" fill-opacity="0.16"/><rect x="406.39" y="275.93" width="0.9" height="0.9" fill="#000" fill-opacity="0.28"/><rect x="411.24" y="267.06" width="0.9" height="0.9" fill="#000" fill-opacity="0.27"/><rect x="401.91" y="279.99" width="0.9" height="0.9" fill="#000" fill-opacity="0.47"/><rect x="404.83" y="282.41" width="0.9" height="0.9" fill="#000" fill-opacity="0.38"/><rect x="406.14" y="283.47" width="0.9" height="0.9" fill="#000" fill-opacity="0.49"/><rect x="404.22" y="275.48" width="0.9" height="0.9" fill="#000" fill-opacity="0.31"/><rect x="402.80" y="273.22" width="0.9" height="0.9" fill="#000" fill-opacity="0.32"/><rect x="401.76" y="272.94" width="0.9" height="0.9" fill="#000" fill-opacity="0.23"/><rect x="406.92" y="273.60" width="0.9" height="0.9" fill="#000" fill-opacity="0.56"/><rect x="410.48" y="280.91" width="0.9" height="0.9" fill="#000" fill-opacity="0.40"/><rect x="400.43" y="281.21" width="0.9" height="0.9" fill="#000" fill-opacity="0.55"/><rect x="405.08" y="277.95" width="0.9" height="0.9" fill="#000" fill-opacity="0.24"/><rect x="410.14" y="268.54" width="0.9" height="0.9" fill="#000" fill-opacity="0.49"/>
<rect x="411.03" y="264.38" width="0.9" height="0.9" fill="#000" fill-opacity="0.23"/><rect x="405.70" y="256.97" width="0.9" height="0.9" fill="#000" fill-opacity="0.12"/><rect x="410.36" y="267.94" width="0.9" height="0.9" fill="#000" fill-opacity="0.28"/><rect x="406.86" y="263.38" width="0.9" height="0.9" fill="#000" fill-opacity="0.10"/><rect x="411.47" y="258.11" width="0.9" height="0.9" fill="#000" fill-opacity="0.23"/><rect x="413.00" y="264.62" width="0.9" height="0.9" fill="#000" fill-opacity="0.14"/><rect x="412.71" y="253.77" width="0.9" height="0.9" fill="#000" fill-opacity="0.28"/><rect x="412.49" y="262.50" width="0.9" height="0.9" fill="#000" fill-opacity="0.26"/><rect x="413.49" y="269.50" width="0.9" height="0.9" fill="#000" fill-opacity="0.19"/><rect x="412.81" y="261.98" width="0.9" height="0.9" fill="#000" fill-opacity="0.13"/><rect x="413.70" y="256.00" width="0.9" height="0.9" fill="#000" fill-opacity="0.27"/><rect x="415.48" y="255.76" width="0.9" height="0.9" fill="#000" fill-opacity="0.30"/><rect x="417.80" y="261.63" width="0.9" height="0.9" fill="#000" fill-opacity="0.20"/><rect x="421.39" y="264.91" width="0.9" height="0.9" fill="#000" fill-opacity="0.11"/><rect x="410.97" y="259.63" width="0.9" height="0.9" fill="#000" fill-opacity="0.16"/><rect x="410.52" y="262.44" width="0.9" height="0.9" fill="#000" fill-opacity="0.12"/><rect x="410.96" y="255.46" width="0.9" height="0.9" fill="#000" fill-opacity="0.10"/><rect x="415.62" y="261.15" width="0.9" height="0.9" fill="#000" fill-opacity="0.13"/><rect x="413.00" y="266.22" width="0.9" height="0.9" fill="#000" fill-opacity="0.19"/><rect x="415.27" y="260.23" width="0.9" height="0.9" fill="#000" fill-opacity="0.21"/><rect x="411.56" y="258.83" width="0.9" height="0.9" fill="#000" fill-opacity="0.16"/><rect x="405.89" y="265.09" width="0.9" height="0.9" fill="#000" fill-opacity="0.25"/><rect x="412.25" y="261.79" width="0.9" height="0.9" fill="#000" fill-opacity="0.16"/><rect x="415.49" y="256.68" width="0.9" height="0.9" fill="#000" fill-opacity="0.17"/><rect x="413.01" y="260.45" width="0.9" height="0.9" fill="#000" fill-opacity="0.22"/><rect x="412.98" y="259.30" width="0.9" height="0.9" fill="#000" fill-opacity="0.17"/><rect x="415.68" y="258.48" width="0.9" height="0.9" fill="#000" fill-opacity="0.20"/><rect x="410.88" y="266.78" width="0.9" height="0.9" fill="#000" fill-opacity="0.17"/><rect x="408.68" y="270.99" width="0.9" height="0.9" fill="#000" fill-opacity="0.23"/><rect x="417.36" y="261.51" width="0.9" height="0.9" fill="#000" fill-opacity="0.18"/><rect x="408.42" y="269.06" width="0.9" height="0.9" fill="#000" fill-opacity="0.16"/><rect x="412.69" y="258.73" width="0.9" height="0.9" fill="#000" fill-opacity="0.20"/><rect x="412.66" y="272.53" width="0.9" height="0.9" fill="#000" fill-opacity="0.16"/><rect x="418.70" y="259.66" width="0.9" height="0.9" fill="#000" fill-opacity="0.16"/><rect x="404.97" y="257.91" width="0.9" height="0.9" fill="#000" fill-opacity="0.23"/><rect x="416.08" y="255.78" width="0.9" height="0.9" fill="#000" fill-opacity="0.22"/><rect x="418.57" y="268.82" width="0.9" height="0.9" fill="#000" fill-opacity="0.22"/><rect x="411.72" y="258.13" width="0.9" height="0.9" fill="#000" fill-opacity="0.25"/><rect x="410.29" y="260.80" width="0.9" height="0.9" fill="#000" fill-opacity="0.30"/><rect x="414.60" y="254.09" width="0.9" height="0.9" fill="#000" fill-opacity="0.26"/><rect x="412.44" y="256.90" width="0.9" height="0.9" fill="#000" fill-opacity="0.29"/><rect x="418.70" y="257.39" width="0.9" height="0.9" fill="#000" fill-opacity="0.18"/><rect x="412.53" y="261.54" width="0.9" height="0.9" fill="#000" fill-opacity="0.28"/><rect x="416.36" y="255.68" width="0.9" height="0.9" fill="#000" fill-opacity="0.18"/><rect x="414.02" y="260.57" width="0.9" height="0.9" fill="#000" fill-opacity="0.17"/><rect x="413.73" y="268.39" width="0.9" height="0.9" fill="#000" fill-opacity="0.16"/><rect x="407.07" y="254.90" width="0.9" height="0.9" fill="#000" fill-opacity="0.17"/><rect x="414.24" y="262.09" width="0.9" height="0.9" fill="#000" fill-opacity="0.26"/><rect x="409.52" y="262.61" width="0.9" height="0.9" fill="#000" fill-opacity="0.09"/><rect x="413.86" y="261.65" width="0.9" height="0.9" fill="#000" fill-opacity="0.28"/>
<defs><radialGradient id="g321"><stop offset="0" stop-color="#000" stop-opacity="0.97"/><stop offset="0.55" stop-color="#000" stop-opacity="0.8245"/><stop offset="1" stop-color="#000" stop-opacity="0"/></radialGradient></defs>
<ellipse cx="406.70" cy="274.50" rx="7.50" ry="6.00" fill="url(#g321)"/>
<line x1="423.50" y1="238.10" x2="423.50" y2="302.80" stroke="#888" stroke-width="0.8"/>
<line x1="400.20" y1="256.50" x2="464.20" y2="256.50" stroke="#666" stroke-width="0.8"/>
<rect x="400.20" y="238.10" width="64.00" height="64.70" fill="none" stroke="#2a2a2a" stroke-width="1.25"/>
<text x="397.60" y="306.63" font-size="6.8" text-anchor="end">10<tspan font-size="4.08" dx="0.54" dy="-2.86">0</tspan></text>
<text x="397.60" y="290.46" font-size="6.8" text-anchor="end">10<tspan font-size="4.08" dx="0.54" dy="-2.86">1</tspan></text>
<text x="397.60" y="274.28" font-size="6.8" text-anchor="end">10<tspan font-size="4.08" dx="0.54" dy="-2.86">2</tspan></text>
<text x="397.60" y="258.11" font-size="6.8" text-anchor="end">10<tspan font-size="4.08" dx="0.54" dy="-2.86">3</tspan></text>
<text x="397.60" y="241.93" font-size="6.8" text-anchor="end">10<tspan font-size="4.08" dx="0.54" dy="-2.86">4</tspan></text>
<text x="401.70" y="313.63" font-size="6.8" text-anchor="middle">10<tspan font-size="4.08" dx="0.54" dy="-2.86">0</tspan></text>
<text x="417.00" y="313.63" font-size="6.8" text-anchor="middle">10<tspan font-size="4.08" dx="0.54" dy="-2.86">1</tspan></text>
<text x="432.30" y="313.63" font-size="6.8" text-anchor="middle">10<tspan font-size="4.08" dx="0.54" dy="-2.86">2</tspan></text>
<text x="447.60" y="313.63" font-size="6.8" text-anchor="middle">10<tspan font-size="4.08" dx="0.54" dy="-2.86">3</tspan></text>
<text x="462.90" y="313.63" font-size="6.8" text-anchor="middle">10<tspan font-size="4.08" dx="0.54" dy="-2.86">4</tspan></text>
<text x="402.40" y="245.06" font-size="6.3" text-anchor="start">1.15%</text>
<line x1="297.50" y1="238.20" x2="297.50" y2="304.90" stroke="#1a1718" stroke-width="1.3"/>
<polygon points="297.80,233.20 294.90,240.20 297.80,238.40 300.70,240.20" fill="#1a1718"/>
<text x="0" y="3.29" font-size="9.2" text-anchor="middle" transform="translate(291.20,271.50) rotate(-90) scale(0.765,1)">CD11c+</text>
<line x1="315.80" y1="319.50" x2="379.70" y2="319.50" stroke="#1a1718" stroke-width="1.3"/>
<polygon points="384.70,319.50 377.70,316.60 379.50,319.50 377.70,322.40" fill="#1a1718"/>
<text x="0" y="0" font-size="9.2" text-anchor="start" transform="translate(390.10,321.79) scale(0.69,1)">GFP</text>
<line x1="407.00" y1="319.50" x2="460.20" y2="319.50" stroke="#1a1718" stroke-width="1.3"/>
<polygon points="465.20,319.50 458.20,316.60 460.00,319.50 458.20,322.40" fill="#1a1718"/>
<text x="348.60" y="331.43" font-size="6.8" text-anchor="middle">Isotype Mouse</text>
<text x="348.60" y="339.83" font-size="6.8" text-anchor="middle">IgG2a</text>
<text x="436.80" y="331.47" font-size="6.9" text-anchor="middle">34-1-2s + AF6-88.5.5.3</text>
<text x="436.80" y="339.37" font-size="6.9" text-anchor="middle">(increased IL-10,</text>
<text x="436.80" y="347.27" font-size="6.9" text-anchor="middle">resistance to TRALI)</text>
<text x="40.70" y="466.60" font-size="11.8" font-weight="bold">D</text>
<line x1="75.50" y1="473.20" x2="75.50" y2="554.80" stroke="#1a1718" stroke-width="1.2"/>
<line x1="72.40" y1="554.50" x2="75.00" y2="554.50" stroke="#1a1718" stroke-width="1.2"/>
<text x="69.80" y="557.34" font-size="7.1" text-anchor="end">0</text>
<line x1="72.40" y1="538.50" x2="75.00" y2="538.50" stroke="#1a1718" stroke-width="1.2"/>
<text x="69.80" y="541.26" font-size="7.1" text-anchor="end">100</text>
<line x1="72.40" y1="522.50" x2="75.00" y2="522.50" stroke="#1a1718" stroke-width="1.2"/>
<text x="69.80" y="525.18" font-size="7.1" text-anchor="end">200</text>
<line x1="72.40" y1="506.50" x2="75.00" y2="506.50" stroke="#1a1718" stroke-width="1.2"/>
<text x="69.80" y="509.10" font-size="7.1" text-anchor="end">300</text>
<line x1="72.40" y1="490.50" x2="75.00" y2="490.50" stroke="#1a1718" stroke-width="1.2"/>
<text x="69.80" y="493.02" font-size="7.1" text-anchor="end">400</text>
<line x1="72.40" y1="474.50" x2="75.00" y2="474.50" stroke="#1a1718" stroke-width="1.2"/>
<text x="69.80" y="476.94" font-size="7.1" text-anchor="end">500</text>
<line x1="74.50" y1="554.50" x2="196.30" y2="554.50" stroke="#1a1718" stroke-width="1.2"/>
<line x1="105.50" y1="554.80" x2="105.50" y2="557.30" stroke="#1a1718" stroke-width="1.2"/>
<line x1="166.50" y1="554.80" x2="166.50" y2="557.30" stroke="#1a1718" stroke-width="1.2"/>
<text x="0" y="2.83" font-size="7.9" text-anchor="middle" transform="translate(51.70,512.50) rotate(-90)">IL-10 (pg/mL)</text>
<circle cx="105.30" cy="505.60" r="2.55" fill="#9e0b36"/>
<circle cx="102.20" cy="535.30" r="2.55" fill="#9e0b36"/>
<circle cx="108.10" cy="536.60" r="2.55" fill="#9e0b36"/>
<circle cx="96.20" cy="549.60" r="2.55" fill="#9e0b36"/>
<circle cx="114.20" cy="547.20" r="2.55" fill="#9e0b36"/>
<circle cx="102.20" cy="553.10" r="2.55" fill="#9e0b36"/>
<circle cx="108.10" cy="551.10" r="2.55" fill="#9e0b36"/>
<circle cx="147.70" cy="554.80" r="2.55" fill="#9e0b36"/>
<circle cx="152.90" cy="554.80" r="2.55" fill="#9e0b36"/>
<circle cx="158.10" cy="554.80" r="2.55" fill="#9e0b36"/>
<circle cx="163.30" cy="554.80" r="2.55" fill="#9e0b36"/>
<circle cx="168.50" cy="554.80" r="2.55" fill="#9e0b36"/>
<circle cx="173.70" cy="554.80" r="2.55" fill="#9e0b36"/>
<circle cx="178.90" cy="554.80" r="2.55" fill="#9e0b36"/>
<circle cx="184.10" cy="554.80" r="2.55" fill="#9e0b36"/>
<polyline points="104.90,490.00 104.90,484.30 167.30,484.30 167.30,490.00" fill="none" stroke="#1a1718" stroke-width="1.1"/>
<circle cx="136.10" cy="479.80" r="0.95" fill="#1a1718"/>
<text x="105.50" y="566.21" font-size="7.0" text-anchor="middle">WT C57/BL6 +</text>
<text x="105.50" y="574.71" font-size="7.0" text-anchor="middle">34-1-2s and</text>
<text x="105.50" y="583.21" font-size="7.0" text-anchor="middle">AF6-88.5.5.3</text>
<text x="165.80" y="566.21" font-size="7.0" text-anchor="middle">IL-10 KO +</text>
<text x="165.80" y="574.71" font-size="7.0" text-anchor="middle">34-1-2s and</text>
<text x="165.80" y="583.21" font-size="7.0" text-anchor="middle">AF6-88.5.5.3</text>
<text x="221.50" y="466.50" font-size="11.8" font-weight="bold">E</text>
<line x1="255.50" y1="474.30" x2="255.50" y2="556.00" stroke="#1a1718" stroke-width="1.2"/>
<line x1="253.10" y1="556.50" x2="255.70" y2="556.50" stroke="#1a1718" stroke-width="1.2"/>
<text x="250.60" y="558.52" font-size="7.05" text-anchor="end">3.5</text>
<line x1="253.10" y1="544.50" x2="255.70" y2="544.50" stroke="#1a1718" stroke-width="1.2"/>
<text x="250.60" y="547.02" font-size="7.05" text-anchor="end">4.0</text>
<line x1="253.10" y1="533.50" x2="255.70" y2="533.50" stroke="#1a1718" stroke-width="1.2"/>
<text x="250.60" y="535.52" font-size="7.05" text-anchor="end">4.5</text>
<line x1="253.10" y1="521.50" x2="255.70" y2="521.50" stroke="#1a1718" stroke-width="1.2"/>
<text x="250.60" y="524.02" font-size="7.05" text-anchor="end">5.0</text>
<line x1="253.10" y1="510.50" x2="255.70" y2="510.50" stroke="#1a1718" stroke-width="1.2"/>
<text x="250.60" y="512.52" font-size="7.05" text-anchor="end">5.5</text>
<line x1="253.10" y1="498.50" x2="255.70" y2="498.50" stroke="#1a1718" stroke-width="1.2"/>
<text x="250.60" y="501.02" font-size="7.05" text-anchor="end">6.0</text>
<line x1="253.10" y1="487.50" x2="255.70" y2="487.50" stroke="#1a1718" stroke-width="1.2"/>
<text x="250.60" y="489.52" font-size="7.05" text-anchor="end">6.5</text>
<line x1="253.10" y1="475.50" x2="255.70" y2="475.50" stroke="#1a1718" stroke-width="1.2"/>
<text x="250.60" y="478.02" font-size="7.05" text-anchor="end">7.0</text>
<line x1="255.20" y1="556.50" x2="394.70" y2="556.50" stroke="#1a1718" stroke-width="1.2"/>
<line x1="279.50" y1="556.00" x2="279.50" y2="558.50" stroke="#1a1718" stroke-width="1.2"/>
<line x1="325.50" y1="556.00" x2="325.50" y2="558.50" stroke="#1a1718" stroke-width="1.2"/>
<line x1="371.50" y1="556.00" x2="371.50" y2="558.50" stroke="#1a1718" stroke-width="1.2"/>
<text x="0" y="2.65" font-size="7.4" text-anchor="middle" transform="translate(232.40,514.40) rotate(-90)">Lung W/D weight ratio</text>
<circle cx="266.30" cy="528.80" r="2.55" fill="#9e0b36"/>
<circle cx="271.10" cy="531.70" r="2.55" fill="#9e0b36"/>
<circle cx="275.80" cy="526.70" r="2.55" fill="#9e0b36"/>
<circle cx="275.80" cy="535.60" r="2.55" fill="#9e0b36"/>
<circle cx="281.90" cy="527.40" r="2.55" fill="#9e0b36"/>
<circle cx="281.20" cy="534.50" r="2.55" fill="#9e0b36"/>
<circle cx="286.10" cy="529.90" r="2.55" fill="#9e0b36"/>
<circle cx="291.80" cy="528.50" r="2.55" fill="#9e0b36"/>
<circle cx="325.30" cy="523.60" r="2.55" fill="#9e0b36"/>
<circle cx="330.80" cy="535.50" r="2.55" fill="#9e0b36"/>
<circle cx="322.00" cy="535.50" r="2.55" fill="#9e0b36"/>
<circle cx="328.40" cy="540.70" r="2.55" fill="#9e0b36"/>
<circle cx="322.00" cy="545.40" r="2.55" fill="#9e0b36"/>
<circle cx="371.50" cy="498.80" r="2.55" fill="#9e0b36"/>
<circle cx="365.80" cy="505.90" r="2.55" fill="#9e0b36"/>
<circle cx="374.10" cy="505.20" r="2.55" fill="#9e0b36"/>
<circle cx="368.60" cy="509.00" r="2.55" fill="#9e0b36"/>
<circle cx="374.30" cy="513.80" r="2.55" fill="#9e0b36"/>
<circle cx="365.30" cy="519.40" r="2.55" fill="#9e0b36"/>
<circle cx="371.50" cy="522.50" r="2.55" fill="#9e0b36"/>
<circle cx="377.60" cy="521.70" r="2.55" fill="#9e0b36"/>
<polyline points="278.80,478.50 278.80,472.00 371.50,472.00 371.50,478.50" fill="none" stroke="#1a1718" stroke-width="1.1"/>
<circle cx="321.40" cy="467.40" r="0.95" fill="#1a1718"/>
<circle cx="325.15" cy="467.40" r="0.95" fill="#1a1718"/>
<circle cx="328.90" cy="467.40" r="0.95" fill="#1a1718"/>
<polyline points="325.50,491.70 325.50,486.50 371.50,486.50 371.50,491.70" fill="none" stroke="#1a1718" stroke-width="1.1"/>
<circle cx="342.88" cy="481.60" r="0.95" fill="#1a1718"/>
<circle cx="346.62" cy="481.60" r="0.95" fill="#1a1718"/>
<circle cx="350.38" cy="481.60" r="0.95" fill="#1a1718"/>
<circle cx="354.12" cy="481.60" r="0.95" fill="#1a1718"/>
<text x="279.30" y="567.72" font-size="7.05" text-anchor="middle">WT C57BL/6 +</text>
<text x="279.30" y="575.82" font-size="7.05" text-anchor="middle">34-1-2s and</text>
<text x="279.30" y="583.92" font-size="7.05" text-anchor="middle">AF6-88.5.5.3</text>
<text x="325.70" y="567.72" font-size="7.05" text-anchor="middle">IL-10 KO +</text>
<text x="325.70" y="575.82" font-size="7.05" text-anchor="middle">Isotype</text>
<text x="325.70" y="583.92" font-size="7.05" text-anchor="middle">Mouse IgG2a</text>
<text x="371.60" y="567.72" font-size="7.05" text-anchor="middle">IL-10 KO +</text>
<text x="371.60" y="575.82" font-size="7.05" text-anchor="middle">34-1-2s and</text>
<text x="371.60" y="583.92" font-size="7.05" text-anchor="middle">AF6-88.5.5.3</text>
<text x="7.70" y="606.30" font-size="11.8" font-weight="bold">F</text>
<line x1="82.50" y1="608.30" x2="82.50" y2="704.40" stroke="#1a1718" stroke-width="1.2"/>
<line x1="79.70" y1="704.50" x2="82.50" y2="704.50" stroke="#1a1718" stroke-width="1.2"/>
<text x="77.10" y="707.23" font-size="7.9" text-anchor="end">25</text>
<line x1="79.70" y1="681.50" x2="82.50" y2="681.50" stroke="#1a1718" stroke-width="1.2"/>
<text x="77.10" y="683.95" font-size="7.9" text-anchor="end">30</text>
<line x1="79.70" y1="657.50" x2="82.50" y2="657.50" stroke="#1a1718" stroke-width="1.2"/>
<text x="77.10" y="660.68" font-size="7.9" text-anchor="end">35</text>
<line x1="79.70" y1="634.50" x2="82.50" y2="634.50" stroke="#1a1718" stroke-width="1.2"/>
<text x="77.10" y="637.40" font-size="7.9" text-anchor="end">40</text>
<line x1="79.70" y1="611.50" x2="82.50" y2="611.50" stroke="#1a1718" stroke-width="1.2"/>
<text x="77.10" y="614.13" font-size="7.9" text-anchor="end">45</text>
<line x1="82.00" y1="704.50" x2="241.50" y2="704.50" stroke="#1a1718" stroke-width="1.2"/>
<line x1="108.50" y1="704.40" x2="108.50" y2="706.90" stroke="#1a1718" stroke-width="1.2"/>
<line x1="161.50" y1="704.40" x2="161.50" y2="706.90" stroke="#1a1718" stroke-width="1.2"/>
<line x1="213.50" y1="704.40" x2="213.50" y2="706.90" stroke="#1a1718" stroke-width="1.2"/>
<text x="0" y="2.99" font-size="8.35" text-anchor="middle" transform="translate(48.50,657.40) rotate(-90)">Rectal temperature</text>
<text x="0" y="2.99" font-size="8.35" text-anchor="middle" transform="translate(60.20,656.80) rotate(-90)">90 min (°C)</text>
<circle cx="94.20" cy="640.80" r="2.35" fill="#9e0b36"/>
<circle cx="98.80" cy="641.60" r="2.35" fill="#9e0b36"/>
<circle cx="108.30" cy="637.90" r="2.35" fill="#9e0b36"/>
<circle cx="103.70" cy="644.90" r="2.35" fill="#9e0b36"/>
<circle cx="108.30" cy="647.80" r="2.35" fill="#9e0b36"/>
<circle cx="112.90" cy="646.60" r="2.35" fill="#9e0b36"/>
<circle cx="117.40" cy="645.30" r="2.35" fill="#9e0b36"/>
<circle cx="122.80" cy="641.20" r="2.35" fill="#9e0b36"/>
<circle cx="147.50" cy="638.80" r="2.35" fill="#9e0b36"/>
<circle cx="154.70" cy="639.20" r="2.35" fill="#9e0b36"/>
<circle cx="161.50" cy="642.50" r="2.35" fill="#9e0b36"/>
<circle cx="168.60" cy="640.40" r="2.35" fill="#9e0b36"/>
<circle cx="175.60" cy="638.80" r="2.35" fill="#9e0b36"/>
<circle cx="210.90" cy="643.00" r="2.35" fill="#9e0b36"/>
<circle cx="217.80" cy="645.20" r="2.35" fill="#9e0b36"/>
<circle cx="210.90" cy="657.80" r="2.35" fill="#9e0b36"/>
<circle cx="218.40" cy="652.50" r="2.35" fill="#9e0b36"/>
<circle cx="207.40" cy="674.60" r="2.35" fill="#9e0b36"/>
<circle cx="221.00" cy="675.20" r="2.35" fill="#9e0b36"/>
<circle cx="214.00" cy="678.40" r="2.35" fill="#9e0b36"/>
<circle cx="214.60" cy="668.90" r="2.35" fill="#9e0b36"/>
<polyline points="108.90,612.70 108.90,604.80 213.70,604.80 213.70,612.70" fill="none" stroke="#1a1718" stroke-width="1.1"/>
<circle cx="159.43" cy="601.00" r="0.95" fill="#1a1718"/>
<circle cx="163.18" cy="601.00" r="0.95" fill="#1a1718"/>
<polyline points="161.00,627.90 161.00,620.60 213.70,620.60 213.70,627.90" fill="none" stroke="#1a1718" stroke-width="1.1"/>
<circle cx="185.47" cy="615.90" r="0.95" fill="#1a1718"/>
<circle cx="189.22" cy="615.90" r="0.95" fill="#1a1718"/>
<text x="109.00" y="717.15" font-size="7.95" text-anchor="middle">WT C57BL/6 +</text>
<text x="109.00" y="726.35" font-size="7.95" text-anchor="middle">34-1-2s and</text>
<text x="109.00" y="735.55" font-size="7.95" text-anchor="middle">AF6-88.5.5.3</text>
<text x="162.30" y="717.15" font-size="7.95" text-anchor="middle">IL-10 KO +</text>
<text x="162.30" y="726.35" font-size="7.95" text-anchor="middle">Isotype</text>
<text x="162.30" y="735.55" font-size="7.95" text-anchor="middle">Mouse IgG2a</text>
<text x="213.80" y="717.15" font-size="7.95" text-anchor="middle">IL-10 KO +</text>
<text x="213.80" y="726.35" font-size="7.95" text-anchor="middle">34-1-2s and</text>
<text x="213.80" y="735.55" font-size="7.95" text-anchor="middle">AF6-88.5.5.3</text>
<text x="262.80" y="606.60" font-size="11.8" font-weight="bold">G</text>
<line x1="336.50" y1="619.50" x2="336.50" y2="704.10" stroke="#1a1718" stroke-width="1.2"/>
<line x1="334.30" y1="704.50" x2="336.90" y2="704.50" stroke="#1a1718" stroke-width="1.2"/>
<text x="331.70" y="706.93" font-size="7.9" text-anchor="end">0</text>
<line x1="334.30" y1="693.50" x2="336.90" y2="693.50" stroke="#1a1718" stroke-width="1.2"/>
<text x="331.70" y="696.52" font-size="7.9" text-anchor="end">100</text>
<line x1="334.30" y1="683.50" x2="336.90" y2="683.50" stroke="#1a1718" stroke-width="1.2"/>
<text x="331.70" y="686.10" font-size="7.9" text-anchor="end">200</text>
<line x1="334.30" y1="672.50" x2="336.90" y2="672.50" stroke="#1a1718" stroke-width="1.2"/>
<text x="331.70" y="675.69" font-size="7.9" text-anchor="end">300</text>
<line x1="334.30" y1="662.50" x2="336.90" y2="662.50" stroke="#1a1718" stroke-width="1.2"/>
<text x="331.70" y="665.28" font-size="7.9" text-anchor="end">400</text>
<line x1="334.30" y1="652.50" x2="336.90" y2="652.50" stroke="#1a1718" stroke-width="1.2"/>
<text x="331.70" y="654.87" font-size="7.9" text-anchor="end">500</text>
<line x1="334.30" y1="641.50" x2="336.90" y2="641.50" stroke="#1a1718" stroke-width="1.2"/>
<text x="331.70" y="644.45" font-size="7.9" text-anchor="end">600</text>
<line x1="334.30" y1="631.50" x2="336.90" y2="631.50" stroke="#1a1718" stroke-width="1.2"/>
<text x="331.70" y="634.04" font-size="7.9" text-anchor="end">700</text>
<line x1="334.30" y1="620.50" x2="336.90" y2="620.50" stroke="#1a1718" stroke-width="1.2"/>
<text x="331.70" y="623.63" font-size="7.9" text-anchor="end">800</text>
<line x1="336.40" y1="704.50" x2="499.40" y2="704.50" stroke="#1a1718" stroke-width="1.2"/>
<line x1="363.50" y1="704.10" x2="363.50" y2="706.60" stroke="#1a1718" stroke-width="1.2"/>
<line x1="417.50" y1="704.10" x2="417.50" y2="706.60" stroke="#1a1718" stroke-width="1.2"/>
<line x1="471.50" y1="704.10" x2="471.50" y2="706.60" stroke="#1a1718" stroke-width="1.2"/>
<text x="0" y="3.11" font-size="8.7" text-anchor="middle" transform="translate(310.30,661.40) rotate(-90)">MIP-2 (pg/ml)</text>
<circle cx="364.00" cy="671.70" r="2.35" fill="#9e0b36"/>
<circle cx="368.00" cy="673.30" r="2.35" fill="#9e0b36"/>
<circle cx="361.00" cy="679.20" r="2.35" fill="#9e0b36"/>
<circle cx="360.50" cy="685.90" r="2.35" fill="#9e0b36"/>
<circle cx="370.40" cy="687.00" r="2.35" fill="#9e0b36"/>
<circle cx="367.10" cy="692.20" r="2.35" fill="#9e0b36"/>
<circle cx="361.00" cy="694.60" r="2.35" fill="#9e0b36"/>
<circle cx="406.00" cy="704.10" r="2.35" fill="#9e0b36"/>
<circle cx="411.90" cy="704.10" r="2.35" fill="#9e0b36"/>
<circle cx="417.80" cy="704.10" r="2.35" fill="#9e0b36"/>
<circle cx="423.70" cy="704.10" r="2.35" fill="#9e0b36"/>
<circle cx="429.60" cy="704.10" r="2.35" fill="#9e0b36"/>
<circle cx="471.70" cy="636.40" r="2.35" fill="#9e0b36"/>
<circle cx="471.70" cy="662.50" r="2.35" fill="#9e0b36"/>
<circle cx="465.70" cy="669.30" r="2.35" fill="#9e0b36"/>
<circle cx="477.60" cy="665.40" r="2.35" fill="#9e0b36"/>
<circle cx="471.70" cy="670.50" r="2.35" fill="#9e0b36"/>
<circle cx="471.70" cy="685.30" r="2.35" fill="#9e0b36"/>
<polyline points="363.70,613.70 363.70,607.20 471.70,607.20 471.70,613.70" fill="none" stroke="#1a1718" stroke-width="1.1"/>
<circle cx="417.70" cy="602.00" r="0.95" fill="#1a1718"/>
<polyline points="416.30,628.50 416.30,622.50 471.70,622.50 471.70,628.50" fill="none" stroke="#1a1718" stroke-width="1.1"/>
<circle cx="438.38" cy="618.10" r="0.95" fill="#1a1718"/>
<circle cx="442.12" cy="618.10" r="0.95" fill="#1a1718"/>
<circle cx="445.88" cy="618.10" r="0.95" fill="#1a1718"/>
<circle cx="449.62" cy="618.10" r="0.95" fill="#1a1718"/>
<text x="363.30" y="716.15" font-size="7.95" text-anchor="middle">WT C57BL/6 +</text>
<text x="363.30" y="725.40" font-size="7.95" text-anchor="middle">34-1-2s and</text>
<text x="363.30" y="734.65" font-size="7.95" text-anchor="middle">AF6-88.5.5.3</text>
<text x="418.00" y="716.15" font-size="7.95" text-anchor="middle">IL-10 KO +</text>
<text x="418.00" y="725.40" font-size="7.95" text-anchor="middle">Isotype</text>
<text x="418.00" y="734.65" font-size="7.95" text-anchor="middle">Mouse IgG2a</text>
<text x="472.40" y="716.15" font-size="7.95" text-anchor="middle">IL-10 KO +</text>
<text x="472.40" y="725.40" font-size="7.95" text-anchor="middle">34-1-2s and</text>
<text x="472.40" y="734.65" font-size="7.95" text-anchor="middle">AF6-88.5.5.3</text>
<text x="7.70" y="756.30" font-size="11.8" font-weight="bold">H</text>
<line x1="82.50" y1="767.50" x2="82.50" y2="855.50" stroke="#1a1718" stroke-width="1.2"/>
<line x1="79.80" y1="855.50" x2="82.60" y2="855.50" stroke="#1a1718" stroke-width="1.2"/>
<text x="77.20" y="858.29" font-size="7.8" text-anchor="end">0</text>
<line x1="79.80" y1="838.50" x2="82.60" y2="838.50" stroke="#1a1718" stroke-width="1.2"/>
<text x="77.20" y="840.97" font-size="7.8" text-anchor="end">20</text>
<line x1="79.80" y1="820.50" x2="82.60" y2="820.50" stroke="#1a1718" stroke-width="1.2"/>
<text x="77.20" y="823.65" font-size="7.8" text-anchor="end">40</text>
<line x1="79.80" y1="803.50" x2="82.60" y2="803.50" stroke="#1a1718" stroke-width="1.2"/>
<text x="77.20" y="806.33" font-size="7.8" text-anchor="end">60</text>
<line x1="79.80" y1="786.50" x2="82.60" y2="786.50" stroke="#1a1718" stroke-width="1.2"/>
<text x="77.20" y="789.01" font-size="7.8" text-anchor="end">80</text>
<line x1="79.80" y1="768.50" x2="82.60" y2="768.50" stroke="#1a1718" stroke-width="1.2"/>
<text x="77.20" y="771.69" font-size="7.8" text-anchor="end">100</text>
<line x1="82.10" y1="855.50" x2="236.80" y2="855.50" stroke="#1a1718" stroke-width="1.2"/>
<line x1="108.50" y1="855.50" x2="108.50" y2="858.00" stroke="#1a1718" stroke-width="1.2"/>
<line x1="159.50" y1="855.50" x2="159.50" y2="858.00" stroke="#1a1718" stroke-width="1.2"/>
<line x1="210.50" y1="855.50" x2="210.50" y2="858.00" stroke="#1a1718" stroke-width="1.2"/>
<text x="0" y="3.08" font-size="8.6" text-anchor="middle" transform="translate(55.30,810.30) rotate(-90)">Pulmonary neutrophils (%)</text>
<circle cx="107.90" cy="812.20" r="2.35" fill="#9e0b36"/>
<circle cx="102.00" cy="826.40" r="2.35" fill="#9e0b36"/>
<circle cx="114.60" cy="824.00" r="2.35" fill="#9e0b36"/>
<circle cx="98.50" cy="830.40" r="2.35" fill="#9e0b36"/>
<circle cx="108.60" cy="828.80" r="2.35" fill="#9e0b36"/>
<circle cx="112.20" cy="830.00" r="2.35" fill="#9e0b36"/>
<circle cx="118.10" cy="830.00" r="2.35" fill="#9e0b36"/>
<circle cx="104.60" cy="836.60" r="2.35" fill="#9e0b36"/>
<circle cx="149.50" cy="832.80" r="2.35" fill="#9e0b36"/>
<circle cx="159.20" cy="831.80" r="2.35" fill="#9e0b36"/>
<circle cx="168.70" cy="832.80" r="2.35" fill="#9e0b36"/>
<circle cx="155.90" cy="838.70" r="2.35" fill="#9e0b36"/>
<circle cx="162.30" cy="838.20" r="2.35" fill="#9e0b36"/>
<circle cx="207.20" cy="783.60" r="2.35" fill="#9e0b36"/>
<circle cx="213.80" cy="786.90" r="2.35" fill="#9e0b36"/>
<circle cx="195.60" cy="796.40" r="2.35" fill="#9e0b36"/>
<circle cx="201.50" cy="800.30" r="2.35" fill="#9e0b36"/>
<circle cx="207.20" cy="801.00" r="2.35" fill="#9e0b36"/>
<circle cx="212.80" cy="801.00" r="2.35" fill="#9e0b36"/>
<circle cx="218.70" cy="800.30" r="2.35" fill="#9e0b36"/>
<circle cx="224.60" cy="796.90" r="2.35" fill="#9e0b36"/>
<polyline points="108.60,762.00 108.60,754.80 210.50,754.80 210.50,762.00" fill="none" stroke="#1a1718" stroke-width="1.1"/>
<circle cx="153.93" cy="750.40" r="0.95" fill="#1a1718"/>
<circle cx="157.68" cy="750.40" r="0.95" fill="#1a1718"/>
<circle cx="161.43" cy="750.40" r="0.95" fill="#1a1718"/>
<circle cx="165.18" cy="750.40" r="0.95" fill="#1a1718"/>
<polyline points="158.50,778.50 158.50,771.30 210.50,771.30 210.50,778.50" fill="none" stroke="#1a1718" stroke-width="1.1"/>
<circle cx="178.88" cy="766.40" r="0.95" fill="#1a1718"/>
<circle cx="182.62" cy="766.40" r="0.95" fill="#1a1718"/>
<circle cx="186.38" cy="766.40" r="0.95" fill="#1a1718"/>
<circle cx="190.12" cy="766.40" r="0.95" fill="#1a1718"/>
<text x="108.20" y="868.65" font-size="7.95" text-anchor="middle">WT C57BL/6 +</text>
<text x="108.20" y="877.85" font-size="7.95" text-anchor="middle">34-1-2s and</text>
<text x="108.20" y="887.05" font-size="7.95" text-anchor="middle">AF6-88.5.5.3</text>
<text x="160.50" y="868.65" font-size="7.95" text-anchor="middle">IL-10 KO +</text>
<text x="160.50" y="877.85" font-size="7.95" text-anchor="middle">Isotype</text>
<text x="160.50" y="887.05" font-size="7.95" text-anchor="middle">Mouse IgG2a</text>
<text x="210.30" y="868.65" font-size="7.95" text-anchor="middle">IL-10 KO +</text>
<text x="210.30" y="877.85" font-size="7.95" text-anchor="middle">34-1-2s and</text>
<text x="210.30" y="887.05" font-size="7.95" text-anchor="middle">AF6-88.5.5.3</text>
<text x="262.50" y="755.40" font-size="11.8" font-weight="bold">I</text>
<line x1="336.50" y1="767.50" x2="336.50" y2="856.00" stroke="#1a1718" stroke-width="1.2"/>
<line x1="334.30" y1="856.50" x2="336.90" y2="856.50" stroke="#1a1718" stroke-width="1.2"/>
<text x="331.70" y="858.83" font-size="7.9" text-anchor="end">0.0</text>
<line x1="334.30" y1="845.50" x2="336.90" y2="845.50" stroke="#1a1718" stroke-width="1.2"/>
<text x="331.70" y="847.94" font-size="7.9" text-anchor="end">0.2</text>
<line x1="334.30" y1="834.50" x2="336.90" y2="834.50" stroke="#1a1718" stroke-width="1.2"/>
<text x="331.70" y="837.05" font-size="7.9" text-anchor="end">0.4</text>
<line x1="334.30" y1="823.50" x2="336.90" y2="823.50" stroke="#1a1718" stroke-width="1.2"/>
<text x="331.70" y="826.17" font-size="7.9" text-anchor="end">0.6</text>
<line x1="334.30" y1="812.50" x2="336.90" y2="812.50" stroke="#1a1718" stroke-width="1.2"/>
<text x="331.70" y="815.28" font-size="7.9" text-anchor="end">0.8</text>
<line x1="334.30" y1="801.50" x2="336.90" y2="801.50" stroke="#1a1718" stroke-width="1.2"/>
<text x="331.70" y="804.39" font-size="7.9" text-anchor="end">1.0</text>
<line x1="334.30" y1="790.50" x2="336.90" y2="790.50" stroke="#1a1718" stroke-width="1.2"/>
<text x="331.70" y="793.50" font-size="7.9" text-anchor="end">1.2</text>
<line x1="334.30" y1="779.50" x2="336.90" y2="779.50" stroke="#1a1718" stroke-width="1.2"/>
<text x="331.70" y="782.62" font-size="7.9" text-anchor="end">1.4</text>
<line x1="334.30" y1="768.50" x2="336.90" y2="768.50" stroke="#1a1718" stroke-width="1.2"/>
<text x="331.70" y="771.73" font-size="7.9" text-anchor="end">1.6</text>
<line x1="336.40" y1="856.50" x2="487.70" y2="856.50" stroke="#1a1718" stroke-width="1.2"/>
<line x1="362.50" y1="856.00" x2="362.50" y2="858.50" stroke="#1a1718" stroke-width="1.2"/>
<line x1="413.50" y1="856.00" x2="413.50" y2="858.50" stroke="#1a1718" stroke-width="1.2"/>
<line x1="465.50" y1="856.00" x2="465.50" y2="858.50" stroke="#1a1718" stroke-width="1.2"/>
<text x="0" y="3.04" font-size="8.5" text-anchor="middle" transform="translate(312.60,810.70) rotate(-90)">Lung mUnits MPO/mg</text>
<circle cx="352.90" cy="816.20" r="2.35" fill="#9e0b36"/>
<circle cx="359.30" cy="813.40" r="2.35" fill="#9e0b36"/>
<circle cx="365.20" cy="816.20" r="2.35" fill="#9e0b36"/>
<circle cx="370.00" cy="815.30" r="2.35" fill="#9e0b36"/>
<circle cx="355.80" cy="821.70" r="2.35" fill="#9e0b36"/>
<circle cx="362.40" cy="822.80" r="2.35" fill="#9e0b36"/>
<circle cx="368.80" cy="822.80" r="2.35" fill="#9e0b36"/>
<circle cx="413.80" cy="805.40" r="2.35" fill="#9e0b36"/>
<circle cx="406.90" cy="810.50" r="2.35" fill="#9e0b36"/>
<circle cx="420.30" cy="807.20" r="2.35" fill="#9e0b36"/>
<circle cx="413.80" cy="813.10" r="2.35" fill="#9e0b36"/>
<circle cx="413.80" cy="828.50" r="2.35" fill="#9e0b36"/>
<circle cx="465.10" cy="783.60" r="2.35" fill="#9e0b36"/>
<circle cx="465.10" cy="795.90" r="2.35" fill="#9e0b36"/>
<circle cx="458.70" cy="803.60" r="2.35" fill="#9e0b36"/>
<circle cx="471.50" cy="805.40" r="2.35" fill="#9e0b36"/>
<circle cx="465.10" cy="809.70" r="2.35" fill="#9e0b36"/>
<polyline points="362.40,760.50 362.40,753.30 465.40,753.30 465.40,760.50" fill="none" stroke="#1a1718" stroke-width="1.1"/>
<circle cx="412.02" cy="749.00" r="0.95" fill="#1a1718"/>
<circle cx="415.77" cy="749.00" r="0.95" fill="#1a1718"/>
<polyline points="412.60,775.90 412.60,767.70 465.40,767.70 465.40,775.90" fill="none" stroke="#1a1718" stroke-width="1.1"/>
<circle cx="439.00" cy="762.60" r="0.95" fill="#1a1718"/>
<text x="362.10" y="868.55" font-size="7.95" text-anchor="middle">WT C57BL/6 +</text>
<text x="362.10" y="877.80" font-size="7.95" text-anchor="middle">34-1-2s and</text>
<text x="362.10" y="887.05" font-size="7.95" text-anchor="middle">AF6-88.5.5.3</text>
<text x="413.80" y="868.55" font-size="7.95" text-anchor="middle">IL-10 KO +</text>
<text x="413.80" y="877.80" font-size="7.95" text-anchor="middle">Isotype</text>
<text x="413.80" y="887.05" font-size="7.95" text-anchor="middle">Mouse IgG2a</text>
<text x="465.50" y="868.55" font-size="7.95" text-anchor="middle">IL-10 KO +</text>
<text x="465.50" y="877.80" font-size="7.95" text-anchor="middle">34-1-2s and</text>
<text x="465.50" y="887.05" font-size="7.95" text-anchor="middle">AF6-88.5.5.3</text>
<text x="6.80" y="907.90" font-size="11.8" font-weight="bold">J</text>
<line x1="82.50" y1="920.00" x2="82.50" y2="1012.00" stroke="#1a1718" stroke-width="1.2"/>
<line x1="79.50" y1="1012.50" x2="82.50" y2="1012.50" stroke="#1a1718" stroke-width="1.2"/>
<text x="76.90" y="1014.83" font-size="7.9" text-anchor="end">4.0</text>
<line x1="79.50" y1="994.50" x2="82.50" y2="994.50" stroke="#1a1718" stroke-width="1.2"/>
<text x="76.90" y="997.09" font-size="7.9" text-anchor="end">4.5</text>
<line x1="79.50" y1="976.50" x2="82.50" y2="976.50" stroke="#1a1718" stroke-width="1.2"/>
<text x="76.90" y="979.35" font-size="7.9" text-anchor="end">5.0</text>
<line x1="79.50" y1="958.50" x2="82.50" y2="958.50" stroke="#1a1718" stroke-width="1.2"/>
<text x="76.90" y="961.61" font-size="7.9" text-anchor="end">5.5</text>
<line x1="79.50" y1="941.50" x2="82.50" y2="941.50" stroke="#1a1718" stroke-width="1.2"/>
<text x="76.90" y="943.87" font-size="7.9" text-anchor="end">6.0</text>
<line x1="79.50" y1="923.50" x2="82.50" y2="923.50" stroke="#1a1718" stroke-width="1.2"/>
<text x="76.90" y="926.13" font-size="7.9" text-anchor="end">6.5</text>
<line x1="82.00" y1="1012.50" x2="216.70" y2="1012.50" stroke="#1a1718" stroke-width="1.2"/>
<line x1="115.50" y1="1012.00" x2="115.50" y2="1014.50" stroke="#1a1718" stroke-width="1.2"/>
<line x1="182.50" y1="1012.00" x2="182.50" y2="1014.50" stroke="#1a1718" stroke-width="1.2"/>
<text x="0" y="3.04" font-size="8.5" text-anchor="middle" transform="translate(46.00,966.10) rotate(-90)">Lung W/D weight ratio</text>
<text x="0" y="3.01" font-size="8.4" text-anchor="middle" transform="translate(57.80,965.60) rotate(-90)">of C57BL/6 mice</text>
<circle cx="109.00" cy="937.30" r="2.6" fill="#9e0b36"/>
<circle cx="115.90" cy="941.20" r="2.6" fill="#9e0b36"/>
<circle cx="122.60" cy="938.10" r="2.6" fill="#9e0b36"/>
<circle cx="112.10" cy="954.50" r="2.6" fill="#9e0b36"/>
<circle cx="118.50" cy="956.50" r="2.6" fill="#9e0b36"/>
<circle cx="115.90" cy="968.10" r="2.6" fill="#9e0b36"/>
<circle cx="182.60" cy="973.20" r="2.6" fill="#9e0b36"/>
<circle cx="173.10" cy="976.50" r="2.6" fill="#9e0b36"/>
<circle cx="179.50" cy="979.10" r="2.6" fill="#9e0b36"/>
<circle cx="186.40" cy="980.10" r="2.6" fill="#9e0b36"/>
<circle cx="196.20" cy="978.80" r="2.6" fill="#9e0b36"/>
<circle cx="173.10" cy="985.30" r="2.6" fill="#9e0b36"/>
<circle cx="192.30" cy="984.20" r="2.6" fill="#9e0b36"/>
<circle cx="179.50" cy="989.90" r="2.6" fill="#9e0b36"/>
<circle cx="186.40" cy="989.90" r="2.6" fill="#9e0b36"/>
<polyline points="115.40,925.50 115.40,919.40 183.60,919.40 183.60,925.50" fill="none" stroke="#1a1718" stroke-width="1.1"/>
<circle cx="143.88" cy="914.40" r="0.95" fill="#1a1718"/>
<circle cx="147.62" cy="914.40" r="0.95" fill="#1a1718"/>
<circle cx="151.38" cy="914.40" r="0.95" fill="#1a1718"/>
<circle cx="155.12" cy="914.40" r="0.95" fill="#1a1718"/>
<text x="84.00" y="1025.25" font-size="7.4" text-anchor="end" text-decoration="underline">First injection:</text>
<text x="84.00" y="1036.35" font-size="7.4" text-anchor="end">Depletion of CD4</text>
<text x="115.60" y="1036.35" font-size="7.4" text-anchor="middle">+</text>
<text x="182.20" y="1036.35" font-size="7.4" text-anchor="middle">+</text>
<text x="84.00" y="1046.95" font-size="7.4" text-anchor="end" text-decoration="underline">Second injection:</text>
<text x="84.00" y="1058.85" font-size="7.4" text-anchor="end">34-1-2s + AF6-88.5.5.3</text>
<text x="115.60" y="1058.85" font-size="7.4" text-anchor="middle">+</text>
<text x="182.20" y="1058.85" font-size="7.4" text-anchor="middle">+</text>
<text x="84.00" y="1069.05" font-size="7.4" text-anchor="end">IL-10</text>
<text x="115.60" y="1069.05" font-size="7.4" text-anchor="middle">-</text>
<text x="182.20" y="1069.05" font-size="7.4" text-anchor="middle">+</text>
<text x="262.70" y="908.40" font-size="11.8" font-weight="bold">K</text>
<line x1="337.50" y1="936.70" x2="337.50" y2="1011.80" stroke="#1a1718" stroke-width="1.1"/>
<line x1="334.10" y1="936.50" x2="337.10" y2="936.50" stroke="#1a1718" stroke-width="1.1"/>
<text x="331.40" y="939.46" font-size="7.7" text-anchor="end">6.0</text>
<line x1="334.10" y1="957.50" x2="337.10" y2="957.50" stroke="#1a1718" stroke-width="1.1"/>
<text x="331.40" y="960.46" font-size="7.7" text-anchor="end">5.5</text>
<line x1="334.10" y1="978.50" x2="337.10" y2="978.50" stroke="#1a1718" stroke-width="1.1"/>
<text x="331.40" y="981.16" font-size="7.7" text-anchor="end">5.0</text>
<line x1="334.10" y1="999.50" x2="337.10" y2="999.50" stroke="#1a1718" stroke-width="1.1"/>
<text x="331.40" y="1002.06" font-size="7.7" text-anchor="end">4.5</text>
<line x1="337.50" y1="914.10" x2="337.50" y2="929.70" stroke="#1a1718" stroke-width="1.1"/>
<line x1="334.10" y1="916.50" x2="337.10" y2="916.50" stroke="#1a1718" stroke-width="1.1"/>
<text x="331.40" y="919.36" font-size="7.7" text-anchor="end">8.6</text>
<line x1="334.10" y1="929.50" x2="337.10" y2="929.50" stroke="#1a1718" stroke-width="1.1"/>
<text x="331.40" y="932.46" font-size="7.7" text-anchor="end">8.2</text>
<line x1="334.10" y1="929.50" x2="340.10" y2="929.50" stroke="#1a1718" stroke-width="1.1"/>
<line x1="334.10" y1="936.50" x2="340.10" y2="936.50" stroke="#1a1718" stroke-width="1.1"/>
<line x1="336.60" y1="1011.50" x2="479.20" y2="1011.50" stroke="#1a1718" stroke-width="1.2"/>
<line x1="370.50" y1="1011.80" x2="370.50" y2="1014.30" stroke="#1a1718" stroke-width="1.2"/>
<line x1="437.50" y1="1011.80" x2="437.50" y2="1014.30" stroke="#1a1718" stroke-width="1.2"/>
<text x="0" y="3.04" font-size="8.5" text-anchor="middle" transform="translate(301.60,962.90) rotate(-90)">Lung W/D weight ratio</text>
<text x="0" y="3.01" font-size="8.4" text-anchor="middle" transform="translate(313.00,963.10) rotate(-90)">of BALB/c mice</text>
<line x1="370.50" y1="936.00" x2="370.50" y2="957.80" stroke="#1a1718" stroke-width="1.0"/>
<circle cx="370.70" cy="922.70" r="2.6" fill="#9e0b36"/>
<circle cx="364.30" cy="964.70" r="2.6" fill="#9e0b36"/>
<circle cx="374.00" cy="964.70" r="2.6" fill="#9e0b36"/>
<circle cx="367.30" cy="971.40" r="2.6" fill="#9e0b36"/>
<circle cx="374.00" cy="976.50" r="2.6" fill="#9e0b36"/>
<circle cx="363.70" cy="980.10" r="2.6" fill="#9e0b36"/>
<circle cx="377.60" cy="982.20" r="2.6" fill="#9e0b36"/>
<circle cx="370.70" cy="984.20" r="2.6" fill="#9e0b36"/>
<circle cx="427.20" cy="978.30" r="2.6" fill="#9e0b36"/>
<circle cx="434.40" cy="983.50" r="2.6" fill="#9e0b36"/>
<circle cx="441.50" cy="984.20" r="2.6" fill="#9e0b36"/>
<circle cx="448.50" cy="980.90" r="2.6" fill="#9e0b36"/>
<circle cx="431.30" cy="996.80" r="2.6" fill="#9e0b36"/>
<circle cx="437.70" cy="999.60" r="2.6" fill="#9e0b36"/>
<circle cx="445.10" cy="996.80" r="2.6" fill="#9e0b36"/>
<polyline points="370.80,911.70 370.80,905.80 437.70,905.80 437.70,911.70" fill="none" stroke="#1a1718" stroke-width="1.1"/>
<circle cx="402.38" cy="900.80" r="0.95" fill="#1a1718"/>
<circle cx="406.12" cy="900.80" r="0.95" fill="#1a1718"/>
<text x="338.80" y="1024.45" font-size="7.4" text-anchor="end" text-decoration="underline">First injection:</text>
<text x="338.80" y="1035.55" font-size="7.4" text-anchor="end">Depletion of Tregs</text>
<text x="370.40" y="1035.55" font-size="7.4" text-anchor="middle">+</text>
<text x="437.40" y="1035.55" font-size="7.4" text-anchor="middle">+</text>
<text x="338.80" y="1046.95" font-size="7.4" text-anchor="end" text-decoration="underline">Second injection:</text>
<text x="338.80" y="1058.05" font-size="7.4" text-anchor="end">34-1-2s</text>
<text x="370.40" y="1058.05" font-size="7.4" text-anchor="middle">+</text>
<text x="437.40" y="1058.05" font-size="7.4" text-anchor="middle">+</text>
<text x="338.80" y="1069.05" font-size="7.4" text-anchor="end">IL-10</text>
<text x="370.40" y="1069.05" font-size="7.4" text-anchor="middle">-</text>
<text x="437.40" y="1069.05" font-size="7.4" text-anchor="middle">+</text>
<text x="7.30" y="1091.50" font-size="11.8" font-weight="bold">L</text>
<line x1="82.50" y1="1092.80" x2="82.50" y2="1193.60" stroke="#1a1718" stroke-width="1.2"/>
<line x1="79.20" y1="1193.50" x2="82.20" y2="1193.50" stroke="#1a1718" stroke-width="1.2"/>
<text x="76.60" y="1196.50" font-size="8.1" text-anchor="end">4</text>
<line x1="79.20" y1="1173.50" x2="82.20" y2="1173.50" stroke="#1a1718" stroke-width="1.2"/>
<text x="76.60" y="1176.82" font-size="8.1" text-anchor="end">5</text>
<line x1="79.20" y1="1154.50" x2="82.20" y2="1154.50" stroke="#1a1718" stroke-width="1.2"/>
<text x="76.60" y="1157.14" font-size="8.1" text-anchor="end">6</text>
<line x1="79.20" y1="1134.50" x2="82.20" y2="1134.50" stroke="#1a1718" stroke-width="1.2"/>
<text x="76.60" y="1137.46" font-size="8.1" text-anchor="end">7</text>
<line x1="79.20" y1="1114.50" x2="82.20" y2="1114.50" stroke="#1a1718" stroke-width="1.2"/>
<text x="76.60" y="1117.78" font-size="8.1" text-anchor="end">8</text>
<line x1="79.20" y1="1095.50" x2="82.20" y2="1095.50" stroke="#1a1718" stroke-width="1.2"/>
<text x="76.60" y="1098.10" font-size="8.1" text-anchor="end">9</text>
<line x1="81.70" y1="1193.50" x2="217.20" y2="1193.50" stroke="#1a1718" stroke-width="1.2"/>
<line x1="115.50" y1="1193.60" x2="115.50" y2="1196.10" stroke="#1a1718" stroke-width="1.2"/>
<line x1="182.50" y1="1193.60" x2="182.50" y2="1196.10" stroke="#1a1718" stroke-width="1.2"/>
<text x="0" y="3.04" font-size="8.5" text-anchor="middle" transform="translate(52.90,1143.10) rotate(-90)">Lung W/D weight ratio</text>
<text x="0" y="3.01" font-size="8.4" text-anchor="middle" transform="translate(64.50,1143.30) rotate(-90)">of CD11c-DTR mice</text>
<circle cx="115.40" cy="1115.90" r="2.6" fill="#9e0b36"/>
<circle cx="107.70" cy="1126.90" r="2.6" fill="#9e0b36"/>
<circle cx="115.40" cy="1128.00" r="2.6" fill="#9e0b36"/>
<circle cx="123.10" cy="1126.90" r="2.6" fill="#9e0b36"/>
<circle cx="115.40" cy="1141.50" r="2.6" fill="#9e0b36"/>
<circle cx="186.40" cy="1146.20" r="2.6" fill="#9e0b36"/>
<circle cx="178.70" cy="1151.30" r="2.6" fill="#9e0b36"/>
<circle cx="182.60" cy="1169.20" r="2.6" fill="#9e0b36"/>
<circle cx="186.40" cy="1178.00" r="2.6" fill="#9e0b36"/>
<circle cx="179.00" cy="1184.40" r="2.6" fill="#9e0b36"/>
<polyline points="115.40,1101.80 115.40,1095.40 182.60,1095.40 182.60,1101.80" fill="none" stroke="#1a1718" stroke-width="1.1"/>
<circle cx="147.12" cy="1090.50" r="0.95" fill="#1a1718"/>
<circle cx="150.88" cy="1090.50" r="0.95" fill="#1a1718"/>
<text x="82.80" y="1206.45" font-size="7.4" text-anchor="end" text-decoration="underline">First injection:</text>
<text x="82.80" y="1217.55" font-size="7.4" text-anchor="end">Depletion of DCs</text>
<text x="115.60" y="1217.55" font-size="7.4" text-anchor="middle">+</text>
<text x="182.20" y="1217.55" font-size="7.4" text-anchor="middle">+</text>
<text x="82.80" y="1228.95" font-size="7.4" text-anchor="end" text-decoration="underline">Second injection:</text>
<text x="82.80" y="1239.95" font-size="7.4" text-anchor="end">34-1-2s + AF6-88.5.5.3</text>
<text x="115.60" y="1239.95" font-size="7.4" text-anchor="middle">+</text>
<text x="182.20" y="1239.95" font-size="7.4" text-anchor="middle">+</text>
<text x="82.80" y="1250.65" font-size="7.4" text-anchor="end">IL-10</text>
<text x="115.60" y="1250.65" font-size="7.4" text-anchor="middle">-</text>
<text x="182.20" y="1250.65" font-size="7.4" text-anchor="middle">+</text>
<text x="262.60" y="1091.50" font-size="11.8" font-weight="bold">M</text>
<line x1="337.50" y1="1094.50" x2="337.50" y2="1193.60" stroke="#1a1718" stroke-width="1.2"/>
<line x1="334.20" y1="1193.50" x2="337.20" y2="1193.50" stroke="#1a1718" stroke-width="1.2"/>
<text x="331.60" y="1196.43" font-size="7.9" text-anchor="end">4.0</text>
<line x1="334.20" y1="1181.50" x2="337.20" y2="1181.50" stroke="#1a1718" stroke-width="1.2"/>
<text x="331.60" y="1184.34" font-size="7.9" text-anchor="end">4.5</text>
<line x1="334.20" y1="1169.50" x2="337.20" y2="1169.50" stroke="#1a1718" stroke-width="1.2"/>
<text x="331.60" y="1172.25" font-size="7.9" text-anchor="end">5.0</text>
<line x1="334.20" y1="1157.50" x2="337.20" y2="1157.50" stroke="#1a1718" stroke-width="1.2"/>
<text x="331.60" y="1160.17" font-size="7.9" text-anchor="end">5.5</text>
<line x1="334.20" y1="1145.50" x2="337.20" y2="1145.50" stroke="#1a1718" stroke-width="1.2"/>
<text x="331.60" y="1148.08" font-size="7.9" text-anchor="end">6.0</text>
<line x1="334.20" y1="1133.50" x2="337.20" y2="1133.50" stroke="#1a1718" stroke-width="1.2"/>
<text x="331.60" y="1135.99" font-size="7.9" text-anchor="end">6.5</text>
<line x1="334.20" y1="1121.50" x2="337.20" y2="1121.50" stroke="#1a1718" stroke-width="1.2"/>
<text x="331.60" y="1123.90" font-size="7.9" text-anchor="end">7.0</text>
<line x1="334.20" y1="1108.50" x2="337.20" y2="1108.50" stroke="#1a1718" stroke-width="1.2"/>
<text x="331.60" y="1111.82" font-size="7.9" text-anchor="end">7.5</text>
<line x1="334.20" y1="1096.50" x2="337.20" y2="1096.50" stroke="#1a1718" stroke-width="1.2"/>
<text x="331.60" y="1099.73" font-size="7.9" text-anchor="end">8.0</text>
<line x1="336.70" y1="1193.50" x2="467.20" y2="1193.50" stroke="#1a1718" stroke-width="1.2"/>
<line x1="370.50" y1="1193.60" x2="370.50" y2="1196.10" stroke="#1a1718" stroke-width="1.2"/>
<line x1="437.50" y1="1193.60" x2="437.50" y2="1196.10" stroke="#1a1718" stroke-width="1.2"/>
<text x="0" y="3.04" font-size="8.5" text-anchor="middle" transform="translate(301.20,1143.70) rotate(-90)">Lung W/D weight ratio</text>
<text x="0" y="3.01" font-size="8.4" text-anchor="middle" transform="translate(312.80,1143.50) rotate(-90)">of C57BL/6 mice</text>
<circle cx="370.70" cy="1108.70" r="2.6" fill="#9e0b36"/>
<circle cx="370.70" cy="1142.80" r="2.6" fill="#9e0b36"/>
<circle cx="363.70" cy="1163.30" r="2.6" fill="#9e0b36"/>
<circle cx="377.60" cy="1164.60" r="2.6" fill="#9e0b36"/>
<circle cx="370.70" cy="1167.20" r="2.6" fill="#9e0b36"/>
<circle cx="423.60" cy="1174.10" r="2.6" fill="#9e0b36"/>
<circle cx="430.50" cy="1175.40" r="2.6" fill="#9e0b36"/>
<circle cx="436.90" cy="1176.70" r="2.6" fill="#9e0b36"/>
<circle cx="444.10" cy="1176.20" r="2.6" fill="#9e0b36"/>
<circle cx="451.80" cy="1174.90" r="2.6" fill="#9e0b36"/>
<polyline points="370.40,1094.90 370.40,1090.50 437.40,1090.50 437.40,1094.90" fill="none" stroke="#1a1718" stroke-width="1.1"/>
<circle cx="403.90" cy="1084.80" r="0.95" fill="#1a1718"/>
<text x="338.80" y="1206.45" font-size="7.4" text-anchor="end" text-decoration="underline">First injection:</text>
<text x="338.80" y="1217.55" font-size="7.4" text-anchor="end">Depletion of CD4</text>
<text x="370.40" y="1217.55" font-size="7.4" text-anchor="middle">+</text>
<text x="437.40" y="1217.55" font-size="7.4" text-anchor="middle">+</text>
<text x="338.80" y="1228.95" font-size="7.4" text-anchor="end" text-decoration="underline">Second injection:</text>
<text x="338.80" y="1239.95" font-size="7.4" text-anchor="end">34-1-2s + AF6-88.5.5.3</text>
<text x="370.40" y="1239.95" font-size="7.4" text-anchor="middle">+</text>
<text x="437.40" y="1239.95" font-size="7.4" text-anchor="middle">+</text>
<text x="338.80" y="1251.05" font-size="7.4" text-anchor="end" text-decoration="underline">Third injection:</text>
<text x="338.80" y="1261.65" font-size="7.4" text-anchor="end">PBS</text>
<text x="370.40" y="1261.65" font-size="7.4" text-anchor="middle">+</text>
<text x="437.40" y="1261.65" font-size="7.4" text-anchor="middle">-</text>
<text x="338.80" y="1273.55" font-size="7.4" text-anchor="end">IL-10</text>
<text x="370.40" y="1273.55" font-size="7.4" text-anchor="middle">-</text>
<text x="437.40" y="1273.55" font-size="7.4" text-anchor="middle">+</text>
<line x1="150.00" y1="92.50" x2="173.00" y2="92.50" stroke="#1a1718" stroke-width="1.2"/>
<line x1="161.50" y1="68.40" x2="161.50" y2="92.70" stroke="#1a1718" stroke-width="1.2"/>
<line x1="155.10" y1="68.50" x2="167.90" y2="68.50" stroke="#1a1718" stroke-width="1.2"/>
<line x1="161.50" y1="92.70" x2="161.50" y2="116.50" stroke="#1a1718" stroke-width="1.2"/>
<line x1="155.10" y1="116.50" x2="167.90" y2="116.50" stroke="#1a1718" stroke-width="1.2"/>
<line x1="181.80" y1="63.50" x2="204.80" y2="63.50" stroke="#1a1718" stroke-width="1.2"/>
<line x1="193.50" y1="50.90" x2="193.50" y2="63.40" stroke="#1a1718" stroke-width="1.2"/>
<line x1="187.60" y1="50.50" x2="199.00" y2="50.50" stroke="#1a1718" stroke-width="1.2"/>
<line x1="193.50" y1="63.40" x2="193.50" y2="76.00" stroke="#1a1718" stroke-width="1.2"/>
<line x1="187.60" y1="76.50" x2="199.00" y2="76.50" stroke="#1a1718" stroke-width="1.2"/>
<line x1="244.50" y1="110.50" x2="267.50" y2="110.50" stroke="#1a1718" stroke-width="1.2"/>
<line x1="256.50" y1="102.50" x2="256.50" y2="110.40" stroke="#1a1718" stroke-width="1.2"/>
<line x1="250.30" y1="102.50" x2="261.70" y2="102.50" stroke="#1a1718" stroke-width="1.2"/>
<line x1="390.50" y1="115.50" x2="400.50" y2="115.50" stroke="#1a1718" stroke-width="1.2"/>
<line x1="408.80" y1="90.50" x2="423.40" y2="90.50" stroke="#1a1718" stroke-width="1.2"/>
<line x1="416.50" y1="74.30" x2="416.50" y2="90.50" stroke="#1a1718" stroke-width="1.2"/>
<line x1="412.30" y1="74.50" x2="419.90" y2="74.50" stroke="#1a1718" stroke-width="1.2"/>
<line x1="416.50" y1="90.50" x2="416.50" y2="105.50" stroke="#1a1718" stroke-width="1.2"/>
<line x1="412.30" y1="105.50" x2="419.90" y2="105.50" stroke="#1a1718" stroke-width="1.2"/>
<line x1="434.30" y1="115.50" x2="443.70" y2="115.50" stroke="#1a1718" stroke-width="1.2"/>
<line x1="85.20" y1="539.50" x2="125.40" y2="539.50" stroke="#1a1718" stroke-width="1.2"/>
<line x1="105.50" y1="522.90" x2="105.50" y2="539.60" stroke="#1a1718" stroke-width="1.2"/>
<line x1="95.30" y1="522.50" x2="115.30" y2="522.50" stroke="#1a1718" stroke-width="1.2"/>
<line x1="105.50" y1="539.60" x2="105.50" y2="554.80" stroke="#1a1718" stroke-width="1.2"/>
<line x1="95.30" y1="554.50" x2="115.30" y2="554.50" stroke="#1a1718" stroke-width="1.2"/>
<line x1="263.80" y1="529.50" x2="294.40" y2="529.50" stroke="#1a1718" stroke-width="1.2"/>
<line x1="279.50" y1="527.80" x2="279.50" y2="529.90" stroke="#1a1718" stroke-width="1.2"/>
<line x1="271.60" y1="527.50" x2="286.60" y2="527.50" stroke="#1a1718" stroke-width="1.2"/>
<line x1="279.50" y1="529.90" x2="279.50" y2="532.40" stroke="#1a1718" stroke-width="1.2"/>
<line x1="271.60" y1="532.50" x2="286.60" y2="532.50" stroke="#1a1718" stroke-width="1.2"/>
<line x1="310.10" y1="535.50" x2="340.70" y2="535.50" stroke="#1a1718" stroke-width="1.2"/>
<line x1="325.50" y1="528.40" x2="325.50" y2="535.50" stroke="#1a1718" stroke-width="1.2"/>
<line x1="318.70" y1="528.50" x2="332.10" y2="528.50" stroke="#1a1718" stroke-width="1.2"/>
<line x1="325.50" y1="535.50" x2="325.50" y2="544.50" stroke="#1a1718" stroke-width="1.2"/>
<line x1="318.70" y1="544.50" x2="332.10" y2="544.50" stroke="#1a1718" stroke-width="1.2"/>
<line x1="356.20" y1="511.50" x2="386.80" y2="511.50" stroke="#1a1718" stroke-width="1.2"/>
<line x1="371.50" y1="503.00" x2="371.50" y2="511.80" stroke="#1a1718" stroke-width="1.2"/>
<line x1="364.50" y1="503.50" x2="378.50" y2="503.50" stroke="#1a1718" stroke-width="1.2"/>
<line x1="371.50" y1="511.80" x2="371.50" y2="520.00" stroke="#1a1718" stroke-width="1.2"/>
<line x1="364.50" y1="520.50" x2="378.50" y2="520.50" stroke="#1a1718" stroke-width="1.2"/>
<line x1="91.00" y1="643.50" x2="126.20" y2="643.50" stroke="#1a1718" stroke-width="1.2"/>
<line x1="108.50" y1="640.40" x2="108.50" y2="643.30" stroke="#1a1718" stroke-width="1.2"/>
<line x1="99.90" y1="640.50" x2="117.30" y2="640.50" stroke="#1a1718" stroke-width="1.2"/>
<line x1="108.50" y1="643.30" x2="108.50" y2="646.20" stroke="#1a1718" stroke-width="1.2"/>
<line x1="99.90" y1="646.50" x2="117.30" y2="646.50" stroke="#1a1718" stroke-width="1.2"/>
<line x1="151.40" y1="639.50" x2="171.40" y2="639.50" stroke="#1a1718" stroke-width="1.2"/>
<line x1="195.80" y1="662.50" x2="231.80" y2="662.50" stroke="#1a1718" stroke-width="1.2"/>
<line x1="213.50" y1="647.40" x2="213.50" y2="662.00" stroke="#1a1718" stroke-width="1.2"/>
<line x1="204.80" y1="647.50" x2="222.80" y2="647.50" stroke="#1a1718" stroke-width="1.2"/>
<line x1="213.50" y1="662.00" x2="213.50" y2="676.80" stroke="#1a1718" stroke-width="1.2"/>
<line x1="204.80" y1="676.50" x2="222.80" y2="676.50" stroke="#1a1718" stroke-width="1.2"/>
<line x1="346.70" y1="683.50" x2="380.70" y2="683.50" stroke="#1a1718" stroke-width="1.2"/>
<line x1="363.50" y1="674.00" x2="363.50" y2="683.00" stroke="#1a1718" stroke-width="1.2"/>
<line x1="355.20" y1="674.50" x2="372.20" y2="674.50" stroke="#1a1718" stroke-width="1.2"/>
<line x1="363.50" y1="683.00" x2="363.50" y2="692.50" stroke="#1a1718" stroke-width="1.2"/>
<line x1="355.20" y1="692.50" x2="372.20" y2="692.50" stroke="#1a1718" stroke-width="1.2"/>
<line x1="453.90" y1="664.50" x2="489.50" y2="664.50" stroke="#1a1718" stroke-width="1.2"/>
<line x1="471.50" y1="649.20" x2="471.50" y2="664.90" stroke="#1a1718" stroke-width="1.2"/>
<line x1="463.10" y1="649.50" x2="480.30" y2="649.50" stroke="#1a1718" stroke-width="1.2"/>
<line x1="471.50" y1="664.90" x2="471.50" y2="681.10" stroke="#1a1718" stroke-width="1.2"/>
<line x1="463.10" y1="681.50" x2="480.30" y2="681.50" stroke="#1a1718" stroke-width="1.2"/>
<line x1="91.40" y1="827.50" x2="125.80" y2="827.50" stroke="#1a1718" stroke-width="1.2"/>
<line x1="108.50" y1="820.50" x2="108.50" y2="827.10" stroke="#1a1718" stroke-width="1.2"/>
<line x1="100.10" y1="820.50" x2="117.10" y2="820.50" stroke="#1a1718" stroke-width="1.2"/>
<line x1="108.50" y1="827.10" x2="108.50" y2="834.20" stroke="#1a1718" stroke-width="1.2"/>
<line x1="100.10" y1="834.50" x2="117.10" y2="834.50" stroke="#1a1718" stroke-width="1.2"/>
<line x1="142.70" y1="835.50" x2="175.90" y2="835.50" stroke="#1a1718" stroke-width="1.2"/>
<line x1="159.50" y1="831.80" x2="159.50" y2="835.40" stroke="#1a1718" stroke-width="1.2"/>
<line x1="151.30" y1="831.50" x2="167.30" y2="831.50" stroke="#1a1718" stroke-width="1.2"/>
<line x1="159.50" y1="835.40" x2="159.50" y2="838.00" stroke="#1a1718" stroke-width="1.2"/>
<line x1="151.30" y1="838.50" x2="167.30" y2="838.50" stroke="#1a1718" stroke-width="1.2"/>
<line x1="193.10" y1="795.50" x2="227.70" y2="795.50" stroke="#1a1718" stroke-width="1.2"/>
<line x1="210.50" y1="788.70" x2="210.50" y2="795.10" stroke="#1a1718" stroke-width="1.2"/>
<line x1="201.90" y1="788.50" x2="218.90" y2="788.50" stroke="#1a1718" stroke-width="1.2"/>
<line x1="210.50" y1="795.10" x2="210.50" y2="801.00" stroke="#1a1718" stroke-width="1.2"/>
<line x1="201.90" y1="801.50" x2="218.90" y2="801.50" stroke="#1a1718" stroke-width="1.2"/>
<line x1="347.60" y1="817.50" x2="377.20" y2="817.50" stroke="#1a1718" stroke-width="1.2"/>
<line x1="362.50" y1="813.40" x2="362.50" y2="817.40" stroke="#1a1718" stroke-width="1.2"/>
<line x1="355.40" y1="813.50" x2="369.40" y2="813.50" stroke="#1a1718" stroke-width="1.2"/>
<line x1="362.50" y1="817.40" x2="362.50" y2="820.50" stroke="#1a1718" stroke-width="1.2"/>
<line x1="355.40" y1="820.50" x2="369.40" y2="820.50" stroke="#1a1718" stroke-width="1.2"/>
<line x1="397.20" y1="812.50" x2="430.40" y2="812.50" stroke="#1a1718" stroke-width="1.2"/>
<line x1="413.50" y1="804.10" x2="413.50" y2="812.60" stroke="#1a1718" stroke-width="1.2"/>
<line x1="405.60" y1="804.50" x2="422.00" y2="804.50" stroke="#1a1718" stroke-width="1.2"/>
<line x1="413.50" y1="812.60" x2="413.50" y2="822.00" stroke="#1a1718" stroke-width="1.2"/>
<line x1="405.60" y1="822.50" x2="422.00" y2="822.50" stroke="#1a1718" stroke-width="1.2"/>
<line x1="448.40" y1="799.50" x2="482.40" y2="799.50" stroke="#1a1718" stroke-width="1.2"/>
<line x1="465.50" y1="789.20" x2="465.50" y2="799.50" stroke="#1a1718" stroke-width="1.2"/>
<line x1="457.50" y1="789.50" x2="473.30" y2="789.50" stroke="#1a1718" stroke-width="1.2"/>
<line x1="465.50" y1="799.50" x2="465.50" y2="809.70" stroke="#1a1718" stroke-width="1.2"/>
<line x1="457.50" y1="809.50" x2="473.30" y2="809.50" stroke="#1a1718" stroke-width="1.2"/>
<line x1="97.50" y1="948.50" x2="133.50" y2="948.50" stroke="#1a1718" stroke-width="1.2"/>
<line x1="115.50" y1="937.30" x2="115.50" y2="948.80" stroke="#1a1718" stroke-width="1.2"/>
<line x1="104.50" y1="937.50" x2="126.50" y2="937.50" stroke="#1a1718" stroke-width="1.2"/>
<line x1="115.50" y1="948.80" x2="115.50" y2="961.20" stroke="#1a1718" stroke-width="1.2"/>
<line x1="104.50" y1="961.50" x2="126.50" y2="961.50" stroke="#1a1718" stroke-width="1.2"/>
<line x1="160.20" y1="982.50" x2="205.00" y2="982.50" stroke="#1a1718" stroke-width="1.2"/>
<line x1="182.50" y1="975.80" x2="182.50" y2="982.20" stroke="#1a1718" stroke-width="1.2"/>
<line x1="172.30" y1="975.50" x2="192.90" y2="975.50" stroke="#1a1718" stroke-width="1.2"/>
<line x1="182.50" y1="982.20" x2="182.50" y2="987.80" stroke="#1a1718" stroke-width="1.2"/>
<line x1="172.30" y1="987.50" x2="192.90" y2="987.50" stroke="#1a1718" stroke-width="1.2"/>
<line x1="350.30" y1="957.50" x2="391.30" y2="957.50" stroke="#1a1718" stroke-width="1.2"/>
<line x1="370.50" y1="957.80" x2="370.50" y2="1007.00" stroke="#1a1718" stroke-width="1.2"/>
<line x1="360.50" y1="1007.50" x2="381.10" y2="1007.50" stroke="#1a1718" stroke-width="1.2"/>
<line x1="417.50" y1="988.50" x2="457.90" y2="988.50" stroke="#1a1718" stroke-width="1.2"/>
<line x1="437.50" y1="979.10" x2="437.50" y2="988.60" stroke="#1a1718" stroke-width="1.2"/>
<line x1="427.10" y1="979.50" x2="448.30" y2="979.50" stroke="#1a1718" stroke-width="1.2"/>
<line x1="437.50" y1="988.60" x2="437.50" y2="997.10" stroke="#1a1718" stroke-width="1.2"/>
<line x1="427.10" y1="997.50" x2="448.30" y2="997.50" stroke="#1a1718" stroke-width="1.2"/>
<line x1="97.80" y1="1128.50" x2="133.00" y2="1128.50" stroke="#1a1718" stroke-width="1.2"/>
<line x1="115.50" y1="1118.50" x2="115.50" y2="1128.00" stroke="#1a1718" stroke-width="1.2"/>
<line x1="104.90" y1="1118.50" x2="125.90" y2="1118.50" stroke="#1a1718" stroke-width="1.2"/>
<line x1="115.50" y1="1128.00" x2="115.50" y2="1137.20" stroke="#1a1718" stroke-width="1.2"/>
<line x1="104.90" y1="1137.50" x2="125.90" y2="1137.50" stroke="#1a1718" stroke-width="1.2"/>
<line x1="161.40" y1="1165.50" x2="203.80" y2="1165.50" stroke="#1a1718" stroke-width="1.2"/>
<line x1="182.50" y1="1149.20" x2="182.50" y2="1165.90" stroke="#1a1718" stroke-width="1.2"/>
<line x1="172.50" y1="1149.50" x2="192.70" y2="1149.50" stroke="#1a1718" stroke-width="1.2"/>
<line x1="182.50" y1="1165.90" x2="182.50" y2="1182.60" stroke="#1a1718" stroke-width="1.2"/>
<line x1="172.50" y1="1182.50" x2="192.70" y2="1182.50" stroke="#1a1718" stroke-width="1.2"/>
<line x1="351.90" y1="1149.50" x2="389.10" y2="1149.50" stroke="#1a1718" stroke-width="1.2"/>
<line x1="370.50" y1="1125.40" x2="370.50" y2="1149.20" stroke="#1a1718" stroke-width="1.2"/>
<line x1="358.30" y1="1125.50" x2="382.70" y2="1125.50" stroke="#1a1718" stroke-width="1.2"/>
<line x1="370.50" y1="1149.20" x2="370.50" y2="1173.60" stroke="#1a1718" stroke-width="1.2"/>
<line x1="358.30" y1="1173.50" x2="382.70" y2="1173.50" stroke="#1a1718" stroke-width="1.2"/>
<line x1="413.40" y1="1175.50" x2="461.40" y2="1175.50" stroke="#1a1718" stroke-width="1.2"/>
<rect x="0.5" y="0.5" width="506" height="1279" fill="none" stroke="#000" stroke-width="1.2"/>
</svg>
</body></html>
